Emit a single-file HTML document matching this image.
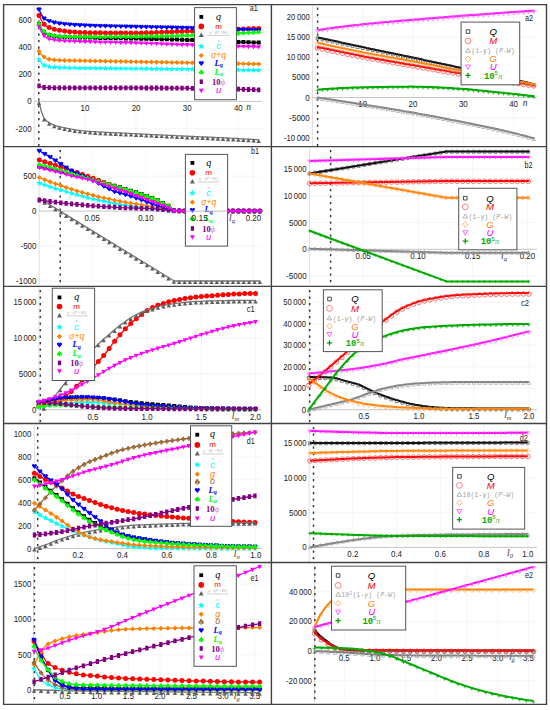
<!DOCTYPE html>
<html><head><meta charset="utf-8"><title>figure</title>
<style>
html,body{margin:0;padding:0;background:#fff;}
body{width:550px;height:710px;overflow:hidden;}
svg{display:block;}
.t{font-family:"Liberation Sans", sans-serif;font-size:8.6px;fill:#222;}
.li{font-family:"Liberation Serif", serif;font-style:italic;text-anchor:middle;}
.ls{font-family:"Liberation Sans", sans-serif;font-style:italic;text-anchor:middle;font-size:9.6px;}
</style></head><body>
<svg width="550" height="710" viewBox="0 0 550 710">
<rect width="550" height="710" fill="#fff"/>
<path d="M34.3 19.8H262M34.3 47H262M34.3 74.2H262M34.3 128.6H262M85 5.5V146M136.1 5.5V146M187.2 5.5V146M238.3 5.5V146" stroke="#f2f2f2" stroke-width="0.8" fill="none"/>
<path d="M34.3 5.5V146" stroke="#d8d8d8" stroke-width="0.8" fill="none"/>
<path d="M34.3 101.4H262" stroke="#c0c0c0" stroke-width="0.9" fill="none"/>
<path d="M38.8 7.5V146" stroke="#3a3a3a" stroke-width="1.5" stroke-dasharray="2.3 4.2" fill="none"/>
<text x="31.6" y="22.8" text-anchor="end" class="t" textLength="13.2" lengthAdjust="spacingAndGlyphs">600</text>
<text x="31.6" y="50" text-anchor="end" class="t" textLength="13.2" lengthAdjust="spacingAndGlyphs">400</text>
<text x="31.6" y="77.2" text-anchor="end" class="t" textLength="13.2" lengthAdjust="spacingAndGlyphs">200</text>
<text x="31.6" y="104.4" text-anchor="end" class="t" textLength="4.4" lengthAdjust="spacingAndGlyphs">0</text>
<text x="31.6" y="131.6" text-anchor="end" class="t" textLength="16.0" lengthAdjust="spacingAndGlyphs">-200</text>
<text x="85" y="111" text-anchor="middle" class="t" textLength="8.8" lengthAdjust="spacingAndGlyphs">10</text>
<text x="136.1" y="111" text-anchor="middle" class="t" textLength="8.8" lengthAdjust="spacingAndGlyphs">20</text>
<text x="187.2" y="111" text-anchor="middle" class="t" textLength="8.8" lengthAdjust="spacingAndGlyphs">30</text>
<text x="238.3" y="111" text-anchor="middle" class="t" textLength="8.8" lengthAdjust="spacingAndGlyphs">40</text>
<text x="248.7" y="110.4" text-anchor="middle" fill="#333" font-size="9.5" font-family='"Liberation Serif", serif' font-style="italic">n</text>
<path d="M38.9 23.9L41.4 28.7L43.9 32L46.3 33.9L48.8 35L51.3 35.7L53.8 36.2L56.2 36.6L58.7 36.8L61.2 36.9L63.7 37L66.2 37.1L68.6 37.2L71.1 37.2L73.6 37.3L76.1 37.3L78.5 37.4L81 37.4L83.5 37.5L86 37.5L88.4 37.6L90.9 37.6L93.4 37.7L95.9 37.8L98.4 37.8L100.8 37.9L103.3 37.9L105.8 38L108.3 38L110.7 38.1L113.2 38.1L115.7 38.2L118.2 38.2L120.6 38.3L123.1 38.3L125.6 38.4L128.1 38.4L130.6 38.5L133 38.5L135.5 38.6L138 38.7L140.5 38.7L142.9 38.8L145.4 38.8L147.9 38.9L150.4 38.9L152.8 39L155.3 39L157.8 39.1L160.3 39.2L162.8 39.2L165.2 39.3L167.7 39.3L170.2 39.4L172.7 39.5L175.1 39.5L177.6 39.6L180.1 39.7L182.6 39.7L185 39.8L187.5 39.9L190 40L192.5 40.1L195 40.2L197.4 40.3L199.9 40.4L202.4 40.5L204.9 40.6L207.3 40.7L209.8 40.8L212.3 40.9L214.8 41L217.2 41.1L219.7 41.2L222.2 41.4L224.7 41.5L227.2 41.6L229.6 41.7L232.1 41.8L234.6 41.8L237.1 41.9L239.5 42L242 42.1L244.5 42.2L247 42.3L249.4 42.3L251.9 42.4L254.4 42.5L256.9 42.6L259.3 42.6" stroke="#000000" stroke-width="1.3" fill="none" stroke-linejoin="round"/>
<path d="M37 22.1h4v4h-4zM42.1 30.2h4v4h-4zM47.2 33.1h4v4h-4zM52.3 34.3h4v4h-4zM57.5 34.8h4v4h-4zM62.6 35h4v4h-4zM67.7 35.2h4v4h-4zM72.8 35.3h4v4h-4zM77.9 35.4h4v4h-4zM83 35.5h4v4h-4zM88.1 35.6h4v4h-4zM93.2 35.7h4v4h-4zM98.3 35.9h4v4h-4zM103.4 36h4v4h-4zM108.6 36.1h4v4h-4zM113.7 36.2h4v4h-4zM118.8 36.3h4v4h-4zM123.9 36.4h4v4h-4zM129 36.5h4v4h-4zM134.1 36.6h4v4h-4zM139.2 36.7h4v4h-4zM144.3 36.8h4v4h-4zM149.4 37h4v4h-4zM154.5 37.1h4v4h-4zM159.7 37.2h4v4h-4zM164.8 37.3h4v4h-4zM169.9 37.4h4v4h-4zM175 37.6h4v4h-4zM180.1 37.7h4v4h-4zM185.2 37.9h4v4h-4zM190.3 38.1h4v4h-4zM195.4 38.3h4v4h-4zM200.5 38.5h4v4h-4zM205.6 38.7h4v4h-4zM210.8 38.9h4v4h-4zM215.9 39.2h4v4h-4zM221 39.4h4v4h-4zM226.1 39.6h4v4h-4zM231.2 39.8h4v4h-4zM236.3 40h4v4h-4zM241.4 40.1h4v4h-4zM246.5 40.3h4v4h-4zM251.6 40.5h4v4h-4zM256.7 40.6h4v4h-4z" fill="#000000" opacity="1.0"/>
<path d="M38.9 15.3L41.4 20.5L43.9 24.1L46.3 26.1L48.8 27.4L51.3 28.3L53.8 29.1L56.2 29.8L58.7 30.2L61.2 30.6L63.7 30.9L66.2 31.3L68.6 31.6L71.1 31.8L73.6 32L76.1 32.2L78.5 32.4L81 32.5L83.5 32.6L86 32.6L88.4 32.7L90.9 32.7L93.4 32.7L95.9 32.8L98.4 32.8L100.8 32.8L103.3 32.8L105.8 32.9L108.3 32.9L110.7 32.9L113.2 32.9L115.7 32.9L118.2 33L120.6 33L123.1 33L125.6 33L128.1 33L130.6 33L133 33L135.5 33L138 33L140.5 32.9L142.9 32.9L145.4 32.9L147.9 32.8L150.4 32.7L152.8 32.6L155.3 32.5L157.8 32.5L160.3 32.4L162.8 32.3L165.2 32.1L167.7 32L170.2 31.9L172.7 31.8L175.1 31.7L177.6 31.6L180.1 31.5L182.6 31.4L185 31.3L187.5 31.2L190 31.1L192.5 31L195 30.9L197.4 30.8L199.9 30.7L202.4 30.6L204.9 30.5L207.3 30.4L209.8 30.3L212.3 30.2L214.8 30.1L217.2 30L219.7 29.9L222.2 29.8L224.7 29.7L227.2 29.6L229.6 29.5L232.1 29.4L234.6 29.3L237.1 29.2L239.5 29.1L242 29L244.5 28.9L247 28.8L249.4 28.7L251.9 28.6L254.4 28.6L256.9 28.5L259.3 28.4" stroke="#ff0000" stroke-width="1.3" fill="none" stroke-linejoin="round"/>
<path d="M36.5 15.5a2.5 2.5 0 1 0 5 0a2.5 2.5 0 1 0 -5 0zM41.6 24.3a2.5 2.5 0 1 0 5 0a2.5 2.5 0 1 0 -5 0zM46.7 27.5a2.5 2.5 0 1 0 5 0a2.5 2.5 0 1 0 -5 0zM51.8 29.3a2.5 2.5 0 1 0 5 0a2.5 2.5 0 1 0 -5 0zM57 30.3a2.5 2.5 0 1 0 5 0a2.5 2.5 0 1 0 -5 0zM62.1 31.1a2.5 2.5 0 1 0 5 0a2.5 2.5 0 1 0 -5 0zM67.2 31.7a2.5 2.5 0 1 0 5 0a2.5 2.5 0 1 0 -5 0zM72.3 32.1a2.5 2.5 0 1 0 5 0a2.5 2.5 0 1 0 -5 0zM77.4 32.5a2.5 2.5 0 1 0 5 0a2.5 2.5 0 1 0 -5 0zM82.5 32.6a2.5 2.5 0 1 0 5 0a2.5 2.5 0 1 0 -5 0zM87.6 32.7a2.5 2.5 0 1 0 5 0a2.5 2.5 0 1 0 -5 0zM92.7 32.7a2.5 2.5 0 1 0 5 0a2.5 2.5 0 1 0 -5 0zM97.8 32.8a2.5 2.5 0 1 0 5 0a2.5 2.5 0 1 0 -5 0zM102.9 32.9a2.5 2.5 0 1 0 5 0a2.5 2.5 0 1 0 -5 0zM108.1 32.9a2.5 2.5 0 1 0 5 0a2.5 2.5 0 1 0 -5 0zM113.2 32.9a2.5 2.5 0 1 0 5 0a2.5 2.5 0 1 0 -5 0zM118.3 33a2.5 2.5 0 1 0 5 0a2.5 2.5 0 1 0 -5 0zM123.4 33a2.5 2.5 0 1 0 5 0a2.5 2.5 0 1 0 -5 0zM128.5 33a2.5 2.5 0 1 0 5 0a2.5 2.5 0 1 0 -5 0zM133.6 33a2.5 2.5 0 1 0 5 0a2.5 2.5 0 1 0 -5 0zM138.7 32.9a2.5 2.5 0 1 0 5 0a2.5 2.5 0 1 0 -5 0zM143.8 32.8a2.5 2.5 0 1 0 5 0a2.5 2.5 0 1 0 -5 0zM148.9 32.7a2.5 2.5 0 1 0 5 0a2.5 2.5 0 1 0 -5 0zM154 32.5a2.5 2.5 0 1 0 5 0a2.5 2.5 0 1 0 -5 0zM159.2 32.3a2.5 2.5 0 1 0 5 0a2.5 2.5 0 1 0 -5 0zM164.3 32.1a2.5 2.5 0 1 0 5 0a2.5 2.5 0 1 0 -5 0zM169.4 31.9a2.5 2.5 0 1 0 5 0a2.5 2.5 0 1 0 -5 0zM174.5 31.6a2.5 2.5 0 1 0 5 0a2.5 2.5 0 1 0 -5 0zM179.6 31.4a2.5 2.5 0 1 0 5 0a2.5 2.5 0 1 0 -5 0zM184.7 31.2a2.5 2.5 0 1 0 5 0a2.5 2.5 0 1 0 -5 0zM189.8 31.1a2.5 2.5 0 1 0 5 0a2.5 2.5 0 1 0 -5 0zM194.9 30.9a2.5 2.5 0 1 0 5 0a2.5 2.5 0 1 0 -5 0zM200 30.6a2.5 2.5 0 1 0 5 0a2.5 2.5 0 1 0 -5 0zM205.1 30.4a2.5 2.5 0 1 0 5 0a2.5 2.5 0 1 0 -5 0zM210.3 30.2a2.5 2.5 0 1 0 5 0a2.5 2.5 0 1 0 -5 0zM215.4 30a2.5 2.5 0 1 0 5 0a2.5 2.5 0 1 0 -5 0zM220.5 29.8a2.5 2.5 0 1 0 5 0a2.5 2.5 0 1 0 -5 0zM225.6 29.6a2.5 2.5 0 1 0 5 0a2.5 2.5 0 1 0 -5 0zM230.7 29.4a2.5 2.5 0 1 0 5 0a2.5 2.5 0 1 0 -5 0zM235.8 29.2a2.5 2.5 0 1 0 5 0a2.5 2.5 0 1 0 -5 0zM240.9 29a2.5 2.5 0 1 0 5 0a2.5 2.5 0 1 0 -5 0zM246 28.8a2.5 2.5 0 1 0 5 0a2.5 2.5 0 1 0 -5 0zM251.1 28.6a2.5 2.5 0 1 0 5 0a2.5 2.5 0 1 0 -5 0zM256.2 28.4a2.5 2.5 0 1 0 5 0a2.5 2.5 0 1 0 -5 0z" fill="#ff0000" opacity="1.0"/>
<path d="M38.9 101.4L41.4 111.5L43.9 117.9L46.3 120.7L48.8 122.4L51.3 123.8L53.8 124.9L56.2 125.8L58.7 126.5L61.2 127.1L63.7 127.7L66.2 128.2L68.6 128.7L71.1 129.2L73.6 129.6L76.1 130L78.5 130.3L81 130.6L83.5 130.9L86 131.1L88.4 131.3L90.9 131.5L93.4 131.6L95.9 131.8L98.4 131.9L100.8 132.1L103.3 132.2L105.8 132.3L108.3 132.5L110.7 132.6L113.2 132.7L115.7 132.8L118.2 132.9L120.6 133L123.1 133.1L125.6 133.2L128.1 133.3L130.6 133.5L133 133.6L135.5 133.7L138 133.8L140.5 134L142.9 134.1L145.4 134.2L147.9 134.3L150.4 134.5L152.8 134.6L155.3 134.7L157.8 134.8L160.3 134.9L162.8 135.1L165.2 135.2L167.7 135.3L170.2 135.4L172.7 135.5L175.1 135.6L177.6 135.8L180.1 135.9L182.6 136L185 136.1L187.5 136.2L190 136.4L192.5 136.5L195 136.6L197.4 136.7L199.9 136.8L202.4 136.9L204.9 137L207.3 137.1L209.8 137.2L212.3 137.4L214.8 137.5L217.2 137.6L219.7 137.7L222.2 137.8L224.7 137.9L227.2 138L229.6 138.2L232.1 138.3L234.6 138.4L237.1 138.5L239.5 138.7L242 138.8L244.5 138.9L247 139.1L249.4 139.2L251.9 139.3L254.4 139.5L256.9 139.6L259.3 139.8" stroke="#747474" stroke-width="1.3" fill="none" stroke-linejoin="round"/>
<path d="M39 101L41.2 105L36.8 105zM44.1 117.4L46.3 121.4L41.9 121.4zM49.2 121.8L51.4 125.8L47 125.8zM54.3 124.3L56.5 128.2L52.1 128.2zM59.5 125.9L61.7 129.8L57.2 129.8zM64.6 127.1L66.8 131L62.4 131zM69.7 128.1L71.9 132.1L67.5 132.1zM74.8 129L77 132.9L72.6 132.9zM79.9 129.7L82.1 133.6L77.7 133.6zM85 130.2L87.2 134.1L82.8 134.1zM90.1 130.6L92.3 134.5L87.9 134.5zM95.2 130.9L97.4 134.9L93 134.9zM100.3 131.2L102.5 135.2L98.1 135.2zM105.4 131.5L107.6 135.5L103.2 135.5zM110.6 131.7L112.8 135.7L108.4 135.7zM115.7 132L117.9 135.9L113.5 135.9zM120.8 132.2L123 136.2L118.6 136.2zM125.9 132.4L128.1 136.4L123.7 136.4zM131 132.7L133.2 136.6L128.8 136.6zM136.1 132.9L138.3 136.9L133.9 136.9zM141.2 133.2L143.4 137.1L139 137.1zM146.3 133.4L148.5 137.4L144.1 137.4zM151.4 133.7L153.6 137.6L149.2 137.6zM156.5 133.9L158.7 137.9L154.3 137.9zM161.7 134.2L163.8 138.1L159.5 138.1zM166.8 134.4L169 138.4L164.6 138.4zM171.9 134.7L174.1 138.6L169.7 138.6zM177 134.9L179.2 138.9L174.8 138.9zM182.1 135.2L184.3 139.1L179.9 139.1zM187.2 135.4L189.4 139.4L185 139.4zM192.3 135.6L194.5 139.6L190.1 139.6zM197.4 135.9L199.6 139.8L195.2 139.8zM202.5 136.1L204.7 140.1L200.3 140.1zM207.6 136.3L209.8 140.3L205.4 140.3zM212.8 136.6L215 140.5L210.6 140.5zM217.9 136.8L220.1 140.7L215.7 140.7zM223 137L225.2 141L220.8 141zM228.1 137.3L230.3 141.2L225.9 141.2zM233.2 137.5L235.4 141.5L231 141.5zM238.3 137.8L240.5 141.7L236.1 141.7zM243.4 138L245.6 142L241.2 142zM248.5 138.3L250.7 142.3L246.3 142.3zM253.6 138.6L255.8 142.6L251.4 142.6zM258.7 138.9L260.9 142.9L256.5 142.9z" fill="#5e5e5e" opacity="1.0"/>
<path d="M38.9 59.2L41.4 63L43.9 65.3L46.3 66.2L48.8 66.7L51.3 67L53.8 67.2L56.2 67.4L58.7 67.5L61.2 67.6L63.7 67.7L66.2 67.8L68.6 67.8L71.1 67.9L73.6 67.9L76.1 68L78.5 68L81 68L83.5 68.1L86 68.1L88.4 68.1L90.9 68.2L93.4 68.2L95.9 68.2L98.4 68.3L100.8 68.3L103.3 68.3L105.8 68.4L108.3 68.4L110.7 68.4L113.2 68.5L115.7 68.5L118.2 68.5L120.6 68.5L123.1 68.6L125.6 68.6L128.1 68.6L130.6 68.6L133 68.7L135.5 68.7L138 68.7L140.5 68.7L142.9 68.7L145.4 68.8L147.9 68.8L150.4 68.8L152.8 68.8L155.3 68.9L157.8 68.9L160.3 68.9L162.8 68.9L165.2 69L167.7 69L170.2 69L172.7 69L175.1 69.1L177.6 69.1L180.1 69.1L182.6 69.1L185 69.2L187.5 69.2L190 69.2L192.5 69.3L195 69.3L197.4 69.3L199.9 69.4L202.4 69.4L204.9 69.4L207.3 69.5L209.8 69.5L212.3 69.5L214.8 69.6L217.2 69.6L219.7 69.6L222.2 69.7L224.7 69.7L227.2 69.8L229.6 69.8L232.1 69.8L234.6 69.9L237.1 69.9L239.5 69.9L242 70L244.5 70L247 70.1L249.4 70.1L251.9 70.1L254.4 70.2L256.9 70.2L259.3 70.3" stroke="#00ffff" stroke-width="1.3" fill="none" stroke-linejoin="round"/>
<path d="M39 56.3L39.8 58.3L42 58.4L40.3 59.8L40.8 61.9L39 60.8L37.2 61.9L37.7 59.8L36 58.4L38.2 58.3zM44.1 62.3L44.9 64.3L47.1 64.5L45.5 65.9L46 68L44.1 66.9L42.3 68L42.8 65.9L41.1 64.5L43.3 64.3zM49.2 63.6L50.1 65.6L52.2 65.8L50.6 67.2L51.1 69.3L49.2 68.2L47.4 69.3L47.9 67.2L46.3 65.8L48.4 65.6zM54.3 64.2L55.2 66.1L57.3 66.3L55.7 67.7L56.2 69.8L54.3 68.7L52.5 69.8L53 67.7L51.4 66.3L53.5 66.1zM59.5 64.4L60.3 66.4L62.4 66.6L60.8 68L61.3 70.1L59.5 69L57.6 70.1L58.1 68L56.5 66.6L58.6 66.4zM64.6 64.6L65.4 66.6L67.5 66.8L65.9 68.2L66.4 70.2L64.6 69.1L62.7 70.2L63.2 68.2L61.6 66.8L63.7 66.6zM69.7 64.7L70.5 66.7L72.6 66.9L71 68.3L71.5 70.4L69.7 69.2L67.8 70.4L68.3 68.3L66.7 66.9L68.8 66.7zM74.8 64.8L75.6 66.8L77.8 67L76.1 68.4L76.6 70.5L74.8 69.3L72.9 70.5L73.4 68.4L71.8 67L74 66.8zM79.9 64.9L80.7 66.9L82.9 67.1L81.2 68.5L81.7 70.5L79.9 69.4L78.1 70.5L78.6 68.5L76.9 67.1L79.1 66.9zM85 65L85.8 67L88 67.1L86.3 68.5L86.8 70.6L85 69.5L83.2 70.6L83.7 68.5L82 67.1L84.2 67zM90.1 65L90.9 67L93.1 67.2L91.4 68.6L91.9 70.7L90.1 69.6L88.3 70.7L88.8 68.6L87.1 67.2L89.3 67zM95.2 65.1L96 67.1L98.2 67.3L96.6 68.7L97.1 70.8L95.2 69.6L93.4 70.8L93.9 68.7L92.2 67.3L94.4 67.1zM100.3 65.2L101.2 67.2L103.3 67.3L101.7 68.7L102.2 70.8L100.3 69.7L98.5 70.8L99 68.7L97.4 67.3L99.5 67.2zM105.4 65.2L106.3 67.2L108.4 67.4L106.8 68.8L107.3 70.9L105.4 69.8L103.6 70.9L104.1 68.8L102.5 67.4L104.6 67.2zM110.6 65.3L111.4 67.3L113.5 67.5L111.9 68.9L112.4 71L110.6 69.8L108.7 71L109.2 68.9L107.6 67.5L109.7 67.3zM115.7 65.4L116.5 67.3L118.6 67.5L117 68.9L117.5 71L115.7 69.9L113.8 71L114.3 68.9L112.7 67.5L114.8 67.3zM120.8 65.4L121.6 67.4L123.7 67.6L122.1 69L122.6 71.1L120.8 69.9L118.9 71.1L119.4 69L117.8 67.6L119.9 67.4zM125.9 65.5L126.7 67.4L128.9 67.6L127.2 69L127.7 71.1L125.9 70L124 71.1L124.5 69L122.9 67.6L125.1 67.4zM131 65.5L131.8 67.5L134 67.7L132.3 69.1L132.8 71.2L131 70L129.2 71.2L129.7 69.1L128 67.7L130.2 67.5zM136.1 65.6L136.9 67.5L139.1 67.7L137.4 69.1L137.9 71.2L136.1 70.1L134.3 71.2L134.8 69.1L133.1 67.7L135.3 67.5zM141.2 65.6L142 67.6L144.2 67.8L142.5 69.2L143 71.3L141.2 70.1L139.4 71.3L139.9 69.2L138.2 67.8L140.4 67.6zM146.3 65.6L147.1 67.6L149.3 67.8L147.7 69.2L148.2 71.3L146.3 70.2L144.5 71.3L145 69.2L143.3 67.8L145.5 67.6zM151.4 65.7L152.3 67.7L154.4 67.9L152.8 69.3L153.3 71.3L151.4 70.2L149.6 71.3L150.1 69.3L148.5 67.9L150.6 67.7zM156.5 65.7L157.4 67.7L159.5 67.9L157.9 69.3L158.4 71.4L156.5 70.3L154.7 71.4L155.2 69.3L153.6 67.9L155.7 67.7zM161.7 65.8L162.5 67.8L164.6 68L163 69.4L163.5 71.4L161.7 70.3L159.8 71.4L160.3 69.4L158.7 68L160.8 67.8zM166.8 65.8L167.6 67.8L169.7 68L168.1 69.4L168.6 71.5L166.8 70.4L164.9 71.5L165.4 69.4L163.8 68L165.9 67.8zM171.9 65.9L172.7 67.9L174.8 68.1L173.2 69.5L173.7 71.6L171.9 70.4L170 71.6L170.5 69.5L168.9 68.1L171 67.9zM177 66L177.8 67.9L180 68.1L178.3 69.5L178.8 71.6L177 70.5L175.1 71.6L175.6 69.5L174 68.1L176.2 67.9zM182.1 66L182.9 68L185.1 68.2L183.4 69.6L183.9 71.7L182.1 70.5L180.3 71.7L180.8 69.6L179.1 68.2L181.3 68zM187.2 66.1L188 68.1L190.2 68.2L188.5 69.6L189 71.7L187.2 70.6L185.4 71.7L185.9 69.6L184.2 68.2L186.4 68.1zM192.3 66.1L193.1 68.1L195.3 68.3L193.6 69.7L194.1 71.8L192.3 70.7L190.5 71.8L191 69.7L189.3 68.3L191.5 68.1zM197.4 66.2L198.2 68.2L200.4 68.4L198.8 69.8L199.3 71.9L197.4 70.7L195.6 71.9L196.1 69.8L194.4 68.4L196.6 68.2zM202.5 66.3L203.4 68.3L205.5 68.4L203.9 69.8L204.4 71.9L202.5 70.8L200.7 71.9L201.2 69.8L199.6 68.4L201.7 68.3zM207.6 66.4L208.5 68.3L210.6 68.5L209 69.9L209.5 72L207.6 70.9L205.8 72L206.3 69.9L204.7 68.5L206.8 68.3zM212.8 66.4L213.6 68.4L215.7 68.6L214.1 70L214.6 72.1L212.8 71L210.9 72.1L211.4 70L209.8 68.6L211.9 68.4zM217.9 66.5L218.7 68.5L220.8 68.7L219.2 70.1L219.7 72.2L217.9 71L216 72.2L216.5 70.1L214.9 68.7L217 68.5zM223 66.6L223.8 68.6L225.9 68.7L224.3 70.1L224.8 72.2L223 71.1L221.1 72.2L221.6 70.1L220 68.7L222.1 68.6zM228.1 66.6L228.9 68.6L231.1 68.8L229.4 70.2L229.9 72.3L228.1 71.2L226.2 72.3L226.7 70.2L225.1 68.8L227.3 68.6zM233.2 66.7L234 68.7L236.2 68.9L234.5 70.3L235 72.4L233.2 71.3L231.4 72.4L231.9 70.3L230.2 68.9L232.4 68.7zM238.3 66.8L239.1 68.8L241.3 69L239.6 70.4L240.1 72.5L238.3 71.3L236.5 72.5L237 70.4L235.3 69L237.5 68.8zM243.4 66.9L244.2 68.9L246.4 69L244.7 70.4L245.2 72.5L243.4 71.4L241.6 72.5L242.1 70.4L240.4 69L242.6 68.9zM248.5 67L249.3 68.9L251.5 69.1L249.9 70.5L250.4 72.6L248.5 71.5L246.7 72.6L247.2 70.5L245.5 69.1L247.7 68.9zM253.6 67L254.5 69L256.6 69.2L255 70.6L255.5 72.7L253.6 71.6L251.8 72.7L252.3 70.6L250.7 69.2L252.8 69zM258.7 67.1L259.6 69.1L261.7 69.3L260.1 70.7L260.6 72.8L258.7 71.7L256.9 72.8L257.4 70.7L255.8 69.3L257.9 69.1z" fill="#00ffff" opacity="1.0"/>
<path d="M38.9 51.1L41.4 54.5L43.9 56.9L46.3 58.3L48.8 59.1L51.3 59.5L53.8 59.8L56.2 60L58.7 60.2L61.2 60.3L63.7 60.4L66.2 60.4L68.6 60.5L71.1 60.5L73.6 60.6L76.1 60.6L78.5 60.6L81 60.7L83.5 60.7L86 60.8L88.4 60.8L90.9 60.9L93.4 60.9L95.9 61L98.4 61L100.8 61.1L103.3 61.1L105.8 61.2L108.3 61.2L110.7 61.3L113.2 61.3L115.7 61.4L118.2 61.4L120.6 61.5L123.1 61.5L125.6 61.6L128.1 61.6L130.6 61.6L133 61.7L135.5 61.7L138 61.8L140.5 61.8L142.9 61.9L145.4 61.9L147.9 62L150.4 62L152.8 62.1L155.3 62.1L157.8 62.2L160.3 62.2L162.8 62.2L165.2 62.3L167.7 62.3L170.2 62.4L172.7 62.4L175.1 62.5L177.6 62.5L180.1 62.6L182.6 62.6L185 62.7L187.5 62.7L190 62.7L192.5 62.8L195 62.8L197.4 62.9L199.9 62.9L202.4 63L204.9 63L207.3 63.1L209.8 63.1L212.3 63.2L214.8 63.2L217.2 63.2L219.7 63.3L222.2 63.3L224.7 63.4L227.2 63.4L229.6 63.5L232.1 63.5L234.6 63.6L237.1 63.6L239.5 63.6L242 63.7L244.5 63.7L247 63.8L249.4 63.8L251.9 63.9L254.4 63.9L256.9 64L259.3 64" stroke="#ff8000" stroke-width="1.3" fill="none" stroke-linejoin="round"/>
<path d="M39 48.7L41.5 51.2L39 53.8L36.5 51.2zM44.1 54.5L46.6 57.1L44.1 59.6L41.6 57.1zM49.2 56.6L51.8 59.2L49.2 61.7L46.7 59.2zM54.3 57.3L56.9 59.9L54.3 62.4L51.8 59.9zM59.5 57.7L62 60.2L59.5 62.7L56.9 60.2zM64.6 57.8L67.1 60.4L64.6 62.9L62 60.4zM69.7 58L72.2 60.5L69.7 63L67.1 60.5zM74.8 58L77.3 60.6L74.8 63.1L72.2 60.6zM79.9 58.1L82.4 60.7L79.9 63.2L77.4 60.7zM85 58.2L87.5 60.8L85 63.3L82.5 60.8zM90.1 58.3L92.6 60.9L90.1 63.4L87.6 60.9zM95.2 58.4L97.8 61L95.2 63.5L92.7 61zM100.3 58.5L102.9 61.1L100.3 63.6L97.8 61.1zM105.4 58.6L108 61.2L105.4 63.7L102.9 61.2zM110.6 58.7L113.1 61.3L110.6 63.8L108 61.3zM115.7 58.8L118.2 61.4L115.7 63.9L113.1 61.4zM120.8 58.9L123.3 61.5L120.8 64L118.2 61.5zM125.9 59L128.4 61.6L125.9 64.1L123.3 61.6zM131 59.1L133.5 61.7L131 64.2L128.5 61.7zM136.1 59.2L138.6 61.8L136.1 64.3L133.6 61.8zM141.2 59.3L143.7 61.8L141.2 64.4L138.7 61.8zM146.3 59.4L148.8 61.9L146.3 64.5L143.8 61.9zM151.4 59.5L154 62L151.4 64.6L148.9 62zM156.5 59.6L159.1 62.1L156.5 64.7L154 62.1zM161.7 59.7L164.2 62.2L161.7 64.8L159.1 62.2zM166.8 59.8L169.3 62.3L166.8 64.8L164.2 62.3zM171.9 59.9L174.4 62.4L171.9 64.9L169.3 62.4zM177 60L179.5 62.5L177 65L174.5 62.5zM182.1 60.1L184.6 62.6L182.1 65.1L179.6 62.6zM187.2 60.2L189.7 62.7L187.2 65.2L184.7 62.7zM192.3 60.3L194.8 62.8L192.3 65.3L189.8 62.8zM197.4 60.4L200 62.9L197.4 65.4L194.9 62.9zM202.5 60.4L205.1 63L202.5 65.5L200 63zM207.6 60.5L210.2 63.1L207.6 65.6L205.1 63.1zM212.8 60.6L215.3 63.2L212.8 65.7L210.2 63.2zM217.9 60.7L220.4 63.3L217.9 65.8L215.3 63.3zM223 60.8L225.5 63.3L223 65.9L220.4 63.3zM228.1 60.9L230.6 63.4L228.1 66L225.6 63.4zM233.2 61L235.7 63.5L233.2 66.1L230.7 63.5zM238.3 61.1L240.8 63.6L238.3 66.2L235.8 63.6zM243.4 61.2L245.9 63.7L243.4 66.2L240.9 63.7zM248.5 61.3L251.1 63.8L248.5 66.3L246 63.8zM253.6 61.4L256.2 63.9L253.6 66.4L251.1 63.9zM258.7 61.5L261.3 64L258.7 66.5L256.2 64z" fill="#ff8000" opacity="1.0"/>
<path d="M38.9 9.2L41.4 14.6L43.9 18.1L46.3 19.8L48.8 20.8L51.3 21.6L53.8 22.3L56.2 22.8L58.7 23.2L61.2 23.5L63.7 23.8L66.2 24L68.6 24.3L71.1 24.5L73.6 24.6L76.1 24.8L78.5 25L81 25.1L83.5 25.2L86 25.3L88.4 25.4L90.9 25.5L93.4 25.6L95.9 25.7L98.4 25.8L100.8 25.8L103.3 25.9L105.8 26L108.3 26L110.7 26.1L113.2 26.1L115.7 26.2L118.2 26.2L120.6 26.3L123.1 26.4L125.6 26.4L128.1 26.5L130.6 26.5L133 26.6L135.5 26.6L138 26.7L140.5 26.7L142.9 26.8L145.4 26.9L147.9 26.9L150.4 27L152.8 27L155.3 27.1L157.8 27.1L160.3 27.2L162.8 27.2L165.2 27.3L167.7 27.3L170.2 27.4L172.7 27.4L175.1 27.5L177.6 27.5L180.1 27.6L182.6 27.6L185 27.7L187.5 27.8L190 27.8L192.5 27.9L195 28L197.4 28.1L199.9 28.2L202.4 28.2L204.9 28.3L207.3 28.4L209.8 28.5L212.3 28.6L214.8 28.7L217.2 28.8L219.7 28.8L222.2 28.9L224.7 29L227.2 29.1L229.6 29.2L232.1 29.3L234.6 29.3L237.1 29.4L239.5 29.5L242 29.5L244.5 29.6L247 29.7L249.4 29.7L251.9 29.8L254.4 29.9L256.9 29.9L259.3 30" stroke="#0000ff" stroke-width="1.3" fill="none" stroke-linejoin="round"/>
<path d="M39 12.1L36.6 9.2A1.2 1.2 0 0 1 39 8.2A1.2 1.2 0 0 1 41.4 9.2zM44.1 21L41.7 18.1A1.2 1.2 0 0 1 44.1 17.1A1.2 1.2 0 0 1 46.5 18.1zM49.2 23.6L46.8 20.7A1.2 1.2 0 0 1 49.2 19.8A1.2 1.2 0 0 1 51.6 20.7zM54.3 25L51.9 22.2A1.2 1.2 0 0 1 54.3 21.2A1.2 1.2 0 0 1 56.7 22.2zM59.5 25.9L57.1 23A1.2 1.2 0 0 1 59.5 22.1A1.2 1.2 0 0 1 61.9 23zM64.6 26.5L62.2 23.6A1.2 1.2 0 0 1 64.6 22.7A1.2 1.2 0 0 1 67 23.6zM69.7 27L67.3 24.1A1.2 1.2 0 0 1 69.7 23.1A1.2 1.2 0 0 1 72.1 24.1zM74.8 27.4L72.4 24.5A1.2 1.2 0 0 1 74.8 23.5A1.2 1.2 0 0 1 77.2 24.5zM79.9 27.7L77.5 24.8A1.2 1.2 0 0 1 79.9 23.8A1.2 1.2 0 0 1 82.3 24.8zM85 27.9L82.6 25A1.2 1.2 0 0 1 85 24.1A1.2 1.2 0 0 1 87.4 25zM90.1 28.1L87.7 25.2A1.2 1.2 0 0 1 90.1 24.3A1.2 1.2 0 0 1 92.5 25.2zM95.2 28.3L92.8 25.4A1.2 1.2 0 0 1 95.2 24.5A1.2 1.2 0 0 1 97.6 25.4zM100.3 28.5L97.9 25.6A1.2 1.2 0 0 1 100.3 24.6A1.2 1.2 0 0 1 102.7 25.6zM105.4 28.6L103 25.7A1.2 1.2 0 0 1 105.4 24.7A1.2 1.2 0 0 1 107.8 25.7zM110.6 28.7L108.2 25.8A1.2 1.2 0 0 1 110.6 24.9A1.2 1.2 0 0 1 113 25.8zM115.7 28.8L113.3 26A1.2 1.2 0 0 1 115.7 25A1.2 1.2 0 0 1 118.1 26zM120.8 28.9L118.4 26.1A1.2 1.2 0 0 1 120.8 25.1A1.2 1.2 0 0 1 123.2 26.1zM125.9 29.1L123.5 26.2A1.2 1.2 0 0 1 125.9 25.2A1.2 1.2 0 0 1 128.3 26.2zM131 29.2L128.6 26.3A1.2 1.2 0 0 1 131 25.3A1.2 1.2 0 0 1 133.4 26.3zM136.1 29.3L133.7 26.4A1.2 1.2 0 0 1 136.1 25.4A1.2 1.2 0 0 1 138.5 26.4zM141.2 29.4L138.8 26.5A1.2 1.2 0 0 1 141.2 25.6A1.2 1.2 0 0 1 143.6 26.5zM146.3 29.5L143.9 26.6A1.2 1.2 0 0 1 146.3 25.7A1.2 1.2 0 0 1 148.7 26.6zM151.4 29.6L149 26.7A1.2 1.2 0 0 1 151.4 25.8A1.2 1.2 0 0 1 153.8 26.7zM156.5 29.7L154.1 26.8A1.2 1.2 0 0 1 156.5 25.9A1.2 1.2 0 0 1 158.9 26.8zM161.7 29.8L159.2 26.9A1.2 1.2 0 0 1 161.7 26A1.2 1.2 0 0 1 164.1 26.9zM166.8 29.9L164.4 27A1.2 1.2 0 0 1 166.8 26.1A1.2 1.2 0 0 1 169.2 27zM171.9 30L169.5 27.2A1.2 1.2 0 0 1 171.9 26.2A1.2 1.2 0 0 1 174.3 27.2zM177 30.2L174.6 27.3A1.2 1.2 0 0 1 177 26.3A1.2 1.2 0 0 1 179.4 27.3zM182.1 30.3L179.7 27.4A1.2 1.2 0 0 1 182.1 26.4A1.2 1.2 0 0 1 184.5 27.4zM187.2 30.4L184.8 27.5A1.2 1.2 0 0 1 187.2 26.6A1.2 1.2 0 0 1 189.6 27.5zM192.3 30.6L189.9 27.7A1.2 1.2 0 0 1 192.3 26.7A1.2 1.2 0 0 1 194.7 27.7zM197.4 30.7L195 27.8A1.2 1.2 0 0 1 197.4 26.9A1.2 1.2 0 0 1 199.8 27.8zM202.5 30.9L200.1 28A1.2 1.2 0 0 1 202.5 27.1A1.2 1.2 0 0 1 204.9 28zM207.6 31.1L205.2 28.2A1.2 1.2 0 0 1 207.6 27.2A1.2 1.2 0 0 1 210 28.2zM212.8 31.2L210.4 28.4A1.2 1.2 0 0 1 212.8 27.4A1.2 1.2 0 0 1 215.2 28.4zM217.9 31.4L215.5 28.5A1.2 1.2 0 0 1 217.9 27.6A1.2 1.2 0 0 1 220.3 28.5zM223 31.6L220.6 28.7A1.2 1.2 0 0 1 223 27.8A1.2 1.2 0 0 1 225.4 28.7zM228.1 31.8L225.7 28.9A1.2 1.2 0 0 1 228.1 27.9A1.2 1.2 0 0 1 230.5 28.9zM233.2 31.9L230.8 29A1.2 1.2 0 0 1 233.2 28.1A1.2 1.2 0 0 1 235.6 29zM238.3 32.1L235.9 29.2A1.2 1.2 0 0 1 238.3 28.2A1.2 1.2 0 0 1 240.7 29.2zM243.4 32.2L241 29.3A1.2 1.2 0 0 1 243.4 28.4A1.2 1.2 0 0 1 245.8 29.3zM248.5 32.4L246.1 29.5A1.2 1.2 0 0 1 248.5 28.5A1.2 1.2 0 0 1 250.9 29.5zM253.6 32.5L251.2 29.6A1.2 1.2 0 0 1 253.6 28.7A1.2 1.2 0 0 1 256 29.6zM258.7 32.6L256.3 29.7A1.2 1.2 0 0 1 258.7 28.8A1.2 1.2 0 0 1 261.1 29.7z" fill="#0000ff" opacity="1.0"/>
<path d="M38.9 23.5L41.4 28.1L43.9 31.3L46.3 33.2L48.8 34.5L51.3 35.1L53.8 35.7L56.2 36L58.7 36.2L61.2 36.3L63.7 36.4L66.2 36.5L68.6 36.5L71.1 36.6L73.6 36.6L76.1 36.6L78.5 36.6L81 36.7L83.5 36.7L86 36.7L88.4 36.7L90.9 36.7L93.4 36.7L95.9 36.6L98.4 36.6L100.8 36.6L103.3 36.6L105.8 36.6L108.3 36.6L110.7 36.6L113.2 36.6L115.7 36.5L118.2 36.5L120.6 36.5L123.1 36.5L125.6 36.5L128.1 36.4L130.6 36.4L133 36.4L135.5 36.4L138 36.4L140.5 36.3L142.9 36.3L145.4 36.3L147.9 36.2L150.4 36.2L152.8 36.1L155.3 36.1L157.8 36.1L160.3 36L162.8 36L165.2 35.9L167.7 35.8L170.2 35.8L172.7 35.7L175.1 35.7L177.6 35.6L180.1 35.5L182.6 35.5L185 35.4L187.5 35.3L190 35.3L192.5 35.2L195 35.1L197.4 35L199.9 34.9L202.4 34.8L204.9 34.7L207.3 34.6L209.8 34.5L212.3 34.4L214.8 34.3L217.2 34.2L219.7 34.1L222.2 34L224.7 33.9L227.2 33.7L229.6 33.6L232.1 33.5L234.6 33.4L237.1 33.3L239.5 33.1L242 33L244.5 32.9L247 32.7L249.4 32.6L251.9 32.5L254.4 32.3L256.9 32.2L259.3 32" stroke="#00ff00" stroke-width="1.3" fill="none" stroke-linejoin="round"/>
<path d="M39 20.9L41.4 23.8A1.2 1.2 0 0 1 39.2 24.8L39.9 26.2L38.2 26.2L38.8 24.8A1.2 1.2 0 0 1 36.6 23.8zM44.1 28.8L46.5 31.7A1.2 1.2 0 0 1 44.4 32.6L45 34.1L43.3 34.1L43.9 32.6A1.2 1.2 0 0 1 41.7 31.7zM49.2 31.8L51.6 34.7A1.2 1.2 0 0 1 49.5 35.7L50.1 37.1L48.4 37.1L49 35.7A1.2 1.2 0 0 1 46.8 34.7zM54.3 33L56.7 35.9A1.2 1.2 0 0 1 54.6 36.8L55.2 38.3L53.5 38.3L54.1 36.8A1.2 1.2 0 0 1 51.9 35.9zM59.5 33.5L61.9 36.4A1.2 1.2 0 0 1 59.7 37.4L60.3 38.8L58.6 38.8L59.2 37.4A1.2 1.2 0 0 1 57.1 36.4zM64.6 33.7L67 36.5A1.2 1.2 0 0 1 64.8 37.5L65.4 38.9L63.7 38.9L64.3 37.5A1.2 1.2 0 0 1 62.2 36.5zM69.7 33.8L72.1 36.7A1.2 1.2 0 0 1 69.9 37.6L70.5 39.1L68.8 39.1L69.4 37.6A1.2 1.2 0 0 1 67.3 36.7zM74.8 33.9L77.2 36.7A1.2 1.2 0 0 1 75 37.7L75.6 39.1L73.9 39.1L74.5 37.7A1.2 1.2 0 0 1 72.4 36.7zM79.9 33.9L82.3 36.8A1.2 1.2 0 0 1 80.1 37.7L80.7 39.2L79 39.2L79.7 37.7A1.2 1.2 0 0 1 77.5 36.8zM85 33.9L87.4 36.8A1.2 1.2 0 0 1 85.2 37.7L85.8 39.2L84.2 39.2L84.8 37.7A1.2 1.2 0 0 1 82.6 36.8zM90.1 33.9L92.5 36.8A1.2 1.2 0 0 1 90.3 37.7L91 39.2L89.3 39.2L89.9 37.7A1.2 1.2 0 0 1 87.7 36.8zM95.2 33.9L97.6 36.8A1.2 1.2 0 0 1 95.5 37.7L96.1 39.2L94.4 39.2L95 37.7A1.2 1.2 0 0 1 92.8 36.8zM100.3 33.9L102.7 36.7A1.2 1.2 0 0 1 100.6 37.7L101.2 39.1L99.5 39.1L100.1 37.7A1.2 1.2 0 0 1 97.9 36.7zM105.4 33.8L107.8 36.7A1.2 1.2 0 0 1 105.7 37.7L106.3 39.1L104.6 39.1L105.2 37.7A1.2 1.2 0 0 1 103 36.7zM110.6 33.8L113 36.7A1.2 1.2 0 0 1 110.8 37.7L111.4 39.1L109.7 39.1L110.3 37.7A1.2 1.2 0 0 1 108.2 36.7zM115.7 33.8L118.1 36.7A1.2 1.2 0 0 1 115.9 37.6L116.5 39.1L114.8 39.1L115.4 37.6A1.2 1.2 0 0 1 113.3 36.7zM120.8 33.7L123.2 36.6A1.2 1.2 0 0 1 121 37.6L121.6 39L119.9 39L120.5 37.6A1.2 1.2 0 0 1 118.4 36.6zM125.9 33.7L128.3 36.6A1.2 1.2 0 0 1 126.1 37.5L126.7 39L125 39L125.6 37.5A1.2 1.2 0 0 1 123.5 36.6zM131 33.7L133.4 36.5A1.2 1.2 0 0 1 131.2 37.5L131.8 38.9L130.2 38.9L130.8 37.5A1.2 1.2 0 0 1 128.6 36.5zM136.1 33.6L138.5 36.5A1.2 1.2 0 0 1 136.3 37.5L136.9 38.9L135.3 38.9L135.9 37.5A1.2 1.2 0 0 1 133.7 36.5zM141.2 33.6L143.6 36.4A1.2 1.2 0 0 1 141.5 37.4L142.1 38.8L140.4 38.8L141 37.4A1.2 1.2 0 0 1 138.8 36.4zM146.3 33.5L148.7 36.4A1.2 1.2 0 0 1 146.6 37.3L147.2 38.8L145.5 38.8L146.1 37.3A1.2 1.2 0 0 1 143.9 36.4zM151.4 33.4L153.8 36.3A1.2 1.2 0 0 1 151.7 37.2L152.3 38.7L150.6 38.7L151.2 37.2A1.2 1.2 0 0 1 149 36.3zM156.5 33.3L158.9 36.2A1.2 1.2 0 0 1 156.8 37.2L157.4 38.6L155.7 38.6L156.3 37.2A1.2 1.2 0 0 1 154.1 36.2zM161.7 33.2L164.1 36.1A1.2 1.2 0 0 1 161.9 37.1L162.5 38.5L160.8 38.5L161.4 37.1A1.2 1.2 0 0 1 159.2 36.1zM166.8 33.1L169.2 36A1.2 1.2 0 0 1 167 36.9L167.6 38.4L165.9 38.4L166.5 36.9A1.2 1.2 0 0 1 164.4 36zM171.9 33L174.3 35.9A1.2 1.2 0 0 1 172.1 36.8L172.7 38.3L171 38.3L171.6 36.8A1.2 1.2 0 0 1 169.5 35.9zM177 32.9L179.4 35.7A1.2 1.2 0 0 1 177.2 36.7L177.8 38.1L176.1 38.1L176.7 36.7A1.2 1.2 0 0 1 174.6 35.7zM182.1 32.7L184.5 35.6A1.2 1.2 0 0 1 182.3 36.6L182.9 38L181.2 38L181.8 36.6A1.2 1.2 0 0 1 179.7 35.6zM187.2 32.6L189.6 35.5A1.2 1.2 0 0 1 187.4 36.4L188 37.9L186.4 37.9L187 36.4A1.2 1.2 0 0 1 184.8 35.5zM192.3 32.4L194.7 35.3A1.2 1.2 0 0 1 192.6 36.3L193.2 37.7L191.5 37.7L192.1 36.3A1.2 1.2 0 0 1 189.9 35.3zM197.4 32.3L199.8 35.1A1.2 1.2 0 0 1 197.7 36.1L198.3 37.5L196.6 37.5L197.2 36.1A1.2 1.2 0 0 1 195 35.1zM202.5 32.1L204.9 35A1.2 1.2 0 0 1 202.8 35.9L203.4 37.4L201.7 37.4L202.3 35.9A1.2 1.2 0 0 1 200.1 35zM207.6 31.9L210 34.7A1.2 1.2 0 0 1 207.9 35.7L208.5 37.1L206.8 37.1L207.4 35.7A1.2 1.2 0 0 1 205.2 34.7zM212.8 31.6L215.2 34.5A1.2 1.2 0 0 1 213 35.5L213.6 36.9L211.9 36.9L212.5 35.5A1.2 1.2 0 0 1 210.4 34.5zM217.9 31.4L220.3 34.3A1.2 1.2 0 0 1 218.1 35.3L218.7 36.7L217 36.7L217.6 35.3A1.2 1.2 0 0 1 215.5 34.3zM223 31.2L225.4 34.1A1.2 1.2 0 0 1 223.2 35L223.8 36.5L222.1 36.5L222.7 35A1.2 1.2 0 0 1 220.6 34.1zM228.1 30.9L230.5 33.8A1.2 1.2 0 0 1 228.3 34.8L228.9 36.2L227.2 36.2L227.8 34.8A1.2 1.2 0 0 1 225.7 33.8zM233.2 30.7L235.6 33.6A1.2 1.2 0 0 1 233.4 34.5L234 36L232.4 36L233 34.5A1.2 1.2 0 0 1 230.8 33.6zM238.3 30.4L240.7 33.3A1.2 1.2 0 0 1 238.5 34.3L239.1 35.7L237.5 35.7L238.1 34.3A1.2 1.2 0 0 1 235.9 33.3zM243.4 30.2L245.8 33.1A1.2 1.2 0 0 1 243.7 34L244.3 35.5L242.6 35.5L243.2 34A1.2 1.2 0 0 1 241 33.1zM248.5 29.9L250.9 32.8A1.2 1.2 0 0 1 248.8 33.7L249.4 35.2L247.7 35.2L248.3 33.7A1.2 1.2 0 0 1 246.1 32.8zM253.6 29.6L256 32.5A1.2 1.2 0 0 1 253.9 33.5L254.5 34.9L252.8 34.9L253.4 33.5A1.2 1.2 0 0 1 251.2 32.5zM258.7 29.3L261.1 32.2A1.2 1.2 0 0 1 259 33.2L259.6 34.6L257.9 34.6L258.5 33.2A1.2 1.2 0 0 1 256.3 32.2z" fill="#00ff00" opacity="1.0"/>
<path d="M38.9 85.8L41.4 86.9L43.9 87.5L46.3 87.6L48.8 87.7L51.3 87.7L53.8 87.8L56.2 87.8L58.7 87.8L61.2 87.8L63.7 87.8L66.2 87.8L68.6 87.8L71.1 87.8L73.6 87.8L76.1 87.8L78.5 87.8L81 87.8L83.5 87.8L86 87.8L88.4 87.8L90.9 87.8L93.4 87.8L95.9 87.8L98.4 87.8L100.8 87.8L103.3 87.8L105.8 87.8L108.3 87.8L110.7 87.8L113.2 87.8L115.7 87.8L118.2 87.9L120.6 87.9L123.1 87.9L125.6 87.9L128.1 87.9L130.6 87.9L133 87.9L135.5 87.9L138 87.9L140.5 87.9L142.9 88L145.4 88L147.9 88L150.4 88L152.8 88L155.3 88L157.8 88L160.3 88.1L162.8 88.1L165.2 88.1L167.7 88.1L170.2 88.1L172.7 88.1L175.1 88.1L177.6 88.2L180.1 88.2L182.6 88.2L185 88.2L187.5 88.2L190 88.3L192.5 88.3L195 88.3L197.4 88.3L199.9 88.4L202.4 88.4L204.9 88.5L207.3 88.5L209.8 88.6L212.3 88.6L214.8 88.7L217.2 88.7L219.7 88.8L222.2 88.8L224.7 88.9L227.2 88.9L229.6 89L232.1 89.1L234.6 89.1L237.1 89.2L239.5 89.3L242 89.3L244.5 89.4L247 89.5L249.4 89.6L251.9 89.6L254.4 89.7L256.9 89.8L259.3 89.8" stroke="#800080" stroke-width="1.3" fill="none" stroke-linejoin="round"/>
<path d="M37.4 83.4h3.3v4.8h-3.3zM42.5 85.1h3.3v4.8h-3.3zM47.6 85.3h3.3v4.8h-3.3zM52.7 85.4h3.3v4.8h-3.3zM57.8 85.4h3.3v4.8h-3.3zM62.9 85.4h3.3v4.8h-3.3zM68 85.4h3.3v4.8h-3.3zM73.1 85.4h3.3v4.8h-3.3zM78.2 85.4h3.3v4.8h-3.3zM83.3 85.4h3.3v4.8h-3.3zM88.5 85.4h3.3v4.8h-3.3zM93.6 85.4h3.3v4.8h-3.3zM98.7 85.4h3.3v4.8h-3.3zM103.8 85.4h3.3v4.8h-3.3zM108.9 85.4h3.3v4.8h-3.3zM114 85.4h3.3v4.8h-3.3zM119.1 85.4h3.3v4.8h-3.3zM124.2 85.5h3.3v4.8h-3.3zM129.3 85.5h3.3v4.8h-3.3zM134.4 85.5h3.3v4.8h-3.3zM139.6 85.5h3.3v4.8h-3.3zM144.7 85.6h3.3v4.8h-3.3zM149.8 85.6h3.3v4.8h-3.3zM154.9 85.6h3.3v4.8h-3.3zM160 85.6h3.3v4.8h-3.3zM165.1 85.7h3.3v4.8h-3.3zM170.2 85.7h3.3v4.8h-3.3zM175.3 85.7h3.3v4.8h-3.3zM180.4 85.8h3.3v4.8h-3.3zM185.6 85.8h3.3v4.8h-3.3zM190.7 85.9h3.3v4.8h-3.3zM195.8 85.9h3.3v4.8h-3.3zM200.9 86h3.3v4.8h-3.3zM206 86.1h3.3v4.8h-3.3zM211.1 86.2h3.3v4.8h-3.3zM216.2 86.3h3.3v4.8h-3.3zM221.3 86.4h3.3v4.8h-3.3zM226.4 86.5h3.3v4.8h-3.3zM231.5 86.7h3.3v4.8h-3.3zM236.7 86.8h3.3v4.8h-3.3zM241.8 87h3.3v4.8h-3.3zM246.9 87.1h3.3v4.8h-3.3zM252 87.3h3.3v4.8h-3.3zM257.1 87.4h3.3v4.8h-3.3z" fill="#800080" opacity="1.0"/>
<path d="M38.9 26.5L41.4 31.9L43.9 35.5L46.3 37.6L48.8 38.8L51.3 39.4L53.8 39.9L56.2 40.2L58.7 40.5L61.2 40.6L63.7 40.8L66.2 40.9L68.6 41L71.1 41.1L73.6 41.2L76.1 41.3L78.5 41.4L81 41.5L83.5 41.5L86 41.6L88.4 41.7L90.9 41.8L93.4 41.9L95.9 41.9L98.4 42L100.8 42.1L103.3 42.1L105.8 42.2L108.3 42.2L110.7 42.3L113.2 42.4L115.7 42.4L118.2 42.5L120.6 42.5L123.1 42.6L125.6 42.7L128.1 42.7L130.6 42.8L133 42.9L135.5 43L138 43L140.5 43.1L142.9 43.2L145.4 43.3L147.9 43.4L150.4 43.5L152.8 43.6L155.3 43.7L157.8 43.7L160.3 43.8L162.8 43.9L165.2 44L167.7 44.1L170.2 44.2L172.7 44.3L175.1 44.4L177.6 44.5L180.1 44.6L182.6 44.6L185 44.7L187.5 44.8L190 44.9L192.5 45L195 45L197.4 45.1L199.9 45.2L202.4 45.3L204.9 45.3L207.3 45.4L209.8 45.5L212.3 45.6L214.8 45.6L217.2 45.7L219.7 45.8L222.2 45.8L224.7 45.9L227.2 46L229.6 46.1L232.1 46.1L234.6 46.2L237.1 46.3L239.5 46.3L242 46.4L244.5 46.5L247 46.5L249.4 46.6L251.9 46.7L254.4 46.7L256.9 46.8L259.3 46.9" stroke="#ff00ff" stroke-width="1.3" fill="none" stroke-linejoin="round"/>
<path d="M39 29.3L41.4 25L36.6 25zM44.1 38.4L46.5 34.1L41.7 34.1zM49.2 41.6L51.6 37.2L46.8 37.2zM54.3 42.6L56.7 38.3L51.9 38.3zM59.5 43.1L61.9 38.8L57.1 38.8zM64.6 43.5L67 39.2L62.2 39.2zM69.7 43.7L72.1 39.4L67.3 39.4zM74.8 43.9L77.2 39.6L72.4 39.6zM79.9 44.1L82.3 39.7L77.5 39.7zM85 44.2L87.4 39.9L82.6 39.9zM90.1 44.4L92.5 40.1L87.7 40.1zM95.2 44.5L97.6 40.2L92.8 40.2zM100.3 44.7L102.7 40.4L97.9 40.4zM105.4 44.8L107.8 40.5L103 40.5zM110.6 44.9L113 40.6L108.2 40.6zM115.7 45.1L118.1 40.7L113.3 40.7zM120.8 45.2L123.2 40.9L118.4 40.9zM125.9 45.3L128.3 41L123.5 41zM131 45.5L133.4 41.1L128.6 41.1zM136.1 45.6L138.5 41.3L133.7 41.3zM141.2 45.8L143.6 41.5L138.8 41.5zM146.3 46L148.7 41.6L143.9 41.6zM151.4 46.1L153.8 41.8L149 41.8zM156.5 46.3L158.9 42L154.1 42zM161.7 46.5L164.1 42.2L159.2 42.2zM166.8 46.7L169.2 42.4L164.4 42.4zM171.9 46.9L174.3 42.6L169.5 42.6zM177 47.1L179.4 42.8L174.6 42.8zM182.1 47.3L184.5 42.9L179.7 42.9zM187.2 47.4L189.6 43.1L184.8 43.1zM192.3 47.6L194.7 43.3L189.9 43.3zM197.4 47.7L199.8 43.4L195 43.4zM202.5 47.9L204.9 43.6L200.1 43.6zM207.6 48.1L210 43.7L205.2 43.7zM212.8 48.2L215.2 43.9L210.4 43.9zM217.9 48.4L220.3 44L215.5 44zM223 48.5L225.4 44.2L220.6 44.2zM228.1 48.6L230.5 44.3L225.7 44.3zM233.2 48.8L235.6 44.5L230.8 44.5zM238.3 48.9L240.7 44.6L235.9 44.6zM243.4 49.1L245.8 44.8L241 44.8zM248.5 49.2L250.9 44.9L246.1 44.9zM253.6 49.4L256 45L251.2 45zM258.7 49.5L261.1 45.2L256.3 45.2z" fill="#ff00ff" opacity="1.0"/>
<rect x="194.6" y="7.6" width="41.8" height="92.1" fill="#fff" stroke="#555" stroke-width="1"/>
<path d="M199.4 15h3.8v3.8h-3.8z" fill="#000000"/>
<text x="218.6" y="19.5" class="li" fill="#000" font-size="10">q</text>
<path d="M198.5 26.4a2.8 2.8 0 1 0 5.6 0a2.8 2.8 0 1 0 -5.6 0z" fill="#ff0000"/>
<text x="218.6" y="28.9" text-anchor="middle" fill="#ff0000" font-size="8" font-family='"Liberation Sans", sans-serif'>m</text>
<path d="M201.3 32.6L203.8 37.1L198.8 37.1z" fill="#606060"/>
<text x="218.6" y="33.8" text-anchor="middle" fill="#aaa" font-size="4.8" font-family='"Liberation Serif", serif' font-style="italic">γ · (P−W)</text>
<path d="M207.6 35.6H229.6" stroke="#b0b0b0" stroke-width="0.6"/>
<path d="M201.3 42.8L202.2 45L204.6 45.2L202.8 46.8L203.4 49.1L201.3 47.9L199.2 49.1L199.8 46.8L198 45.2L200.4 45z" fill="#00ffff"/>
<text x="218.6" y="43.7" text-anchor="middle" fill="#c8a0a0" font-size="5" font-family='"Liberation Sans", sans-serif'>^</text>
<text x="218.6" y="49.3" text-anchor="middle" fill="#00ffff" font-size="9.5" font-family='"Liberation Sans", sans-serif' font-style="italic">c</text>
<path d="M201.3 52.9L203.9 55.5L201.3 58.1L198.7 55.5z" fill="#ff8000"/>
<text x="218.6" y="58.3" text-anchor="middle" fill="#ff8000" font-size="8.6" font-family='"Liberation Sans", sans-serif' font-style="italic">σ+q</text>
<path d="M201.3 66L198.8 63A1.3 1.3 0 0 1 201.3 62A1.3 1.3 0 0 1 203.8 63z" fill="#0000ff"/>
<text x="218.6" y="65.6" text-anchor="middle" fill="#0000ff" font-size="8.6" font-family='"Liberation Serif", serif' font-style="italic" font-weight="bold">L<tspan font-size="6.2" dy="1.8">q</tspan></text>
<path d="M201.3 69.3L203.8 72.3A1.2 1.2 0 0 1 201.6 73.3L202.2 74.8L200.4 74.8L201.1 73.3A1.2 1.2 0 0 1 198.8 72.3z" fill="#00ff00"/>
<text x="218.6" y="74.6" text-anchor="middle" fill="#00ff00" font-size="8.6" font-family='"Liberation Serif", serif' font-style="italic" font-weight="bold">L<tspan font-size="6.2" dy="1.8">a</tspan></text>
<path d="M199.7 79.4h3.2v4.6h-3.2z" fill="#800080"/>
<text x="218.6" y="84.7" text-anchor="middle" fill="#800080" font-size="8.6" font-family='"Liberation Serif", serif' font-weight="bold">10<tspan font-style="italic" font-weight="normal" fill="#d080d0">ϕ</tspan></text>
<path d="M201.3 93.2L203.8 88.8L198.8 88.8z" fill="#ff00ff"/>
<text x="218.6" y="93.1" text-anchor="middle" fill="#ff00ff" font-size="9.5" font-family='"Liberation Sans", sans-serif' font-style="italic">u</text>
<text x="253.8" y="11.4" text-anchor="middle" class="t" textLength="8" lengthAdjust="spacingAndGlyphs">a1</text>
<path d="M312.5 17.1H537M312.5 37.2H537M312.5 57.3H537M312.5 77.4H537M312.5 117.6H537M312.5 137.7H537M362.7 5.5V146M413 5.5V146M463.3 5.5V146M513.6 5.5V146" stroke="#f2f2f2" stroke-width="0.8" fill="none"/>
<path d="M312.5 5.5V146" stroke="#d8d8d8" stroke-width="0.8" fill="none"/>
<path d="M312.5 97.5H537" stroke="#c0c0c0" stroke-width="0.9" fill="none"/>
<path d="M317.6 7.5V146" stroke="#3a3a3a" stroke-width="1.5" stroke-dasharray="2.3 4.2" fill="none"/>
<text x="309.7" y="20.1" text-anchor="end" class="t" textLength="22.9" lengthAdjust="spacingAndGlyphs">20 000</text>
<text x="309.7" y="40.2" text-anchor="end" class="t" textLength="22.9" lengthAdjust="spacingAndGlyphs">15 000</text>
<text x="309.7" y="60.3" text-anchor="end" class="t" textLength="22.9" lengthAdjust="spacingAndGlyphs">10 000</text>
<text x="309.7" y="80.4" text-anchor="end" class="t" textLength="17.6" lengthAdjust="spacingAndGlyphs">5000</text>
<text x="309.7" y="100.5" text-anchor="end" class="t" textLength="4.4" lengthAdjust="spacingAndGlyphs">0</text>
<text x="309.7" y="120.6" text-anchor="end" class="t" textLength="20.4" lengthAdjust="spacingAndGlyphs">-5000</text>
<text x="309.7" y="140.7" text-anchor="end" class="t" textLength="25.8" lengthAdjust="spacingAndGlyphs">-10 000</text>
<text x="362.7" y="107" text-anchor="middle" class="t" textLength="8.8" lengthAdjust="spacingAndGlyphs">10</text>
<text x="413" y="107" text-anchor="middle" class="t" textLength="8.8" lengthAdjust="spacingAndGlyphs">20</text>
<text x="463.3" y="107" text-anchor="middle" class="t" textLength="8.8" lengthAdjust="spacingAndGlyphs">30</text>
<text x="513.6" y="107" text-anchor="middle" class="t" textLength="8.8" lengthAdjust="spacingAndGlyphs">40</text>
<text x="525" y="106.4" text-anchor="middle" fill="#333" font-size="9.5" font-family='"Liberation Serif", serif' font-style="italic">n</text>
<path d="M317.6 37.4L320.1 37.9L322.5 38.5L324.9 39L327.4 39.5L329.8 40L332.3 40.6L334.7 41.1L337.1 41.6L339.6 42.1L342 42.7L344.4 43.2L346.9 43.7L349.3 44.2L351.8 44.7L354.2 45.3L356.6 45.8L359.1 46.3L361.5 46.8L363.9 47.3L366.4 47.9L368.8 48.4L371.3 48.9L373.7 49.4L376.1 49.9L378.6 50.4L381 50.9L383.4 51.4L385.9 52L388.3 52.5L390.7 53L393.2 53.5L395.6 54L398.1 54.5L400.5 55L402.9 55.5L405.4 56.1L407.8 56.6L410.2 57.1L412.7 57.6L415.1 58.1L417.6 58.6L420 59.1L422.4 59.6L424.9 60.2L427.3 60.7L429.7 61.2L432.2 61.7L434.6 62.2L437.1 62.7L439.5 63.2L441.9 63.8L444.4 64.3L446.8 64.8L449.2 65.3L451.7 65.8L454.1 66.4L456.6 66.9L459 67.4L461.4 67.9L463.9 68.5L466.3 69L468.7 69.5L471.2 70L473.6 70.6L476.1 71.1L478.5 71.6L480.9 72.2L483.4 72.7L485.8 73.2L488.2 73.8L490.7 74.3L493.1 74.9L495.6 75.4L498 75.9L500.4 76.5L502.9 77L505.3 77.6L507.7 78.1L510.2 78.7L512.6 79.2L515.1 79.8L517.5 80.3L519.9 80.9L522.4 81.4L524.8 82L527.2 82.5L529.7 83.1L532.1 83.7L534.5 84.2" stroke="#000" stroke-width="2.0" fill="none" stroke-linejoin="round"/>
<path d="M316 37h2.9v2.9h-2.9zM321 38h2.9v2.9h-2.9zM326 39.1h2.9v2.9h-2.9zM331.1 40.2h2.9v2.9h-2.9zM336.1 41.3h2.9v2.9h-2.9zM341.1 42.3h2.9v2.9h-2.9zM346.2 43.4h2.9v2.9h-2.9zM351.2 44.5h2.9v2.9h-2.9zM356.2 45.6h2.9v2.9h-2.9zM361.2 46.6h2.9v2.9h-2.9zM366.3 47.7h2.9v2.9h-2.9zM371.3 48.8h2.9v2.9h-2.9zM376.3 49.8h2.9v2.9h-2.9zM381.4 50.9h2.9v2.9h-2.9zM386.4 51.9h2.9v2.9h-2.9zM391.4 53h2.9v2.9h-2.9zM396.5 54h2.9v2.9h-2.9zM401.5 55.1h2.9v2.9h-2.9zM406.5 56.1h2.9v2.9h-2.9zM411.6 57.2h2.9v2.9h-2.9zM416.6 58.3h2.9v2.9h-2.9zM421.6 59.3h2.9v2.9h-2.9zM426.6 60.4h2.9v2.9h-2.9zM431.7 61.4h2.9v2.9h-2.9zM436.7 62.5h2.9v2.9h-2.9zM441.7 63.6h2.9v2.9h-2.9zM446.8 64.6h2.9v2.9h-2.9zM451.8 65.7h2.9v2.9h-2.9zM456.8 66.8h2.9v2.9h-2.9zM461.8 67.9h2.9v2.9h-2.9zM466.9 69h2.9v2.9h-2.9zM471.9 70.1h2.9v2.9h-2.9zM476.9 71.2h2.9v2.9h-2.9zM482 72.3h2.9v2.9h-2.9zM487 73.4h2.9v2.9h-2.9zM492 74.5h2.9v2.9h-2.9zM497.1 75.6h2.9v2.9h-2.9zM502.1 76.7h2.9v2.9h-2.9zM507.1 77.9h2.9v2.9h-2.9zM512.1 79h2.9v2.9h-2.9zM517.2 80.1h2.9v2.9h-2.9zM522.2 81.3h2.9v2.9h-2.9zM527.2 82.4h2.9v2.9h-2.9zM532.3 83.6h2.9v2.9h-2.9z" stroke="#444" stroke-width="0.8" fill="none" opacity="0.85"/>
<path d="M317.6 47L320.1 47.5L322.5 48.1L324.9 48.6L327.4 49.1L329.8 49.6L332.3 50.1L334.7 50.6L337.1 51.1L339.6 51.6L342 52.1L344.4 52.6L346.9 53.1L349.3 53.6L351.8 54.1L354.2 54.6L356.6 55.1L359.1 55.5L361.5 56L363.9 56.5L366.4 56.9L368.8 57.4L371.3 57.8L373.7 58.3L376.1 58.7L378.6 59.2L381 59.6L383.4 60L385.9 60.5L388.3 60.9L390.7 61.3L393.2 61.7L395.6 62.2L398.1 62.6L400.5 63L402.9 63.4L405.4 63.9L407.8 64.3L410.2 64.7L412.7 65.1L415.1 65.6L417.6 66L420 66.4L422.4 66.8L424.9 67.3L427.3 67.7L429.7 68.1L432.2 68.5L434.6 69L437.1 69.4L439.5 69.8L441.9 70.2L444.4 70.6L446.8 71L449.2 71.5L451.7 71.9L454.1 72.3L456.6 72.7L459 73.1L461.4 73.5L463.9 73.9L466.3 74.3L468.7 74.7L471.2 75.2L473.6 75.6L476.1 76L478.5 76.4L480.9 76.8L483.4 77.2L485.8 77.6L488.2 78L490.7 78.4L493.1 78.8L495.6 79.2L498 79.6L500.4 79.9L502.9 80.3L505.3 80.7L507.7 81.1L510.2 81.5L512.6 81.8L515.1 82.2L517.5 82.6L519.9 82.9L522.4 83.3L524.8 83.6L527.2 84L529.7 84.3L532.1 84.7L534.5 85" stroke="#ff0000" stroke-width="2.0" fill="none" stroke-linejoin="round"/>
<path d="M315.1 48a2.3 2.3 0 1 0 4.6 0a2.3 2.3 0 1 0 -4.6 0zM320.2 49.1a2.3 2.3 0 1 0 4.6 0a2.3 2.3 0 1 0 -4.6 0zM325.2 50.1a2.3 2.3 0 1 0 4.6 0a2.3 2.3 0 1 0 -4.6 0zM330.2 51.2a2.3 2.3 0 1 0 4.6 0a2.3 2.3 0 1 0 -4.6 0zM335.2 52.2a2.3 2.3 0 1 0 4.6 0a2.3 2.3 0 1 0 -4.6 0zM340.3 53.3a2.3 2.3 0 1 0 4.6 0a2.3 2.3 0 1 0 -4.6 0zM345.3 54.3a2.3 2.3 0 1 0 4.6 0a2.3 2.3 0 1 0 -4.6 0zM350.3 55.3a2.3 2.3 0 1 0 4.6 0a2.3 2.3 0 1 0 -4.6 0zM355.4 56.3a2.3 2.3 0 1 0 4.6 0a2.3 2.3 0 1 0 -4.6 0zM360.4 57.2a2.3 2.3 0 1 0 4.6 0a2.3 2.3 0 1 0 -4.6 0zM365.4 58.2a2.3 2.3 0 1 0 4.6 0a2.3 2.3 0 1 0 -4.6 0zM370.5 59.1a2.3 2.3 0 1 0 4.6 0a2.3 2.3 0 1 0 -4.6 0zM375.5 60a2.3 2.3 0 1 0 4.6 0a2.3 2.3 0 1 0 -4.6 0zM380.5 60.9a2.3 2.3 0 1 0 4.6 0a2.3 2.3 0 1 0 -4.6 0zM385.5 61.8a2.3 2.3 0 1 0 4.6 0a2.3 2.3 0 1 0 -4.6 0zM390.6 62.7a2.3 2.3 0 1 0 4.6 0a2.3 2.3 0 1 0 -4.6 0zM395.6 63.6a2.3 2.3 0 1 0 4.6 0a2.3 2.3 0 1 0 -4.6 0zM400.6 64.4a2.3 2.3 0 1 0 4.6 0a2.3 2.3 0 1 0 -4.6 0zM405.7 65.3a2.3 2.3 0 1 0 4.6 0a2.3 2.3 0 1 0 -4.6 0zM410.7 66.2a2.3 2.3 0 1 0 4.6 0a2.3 2.3 0 1 0 -4.6 0zM415.7 67.1a2.3 2.3 0 1 0 4.6 0a2.3 2.3 0 1 0 -4.6 0zM420.8 68a2.3 2.3 0 1 0 4.6 0a2.3 2.3 0 1 0 -4.6 0zM425.8 68.8a2.3 2.3 0 1 0 4.6 0a2.3 2.3 0 1 0 -4.6 0zM430.8 69.7a2.3 2.3 0 1 0 4.6 0a2.3 2.3 0 1 0 -4.6 0zM435.8 70.6a2.3 2.3 0 1 0 4.6 0a2.3 2.3 0 1 0 -4.6 0zM440.9 71.4a2.3 2.3 0 1 0 4.6 0a2.3 2.3 0 1 0 -4.6 0zM445.9 72.3a2.3 2.3 0 1 0 4.6 0a2.3 2.3 0 1 0 -4.6 0zM450.9 73.1a2.3 2.3 0 1 0 4.6 0a2.3 2.3 0 1 0 -4.6 0zM456 74a2.3 2.3 0 1 0 4.6 0a2.3 2.3 0 1 0 -4.6 0zM461 74.8a2.3 2.3 0 1 0 4.6 0a2.3 2.3 0 1 0 -4.6 0zM466 75.7a2.3 2.3 0 1 0 4.6 0a2.3 2.3 0 1 0 -4.6 0zM471.1 76.5a2.3 2.3 0 1 0 4.6 0a2.3 2.3 0 1 0 -4.6 0zM476.1 77.4a2.3 2.3 0 1 0 4.6 0a2.3 2.3 0 1 0 -4.6 0zM481.1 78.2a2.3 2.3 0 1 0 4.6 0a2.3 2.3 0 1 0 -4.6 0zM486.1 79a2.3 2.3 0 1 0 4.6 0a2.3 2.3 0 1 0 -4.6 0zM491.2 79.8a2.3 2.3 0 1 0 4.6 0a2.3 2.3 0 1 0 -4.6 0zM496.2 80.6a2.3 2.3 0 1 0 4.6 0a2.3 2.3 0 1 0 -4.6 0zM501.2 81.4a2.3 2.3 0 1 0 4.6 0a2.3 2.3 0 1 0 -4.6 0zM506.3 82.2a2.3 2.3 0 1 0 4.6 0a2.3 2.3 0 1 0 -4.6 0zM511.3 83a2.3 2.3 0 1 0 4.6 0a2.3 2.3 0 1 0 -4.6 0zM516.3 83.7a2.3 2.3 0 1 0 4.6 0a2.3 2.3 0 1 0 -4.6 0zM521.4 84.5a2.3 2.3 0 1 0 4.6 0a2.3 2.3 0 1 0 -4.6 0zM526.4 85.2a2.3 2.3 0 1 0 4.6 0a2.3 2.3 0 1 0 -4.6 0zM531.4 85.9a2.3 2.3 0 1 0 4.6 0a2.3 2.3 0 1 0 -4.6 0z" stroke="#f03838" stroke-width="0.8" fill="none" opacity="0.85"/>
<path d="M317.6 97.5L320.1 97.9L322.5 98.2L324.9 98.6L327.4 99L329.8 99.3L332.3 99.7L334.7 100.1L337.1 100.5L339.6 100.8L342 101.2L344.4 101.6L346.9 102L349.3 102.3L351.8 102.7L354.2 103.1L356.6 103.5L359.1 103.9L361.5 104.3L363.9 104.6L366.4 105L368.8 105.4L371.3 105.8L373.7 106.2L376.1 106.6L378.6 107L381 107.3L383.4 107.7L385.9 108.1L388.3 108.5L390.7 108.9L393.2 109.3L395.6 109.7L398.1 110.1L400.5 110.5L402.9 110.9L405.4 111.4L407.8 111.8L410.2 112.2L412.7 112.6L415.1 113L417.6 113.5L420 113.9L422.4 114.4L424.9 114.8L427.3 115.2L429.7 115.7L432.2 116.1L434.6 116.6L437.1 117.1L439.5 117.5L441.9 118L444.4 118.4L446.8 118.9L449.2 119.4L451.7 119.9L454.1 120.3L456.6 120.8L459 121.3L461.4 121.8L463.9 122.3L466.3 122.8L468.7 123.2L471.2 123.7L473.6 124.2L476.1 124.7L478.5 125.2L480.9 125.7L483.4 126.2L485.8 126.7L488.2 127.2L490.7 127.8L493.1 128.3L495.6 128.8L498 129.3L500.4 129.9L502.9 130.4L505.3 131L507.7 131.6L510.2 132.1L512.6 132.7L515.1 133.3L517.5 133.9L519.9 134.6L522.4 135.2L524.8 135.8L527.2 136.5L529.7 137.2L532.1 137.8L534.5 138.5" stroke="#808080" stroke-width="2.0" fill="none" stroke-linejoin="round"/>
<path d="M317.4 96.5L319.2 99.8L315.6 99.8zM322.5 97.2L324.3 100.5L320.7 100.5zM327.5 98L329.3 101.2L325.7 101.2zM332.5 98.8L334.3 102L330.7 102zM337.5 99.5L339.3 102.8L335.7 102.8zM342.6 100.3L344.4 103.6L340.8 103.6zM347.6 101.1L349.4 104.3L345.8 104.3zM352.6 101.9L354.4 105.1L350.8 105.1zM357.7 102.7L359.5 105.9L355.9 105.9zM362.7 103.5L364.5 106.7L360.9 106.7zM367.7 104.3L369.5 107.5L365.9 107.5zM372.8 105.1L374.6 108.3L371 108.3zM377.8 105.9L379.6 109.1L376 109.1zM382.8 106.7L384.6 109.9L381 109.9zM387.8 107.5L389.6 110.7L386 110.7zM392.9 108.3L394.7 111.5L391.1 111.5zM397.9 109.1L399.7 112.4L396.1 112.4zM402.9 110L404.7 113.2L401.1 113.2zM408 110.8L409.8 114.1L406.2 114.1zM413 111.7L414.8 114.9L411.2 114.9zM418 112.6L419.8 115.8L416.2 115.8zM423.1 113.5L424.9 116.7L421.3 116.7zM428.1 114.4L429.9 117.6L426.3 117.6zM433.1 115.3L434.9 118.6L431.3 118.6zM438.1 116.3L439.9 119.5L436.3 119.5zM443.2 117.2L445 120.5L441.4 120.5zM448.2 118.2L450 121.4L446.4 121.4zM453.2 119.2L455 122.4L451.4 122.4zM458.3 120.2L460.1 123.4L456.5 123.4zM463.3 121.2L465.1 124.4L461.5 124.4zM468.3 122.2L470.1 125.4L466.5 125.4zM473.4 123.2L475.2 126.4L471.6 126.4zM478.4 124.2L480.2 127.5L476.6 127.5zM483.4 125.3L485.2 128.5L481.6 128.5zM488.4 126.3L490.2 129.5L486.6 129.5zM493.5 127.4L495.3 130.6L491.7 130.6zM498.5 128.5L500.3 131.7L496.7 131.7zM503.5 129.6L505.3 132.9L501.7 132.9zM508.6 130.8L510.4 134L506.8 134zM513.6 132L515.4 135.2L511.8 135.2zM518.6 133.2L520.4 136.5L516.8 136.5zM523.7 134.6L525.5 137.8L521.9 137.8zM528.7 135.9L530.5 139.2L526.9 139.2zM533.7 137.3L535.5 140.5L531.9 140.5z" stroke="#a0a0a0" stroke-width="0.8" fill="none" opacity="0.85"/>
<path d="M317.6 42.7L320.1 43.3L322.5 43.8L324.9 44.3L327.4 44.9L329.8 45.4L332.3 45.9L334.7 46.5L337.1 47L339.6 47.5L342 48L344.4 48.5L346.9 49L349.3 49.5L351.8 50L354.2 50.5L356.6 51L359.1 51.5L361.5 52L363.9 52.5L366.4 52.9L368.8 53.4L371.3 53.8L373.7 54.3L376.1 54.7L378.6 55.2L381 55.6L383.4 56.1L385.9 56.5L388.3 57L390.7 57.4L393.2 57.8L395.6 58.3L398.1 58.7L400.5 59.1L402.9 59.6L405.4 60L407.8 60.5L410.2 60.9L412.7 61.4L415.1 61.8L417.6 62.3L420 62.8L422.4 63.2L424.9 63.7L427.3 64.2L429.7 64.6L432.2 65.1L434.6 65.6L437.1 66L439.5 66.5L441.9 67L444.4 67.5L446.8 67.9L449.2 68.4L451.7 68.9L454.1 69.3L456.6 69.8L459 70.3L461.4 70.7L463.9 71.2L466.3 71.6L468.7 72.1L471.2 72.6L473.6 73L476.1 73.5L478.5 73.9L480.9 74.4L483.4 74.8L485.8 75.3L488.2 75.8L490.7 76.2L493.1 76.7L495.6 77.1L498 77.6L500.4 78L502.9 78.5L505.3 79L507.7 79.4L510.2 79.9L512.6 80.3L515.1 80.8L517.5 81.2L519.9 81.7L522.4 82.1L524.8 82.6L527.2 83.1L529.7 83.5L532.1 84L534.5 84.4" stroke="#ff8000" stroke-width="2.0" fill="none" stroke-linejoin="round"/>
<path d="M317.4 41.6L319.5 43.7L317.4 45.8L315.4 43.7zM322.5 42.7L324.5 44.8L322.5 46.9L320.4 44.8zM327.5 43.8L329.6 45.9L327.5 48L325.4 45.9zM332.5 44.9L334.6 47L332.5 49.1L330.4 47zM337.5 46L339.6 48.1L337.5 50.1L335.5 48.1zM342.6 47.1L344.6 49.1L342.6 51.2L340.5 49.1zM347.6 48.1L349.7 50.2L347.6 52.2L345.5 50.2zM352.6 49.1L354.7 51.2L352.6 53.3L350.6 51.2zM357.7 50.1L359.7 52.2L357.7 54.3L355.6 52.2zM362.7 51.1L364.8 53.2L362.7 55.3L360.6 53.2zM367.7 52.1L369.8 54.2L367.7 56.3L365.7 54.2zM372.8 53.1L374.8 55.1L372.8 57.2L370.7 55.1zM377.8 54L379.9 56.1L377.8 58.1L375.7 56.1zM382.8 54.9L384.9 57L382.8 59L380.8 57zM387.8 55.8L389.9 57.9L387.8 59.9L385.8 57.9zM392.9 56.7L394.9 58.8L392.9 60.8L390.8 58.8zM397.9 57.6L400 59.7L397.9 61.7L395.8 59.7zM402.9 58.5L405 60.6L402.9 62.6L400.9 60.6zM408 59.4L410 61.5L408 63.6L405.9 61.5zM413 60.4L415.1 62.4L413 64.5L410.9 62.4zM418 61.3L420.1 63.4L418 65.5L416 63.4zM423.1 62.3L425.1 64.3L423.1 66.4L421 64.3zM428.1 63.2L430.2 65.3L428.1 67.4L426 65.3zM433.1 64.2L435.2 66.3L433.1 68.4L431.1 66.3zM438.1 65.2L440.2 67.3L438.1 69.3L436.1 67.3zM443.2 66.2L445.2 68.2L443.2 70.3L441.1 68.2zM448.2 67.1L450.3 69.2L448.2 71.3L446.1 69.2zM453.2 68.1L455.3 70.2L453.2 72.2L451.2 70.2zM458.3 69.1L460.3 71.1L458.3 73.2L456.2 71.1zM463.3 70L465.4 72.1L463.3 74.1L461.2 72.1zM468.3 71L470.4 73L468.3 75.1L466.3 73zM473.4 71.9L475.4 74L473.4 76L471.3 74zM478.4 72.8L480.5 74.9L478.4 77L476.3 74.9zM483.4 73.8L485.5 75.9L483.4 77.9L481.3 75.9zM488.4 74.7L490.5 76.8L488.4 78.9L486.4 76.8zM493.5 75.7L495.6 77.7L493.5 79.8L491.4 77.7zM498.5 76.6L500.6 78.7L498.5 80.7L496.4 78.7zM503.5 77.6L505.6 79.6L503.5 81.7L501.5 79.6zM508.6 78.5L510.6 80.6L508.6 82.6L506.5 80.6zM513.6 79.4L515.7 81.5L513.6 83.6L511.5 81.5zM518.6 80.4L520.7 82.4L518.6 84.5L516.6 82.4zM523.7 81.3L525.7 83.4L523.7 85.5L521.6 83.4zM528.7 82.3L530.8 84.3L528.7 86.4L526.6 84.3zM533.7 83.2L535.8 85.3L533.7 87.3L531.6 85.3z" stroke="#ffa040" stroke-width="0.8" fill="none" opacity="0.85"/>
<path d="M317.6 30L320.1 29.7L322.5 29.3L324.9 29L327.4 28.6L329.8 28.3L332.3 27.9L334.7 27.6L337.1 27.3L339.6 27L342 26.7L344.4 26.4L346.9 26.1L349.3 25.8L351.8 25.5L354.2 25.2L356.6 24.9L359.1 24.7L361.5 24.4L363.9 24.1L366.4 23.9L368.8 23.6L371.3 23.4L373.7 23.2L376.1 22.9L378.6 22.7L381 22.5L383.4 22.3L385.9 22.1L388.3 21.9L390.7 21.6L393.2 21.4L395.6 21.2L398.1 21L400.5 20.8L402.9 20.6L405.4 20.4L407.8 20.2L410.2 20L412.7 19.8L415.1 19.6L417.6 19.4L420 19.2L422.4 19L424.9 18.8L427.3 18.6L429.7 18.4L432.2 18.2L434.6 18L437.1 17.8L439.5 17.6L441.9 17.4L444.4 17.2L446.8 17L449.2 16.8L451.7 16.6L454.1 16.4L456.6 16.2L459 16L461.4 15.8L463.9 15.6L466.3 15.5L468.7 15.3L471.2 15.1L473.6 14.9L476.1 14.7L478.5 14.6L480.9 14.4L483.4 14.2L485.8 14L488.2 13.8L490.7 13.7L493.1 13.5L495.6 13.3L498 13.1L500.4 13L502.9 12.8L505.3 12.6L507.7 12.5L510.2 12.3L512.6 12.1L515.1 12L517.5 11.8L519.9 11.6L522.4 11.5L524.8 11.3L527.2 11.1L529.7 11L532.1 10.8L534.5 10.7" stroke="#ff00ff" stroke-width="2.0" fill="none" stroke-linejoin="round"/>
<path d="M317.4 33L319.2 29.7L315.6 29.7zM322.5 32.3L324.3 29L320.7 29zM327.5 31.6L329.3 28.3L325.7 28.3zM332.5 30.9L334.3 27.7L330.7 27.7zM337.5 30.2L339.3 27L335.7 27zM342.6 29.6L344.4 26.3L340.8 26.3zM347.6 29L349.4 25.7L345.8 25.7zM352.6 28.4L354.4 25.1L350.8 25.1zM357.7 27.8L359.5 24.5L355.9 24.5zM362.7 27.2L364.5 24L360.9 24zM367.7 26.7L369.5 23.5L365.9 23.5zM372.8 26.2L374.6 23L371 23zM377.8 25.8L379.6 22.5L376 22.5zM382.8 25.3L384.6 22.1L381 22.1zM387.8 24.9L389.6 21.6L386 21.6zM392.9 24.4L394.7 21.2L391.1 21.2zM397.9 24L399.7 20.8L396.1 20.8zM402.9 23.6L404.7 20.4L401.1 20.4zM408 23.2L409.8 19.9L406.2 19.9zM413 22.7L414.8 19.5L411.2 19.5zM418 22.3L419.8 19.1L416.2 19.1zM423.1 21.9L424.9 18.7L421.3 18.7zM428.1 21.5L429.9 18.2L426.3 18.2zM433.1 21.1L434.9 17.8L431.3 17.8zM438.1 20.6L439.9 17.4L436.3 17.4zM443.2 20.2L445 17L441.4 17zM448.2 19.8L450 16.6L446.4 16.6zM453.2 19.4L455 16.2L451.4 16.2zM458.3 19.1L460.1 15.8L456.5 15.8zM463.3 18.7L465.1 15.4L461.5 15.4zM468.3 18.3L470.1 15L466.5 15zM473.4 17.9L475.2 14.7L471.6 14.7zM478.4 17.5L480.2 14.3L476.6 14.3zM483.4 17.2L485.2 13.9L481.6 13.9zM488.4 16.8L490.2 13.6L486.6 13.6zM493.5 16.4L495.3 13.2L491.7 13.2zM498.5 16.1L500.3 12.8L496.7 12.8zM503.5 15.7L505.3 12.5L501.7 12.5zM508.6 15.4L510.4 12.1L506.8 12.1zM513.6 15L515.4 11.8L511.8 11.8zM518.6 14.7L520.4 11.5L516.8 11.5zM523.7 14.4L525.5 11.1L521.9 11.1zM528.7 14L530.5 10.8L526.9 10.8zM533.7 13.7L535.5 10.5L531.9 10.5z" stroke="#ff60ff" stroke-width="0.8" fill="none" opacity="0.85"/>
<path d="M317.6 89.6L320.1 89.4L322.5 89.2L324.9 89L327.4 88.9L329.8 88.7L332.3 88.5L334.7 88.4L337.1 88.3L339.6 88.1L342 88L344.4 87.9L346.9 87.8L349.3 87.7L351.8 87.6L354.2 87.5L356.6 87.4L359.1 87.4L361.5 87.3L363.9 87.2L366.4 87.2L368.8 87.2L371.3 87.1L373.7 87.1L376.1 87L378.6 87L381 86.9L383.4 86.9L385.9 86.9L388.3 86.8L390.7 86.8L393.2 86.8L395.6 86.7L398.1 86.7L400.5 86.7L402.9 86.7L405.4 86.7L407.8 86.7L410.2 86.6L412.7 86.6L415.1 86.7L417.6 86.7L420 86.7L422.4 86.8L424.9 86.9L427.3 86.9L429.7 87L432.2 87.1L434.6 87.2L437.1 87.3L439.5 87.5L441.9 87.6L444.4 87.7L446.8 87.8L449.2 88L451.7 88.1L454.1 88.3L456.6 88.4L459 88.6L461.4 88.7L463.9 88.9L466.3 89.1L468.7 89.3L471.2 89.5L473.6 89.8L476.1 90L478.5 90.3L480.9 90.5L483.4 90.8L485.8 91L488.2 91.3L490.7 91.5L493.1 91.8L495.6 92L498 92.2L500.4 92.5L502.9 92.7L505.3 93L507.7 93.2L510.2 93.5L512.6 93.8L515.1 94L517.5 94.3L519.9 94.6L522.4 94.9L524.8 95.1L527.2 95.4L529.7 95.7L532.1 96L534.5 96.3" stroke="#00aa00" stroke-width="2.0" fill="none" stroke-linejoin="round"/>
<path d="M315.7 90.6h3.4M317.4 88.9v3.4M320.8 90.2h3.4M322.5 88.5v3.4M325.8 89.9h3.4M327.5 88.2v3.4M330.8 89.5h3.4M332.5 87.8v3.4M335.8 89.2h3.4M337.5 87.5v3.4M340.9 89h3.4M342.6 87.3v3.4M345.9 88.8h3.4M347.6 87.1v3.4M350.9 88.6h3.4M352.6 86.9v3.4M356 88.4h3.4M357.7 86.7v3.4M361 88.3h3.4M362.7 86.6v3.4M366 88.2h3.4M367.7 86.5v3.4M371.1 88.1h3.4M372.8 86.4v3.4M376.1 88h3.4M377.8 86.3v3.4M381.1 87.9h3.4M382.8 86.2v3.4M386.1 87.8h3.4M387.8 86.1v3.4M391.2 87.8h3.4M392.9 86.1v3.4M396.2 87.7h3.4M397.9 86v3.4M401.2 87.7h3.4M402.9 86v3.4M406.3 87.7h3.4M408 86v3.4M411.3 87.6h3.4M413 85.9v3.4M416.3 87.7h3.4M418 86v3.4M421.4 87.8h3.4M423.1 86.1v3.4M426.4 88h3.4M428.1 86.3v3.4M431.4 88.2h3.4M433.1 86.5v3.4M436.4 88.4h3.4M438.1 86.7v3.4M441.5 88.6h3.4M443.2 86.9v3.4M446.5 88.9h3.4M448.2 87.2v3.4M451.5 89.2h3.4M453.2 87.5v3.4M456.6 89.5h3.4M458.3 87.8v3.4M461.6 89.8h3.4M463.3 88.1v3.4M466.6 90.3h3.4M468.3 88.6v3.4M471.7 90.7h3.4M473.4 89v3.4M476.7 91.3h3.4M478.4 89.6v3.4M481.7 91.8h3.4M483.4 90.1v3.4M486.8 92.3h3.4M488.4 90.6v3.4M491.8 92.8h3.4M493.5 91.1v3.4M496.8 93.3h3.4M498.5 91.6v3.4M501.8 93.8h3.4M503.5 92.1v3.4M506.9 94.3h3.4M508.6 92.6v3.4M511.9 94.9h3.4M513.6 93.2v3.4M516.9 95.4h3.4M518.6 93.7v3.4M522 96h3.4M523.7 94.3v3.4M527 96.6h3.4M528.7 94.9v3.4M532 97.2h3.4M533.7 95.5v3.4" stroke="#00aa00" stroke-width="0.8" fill="none" opacity="0.85"/>
<rect x="461.1" y="22.1" width="58.6" height="62.7" fill="#fff" stroke="#555" stroke-width="1"/>
<path d="M466.2 29.8h3.6v3.6h-3.6z" stroke="#222" stroke-width="0.8" fill="none"/>
<path d="M465.1 40.9a2.9 2.9 0 1 0 5.8 0a2.9 2.9 0 1 0 -5.8 0z" stroke="#ff6060" stroke-width="0.8" fill="none"/>
<path d="M468 48.2L470.3 52.3L465.7 52.3z" stroke="#a0a0a0" stroke-width="0.8" fill="none"/>
<path d="M468 56.1L470.8 58.9L468 61.7L465.2 58.9z" stroke="#ffa040" stroke-width="0.8" fill="none"/>
<path d="M468 69.5L470.5 65L465.5 65z" stroke="#ff40ff" stroke-width="0.8" fill="none"/>
<path d="M465.4 75.3h5.2M468 72.7v5.2" stroke="#00a000" stroke-width="1.3" fill="none"/>
<text x="493.2" y="35" class="ls" fill="#000">Q</text>
<text x="493.2" y="44.3" class="ls" fill="#ff0000">M</text>
<text x="471.2" y="53.1" fill="#a0a0a0" font-size="6.6" font-family='"Liberation Mono", monospace'>(1-<tspan font-style="italic">γ</tspan>) (<tspan font-style="italic">P</tspan>-<tspan font-style="italic">W</tspan>)</text>
<text x="493.2" y="62.3" class="ls" fill="#ff8000">G</text>
<text x="493.2" y="70.2" class="ls" fill="#ff00ff">U</text>
<text x="493.2" y="78.5" text-anchor="middle" fill="#00aa00" font-size="8.8" font-family='"Liberation Mono", monospace' font-weight="bold">10<tspan font-size="6" dy="-3.6" font-family='"Liberation Sans", sans-serif' font-weight="normal">5</tspan><tspan dy="3.6" font-family='"Liberation Serif", serif' font-style="italic" font-weight="normal" fill="#50b050">π</tspan></text>
<text x="529" y="21.3" text-anchor="middle" class="t" textLength="8" lengthAdjust="spacingAndGlyphs">a2</text>
<path d="M39.2 176.1H262M39.2 246.1H262M39.2 281H262M92.1 148V284M145.9 148V284M199.7 148V284M253.4 148V284" stroke="#f2f2f2" stroke-width="0.8" fill="none"/>
<path d="M39.2 148V284" stroke="#d8d8d8" stroke-width="0.8" fill="none"/>
<path d="M39.2 211.1H262" stroke="#c0c0c0" stroke-width="0.9" fill="none"/>
<path d="M60.2 150V284" stroke="#3a3a3a" stroke-width="1.5" stroke-dasharray="2.3 4.2" fill="none"/>
<text x="36.5" y="179.1" text-anchor="end" class="t" textLength="13.2" lengthAdjust="spacingAndGlyphs">500</text>
<text x="36.5" y="214.1" text-anchor="end" class="t" textLength="4.4" lengthAdjust="spacingAndGlyphs">0</text>
<text x="36.5" y="249.1" text-anchor="end" class="t" textLength="16.0" lengthAdjust="spacingAndGlyphs">-500</text>
<text x="36.5" y="284" text-anchor="end" class="t" textLength="20.4" lengthAdjust="spacingAndGlyphs">-1000</text>
<text x="92.1" y="221.1" text-anchor="middle" class="t" textLength="15.4" lengthAdjust="spacingAndGlyphs">0.05</text>
<text x="145.9" y="221.1" text-anchor="middle" class="t" textLength="15.4" lengthAdjust="spacingAndGlyphs">0.10</text>
<text x="199.7" y="221.1" text-anchor="middle" class="t" textLength="15.4" lengthAdjust="spacingAndGlyphs">0.15</text>
<text x="253.4" y="221.1" text-anchor="middle" class="t" textLength="15.4" lengthAdjust="spacingAndGlyphs">0.20</text>
<text x="232" y="221" text-anchor="middle" fill="#333" font-size="9.5" font-family='"Liberation Serif", serif' font-style="italic">l<tspan font-size="6.5" dy="2">q</tspan></text>
<path d="M39.2 166.4L70.7 174.1L92.5 179.3L120 187.3L143.6 194.6L158.2 200.5L169.8 206.3L174.5 211.1L260 211.1" stroke="#000000" stroke-width="1.3" fill="none" stroke-linejoin="round"/>
<path d="M37.3 164.4h4v4h-4zM42.7 165.7h4v4h-4zM48.1 167h4v4h-4zM53.4 168.3h4v4h-4zM58.8 169.6h4v4h-4zM64.2 171h4v4h-4zM69.6 172.3h4v4h-4zM75 173.6h4v4h-4zM80.3 174.9h4v4h-4zM85.7 176.1h4v4h-4zM91.1 177.5h4v4h-4zM96.5 179h4v4h-4zM101.9 180.6h4v4h-4zM107.2 182.2h4v4h-4zM112.6 183.8h4v4h-4zM118 185.3h4v4h-4zM123.4 187h4v4h-4zM128.8 188.7h4v4h-4zM134.1 190.3h4v4h-4zM139.5 192h4v4h-4zM144.9 193.9h4v4h-4zM150.3 196.1h4v4h-4zM155.7 198.3h4v4h-4zM161 200.9h4v4h-4zM166.4 203.7h4v4h-4zM171.8 208.4h4v4h-4zM177.2 209.1h4v4h-4zM182.6 209.1h4v4h-4zM187.9 209.1h4v4h-4zM193.3 209.1h4v4h-4zM198.7 209.1h4v4h-4zM204.1 209.1h4v4h-4zM209.5 209.1h4v4h-4zM214.8 209.1h4v4h-4zM220.2 209.1h4v4h-4zM225.6 209.1h4v4h-4zM231 209.1h4v4h-4zM236.4 209.1h4v4h-4zM241.7 209.1h4v4h-4zM247.1 209.1h4v4h-4zM252.5 209.1h4v4h-4zM257.9 209.1h4v4h-4z" fill="#000000" opacity="1.0"/>
<path d="M39.2 160L49 163.3L59.8 166.5L70.7 170.4L81.5 174.2L92.5 178L120 188.7L143.6 196.4L158.2 202L169.8 207.3L174.5 211.1L260 211.1" stroke="#ff0000" stroke-width="1.3" fill="none" stroke-linejoin="round"/>
<path d="M36.8 160a2.5 2.5 0 1 0 5 0a2.5 2.5 0 1 0 -5 0zM42.2 161.8a2.5 2.5 0 1 0 5 0a2.5 2.5 0 1 0 -5 0zM47.6 163.6a2.5 2.5 0 1 0 5 0a2.5 2.5 0 1 0 -5 0zM52.9 165.2a2.5 2.5 0 1 0 5 0a2.5 2.5 0 1 0 -5 0zM58.3 166.9a2.5 2.5 0 1 0 5 0a2.5 2.5 0 1 0 -5 0zM63.7 168.8a2.5 2.5 0 1 0 5 0a2.5 2.5 0 1 0 -5 0zM69.1 170.7a2.5 2.5 0 1 0 5 0a2.5 2.5 0 1 0 -5 0zM74.5 172.6a2.5 2.5 0 1 0 5 0a2.5 2.5 0 1 0 -5 0zM79.8 174.5a2.5 2.5 0 1 0 5 0a2.5 2.5 0 1 0 -5 0zM85.2 176.3a2.5 2.5 0 1 0 5 0a2.5 2.5 0 1 0 -5 0zM90.6 178.2a2.5 2.5 0 1 0 5 0a2.5 2.5 0 1 0 -5 0zM96 180.3a2.5 2.5 0 1 0 5 0a2.5 2.5 0 1 0 -5 0zM101.4 182.4a2.5 2.5 0 1 0 5 0a2.5 2.5 0 1 0 -5 0zM106.7 184.5a2.5 2.5 0 1 0 5 0a2.5 2.5 0 1 0 -5 0zM112.1 186.6a2.5 2.5 0 1 0 5 0a2.5 2.5 0 1 0 -5 0zM117.5 188.7a2.5 2.5 0 1 0 5 0a2.5 2.5 0 1 0 -5 0zM122.9 190.5a2.5 2.5 0 1 0 5 0a2.5 2.5 0 1 0 -5 0zM128.3 192.2a2.5 2.5 0 1 0 5 0a2.5 2.5 0 1 0 -5 0zM133.6 194a2.5 2.5 0 1 0 5 0a2.5 2.5 0 1 0 -5 0zM139 195.8a2.5 2.5 0 1 0 5 0a2.5 2.5 0 1 0 -5 0zM144.4 197.7a2.5 2.5 0 1 0 5 0a2.5 2.5 0 1 0 -5 0zM149.8 199.8a2.5 2.5 0 1 0 5 0a2.5 2.5 0 1 0 -5 0zM155.2 201.8a2.5 2.5 0 1 0 5 0a2.5 2.5 0 1 0 -5 0zM160.5 204.2a2.5 2.5 0 1 0 5 0a2.5 2.5 0 1 0 -5 0zM165.9 206.7a2.5 2.5 0 1 0 5 0a2.5 2.5 0 1 0 -5 0zM171.3 210.5a2.5 2.5 0 1 0 5 0a2.5 2.5 0 1 0 -5 0zM176.7 211.1a2.5 2.5 0 1 0 5 0a2.5 2.5 0 1 0 -5 0zM182.1 211.1a2.5 2.5 0 1 0 5 0a2.5 2.5 0 1 0 -5 0zM187.4 211.1a2.5 2.5 0 1 0 5 0a2.5 2.5 0 1 0 -5 0zM192.8 211.1a2.5 2.5 0 1 0 5 0a2.5 2.5 0 1 0 -5 0zM198.2 211.1a2.5 2.5 0 1 0 5 0a2.5 2.5 0 1 0 -5 0zM203.6 211.1a2.5 2.5 0 1 0 5 0a2.5 2.5 0 1 0 -5 0zM209 211.1a2.5 2.5 0 1 0 5 0a2.5 2.5 0 1 0 -5 0zM214.3 211.1a2.5 2.5 0 1 0 5 0a2.5 2.5 0 1 0 -5 0zM219.7 211.1a2.5 2.5 0 1 0 5 0a2.5 2.5 0 1 0 -5 0zM225.1 211.1a2.5 2.5 0 1 0 5 0a2.5 2.5 0 1 0 -5 0zM230.5 211.1a2.5 2.5 0 1 0 5 0a2.5 2.5 0 1 0 -5 0zM235.9 211.1a2.5 2.5 0 1 0 5 0a2.5 2.5 0 1 0 -5 0zM241.2 211.1a2.5 2.5 0 1 0 5 0a2.5 2.5 0 1 0 -5 0zM246.6 211.1a2.5 2.5 0 1 0 5 0a2.5 2.5 0 1 0 -5 0zM252 211.1a2.5 2.5 0 1 0 5 0a2.5 2.5 0 1 0 -5 0zM257.4 211.1a2.5 2.5 0 1 0 5 0a2.5 2.5 0 1 0 -5 0z" fill="#ff0000" opacity="1.0"/>
<path d="M39.2 198.2L60.2 211.1L174.3 281L260 281" stroke="#747474" stroke-width="1.3" fill="none" stroke-linejoin="round"/>
<path d="M39.3 197.4L41.5 201.4L37.1 201.4zM44.7 200.7L46.9 204.7L42.5 204.7zM50.1 204L52.3 208L47.9 208zM55.4 207.4L57.6 211.3L53.2 211.3zM60.8 210.7L63 214.6L58.6 214.6zM66.2 214L68.4 217.9L64 217.9zM71.6 217.3L73.8 221.2L69.4 221.2zM77 220.6L79.2 224.5L74.8 224.5zM82.3 223.9L84.5 227.8L80.1 227.8zM87.7 227.2L89.9 231.1L85.5 231.1zM93.1 230.4L95.3 234.4L90.9 234.4zM98.5 233.7L100.7 237.7L96.3 237.7zM103.9 237L106.1 241L101.7 241zM109.2 240.3L111.4 244.3L107 244.3zM114.6 243.6L116.8 247.6L112.4 247.6zM120 246.9L122.2 250.9L117.8 250.9zM125.4 250.2L127.6 254.2L123.2 254.2zM130.8 253.5L133 257.5L128.6 257.5zM136.1 256.8L138.3 260.8L133.9 260.8zM141.5 260.1L143.7 264.1L139.3 264.1zM146.9 263.4L149.1 267.3L144.7 267.3zM152.3 266.7L154.5 270.6L150.1 270.6zM157.7 270L159.9 273.9L155.5 273.9zM163 273.3L165.2 277.2L160.8 277.2zM168.4 276.6L170.6 280.5L166.2 280.5zM173.8 279.9L176 283.8L171.6 283.8zM179.2 280.2L181.4 284.1L177 284.1zM184.6 280.2L186.8 284.1L182.4 284.1zM189.9 280.2L192.1 284.1L187.7 284.1zM195.3 280.2L197.5 284.1L193.1 284.1zM200.7 280.2L202.9 284.1L198.5 284.1zM206.1 280.2L208.3 284.1L203.9 284.1zM211.5 280.2L213.7 284.1L209.3 284.1zM216.8 280.2L219 284.1L214.6 284.1zM222.2 280.2L224.4 284.1L220 284.1zM227.6 280.2L229.8 284.1L225.4 284.1zM233 280.2L235.2 284.1L230.8 284.1zM238.4 280.2L240.6 284.1L236.2 284.1zM243.7 280.2L245.9 284.1L241.5 284.1zM249.1 280.2L251.3 284.1L246.9 284.1zM254.5 280.2L256.7 284.1L252.3 284.1zM259.9 280.2L262.1 284.1L257.7 284.1z" fill="#5e5e5e" opacity="1.0"/>
<path d="M39.2 182.9L52.5 187.7L65.8 191.5L79.1 195.4L92.4 198.9L120 204.5L136.4 206.9L152.7 209L174.5 211.1L260 211.1" stroke="#00ffff" stroke-width="1.3" fill="none" stroke-linejoin="round"/>
<path d="M39.3 179.8L40.1 181.8L42.3 182L40.6 183.4L41.1 185.5L39.3 184.4L37.5 185.5L38 183.4L36.3 182L38.5 181.8zM44.7 181.8L45.5 183.8L47.7 183.9L46 185.3L46.5 187.4L44.7 186.3L42.8 187.4L43.3 185.3L41.7 183.9L43.9 183.8zM50.1 183.7L50.9 185.7L53 185.8L51.4 187.2L51.9 189.3L50.1 188.2L48.2 189.3L48.7 187.2L47.1 185.8L49.2 185.7zM55.4 185.4L56.3 187.4L58.4 187.6L56.8 189L57.3 191.1L55.4 189.9L53.6 191.1L54.1 189L52.5 187.6L54.6 187.4zM60.8 187L61.6 189L63.8 189.1L62.2 190.5L62.7 192.6L60.8 191.5L59 192.6L59.5 190.5L57.8 189.1L60 189zM66.2 188.5L67 190.5L69.2 190.7L67.5 192.1L68 194.2L66.2 193L64.4 194.2L64.9 192.1L63.2 190.7L65.4 190.5zM71.6 190.1L72.4 192.1L74.6 192.2L72.9 193.6L73.4 195.7L71.6 194.6L69.7 195.7L70.2 193.6L68.6 192.2L70.8 192.1zM77 191.6L77.8 193.6L79.9 193.8L78.3 195.2L78.8 197.3L77 196.2L75.1 197.3L75.6 195.2L74 193.8L76.1 193.6zM82.3 193.1L83.2 195.1L85.3 195.3L83.7 196.7L84.2 198.8L82.3 197.6L80.5 198.8L81 196.7L79.4 195.3L81.5 195.1zM87.7 194.5L88.5 196.5L90.7 196.7L89.1 198.1L89.6 200.2L87.7 199L85.9 200.2L86.4 198.1L84.7 196.7L86.9 196.5zM93.1 195.9L93.9 197.9L96.1 198L94.4 199.4L94.9 201.5L93.1 200.4L91.3 201.5L91.8 199.4L90.1 198L92.3 197.9zM98.5 197L99.3 199L101.5 199.2L99.8 200.6L100.3 202.6L98.5 201.5L96.6 202.6L97.1 200.6L95.5 199.2L97.7 199zM103.9 198.1L104.7 200.1L106.8 200.3L105.2 201.7L105.7 203.8L103.9 202.6L102 203.8L102.5 201.7L100.9 200.3L103 200.1zM109.2 199.2L110.1 201.2L112.2 201.4L110.6 202.8L111.1 204.9L109.2 203.7L107.4 204.9L107.9 202.8L106.3 201.4L108.4 201.2zM114.6 200.3L115.4 202.3L117.6 202.5L116 203.9L116.5 206L114.6 204.8L112.8 206L113.3 203.9L111.6 202.5L113.8 202.3zM120 201.4L120.8 203.4L123 203.6L121.3 205L121.8 207.1L120 205.9L118.2 207.1L118.7 205L117 203.6L119.2 203.4zM125.4 202.2L126.2 204.2L128.4 204.3L126.7 205.7L127.2 207.8L125.4 206.7L123.5 207.8L124 205.7L122.4 204.3L124.6 204.2zM130.8 203L131.6 204.9L133.7 205.1L132.1 206.5L132.6 208.6L130.8 207.5L128.9 208.6L129.4 206.5L127.8 205.1L129.9 204.9zM136.1 203.7L137 205.7L139.1 205.9L137.5 207.3L138 209.4L136.1 208.3L134.3 209.4L134.8 207.3L133.2 205.9L135.3 205.7zM141.5 204.4L142.3 206.4L144.5 206.6L142.9 208L143.4 210.1L141.5 209L139.7 210.1L140.2 208L138.5 206.6L140.7 206.4zM146.9 205.1L147.7 207.1L149.9 207.3L148.2 208.7L148.7 210.8L146.9 209.7L145.1 210.8L145.6 208.7L143.9 207.3L146.1 207.1zM152.3 205.8L153.1 207.8L155.3 208L153.6 209.4L154.1 211.5L152.3 210.4L150.4 211.5L150.9 209.4L149.3 208L151.5 207.8zM157.7 206.4L158.5 208.3L160.6 208.5L159 209.9L159.5 212L157.7 210.9L155.8 212L156.3 209.9L154.7 208.5L156.8 208.3zM163 206.9L163.9 208.9L166 209L164.4 210.4L164.9 212.5L163 211.4L161.2 212.5L161.7 210.4L160.1 209L162.2 208.9zM168.4 207.4L169.2 209.4L171.4 209.5L169.8 210.9L170.3 213L168.4 211.9L166.6 213L167.1 210.9L165.4 209.5L167.6 209.4zM173.8 207.9L174.6 209.9L176.8 210.1L175.1 211.5L175.6 213.6L173.8 212.4L172 213.6L172.5 211.5L170.8 210.1L173 209.9zM179.2 208L180 210L182.2 210.1L180.5 211.5L181 213.6L179.2 212.5L177.3 213.6L177.8 211.5L176.2 210.1L178.4 210zM184.6 208L185.4 210L187.5 210.1L185.9 211.5L186.4 213.6L184.6 212.5L182.7 213.6L183.2 211.5L181.6 210.1L183.7 210zM189.9 208L190.8 210L192.9 210.1L191.3 211.5L191.8 213.6L189.9 212.5L188.1 213.6L188.6 211.5L187 210.1L189.1 210zM195.3 208L196.1 210L198.3 210.1L196.7 211.5L197.2 213.6L195.3 212.5L193.5 213.6L194 211.5L192.3 210.1L194.5 210zM200.7 208L201.5 210L203.7 210.1L202 211.5L202.5 213.6L200.7 212.5L198.9 213.6L199.4 211.5L197.7 210.1L199.9 210zM206.1 208L206.9 210L209.1 210.1L207.4 211.5L207.9 213.6L206.1 212.5L204.2 213.6L204.7 211.5L203.1 210.1L205.3 210zM211.5 208L212.3 210L214.4 210.1L212.8 211.5L213.3 213.6L211.5 212.5L209.6 213.6L210.1 211.5L208.5 210.1L210.6 210zM216.8 208L217.7 210L219.8 210.1L218.2 211.5L218.7 213.6L216.8 212.5L215 213.6L215.5 211.5L213.9 210.1L216 210zM222.2 208L223 210L225.2 210.1L223.6 211.5L224.1 213.6L222.2 212.5L220.4 213.6L220.9 211.5L219.2 210.1L221.4 210zM227.6 208L228.4 210L230.6 210.1L228.9 211.5L229.4 213.6L227.6 212.5L225.8 213.6L226.3 211.5L224.6 210.1L226.8 210zM233 208L233.8 210L236 210.1L234.3 211.5L234.8 213.6L233 212.5L231.1 213.6L231.6 211.5L230 210.1L232.2 210zM238.4 208L239.2 210L241.3 210.1L239.7 211.5L240.2 213.6L238.4 212.5L236.5 213.6L237 211.5L235.4 210.1L237.5 210zM243.7 208L244.6 210L246.7 210.1L245.1 211.5L245.6 213.6L243.7 212.5L241.9 213.6L242.4 211.5L240.8 210.1L242.9 210zM249.1 208L249.9 210L252.1 210.1L250.5 211.5L251 213.6L249.1 212.5L247.3 213.6L247.8 211.5L246.1 210.1L248.3 210zM254.5 208L255.3 210L257.5 210.1L255.8 211.5L256.3 213.6L254.5 212.5L252.7 213.6L253.2 211.5L251.5 210.1L253.7 210zM259.9 208L260.7 210L262.9 210.1L261.2 211.5L261.7 213.6L259.9 212.5L258 213.6L258.5 211.5L256.9 210.1L259.1 210z" fill="#00ffff" opacity="1.0"/>
<path d="M39.2 177.5L52.5 182.8L65.8 187.3L79.1 191.7L100 197.1L120 201.3L129.1 202.9L143.6 205.1L155.3 207.3L174.5 211.1L260 211.1" stroke="#ff8000" stroke-width="1.3" fill="none" stroke-linejoin="round"/>
<path d="M39.3 175.1L41.8 177.6L39.3 180.1L36.8 177.6zM44.7 177.2L47.2 179.7L44.7 182.2L42.1 179.7zM50.1 179.3L52.6 181.8L50.1 184.4L47.5 181.8zM55.4 181.3L58 183.8L55.4 186.3L52.9 183.8zM60.8 183.1L63.3 185.6L60.8 188.2L58.3 185.6zM66.2 184.9L68.7 187.5L66.2 190L63.7 187.5zM71.6 186.7L74.1 189.2L71.6 191.7L69 189.2zM77 188.4L79.5 191L77 193.5L74.4 191zM82.3 190L84.9 192.5L82.3 195L79.8 192.5zM87.7 191.4L90.2 193.9L87.7 196.5L85.2 193.9zM93.1 192.8L95.6 195.3L93.1 197.9L90.6 195.3zM98.5 194.2L101 196.7L98.5 199.3L95.9 196.7zM103.9 195.4L106.4 197.9L103.9 200.5L101.3 197.9zM109.2 196.5L111.8 199.1L109.2 201.6L106.7 199.1zM114.6 197.7L117.1 200.2L114.6 202.7L112.1 200.2zM120 198.8L122.5 201.3L120 203.9L117.5 201.3zM125.4 199.7L127.9 202.3L125.4 204.8L122.8 202.3zM130.8 200.6L133.3 203.2L130.8 205.7L128.2 203.2zM136.1 201.4L138.7 204L136.1 206.5L133.6 204zM141.5 202.3L144 204.8L141.5 207.3L139 204.8zM146.9 203.2L149.4 205.7L146.9 208.3L144.4 205.7zM152.3 204.2L154.8 206.8L152.3 209.3L149.8 206.8zM157.7 205.3L160.2 207.8L157.7 210.3L155.1 207.8zM163 206.3L165.6 208.8L163 211.4L160.5 208.8zM168.4 207.4L171 209.9L168.4 212.4L165.9 209.9zM173.8 208.4L176.3 211L173.8 213.5L171.3 211zM179.2 208.6L181.7 211.1L179.2 213.6L176.7 211.1zM184.6 208.6L187.1 211.1L184.6 213.6L182 211.1zM189.9 208.6L192.5 211.1L189.9 213.6L187.4 211.1zM195.3 208.6L197.8 211.1L195.3 213.6L192.8 211.1zM200.7 208.6L203.2 211.1L200.7 213.6L198.2 211.1zM206.1 208.6L208.6 211.1L206.1 213.6L203.5 211.1zM211.5 208.6L214 211.1L211.5 213.6L208.9 211.1zM216.8 208.6L219.4 211.1L216.8 213.6L214.3 211.1zM222.2 208.6L224.7 211.1L222.2 213.6L219.7 211.1zM227.6 208.6L230.1 211.1L227.6 213.6L225.1 211.1zM233 208.6L235.5 211.1L233 213.6L230.5 211.1zM238.4 208.6L240.9 211.1L238.4 213.6L235.8 211.1zM243.7 208.6L246.3 211.1L243.7 213.6L241.2 211.1zM249.1 208.6L251.7 211.1L249.1 213.6L246.6 211.1zM254.5 208.6L257 211.1L254.5 213.6L252 211.1zM259.9 208.6L262.4 211.1L259.9 213.6L257.4 211.1z" fill="#ff8000" opacity="1.0"/>
<path d="M39.2 150.7L49 156.2L59.8 163.3L70.7 170.4L81.5 175.3L92.5 180.2L113.8 191.3L129.1 195.6L143.6 200.7L155.3 205.1L174.5 211.1L260 211.1" stroke="#0000ff" stroke-width="1.3" fill="none" stroke-linejoin="round"/>
<path d="M39.3 153.4L36.9 150.5A1.2 1.2 0 0 1 39.3 149.6A1.2 1.2 0 0 1 41.7 150.5zM44.7 156.4L42.3 153.6A1.2 1.2 0 0 1 44.7 152.6A1.2 1.2 0 0 1 47.1 153.6zM50.1 159.6L47.7 156.7A1.2 1.2 0 0 1 50.1 155.7A1.2 1.2 0 0 1 52.5 156.7zM55.4 163.1L53 160.2A1.2 1.2 0 0 1 55.4 159.2A1.2 1.2 0 0 1 57.8 160.2zM60.8 166.6L58.4 163.7A1.2 1.2 0 0 1 60.8 162.7A1.2 1.2 0 0 1 63.2 163.7zM66.2 170.1L63.8 167.2A1.2 1.2 0 0 1 66.2 166.3A1.2 1.2 0 0 1 68.6 167.2zM71.6 173.5L69.2 170.6A1.2 1.2 0 0 1 71.6 169.6A1.2 1.2 0 0 1 74 170.6zM77 175.9L74.6 173A1.2 1.2 0 0 1 77 172A1.2 1.2 0 0 1 79.4 173zM82.3 178.3L79.9 175.4A1.2 1.2 0 0 1 82.3 174.5A1.2 1.2 0 0 1 84.7 175.4zM87.7 180.7L85.3 177.8A1.2 1.2 0 0 1 87.7 176.9A1.2 1.2 0 0 1 90.1 177.8zM93.1 183.2L90.7 180.3A1.2 1.2 0 0 1 93.1 179.3A1.2 1.2 0 0 1 95.5 180.3zM98.5 186L96.1 183.1A1.2 1.2 0 0 1 98.5 182.1A1.2 1.2 0 0 1 100.9 183.1zM103.9 188.8L101.5 185.9A1.2 1.2 0 0 1 103.9 184.9A1.2 1.2 0 0 1 106.3 185.9zM109.2 191.6L106.8 188.7A1.2 1.2 0 0 1 109.2 187.7A1.2 1.2 0 0 1 111.6 188.7zM114.6 194.2L112.2 191.3A1.2 1.2 0 0 1 114.6 190.4A1.2 1.2 0 0 1 117 191.3zM120 195.7L117.6 192.8A1.2 1.2 0 0 1 120 191.8A1.2 1.2 0 0 1 122.4 192.8zM125.4 197.2L123 194.3A1.2 1.2 0 0 1 125.4 193.3A1.2 1.2 0 0 1 127.8 194.3zM130.8 198.8L128.4 195.9A1.2 1.2 0 0 1 130.8 195A1.2 1.2 0 0 1 133.2 195.9zM136.1 200.7L133.7 197.8A1.2 1.2 0 0 1 136.1 196.9A1.2 1.2 0 0 1 138.5 197.8zM141.5 202.6L139.1 199.7A1.2 1.2 0 0 1 141.5 198.8A1.2 1.2 0 0 1 143.9 199.7zM146.9 204.6L144.5 201.7A1.2 1.2 0 0 1 146.9 200.7A1.2 1.2 0 0 1 149.3 201.7zM152.3 206.6L149.9 203.7A1.2 1.2 0 0 1 152.3 202.8A1.2 1.2 0 0 1 154.7 203.7zM157.7 208.5L155.3 205.6A1.2 1.2 0 0 1 157.7 204.6A1.2 1.2 0 0 1 160.1 205.6zM163 210.2L160.6 207.3A1.2 1.2 0 0 1 163 206.3A1.2 1.2 0 0 1 165.4 207.3zM168.4 211.8L166 208.9A1.2 1.2 0 0 1 168.4 208A1.2 1.2 0 0 1 170.8 208.9zM173.8 213.5L171.4 210.6A1.2 1.2 0 0 1 173.8 209.7A1.2 1.2 0 0 1 176.2 210.6zM179.2 213.7L176.8 210.9A1.2 1.2 0 0 1 179.2 209.9A1.2 1.2 0 0 1 181.6 210.9zM184.6 213.7L182.2 210.9A1.2 1.2 0 0 1 184.6 209.9A1.2 1.2 0 0 1 187 210.9zM189.9 213.7L187.5 210.9A1.2 1.2 0 0 1 189.9 209.9A1.2 1.2 0 0 1 192.3 210.9zM195.3 213.7L192.9 210.9A1.2 1.2 0 0 1 195.3 209.9A1.2 1.2 0 0 1 197.7 210.9zM200.7 213.7L198.3 210.9A1.2 1.2 0 0 1 200.7 209.9A1.2 1.2 0 0 1 203.1 210.9zM206.1 213.7L203.7 210.9A1.2 1.2 0 0 1 206.1 209.9A1.2 1.2 0 0 1 208.5 210.9zM211.5 213.7L209.1 210.9A1.2 1.2 0 0 1 211.5 209.9A1.2 1.2 0 0 1 213.9 210.9zM216.8 213.7L214.4 210.9A1.2 1.2 0 0 1 216.8 209.9A1.2 1.2 0 0 1 219.2 210.9zM222.2 213.7L219.8 210.9A1.2 1.2 0 0 1 222.2 209.9A1.2 1.2 0 0 1 224.6 210.9zM227.6 213.7L225.2 210.9A1.2 1.2 0 0 1 227.6 209.9A1.2 1.2 0 0 1 230 210.9zM233 213.7L230.6 210.9A1.2 1.2 0 0 1 233 209.9A1.2 1.2 0 0 1 235.4 210.9zM238.4 213.7L236 210.9A1.2 1.2 0 0 1 238.4 209.9A1.2 1.2 0 0 1 240.8 210.9zM243.7 213.7L241.3 210.9A1.2 1.2 0 0 1 243.7 209.9A1.2 1.2 0 0 1 246.1 210.9zM249.1 213.7L246.7 210.9A1.2 1.2 0 0 1 249.1 209.9A1.2 1.2 0 0 1 251.5 210.9zM254.5 213.7L252.1 210.9A1.2 1.2 0 0 1 254.5 209.9A1.2 1.2 0 0 1 256.9 210.9zM259.9 213.7L257.5 210.9A1.2 1.2 0 0 1 259.9 209.9A1.2 1.2 0 0 1 262.3 210.9z" fill="#0000ff" opacity="1.0"/>
<path d="M39.2 164.4L49 167.1L59.8 169.8L70.7 173.6L81.5 176.4L92.5 179.6L120 187.7L143.6 194.9L158.2 200.7L169.8 206.5L174.5 211.1L260 211.1" stroke="#00ff00" stroke-width="1.3" fill="none" stroke-linejoin="round"/>
<path d="M39.3 161.7L41.7 164.6A1.2 1.2 0 0 1 39.5 165.5L40.1 167L38.5 167L39.1 165.5A1.2 1.2 0 0 1 36.9 164.6zM44.7 163.2L47.1 166.1A1.2 1.2 0 0 1 44.9 167L45.5 168.5L43.8 168.5L44.4 167A1.2 1.2 0 0 1 42.3 166.1zM50.1 164.6L52.5 167.5A1.2 1.2 0 0 1 50.3 168.5L50.9 169.9L49.2 169.9L49.8 168.5A1.2 1.2 0 0 1 47.7 167.5zM55.4 166L57.8 168.8A1.2 1.2 0 0 1 55.7 169.8L56.3 171.2L54.6 171.2L55.2 169.8A1.2 1.2 0 0 1 53 168.8zM60.8 167.4L63.2 170.3A1.2 1.2 0 0 1 61.1 171.2L61.7 172.7L60 172.7L60.6 171.2A1.2 1.2 0 0 1 58.4 170.3zM66.2 169.3L68.6 172.2A1.2 1.2 0 0 1 66.4 173.1L67 174.6L65.4 174.6L66 173.1A1.2 1.2 0 0 1 63.8 172.2zM71.6 171.1L74 174A1.2 1.2 0 0 1 71.8 174.9L72.4 176.4L70.7 176.4L71.3 174.9A1.2 1.2 0 0 1 69.2 174zM77 172.5L79.4 175.4A1.2 1.2 0 0 1 77.2 176.3L77.8 177.8L76.1 177.8L76.7 176.3A1.2 1.2 0 0 1 74.6 175.4zM82.3 173.9L84.7 176.8A1.2 1.2 0 0 1 82.6 177.7L83.2 179.2L81.5 179.2L82.1 177.7A1.2 1.2 0 0 1 79.9 176.8zM87.7 175.4L90.1 178.3A1.2 1.2 0 0 1 88 179.3L88.6 180.7L86.9 180.7L87.5 179.3A1.2 1.2 0 0 1 85.3 178.3zM93.1 177L95.5 179.9A1.2 1.2 0 0 1 93.3 180.8L93.9 182.3L92.3 182.3L92.9 180.8A1.2 1.2 0 0 1 90.7 179.9zM98.5 178.6L100.9 181.5A1.2 1.2 0 0 1 98.7 182.4L99.3 183.9L97.6 183.9L98.2 182.4A1.2 1.2 0 0 1 96.1 181.5zM103.9 180.2L106.3 183A1.2 1.2 0 0 1 104.1 184L104.7 185.4L103 185.4L103.6 184A1.2 1.2 0 0 1 101.5 183zM109.2 181.8L111.6 184.6A1.2 1.2 0 0 1 109.5 185.6L110.1 187L108.4 187L109 185.6A1.2 1.2 0 0 1 106.8 184.6zM114.6 183.3L117 186.2A1.2 1.2 0 0 1 114.9 187.2L115.5 188.6L113.8 188.6L114.4 187.2A1.2 1.2 0 0 1 112.2 186.2zM120 184.9L122.4 187.8A1.2 1.2 0 0 1 120.2 188.8L120.8 190.2L119.2 190.2L119.8 188.8A1.2 1.2 0 0 1 117.6 187.8zM125.4 186.6L127.8 189.5A1.2 1.2 0 0 1 125.6 190.4L126.2 191.9L124.5 191.9L125.1 190.4A1.2 1.2 0 0 1 123 189.5zM130.8 188.2L133.2 191.1A1.2 1.2 0 0 1 131 192.1L131.6 193.5L129.9 193.5L130.5 192.1A1.2 1.2 0 0 1 128.4 191.1zM136.1 189.9L138.5 192.7A1.2 1.2 0 0 1 136.4 193.7L137 195.1L135.3 195.1L135.9 193.7A1.2 1.2 0 0 1 133.7 192.7zM141.5 191.5L143.9 194.4A1.2 1.2 0 0 1 141.8 195.3L142.4 196.8L140.7 196.8L141.3 195.3A1.2 1.2 0 0 1 139.1 194.4zM146.9 193.4L149.3 196.3A1.2 1.2 0 0 1 147.1 197.3L147.7 198.7L146.1 198.7L146.7 197.3A1.2 1.2 0 0 1 144.5 196.3zM152.3 195.6L154.7 198.5A1.2 1.2 0 0 1 152.5 199.4L153.1 200.9L151.4 200.9L152 199.4A1.2 1.2 0 0 1 149.9 198.5zM157.7 197.7L160.1 200.6A1.2 1.2 0 0 1 157.9 201.6L158.5 203L156.8 203L157.4 201.6A1.2 1.2 0 0 1 155.3 200.6zM163 200.4L165.4 203.2A1.2 1.2 0 0 1 163.3 204.2L163.9 205.6L162.2 205.6L162.8 204.2A1.2 1.2 0 0 1 160.6 203.2zM168.4 203.1L170.8 205.9A1.2 1.2 0 0 1 168.7 206.9L169.3 208.3L167.6 208.3L168.2 206.9A1.2 1.2 0 0 1 166 205.9zM173.8 207.6L176.2 210.5A1.2 1.2 0 0 1 174 211.5L174.6 212.9L173 212.9L173.6 211.5A1.2 1.2 0 0 1 171.4 210.5zM179.2 208.3L181.6 211.2A1.2 1.2 0 0 1 179.4 212.2L180 213.6L178.3 213.6L178.9 212.2A1.2 1.2 0 0 1 176.8 211.2zM184.6 208.3L187 211.2A1.2 1.2 0 0 1 184.8 212.2L185.4 213.6L183.7 213.6L184.3 212.2A1.2 1.2 0 0 1 182.2 211.2zM189.9 208.3L192.3 211.2A1.2 1.2 0 0 1 190.2 212.2L190.8 213.6L189.1 213.6L189.7 212.2A1.2 1.2 0 0 1 187.5 211.2zM195.3 208.3L197.7 211.2A1.2 1.2 0 0 1 195.6 212.2L196.2 213.6L194.5 213.6L195.1 212.2A1.2 1.2 0 0 1 192.9 211.2zM200.7 208.3L203.1 211.2A1.2 1.2 0 0 1 200.9 212.2L201.5 213.6L199.9 213.6L200.5 212.2A1.2 1.2 0 0 1 198.3 211.2zM206.1 208.3L208.5 211.2A1.2 1.2 0 0 1 206.3 212.2L206.9 213.6L205.2 213.6L205.8 212.2A1.2 1.2 0 0 1 203.7 211.2zM211.5 208.3L213.9 211.2A1.2 1.2 0 0 1 211.7 212.2L212.3 213.6L210.6 213.6L211.2 212.2A1.2 1.2 0 0 1 209.1 211.2zM216.8 208.3L219.2 211.2A1.2 1.2 0 0 1 217.1 212.2L217.7 213.6L216 213.6L216.6 212.2A1.2 1.2 0 0 1 214.4 211.2zM222.2 208.3L224.6 211.2A1.2 1.2 0 0 1 222.5 212.2L223.1 213.6L221.4 213.6L222 212.2A1.2 1.2 0 0 1 219.8 211.2zM227.6 208.3L230 211.2A1.2 1.2 0 0 1 227.8 212.2L228.4 213.6L226.8 213.6L227.4 212.2A1.2 1.2 0 0 1 225.2 211.2zM233 208.3L235.4 211.2A1.2 1.2 0 0 1 233.2 212.2L233.8 213.6L232.1 213.6L232.7 212.2A1.2 1.2 0 0 1 230.6 211.2zM238.4 208.3L240.8 211.2A1.2 1.2 0 0 1 238.6 212.2L239.2 213.6L237.5 213.6L238.1 212.2A1.2 1.2 0 0 1 236 211.2zM243.7 208.3L246.1 211.2A1.2 1.2 0 0 1 244 212.2L244.6 213.6L242.9 213.6L243.5 212.2A1.2 1.2 0 0 1 241.3 211.2zM249.1 208.3L251.5 211.2A1.2 1.2 0 0 1 249.4 212.2L250 213.6L248.3 213.6L248.9 212.2A1.2 1.2 0 0 1 246.7 211.2zM254.5 208.3L256.9 211.2A1.2 1.2 0 0 1 254.7 212.2L255.3 213.6L253.7 213.6L254.3 212.2A1.2 1.2 0 0 1 252.1 211.2zM259.9 208.3L262.3 211.2A1.2 1.2 0 0 1 260.1 212.2L260.7 213.6L259 213.6L259.6 212.2A1.2 1.2 0 0 1 257.5 211.2z" fill="#00ff00" opacity="1.0"/>
<path d="M39.2 200L52.5 201.9L65.8 203.4L79.1 204.7L92.4 205.9L120 207.6L152.7 208.7L174.5 210.8L260 211.1" stroke="#800080" stroke-width="1.3" fill="none" stroke-linejoin="round"/>
<path d="M37.6 197.6h3.3v4.8h-3.3zM43 198.3h3.3v4.8h-3.3zM48.4 199.1h3.3v4.8h-3.3zM53.8 199.8h3.3v4.8h-3.3zM59.2 200.4h3.3v4.8h-3.3zM64.5 201h3.3v4.8h-3.3zM69.9 201.5h3.3v4.8h-3.3zM75.3 202h3.3v4.8h-3.3zM80.7 202.5h3.3v4.8h-3.3zM86.1 203h3.3v4.8h-3.3zM91.4 203.5h3.3v4.8h-3.3zM96.8 203.8h3.3v4.8h-3.3zM102.2 204.2h3.3v4.8h-3.3zM107.6 204.5h3.3v4.8h-3.3zM113 204.8h3.3v4.8h-3.3zM118.3 205.2h3.3v4.8h-3.3zM123.7 205.4h3.3v4.8h-3.3zM129.1 205.5h3.3v4.8h-3.3zM134.5 205.7h3.3v4.8h-3.3zM139.9 205.9h3.3v4.8h-3.3zM145.2 206h3.3v4.8h-3.3zM150.6 206.2h3.3v4.8h-3.3zM156 206.7h3.3v4.8h-3.3zM161.4 207.2h3.3v4.8h-3.3zM166.8 207.7h3.3v4.8h-3.3zM172.2 208.3h3.3v4.8h-3.3zM177.5 208.3h3.3v4.8h-3.3zM182.9 208.4h3.3v4.8h-3.3zM188.3 208.4h3.3v4.8h-3.3zM193.7 208.4h3.3v4.8h-3.3zM199 208.4h3.3v4.8h-3.3zM204.4 208.5h3.3v4.8h-3.3zM209.8 208.5h3.3v4.8h-3.3zM215.2 208.5h3.3v4.8h-3.3zM220.6 208.5h3.3v4.8h-3.3zM225.9 208.5h3.3v4.8h-3.3zM231.3 208.6h3.3v4.8h-3.3zM236.7 208.6h3.3v4.8h-3.3zM242.1 208.6h3.3v4.8h-3.3zM247.5 208.6h3.3v4.8h-3.3zM252.8 208.7h3.3v4.8h-3.3zM258.2 208.7h3.3v4.8h-3.3z" fill="#800080" opacity="1.0"/>
<path d="M39.2 167.6L49 169.8L59.8 172.5L70.7 175.8L81.5 178L92.5 180.7L120 190.1L129.1 192.7L143.6 198.5L158.2 203.6L169.8 208L174.5 211.1L260 211.1" stroke="#ff00ff" stroke-width="1.3" fill="none" stroke-linejoin="round"/>
<path d="M39.3 170.3L41.7 166L36.9 166zM44.7 171.5L47.1 167.2L42.3 167.2zM50.1 172.7L52.5 168.4L47.7 168.4zM55.4 174L57.8 169.7L53 169.7zM60.8 175.5L63.2 171.1L58.4 171.1zM66.2 177.1L68.6 172.8L63.8 172.8zM71.6 178.6L74 174.3L69.2 174.3zM77 179.7L79.4 175.4L74.6 175.4zM82.3 180.8L84.7 176.5L79.9 176.5zM87.7 182.1L90.1 177.8L85.3 177.8zM93.1 183.5L95.5 179.2L90.7 179.2zM98.5 185.4L100.9 181.1L96.1 181.1zM103.9 187.2L106.3 182.9L101.5 182.9zM109.2 189.1L111.6 184.8L106.8 184.8zM114.6 190.9L117 186.6L112.2 186.6zM120 192.8L122.4 188.5L117.6 188.5zM125.4 194.3L127.8 190L123 190zM130.8 196L133.2 191.7L128.4 191.7zM136.1 198.2L138.5 193.9L133.7 193.9zM141.5 200.3L143.9 196L139.1 196zM146.9 202.3L149.3 198L144.5 198zM152.3 204.2L154.7 199.9L149.9 199.9zM157.7 206.1L160.1 201.8L155.3 201.8zM163 208.1L165.4 203.8L160.6 203.8zM168.4 210.2L170.8 205.8L166 205.8zM173.8 213.3L176.2 208.9L171.4 208.9zM179.2 213.7L181.6 209.4L176.8 209.4zM184.6 213.7L187 209.4L182.2 209.4zM189.9 213.7L192.3 209.4L187.5 209.4zM195.3 213.7L197.7 209.4L192.9 209.4zM200.7 213.7L203.1 209.4L198.3 209.4zM206.1 213.7L208.5 209.4L203.7 209.4zM211.5 213.7L213.9 209.4L209.1 209.4zM216.8 213.7L219.2 209.4L214.4 209.4zM222.2 213.7L224.6 209.4L219.8 209.4zM227.6 213.7L230 209.4L225.2 209.4zM233 213.7L235.4 209.4L230.6 209.4zM238.4 213.7L240.8 209.4L236 209.4zM243.7 213.7L246.1 209.4L241.3 209.4zM249.1 213.7L251.5 209.4L246.7 209.4zM254.5 213.7L256.9 209.4L252.1 209.4zM259.9 213.7L262.3 209.4L257.5 209.4z" fill="#ff00ff" opacity="1.0"/>
<rect x="185.4" y="154.4" width="42.2" height="91.7" fill="#fff" stroke="#555" stroke-width="1"/>
<path d="M190.5 161h3.8v3.8h-3.8z" fill="#000000"/>
<text x="208.7" y="165.5" class="li" fill="#000" font-size="10">q</text>
<path d="M189.6 172.7a2.8 2.8 0 1 0 5.6 0a2.8 2.8 0 1 0 -5.6 0z" fill="#ff0000"/>
<text x="208.7" y="175.2" text-anchor="middle" fill="#ff0000" font-size="8" font-family='"Liberation Sans", sans-serif'>m</text>
<path d="M192.4 179.1L194.9 183.6L189.9 183.6z" fill="#606060"/>
<text x="208.7" y="180.2" text-anchor="middle" fill="#aaa" font-size="4.8" font-family='"Liberation Serif", serif' font-style="italic">γ · (P−W)</text>
<path d="M197.7 182H219.7" stroke="#b0b0b0" stroke-width="0.6"/>
<path d="M192.4 189.6L193.3 191.8L195.7 192L193.9 193.6L194.5 195.9L192.4 194.7L190.3 195.9L190.9 193.6L189.1 192L191.5 191.8z" fill="#00ffff"/>
<text x="208.7" y="190.5" text-anchor="middle" fill="#c8a0a0" font-size="5" font-family='"Liberation Sans", sans-serif'>^</text>
<text x="208.7" y="196.1" text-anchor="middle" fill="#00ffff" font-size="9.5" font-family='"Liberation Sans", sans-serif' font-style="italic">c</text>
<path d="M192.4 199.6L195 202.2L192.4 204.8L189.8 202.2z" fill="#ff8000"/>
<text x="208.7" y="205" text-anchor="middle" fill="#ff8000" font-size="8.6" font-family='"Liberation Sans", sans-serif' font-style="italic">σ+q</text>
<path d="M192.4 212.8L189.9 209.8A1.3 1.3 0 0 1 192.4 208.8A1.3 1.3 0 0 1 194.9 209.8z" fill="#0000ff"/>
<text x="208.7" y="212.4" text-anchor="middle" fill="#0000ff" font-size="8.6" font-family='"Liberation Serif", serif' font-style="italic" font-weight="bold">L<tspan font-size="6.2" dy="1.8">q</tspan></text>
<path d="M192.4 215.7L194.9 218.7A1.2 1.2 0 0 1 192.7 219.7L193.3 221.2L191.5 221.2L192.2 219.7A1.2 1.2 0 0 1 189.9 218.7z" fill="#00ff00"/>
<text x="208.7" y="221" text-anchor="middle" fill="#00ff00" font-size="8.6" font-family='"Liberation Serif", serif' font-style="italic" font-weight="bold">L<tspan font-size="6.2" dy="1.8">a</tspan></text>
<path d="M190.8 226.2h3.2v4.6h-3.2z" fill="#800080"/>
<text x="208.7" y="231.5" text-anchor="middle" fill="#800080" font-size="8.6" font-family='"Liberation Serif", serif' font-weight="bold">10<tspan font-style="italic" font-weight="normal" fill="#d080d0">ϕ</tspan></text>
<path d="M192.4 239.8L194.9 235.2L189.9 235.2z" fill="#ff00ff"/>
<text x="208.7" y="239.6" text-anchor="middle" fill="#ff00ff" font-size="9.5" font-family='"Liberation Sans", sans-serif' font-style="italic">u</text>
<path d="M185.4 211.1H227.6" stroke="#b3b3b3" stroke-width="0.9"/>
<text x="199.7" y="221.1" text-anchor="middle" class="t">0.15</text>
<text x="254.9" y="153.9" text-anchor="middle" class="t" textLength="8" lengthAdjust="spacingAndGlyphs">b1</text>
<path d="M309.5 169.2H537M309.5 195.9H537M309.5 222.6H537M309.5 276H537M363.3 148V284M418 148V284M472.7 148V284M527.4 148V284" stroke="#f2f2f2" stroke-width="0.8" fill="none"/>
<path d="M309.5 148V284" stroke="#d8d8d8" stroke-width="0.8" fill="none"/>
<path d="M309.5 249.3H537" stroke="#c0c0c0" stroke-width="0.9" fill="none"/>
<path d="M330.6 150V284" stroke="#3a3a3a" stroke-width="1.5" stroke-dasharray="2.3 4.2" fill="none"/>
<text x="306.6" y="172.2" text-anchor="end" class="t" textLength="22.9" lengthAdjust="spacingAndGlyphs">15 000</text>
<text x="306.6" y="198.9" text-anchor="end" class="t" textLength="22.9" lengthAdjust="spacingAndGlyphs">10 000</text>
<text x="306.6" y="225.6" text-anchor="end" class="t" textLength="17.6" lengthAdjust="spacingAndGlyphs">5000</text>
<text x="306.6" y="252.3" text-anchor="end" class="t" textLength="4.4" lengthAdjust="spacingAndGlyphs">0</text>
<text x="306.6" y="279" text-anchor="end" class="t" textLength="20.4" lengthAdjust="spacingAndGlyphs">-5000</text>
<text x="363.3" y="259.3" text-anchor="middle" class="t" textLength="15.4" lengthAdjust="spacingAndGlyphs">0.05</text>
<text x="418" y="259.3" text-anchor="middle" class="t" textLength="15.4" lengthAdjust="spacingAndGlyphs">0.10</text>
<text x="472.7" y="259.3" text-anchor="middle" class="t" textLength="15.4" lengthAdjust="spacingAndGlyphs">0.15</text>
<text x="527.4" y="259.3" text-anchor="middle" class="t" textLength="15.4" lengthAdjust="spacingAndGlyphs">0.20</text>
<text x="504" y="259" text-anchor="middle" fill="#333" font-size="9.5" font-family='"Liberation Serif", serif' font-style="italic">l<tspan font-size="6.5" dy="2">q</tspan></text>
<path d="M309.5 173.5L446.5 151.6L529.4 151.6" stroke="#000" stroke-width="2.0" fill="none" stroke-linejoin="round"/>
<path d="M308.1 172.2h2.9v2.9h-2.9zM313.5 171.3h2.9v2.9h-2.9zM319 170.5h2.9v2.9h-2.9zM324.5 169.6h2.9v2.9h-2.9zM329.9 168.7h2.9v2.9h-2.9zM335.4 167.8h2.9v2.9h-2.9zM340.9 167h2.9v2.9h-2.9zM346.3 166.1h2.9v2.9h-2.9zM351.8 165.2h2.9v2.9h-2.9zM357.3 164.4h2.9v2.9h-2.9zM362.8 163.5h2.9v2.9h-2.9zM368.2 162.6h2.9v2.9h-2.9zM373.7 161.7h2.9v2.9h-2.9zM379.2 160.9h2.9v2.9h-2.9zM384.6 160h2.9v2.9h-2.9zM390.1 159.1h2.9v2.9h-2.9zM395.6 158.2h2.9v2.9h-2.9zM401 157.4h2.9v2.9h-2.9zM406.5 156.5h2.9v2.9h-2.9zM412 155.6h2.9v2.9h-2.9zM417.4 154.7h2.9v2.9h-2.9zM422.9 153.9h2.9v2.9h-2.9zM428.4 153h2.9v2.9h-2.9zM433.9 152.1h2.9v2.9h-2.9zM439.3 151.2h2.9v2.9h-2.9zM444.8 150.4h2.9v2.9h-2.9zM450.3 150.3h2.9v2.9h-2.9zM455.7 150.3h2.9v2.9h-2.9zM461.2 150.3h2.9v2.9h-2.9zM466.7 150.3h2.9v2.9h-2.9zM472.2 150.3h2.9v2.9h-2.9zM477.6 150.3h2.9v2.9h-2.9zM483.1 150.3h2.9v2.9h-2.9zM488.6 150.3h2.9v2.9h-2.9zM494 150.3h2.9v2.9h-2.9zM499.5 150.3h2.9v2.9h-2.9zM505 150.3h2.9v2.9h-2.9zM510.4 150.3h2.9v2.9h-2.9zM515.9 150.3h2.9v2.9h-2.9zM521.4 150.3h2.9v2.9h-2.9zM526.8 150.3h2.9v2.9h-2.9z" stroke="#444" stroke-width="0.8" fill="none" opacity="0.85"/>
<path d="M309.5 183.2L446.5 181.1L529.4 181.1" stroke="#ff0000" stroke-width="2.0" fill="none" stroke-linejoin="round"/>
<path d="M307.2 183.4a2.3 2.3 0 1 0 4.6 0a2.3 2.3 0 1 0 -4.6 0zM312.7 183.3a2.3 2.3 0 1 0 4.6 0a2.3 2.3 0 1 0 -4.6 0zM318.1 183.2a2.3 2.3 0 1 0 4.6 0a2.3 2.3 0 1 0 -4.6 0zM323.6 183.1a2.3 2.3 0 1 0 4.6 0a2.3 2.3 0 1 0 -4.6 0zM329.1 183.1a2.3 2.3 0 1 0 4.6 0a2.3 2.3 0 1 0 -4.6 0zM334.6 183a2.3 2.3 0 1 0 4.6 0a2.3 2.3 0 1 0 -4.6 0zM340 182.9a2.3 2.3 0 1 0 4.6 0a2.3 2.3 0 1 0 -4.6 0zM345.5 182.8a2.3 2.3 0 1 0 4.6 0a2.3 2.3 0 1 0 -4.6 0zM351 182.7a2.3 2.3 0 1 0 4.6 0a2.3 2.3 0 1 0 -4.6 0zM356.4 182.6a2.3 2.3 0 1 0 4.6 0a2.3 2.3 0 1 0 -4.6 0zM361.9 182.6a2.3 2.3 0 1 0 4.6 0a2.3 2.3 0 1 0 -4.6 0zM367.4 182.5a2.3 2.3 0 1 0 4.6 0a2.3 2.3 0 1 0 -4.6 0zM372.8 182.4a2.3 2.3 0 1 0 4.6 0a2.3 2.3 0 1 0 -4.6 0zM378.3 182.3a2.3 2.3 0 1 0 4.6 0a2.3 2.3 0 1 0 -4.6 0zM383.8 182.2a2.3 2.3 0 1 0 4.6 0a2.3 2.3 0 1 0 -4.6 0zM389.2 182.1a2.3 2.3 0 1 0 4.6 0a2.3 2.3 0 1 0 -4.6 0zM394.7 182.1a2.3 2.3 0 1 0 4.6 0a2.3 2.3 0 1 0 -4.6 0zM400.2 182a2.3 2.3 0 1 0 4.6 0a2.3 2.3 0 1 0 -4.6 0zM405.7 181.9a2.3 2.3 0 1 0 4.6 0a2.3 2.3 0 1 0 -4.6 0zM411.1 181.8a2.3 2.3 0 1 0 4.6 0a2.3 2.3 0 1 0 -4.6 0zM416.6 181.7a2.3 2.3 0 1 0 4.6 0a2.3 2.3 0 1 0 -4.6 0zM422.1 181.6a2.3 2.3 0 1 0 4.6 0a2.3 2.3 0 1 0 -4.6 0zM427.5 181.6a2.3 2.3 0 1 0 4.6 0a2.3 2.3 0 1 0 -4.6 0zM433 181.5a2.3 2.3 0 1 0 4.6 0a2.3 2.3 0 1 0 -4.6 0zM438.5 181.4a2.3 2.3 0 1 0 4.6 0a2.3 2.3 0 1 0 -4.6 0zM443.9 181.3a2.3 2.3 0 1 0 4.6 0a2.3 2.3 0 1 0 -4.6 0zM449.4 181.3a2.3 2.3 0 1 0 4.6 0a2.3 2.3 0 1 0 -4.6 0zM454.9 181.3a2.3 2.3 0 1 0 4.6 0a2.3 2.3 0 1 0 -4.6 0zM460.4 181.3a2.3 2.3 0 1 0 4.6 0a2.3 2.3 0 1 0 -4.6 0zM465.8 181.3a2.3 2.3 0 1 0 4.6 0a2.3 2.3 0 1 0 -4.6 0zM471.3 181.3a2.3 2.3 0 1 0 4.6 0a2.3 2.3 0 1 0 -4.6 0zM476.8 181.3a2.3 2.3 0 1 0 4.6 0a2.3 2.3 0 1 0 -4.6 0zM482.2 181.3a2.3 2.3 0 1 0 4.6 0a2.3 2.3 0 1 0 -4.6 0zM487.7 181.3a2.3 2.3 0 1 0 4.6 0a2.3 2.3 0 1 0 -4.6 0zM493.2 181.3a2.3 2.3 0 1 0 4.6 0a2.3 2.3 0 1 0 -4.6 0zM498.6 181.3a2.3 2.3 0 1 0 4.6 0a2.3 2.3 0 1 0 -4.6 0zM504.1 181.3a2.3 2.3 0 1 0 4.6 0a2.3 2.3 0 1 0 -4.6 0zM509.6 181.3a2.3 2.3 0 1 0 4.6 0a2.3 2.3 0 1 0 -4.6 0zM515.1 181.3a2.3 2.3 0 1 0 4.6 0a2.3 2.3 0 1 0 -4.6 0zM520.5 181.3a2.3 2.3 0 1 0 4.6 0a2.3 2.3 0 1 0 -4.6 0zM526 181.3a2.3 2.3 0 1 0 4.6 0a2.3 2.3 0 1 0 -4.6 0z" stroke="#f03838" stroke-width="0.8" fill="none" opacity="0.85"/>
<path d="M309.5 248.8L446.5 252.8L529.4 252.8" stroke="#808080" stroke-width="2.0" fill="none" stroke-linejoin="round"/>
<path d="M309.5 247L311.3 250.2L307.7 250.2zM315 247.1L316.8 250.4L313.2 250.4zM320.4 247.3L322.2 250.5L318.6 250.5zM325.9 247.5L327.7 250.7L324.1 250.7zM331.4 247.6L333.2 250.9L329.6 250.9zM336.9 247.8L338.7 251L335.1 251zM342.3 247.9L344.1 251.2L340.5 251.2zM347.8 248.1L349.6 251.3L346 251.3zM353.3 248.3L355.1 251.5L351.5 251.5zM358.7 248.4L360.5 251.7L356.9 251.7zM364.2 248.6L366 251.8L362.4 251.8zM369.7 248.7L371.5 252L367.9 252zM375.1 248.9L376.9 252.1L373.3 252.1zM380.6 249.1L382.4 252.3L378.8 252.3zM386.1 249.2L387.9 252.5L384.3 252.5zM391.6 249.4L393.4 252.6L389.8 252.6zM397 249.5L398.8 252.8L395.2 252.8zM402.5 249.7L404.3 252.9L400.7 252.9zM408 249.9L409.8 253.1L406.2 253.1zM413.4 250L415.2 253.3L411.6 253.3zM418.9 250.2L420.7 253.4L417.1 253.4zM424.4 250.3L426.2 253.6L422.6 253.6zM429.8 250.5L431.6 253.7L428 253.7zM435.3 250.7L437.1 253.9L433.5 253.9zM440.8 250.8L442.6 254.1L439 254.1zM446.2 251L448.1 254.2L444.4 254.2zM451.7 251L453.5 254.2L449.9 254.2zM457.2 251L459 254.2L455.4 254.2zM462.7 251L464.5 254.2L460.9 254.2zM468.1 251L469.9 254.2L466.3 254.2zM473.6 251L475.4 254.2L471.8 254.2zM479.1 251L480.9 254.2L477.3 254.2zM484.5 251L486.3 254.2L482.7 254.2zM490 251L491.8 254.2L488.2 254.2zM495.5 251L497.3 254.2L493.7 254.2zM500.9 251L502.8 254.2L499.1 254.2zM506.4 251L508.2 254.2L504.6 254.2zM511.9 251L513.7 254.2L510.1 254.2zM517.4 251L519.2 254.2L515.6 254.2zM522.8 251L524.6 254.2L521 254.2zM528.3 251L530.1 254.2L526.5 254.2z" stroke="#a0a0a0" stroke-width="0.8" fill="none" opacity="0.85"/>
<path d="M309.5 173.5L446.5 197.8L529.4 197.8" stroke="#ff8000" stroke-width="2.0" fill="none" stroke-linejoin="round"/>
<path d="M309.5 171.6L311.6 173.7L309.5 175.7L307.4 173.7zM315 172.6L317 174.6L315 176.7L312.9 174.6zM320.4 173.5L322.5 175.6L320.4 177.7L318.4 175.6zM325.9 174.5L328 176.6L325.9 178.7L323.8 176.6zM331.4 175.5L333.4 177.6L331.4 179.6L329.3 177.6zM336.9 176.5L338.9 178.5L336.9 180.6L334.8 178.5zM342.3 177.4L344.4 179.5L342.3 181.6L340.2 179.5zM347.8 178.4L349.9 180.5L347.8 182.5L345.7 180.5zM353.3 179.4L355.3 181.5L353.3 183.5L351.2 181.5zM358.7 180.4L360.8 182.4L358.7 184.5L356.7 182.4zM364.2 181.3L366.3 183.4L364.2 185.5L362.1 183.4zM369.7 182.3L371.7 184.4L369.7 186.4L367.6 184.4zM375.1 183.3L377.2 185.3L375.1 187.4L373.1 185.3zM380.6 184.2L382.7 186.3L380.6 188.4L378.5 186.3zM386.1 185.2L388.1 187.3L386.1 189.4L384 187.3zM391.6 186.2L393.6 188.3L391.6 190.3L389.5 188.3zM397 187.2L399.1 189.2L397 191.3L394.9 189.2zM402.5 188.1L404.6 190.2L402.5 192.3L400.4 190.2zM408 189.1L410 191.2L408 193.2L405.9 191.2zM413.4 190.1L415.5 192.1L413.4 194.2L411.4 192.1zM418.9 191.1L421 193.1L418.9 195.2L416.8 193.1zM424.4 192L426.4 194.1L424.4 196.2L422.3 194.1zM429.8 193L431.9 195.1L429.8 197.1L427.8 195.1zM435.3 194L437.4 196L435.3 198.1L433.2 196zM440.8 194.9L442.8 197L440.8 199.1L438.7 197zM446.2 195.9L448.3 198L446.2 200.1L444.2 198zM451.7 196L453.8 198L451.7 200.1L449.7 198zM457.2 196L459.3 198L457.2 200.1L455.1 198zM462.7 196L464.7 198L462.7 200.1L460.6 198zM468.1 196L470.2 198L468.1 200.1L466.1 198zM473.6 196L475.7 198L473.6 200.1L471.5 198zM479.1 196L481.1 198L479.1 200.1L477 198zM484.5 196L486.6 198L484.5 200.1L482.5 198zM490 196L492.1 198L490 200.1L487.9 198zM495.5 196L497.6 198L495.5 200.1L493.4 198zM500.9 196L503 198L500.9 200.1L498.9 198zM506.4 196L508.5 198L506.4 200.1L504.3 198zM511.9 196L514 198L511.9 200.1L509.8 198zM517.4 196L519.4 198L517.4 200.1L515.3 198zM522.8 196L524.9 198L522.8 200.1L520.8 198zM528.3 196L530.4 198L528.3 200.1L526.2 198z" stroke="#ffa040" stroke-width="0.8" fill="none" opacity="0.85"/>
<path d="M309.5 161L446.5 156.9L529.4 156.9" stroke="#ff00ff" stroke-width="2.0" fill="none" stroke-linejoin="round"/>
<path d="M309.5 163.2L311.3 159.9L307.7 159.9zM315 163L316.8 159.8L313.2 159.8zM320.4 162.8L322.2 159.6L318.6 159.6zM325.9 162.7L327.7 159.4L324.1 159.4zM331.4 162.5L333.2 159.3L329.6 159.3zM336.9 162.3L338.7 159.1L335.1 159.1zM342.3 162.2L344.1 158.9L340.5 158.9zM347.8 162L349.6 158.8L346 158.8zM353.3 161.9L355.1 158.6L351.5 158.6zM358.7 161.7L360.5 158.5L356.9 158.5zM364.2 161.5L366 158.3L362.4 158.3zM369.7 161.4L371.5 158.1L367.9 158.1zM375.1 161.2L376.9 158L373.3 158zM380.6 161L382.4 157.8L378.8 157.8zM386.1 160.9L387.9 157.6L384.3 157.6zM391.6 160.7L393.4 157.5L389.8 157.5zM397 160.6L398.8 157.3L395.2 157.3zM402.5 160.4L404.3 157.2L400.7 157.2zM408 160.2L409.8 157L406.2 157zM413.4 160.1L415.2 156.8L411.6 156.8zM418.9 159.9L420.7 156.7L417.1 156.7zM424.4 159.8L426.2 156.5L422.6 156.5zM429.8 159.6L431.6 156.4L428 156.4zM435.3 159.4L437.1 156.2L433.5 156.2zM440.8 159.3L442.6 156L439 156zM446.2 159.1L448.1 155.9L444.4 155.9zM451.7 159.1L453.5 155.9L449.9 155.9zM457.2 159.1L459 155.9L455.4 155.9zM462.7 159.1L464.5 155.9L460.9 155.9zM468.1 159.1L469.9 155.9L466.3 155.9zM473.6 159.1L475.4 155.9L471.8 155.9zM479.1 159.1L480.9 155.9L477.3 155.9zM484.5 159.1L486.3 155.9L482.7 155.9zM490 159.1L491.8 155.9L488.2 155.9zM495.5 159.1L497.3 155.9L493.7 155.9zM500.9 159.1L502.8 155.9L499.1 155.9zM506.4 159.1L508.2 155.9L504.6 155.9zM511.9 159.1L513.7 155.9L510.1 155.9zM517.4 159.1L519.2 155.9L515.6 155.9zM522.8 159.1L524.6 155.9L521 155.9zM528.3 159.1L530.1 155.9L526.5 155.9z" stroke="#ff60ff" stroke-width="0.8" fill="none" opacity="0.85"/>
<path d="M309.5 230.7L446.5 281.4L529.4 281.4" stroke="#00aa00" stroke-width="2.0" fill="none" stroke-linejoin="round"/>
<path d="M307.8 230.9h3.4M309.5 229.2v3.4M313.3 232.9h3.4M315 231.2v3.4M318.7 235h3.4M320.4 233.3v3.4M324.2 237h3.4M325.9 235.3v3.4M329.7 239h3.4M331.4 237.3v3.4M335.2 241h3.4M336.9 239.3v3.4M340.6 243.1h3.4M342.3 241.4v3.4M346.1 245.1h3.4M347.8 243.4v3.4M351.6 247.1h3.4M353.3 245.4v3.4M357 249.1h3.4M358.7 247.4v3.4M362.5 251.2h3.4M364.2 249.5v3.4M368 253.2h3.4M369.7 251.5v3.4M373.4 255.2h3.4M375.1 253.5v3.4M378.9 257.2h3.4M380.6 255.5v3.4M384.4 259.3h3.4M386.1 257.6v3.4M389.9 261.3h3.4M391.6 259.6v3.4M395.3 263.3h3.4M397 261.6v3.4M400.8 265.3h3.4M402.5 263.6v3.4M406.3 267.3h3.4M408 265.6v3.4M411.7 269.4h3.4M413.4 267.7v3.4M417.2 271.4h3.4M418.9 269.7v3.4M422.7 273.4h3.4M424.4 271.7v3.4M428.1 275.4h3.4M429.8 273.7v3.4M433.6 277.5h3.4M435.3 275.8v3.4M439.1 279.5h3.4M440.8 277.8v3.4M444.6 281.5h3.4M446.2 279.8v3.4M450 281.6h3.4M451.7 279.9v3.4M455.5 281.6h3.4M457.2 279.9v3.4M461 281.6h3.4M462.7 279.9v3.4M466.4 281.6h3.4M468.1 279.9v3.4M471.9 281.6h3.4M473.6 279.9v3.4M477.4 281.6h3.4M479.1 279.9v3.4M482.8 281.6h3.4M484.5 279.9v3.4M488.3 281.6h3.4M490 279.9v3.4M493.8 281.6h3.4M495.5 279.9v3.4M499.2 281.6h3.4M500.9 279.9v3.4M504.7 281.6h3.4M506.4 279.9v3.4M510.2 281.6h3.4M511.9 279.9v3.4M515.7 281.6h3.4M517.4 279.9v3.4M521.1 281.6h3.4M522.8 279.9v3.4M526.6 281.6h3.4M528.3 279.9v3.4" stroke="#00aa00" stroke-width="0.8" fill="none" opacity="0.85"/>
<rect x="458.7" y="188.3" width="58.2" height="61.5" fill="#fff" stroke="#555" stroke-width="1"/>
<path d="M463.5 196.4h3.6v3.6h-3.6z" stroke="#222" stroke-width="0.8" fill="none"/>
<path d="M462.4 206.9a2.9 2.9 0 1 0 5.8 0a2.9 2.9 0 1 0 -5.8 0z" stroke="#ff6060" stroke-width="0.8" fill="none"/>
<path d="M465.3 213.9L467.6 218L463 218z" stroke="#a0a0a0" stroke-width="0.8" fill="none"/>
<path d="M465.3 221.6L468.1 224.4L465.3 227.2L462.5 224.4z" stroke="#ffa040" stroke-width="0.8" fill="none"/>
<path d="M465.3 235.2L467.8 230.7L462.8 230.7z" stroke="#ff40ff" stroke-width="0.8" fill="none"/>
<path d="M462.7 241.1h5.2M465.3 238.5v5.2" stroke="#00a000" stroke-width="1.3" fill="none"/>
<text x="490" y="201.6" class="ls" fill="#000">Q</text>
<text x="490" y="210.3" class="ls" fill="#ff0000">M</text>
<text x="468.5" y="218.8" fill="#a0a0a0" font-size="6.6" font-family='"Liberation Mono", monospace'>(1-<tspan font-style="italic">γ</tspan>) (<tspan font-style="italic">P</tspan>-<tspan font-style="italic">W</tspan>)</text>
<text x="490" y="227.8" class="ls" fill="#ff8000">G</text>
<text x="490" y="235.8" class="ls" fill="#ff00ff">U</text>
<text x="490" y="244.3" text-anchor="middle" fill="#00aa00" font-size="8.8" font-family='"Liberation Mono", monospace' font-weight="bold">10<tspan font-size="6" dy="-3.6" font-family='"Liberation Sans", sans-serif' font-weight="normal">5</tspan><tspan dy="3.6" font-family='"Liberation Serif", serif' font-style="italic" font-weight="normal" fill="#50b050">π</tspan></text>
<text x="528.5" y="167.6" text-anchor="middle" class="t" textLength="8" lengthAdjust="spacingAndGlyphs">b2</text>
<path d="M39 302.3H262M39 338.1H262M39 373.9H262M92.9 288V424M147.1 288V424M201.3 288V424M255.5 288V424" stroke="#f2f2f2" stroke-width="0.8" fill="none"/>
<path d="M39 288V424" stroke="#d8d8d8" stroke-width="0.8" fill="none"/>
<path d="M39 409.7H262" stroke="#c0c0c0" stroke-width="0.9" fill="none"/>
<path d="M40.3 290V424" stroke="#3a3a3a" stroke-width="1.5" stroke-dasharray="2.3 4.2" fill="none"/>
<text x="36.4" y="305.3" text-anchor="end" class="t" textLength="22.9" lengthAdjust="spacingAndGlyphs">15 000</text>
<text x="36.4" y="341.1" text-anchor="end" class="t" textLength="22.9" lengthAdjust="spacingAndGlyphs">10 000</text>
<text x="36.4" y="376.9" text-anchor="end" class="t" textLength="17.6" lengthAdjust="spacingAndGlyphs">5000</text>
<text x="36.4" y="412.7" text-anchor="end" class="t" textLength="4.4" lengthAdjust="spacingAndGlyphs">0</text>
<text x="92.9" y="419.6" text-anchor="middle" class="t" textLength="11.0" lengthAdjust="spacingAndGlyphs">0.5</text>
<text x="147.1" y="419.6" text-anchor="middle" class="t" textLength="11.0" lengthAdjust="spacingAndGlyphs">1.0</text>
<text x="201.3" y="419.6" text-anchor="middle" class="t" textLength="11.0" lengthAdjust="spacingAndGlyphs">1.5</text>
<text x="255.5" y="419.6" text-anchor="middle" class="t" textLength="11.0" lengthAdjust="spacingAndGlyphs">2.0</text>
<text x="235.5" y="419" text-anchor="middle" fill="#333" font-size="9.5" font-family='"Liberation Serif", serif' font-style="italic">l<tspan font-size="6.5" dy="2">m</tspan></text>
<path d="M38.7 403.3L41.1 402.7L43.6 402.1L46 401.6L48.4 401.1L50.9 400.7L53.3 400.2L55.8 399.9L58.2 399.5L60.6 399.2L63.1 399L65.5 398.8L67.9 398.6L70.4 398.4L72.8 398.2L75.2 398.1L77.7 398L80.1 397.9L82.5 397.9L85 397.9L87.4 397.9L89.9 397.9L92.3 398L94.7 398L97.2 398.1L99.6 398.1L102 398.2L104.5 398.4L106.9 398.6L109.3 398.9L111.8 399.2L114.2 399.6L116.7 399.9L119.1 400.2L121.5 400.6L124 400.9L126.4 401.3L128.8 401.7L131.3 402L133.7 402.3L136.1 402.6L138.6 402.9L141 403.1L143.4 403.4L145.9 403.6L148.3 403.8L150.8 404L153.2 404.2L155.6 404.5L158.1 404.7L160.5 404.9L162.9 405.1L165.4 405.3L167.8 405.6L170.2 405.8L172.7 406L175.1 406.2L177.5 406.4L180 406.6L182.4 406.8L184.9 407L187.3 407.2L189.7 407.3L192.2 407.5L194.6 407.6L197 407.7L199.5 407.8L201.9 407.9L204.3 408L206.8 408.1L209.2 408.2L211.7 408.2L214.1 408.3L216.5 408.4L219 408.4L221.4 408.5L223.8 408.6L226.3 408.6L228.7 408.7L231.1 408.7L233.6 408.8L236 408.8L238.4 408.8L240.9 408.9L243.3 408.9L245.8 408.9L248.2 409L250.6 409L253.1 409L255.5 409" stroke="#000000" stroke-width="1.3" fill="none" stroke-linejoin="round"/>
<path d="M36.7 401.3h4v4h-4zM42.1 400h4v4h-4zM47.5 398.9h4v4h-4zM53 398h4v4h-4zM58.4 397.2h4v4h-4zM63.8 396.7h4v4h-4zM69.2 396.3h4v4h-4zM74.6 396h4v4h-4zM80.1 395.9h4v4h-4zM85.5 395.9h4v4h-4zM90.9 396h4v4h-4zM96.3 396.1h4v4h-4zM101.7 396.3h4v4h-4zM107.2 396.9h4v4h-4zM112.6 397.6h4v4h-4zM118 398.3h4v4h-4zM123.4 399.2h4v4h-4zM128.8 400h4v4h-4zM134.3 400.6h4v4h-4zM139.7 401.2h4v4h-4zM145.1 401.7h4v4h-4zM150.5 402.2h4v4h-4zM155.9 402.7h4v4h-4zM161.4 403.1h4v4h-4zM166.8 403.6h4v4h-4zM172.2 404.1h4v4h-4zM177.6 404.6h4v4h-4zM183 405h4v4h-4zM188.5 405.4h4v4h-4zM193.9 405.7h4v4h-4zM199.3 405.9h4v4h-4zM204.7 406.1h4v4h-4zM210.1 406.2h4v4h-4zM215.6 406.4h4v4h-4zM221 406.5h4v4h-4zM226.4 406.7h4v4h-4zM231.8 406.8h4v4h-4zM237.2 406.9h4v4h-4zM242.7 406.9h4v4h-4zM248.1 407h4v4h-4zM253.5 407h4v4h-4z" fill="#000000" opacity="1.0"/>
<path d="M38.7 406.1L41.1 405.9L43.6 405.6L46 405.1L48.4 404.6L50.9 404L53.3 403.2L55.8 402.2L58.2 401.1L60.6 399.8L63.1 398.2L65.5 396.4L67.9 394.5L70.4 392.4L72.8 390.1L75.2 387.7L77.7 385.2L80.1 382.4L82.5 379.5L85 376.7L87.4 373.9L89.9 371.1L92.3 368.3L94.7 365.6L97.2 362.9L99.6 360.2L102 357.5L104.5 354.6L106.9 351.5L109.3 348.2L111.8 344.9L114.2 341.7L116.7 338.7L119.1 335.8L121.5 333L124 330.3L126.4 327.7L128.8 325.4L131.3 323.1L133.7 321L136.1 318.9L138.6 316.9L141 314.9L143.4 313L145.9 311.3L148.3 309.8L150.8 308.4L153.2 307.2L155.6 306.1L158.1 305.1L160.5 304.3L162.9 303.5L165.4 302.8L167.8 302.1L170.2 301.4L172.7 300.8L175.1 300.3L177.5 299.8L180 299.4L182.4 299L184.9 298.6L187.3 298.2L189.7 297.9L192.2 297.5L194.6 297.2L197 297L199.5 296.7L201.9 296.5L204.3 296.3L206.8 296.1L209.2 295.9L211.7 295.7L214.1 295.5L216.5 295.3L219 295.1L221.4 294.9L223.8 294.8L226.3 294.6L228.7 294.4L231.1 294.3L233.6 294.1L236 294L238.4 293.9L240.9 293.8L243.3 293.7L245.8 293.6L248.2 293.5L250.6 293.5L253.1 293.4L255.5 293.4" stroke="#ff0000" stroke-width="1.3" fill="none" stroke-linejoin="round"/>
<path d="M36.2 406.1a2.5 2.5 0 1 0 5 0a2.5 2.5 0 1 0 -5 0zM41.6 405.5a2.5 2.5 0 1 0 5 0a2.5 2.5 0 1 0 -5 0zM47 404.3a2.5 2.5 0 1 0 5 0a2.5 2.5 0 1 0 -5 0zM52.5 402.6a2.5 2.5 0 1 0 5 0a2.5 2.5 0 1 0 -5 0zM57.9 399.9a2.5 2.5 0 1 0 5 0a2.5 2.5 0 1 0 -5 0zM63.3 396.2a2.5 2.5 0 1 0 5 0a2.5 2.5 0 1 0 -5 0zM68.7 391.6a2.5 2.5 0 1 0 5 0a2.5 2.5 0 1 0 -5 0zM74.1 386.3a2.5 2.5 0 1 0 5 0a2.5 2.5 0 1 0 -5 0zM79.6 380.1a2.5 2.5 0 1 0 5 0a2.5 2.5 0 1 0 -5 0zM85 373.8a2.5 2.5 0 1 0 5 0a2.5 2.5 0 1 0 -5 0zM90.4 367.6a2.5 2.5 0 1 0 5 0a2.5 2.5 0 1 0 -5 0zM95.8 361.6a2.5 2.5 0 1 0 5 0a2.5 2.5 0 1 0 -5 0zM101.2 355.5a2.5 2.5 0 1 0 5 0a2.5 2.5 0 1 0 -5 0zM106.7 348.4a2.5 2.5 0 1 0 5 0a2.5 2.5 0 1 0 -5 0zM112.1 341.3a2.5 2.5 0 1 0 5 0a2.5 2.5 0 1 0 -5 0zM117.5 334.7a2.5 2.5 0 1 0 5 0a2.5 2.5 0 1 0 -5 0zM122.9 328.7a2.5 2.5 0 1 0 5 0a2.5 2.5 0 1 0 -5 0zM128.3 323.5a2.5 2.5 0 1 0 5 0a2.5 2.5 0 1 0 -5 0zM133.8 318.8a2.5 2.5 0 1 0 5 0a2.5 2.5 0 1 0 -5 0zM139.2 314.4a2.5 2.5 0 1 0 5 0a2.5 2.5 0 1 0 -5 0zM144.6 310.5a2.5 2.5 0 1 0 5 0a2.5 2.5 0 1 0 -5 0zM150 307.5a2.5 2.5 0 1 0 5 0a2.5 2.5 0 1 0 -5 0zM155.4 305.2a2.5 2.5 0 1 0 5 0a2.5 2.5 0 1 0 -5 0zM160.9 303.4a2.5 2.5 0 1 0 5 0a2.5 2.5 0 1 0 -5 0zM166.3 301.8a2.5 2.5 0 1 0 5 0a2.5 2.5 0 1 0 -5 0zM171.7 300.5a2.5 2.5 0 1 0 5 0a2.5 2.5 0 1 0 -5 0zM177.1 299.4a2.5 2.5 0 1 0 5 0a2.5 2.5 0 1 0 -5 0zM182.5 298.5a2.5 2.5 0 1 0 5 0a2.5 2.5 0 1 0 -5 0zM188 297.8a2.5 2.5 0 1 0 5 0a2.5 2.5 0 1 0 -5 0zM193.4 297.1a2.5 2.5 0 1 0 5 0a2.5 2.5 0 1 0 -5 0zM198.8 296.6a2.5 2.5 0 1 0 5 0a2.5 2.5 0 1 0 -5 0zM204.2 296.1a2.5 2.5 0 1 0 5 0a2.5 2.5 0 1 0 -5 0zM209.6 295.7a2.5 2.5 0 1 0 5 0a2.5 2.5 0 1 0 -5 0zM215.1 295.2a2.5 2.5 0 1 0 5 0a2.5 2.5 0 1 0 -5 0zM220.5 294.8a2.5 2.5 0 1 0 5 0a2.5 2.5 0 1 0 -5 0zM225.9 294.5a2.5 2.5 0 1 0 5 0a2.5 2.5 0 1 0 -5 0zM231.3 294.1a2.5 2.5 0 1 0 5 0a2.5 2.5 0 1 0 -5 0zM236.7 293.9a2.5 2.5 0 1 0 5 0a2.5 2.5 0 1 0 -5 0zM242.2 293.6a2.5 2.5 0 1 0 5 0a2.5 2.5 0 1 0 -5 0zM247.6 293.5a2.5 2.5 0 1 0 5 0a2.5 2.5 0 1 0 -5 0zM253 293.4a2.5 2.5 0 1 0 5 0a2.5 2.5 0 1 0 -5 0z" fill="#ff0000" opacity="1.0"/>
<path d="M42 409.7L44.4 407.3L46.8 404.9L49.2 402.4L51.5 399.7L53.9 396.9L56.3 394.1L58.7 391.1L61.1 388.1L63.5 385L65.9 382L68.3 378.9L70.7 375.9L73.1 372.9L75.5 369.9L77.9 366.8L80.3 363.8L82.7 360.8L85.1 357.9L87.5 355.1L89.9 352.5L92.3 350L94.7 347.5L97.1 345.2L99.5 342.9L101.9 340.7L104.3 338.6L106.7 336.5L109.1 334.4L111.5 332.3L113.9 330.3L116.3 328.3L118.7 326.3L121.1 324.4L123.5 322.7L125.9 321L128.3 319.4L130.7 317.8L133.1 316.4L135.5 315L137.9 313.8L140.3 312.7L142.7 311.6L145.1 310.7L147.5 309.8L149.9 309L152.3 308.3L154.7 307.6L157.1 306.9L159.5 306.3L161.9 305.7L164.3 305.2L166.7 304.8L169.1 304.4L171.5 304.1L173.9 303.7L176.3 303.4L178.7 303.1L181.1 302.8L183.5 302.5L185.9 302.3L188.3 302L190.7 301.8L193.1 301.7L195.5 301.5L197.9 301.4L200.3 301.3L202.7 301.2L205.1 301.1L207.5 301L209.9 301L212.3 300.9L214.7 300.8L217.1 300.8L219.5 300.7L221.9 300.7L224.3 300.6L226.7 300.6L229.1 300.5L231.5 300.5L233.9 300.5L236.3 300.4L238.7 300.4L241.1 300.4L243.5 300.3L245.9 300.3L248.3 300.3L250.7 300.3L253.1 300.3L255.5 300.3" stroke="#747474" stroke-width="1.3" fill="none" stroke-linejoin="round"/>
<path d="M44.1 406.7L46.3 410.7L41.9 410.7zM49.5 401.1L51.7 405.1L47.3 405.1zM55 394.9L57.2 398.9L52.8 398.9zM60.4 388.2L62.6 392.2L58.2 392.2zM65.8 381.3L68 385.3L63.6 385.3zM71.2 374.5L73.4 378.5L69 378.5zM76.6 367.7L78.8 371.6L74.4 371.6zM82.1 360.8L84.3 364.8L79.9 364.8zM87.5 354.3L89.7 358.3L85.3 358.3zM92.9 348.6L95.1 352.5L90.7 352.5zM98.3 343.3L100.5 347.2L96.1 347.2zM103.7 338.3L105.9 342.3L101.5 342.3zM109.2 333.5L111.4 337.5L107 337.5zM114.6 328.9L116.8 332.9L112.4 332.9zM120 324.5L122.2 328.5L117.8 328.5zM125.4 320.5L127.6 324.5L123.2 324.5zM130.8 317L133 320.9L128.6 320.9zM136.3 313.8L138.5 317.8L134.1 317.8zM141.7 311.3L143.9 315.2L139.5 315.2zM147.1 309.1L149.3 313.1L144.9 313.1zM152.5 307.4L154.7 311.4L150.3 311.4zM157.9 305.9L160.1 309.8L155.7 309.8zM163.4 304.6L165.6 308.6L161.2 308.6zM168.8 303.6L171 307.6L166.6 307.6zM174.2 302.9L176.4 306.8L172 306.8zM179.6 302.2L181.8 306.1L177.4 306.1zM185 301.6L187.2 305.5L182.8 305.5zM190.5 301L192.7 305L188.3 305zM195.9 300.7L198.1 304.6L193.7 304.6zM201.3 300.4L203.5 304.4L199.1 304.4zM206.7 300.2L208.9 304.2L204.5 304.2zM212.1 300.1L214.3 304.1L209.9 304.1zM217.6 300L219.8 303.9L215.4 303.9zM223 299.8L225.2 303.8L220.8 303.8zM228.4 299.7L230.6 303.7L226.2 303.7zM233.8 299.6L236 303.6L231.6 303.6zM239.2 299.6L241.4 303.5L237 303.5zM244.7 299.5L246.9 303.5L242.5 303.5zM250.1 299.5L252.3 303.4L247.9 303.4zM255.5 299.5L257.7 303.4L253.3 303.4z" fill="#5e5e5e" opacity="1.0"/>
<path d="M38.7 406.8L41.1 406.4L43.6 405.9L46 405.4L48.4 405L50.9 404.6L53.3 404.3L55.8 403.9L58.2 403.7L60.6 403.4L63.1 403.3L65.5 403.1L67.9 403L70.4 402.9L72.8 402.8L75.2 402.7L77.7 402.6L80.1 402.5L82.5 402.4L85 402.4L87.4 402.3L89.9 402.3L92.3 402.3L94.7 402.4L97.2 402.5L99.6 402.6L102 402.8L104.5 402.9L106.9 403.1L109.3 403.3L111.8 403.5L114.2 403.7L116.7 403.9L119.1 404.1L121.5 404.2L124 404.4L126.4 404.6L128.8 404.8L131.3 405L133.7 405.2L136.1 405.4L138.6 405.6L141 405.8L143.4 406L145.9 406.2L148.3 406.3L150.8 406.5L153.2 406.7L155.6 406.8L158.1 407L160.5 407.1L162.9 407.3L165.4 407.4L167.8 407.6L170.2 407.7L172.7 407.8L175.1 408L177.5 408.1L180 408.3L182.4 408.4L184.9 408.5L187.3 408.6L189.7 408.7L192.2 408.8L194.6 408.8L197 408.9L199.5 409L201.9 409L204.3 409L206.8 409L209.2 409.1L211.7 409.1L214.1 409.1L216.5 409.1L219 409.2L221.4 409.2L223.8 409.2L226.3 409.2L228.7 409.2L231.1 409.3L233.6 409.3L236 409.3L238.4 409.3L240.9 409.3L243.3 409.3L245.8 409.3L248.2 409.3L250.6 409.3L253.1 409.3L255.5 409.3" stroke="#00ffff" stroke-width="1.3" fill="none" stroke-linejoin="round"/>
<path d="M38.7 403.7L39.5 405.7L41.7 405.9L40 407.3L40.5 409.4L38.7 408.2L36.9 409.4L37.4 407.3L35.7 405.9L37.9 405.7zM44.1 402.7L44.9 404.7L47.1 404.8L45.5 406.2L46 408.3L44.1 407.2L42.3 408.3L42.8 406.2L41.1 404.8L43.3 404.7zM49.5 401.7L50.4 403.7L52.5 403.9L50.9 405.3L51.4 407.4L49.5 406.2L47.7 407.4L48.2 405.3L46.6 403.9L48.7 403.7zM55 400.9L55.8 402.9L57.9 403.1L56.3 404.5L56.8 406.6L55 405.5L53.1 406.6L53.6 404.5L52 403.1L54.1 402.9zM60.4 400.3L61.2 402.3L63.4 402.5L61.7 403.9L62.2 406L60.4 404.9L58.5 406L59 403.9L57.4 402.5L59.6 402.3zM65.8 400L66.6 402L68.8 402.2L67.1 403.6L67.6 405.6L65.8 404.5L64 405.6L64.5 403.6L62.8 402.2L65 402zM71.2 399.7L72 401.7L74.2 401.9L72.6 403.3L73.1 405.4L71.2 404.2L69.4 405.4L69.9 403.3L68.2 401.9L70.4 401.7zM76.6 399.5L77.5 401.5L79.6 401.6L78 403L78.5 405.1L76.6 404L74.8 405.1L75.3 403L73.7 401.6L75.8 401.5zM82.1 399.3L82.9 401.3L85 401.5L83.4 402.9L83.9 405L82.1 403.8L80.2 405L80.7 402.9L79.1 401.5L81.2 401.3zM87.5 399.2L88.3 401.2L90.5 401.4L88.8 402.8L89.3 404.9L87.5 403.7L85.6 404.9L86.1 402.8L84.5 401.4L86.7 401.2zM92.9 399.2L93.7 401.2L95.9 401.4L94.2 402.8L94.7 404.9L92.9 403.8L91.1 404.9L91.6 402.8L89.9 401.4L92.1 401.2zM98.3 399.4L99.1 401.4L101.3 401.6L99.7 403L100.2 405.1L98.3 404L96.5 405.1L97 403L95.3 401.6L97.5 401.4zM103.7 399.8L104.6 401.8L106.7 401.9L105.1 403.3L105.6 405.4L103.7 404.3L101.9 405.4L102.4 403.3L100.8 401.9L102.9 401.8zM109.2 400.2L110 402.2L112.1 402.3L110.5 403.7L111 405.8L109.2 404.7L107.3 405.8L107.8 403.7L106.2 402.3L108.3 402.2zM114.6 400.6L115.4 402.6L117.6 402.8L115.9 404.2L116.4 406.3L114.6 405.1L112.7 406.3L113.2 404.2L111.6 402.8L113.8 402.6zM120 401L120.8 403L123 403.2L121.3 404.6L121.8 406.6L120 405.5L118.2 406.6L118.7 404.6L117 403.2L119.2 403zM125.4 401.4L126.2 403.4L128.4 403.6L126.8 405L127.3 407.1L125.4 405.9L123.6 407.1L124.1 405L122.4 403.6L124.6 403.4zM130.8 401.8L131.7 403.8L133.8 404L132.2 405.4L132.7 407.5L130.8 406.4L129 407.5L129.5 405.4L127.9 404L130 403.8zM136.3 402.3L137.1 404.3L139.2 404.4L137.6 405.8L138.1 407.9L136.3 406.8L134.4 407.9L134.9 405.8L133.3 404.4L135.4 404.3zM141.7 402.7L142.5 404.7L144.7 404.9L143 406.3L143.5 408.4L141.7 407.2L139.8 408.4L140.3 406.3L138.7 404.9L140.9 404.7zM147.1 403.1L147.9 405.1L150.1 405.3L148.4 406.7L148.9 408.8L147.1 407.7L145.3 408.8L145.8 406.7L144.1 405.3L146.3 405.1zM152.5 403.5L153.3 405.5L155.5 405.7L153.9 407.1L154.4 409.2L152.5 408L150.7 409.2L151.2 407.1L149.5 405.7L151.7 405.5zM157.9 403.8L158.8 405.8L160.9 406L159.3 407.4L159.8 409.5L157.9 408.4L156.1 409.5L156.6 407.4L155 406L157.1 405.8zM163.4 404.2L164.2 406.2L166.3 406.3L164.7 407.7L165.2 409.8L163.4 408.7L161.5 409.8L162 407.7L160.4 406.3L162.5 406.2zM168.8 404.5L169.6 406.5L171.8 406.7L170.1 408.1L170.6 410.1L168.8 409L166.9 410.1L167.4 408.1L165.8 406.7L168 406.5zM174.2 404.8L175 406.8L177.2 407L175.5 408.4L176 410.5L174.2 409.3L172.4 410.5L172.9 408.4L171.2 407L173.4 406.8zM179.6 405.1L180.4 407.1L182.6 407.3L181 408.7L181.5 410.8L179.6 409.6L177.8 410.8L178.3 408.7L176.6 407.3L178.8 407.1zM185 405.4L185.9 407.4L188 407.5L186.4 408.9L186.9 411L185 409.9L183.2 411L183.7 408.9L182.1 407.5L184.2 407.4zM190.5 405.6L191.3 407.6L193.4 407.8L191.8 409.2L192.3 411.2L190.5 410.1L188.6 411.2L189.1 409.2L187.5 407.8L189.6 407.6zM195.9 405.8L196.7 407.7L198.9 407.9L197.2 409.3L197.7 411.4L195.9 410.3L194 411.4L194.5 409.3L192.9 407.9L195.1 407.7zM201.3 405.9L202.1 407.8L204.3 408L202.6 409.4L203.1 411.5L201.3 410.4L199.5 411.5L200 409.4L198.3 408L200.5 407.8zM206.7 405.9L207.5 407.9L209.7 408.1L208.1 409.5L208.6 411.6L206.7 410.5L204.9 411.6L205.4 409.5L203.7 408.1L205.9 407.9zM212.1 406L213 408L215.1 408.1L213.5 409.5L214 411.6L212.1 410.5L210.3 411.6L210.8 409.5L209.2 408.1L211.3 408zM217.6 406L218.4 408L220.5 408.2L218.9 409.6L219.4 411.7L217.6 410.6L215.7 411.7L216.2 409.6L214.6 408.2L216.7 408zM223 406.1L223.8 408.1L226 408.2L224.3 409.6L224.8 411.7L223 410.6L221.1 411.7L221.6 409.6L220 408.2L222.2 408.1zM228.4 406.1L229.2 408.1L231.4 408.3L229.7 409.7L230.2 411.8L228.4 410.6L226.6 411.8L227.1 409.7L225.4 408.3L227.6 408.1zM233.8 406.2L234.6 408.1L236.8 408.3L235.2 409.7L235.7 411.8L233.8 410.7L232 411.8L232.5 409.7L230.8 408.3L233 408.1zM239.2 406.2L240.1 408.2L242.2 408.3L240.6 409.7L241.1 411.8L239.2 410.7L237.4 411.8L237.9 409.7L236.3 408.3L238.4 408.2zM244.7 406.2L245.5 408.2L247.6 408.4L246 409.8L246.5 411.9L244.7 410.7L242.8 411.9L243.3 409.8L241.7 408.4L243.8 408.2zM250.1 406.2L250.9 408.2L253.1 408.4L251.4 409.8L251.9 411.9L250.1 410.7L248.2 411.9L248.7 409.8L247.1 408.4L249.3 408.2zM255.5 406.2L256.3 408.2L258.5 408.4L256.8 409.8L257.3 411.9L255.5 410.7L253.7 411.9L254.2 409.8L252.5 408.4L254.7 408.2z" fill="#00ffff" opacity="1.0"/>
<path d="M38.7 406.1L41.1 405.3L43.6 404.6L46 403.8L48.4 403.2L50.9 402.5L53.3 401.9L55.8 401.4L58.2 401L60.6 400.7L63.1 400.5L65.5 400.3L67.9 400.2L70.4 400.1L72.8 400L75.2 399.9L77.7 399.8L80.1 399.7L82.5 399.6L85 399.6L87.4 399.5L89.9 399.5L92.3 399.6L94.7 399.7L97.2 399.9L99.6 400.2L102 400.6L104.5 401L106.9 401.4L109.3 401.9L111.8 402.3L114.2 402.7L116.7 403L119.1 403.3L121.5 403.6L124 403.9L126.4 404.3L128.8 404.6L131.3 404.9L133.7 405.2L136.1 405.5L138.6 405.8L141 406L143.4 406.3L145.9 406.5L148.3 406.8L150.8 407L153.2 407.1L155.6 407.3L158.1 407.4L160.5 407.6L162.9 407.7L165.4 407.8L167.8 407.9L170.2 408L172.7 408.2L175.1 408.3L177.5 408.4L180 408.5L182.4 408.5L184.9 408.6L187.3 408.7L189.7 408.8L192.2 408.8L194.6 408.9L197 408.9L199.5 409L201.9 409L204.3 409L206.8 409L209.2 409.1L211.7 409.1L214.1 409.1L216.5 409.1L219 409.2L221.4 409.2L223.8 409.2L226.3 409.2L228.7 409.2L231.1 409.3L233.6 409.3L236 409.3L238.4 409.3L240.9 409.3L243.3 409.3L245.8 409.3L248.2 409.3L250.6 409.3L253.1 409.3L255.5 409.3" stroke="#ff8000" stroke-width="1.3" fill="none" stroke-linejoin="round"/>
<path d="M38.7 403.6L41.2 406.1L38.7 408.6L36.2 406.1zM44.1 401.9L46.7 404.4L44.1 406.9L41.6 404.4zM49.5 400.3L52.1 402.9L49.5 405.4L47 402.9zM55 399.1L57.5 401.6L55 404.1L52.4 401.6zM60.4 398.2L62.9 400.7L60.4 403.3L57.9 400.7zM65.8 397.8L68.3 400.3L65.8 402.8L63.3 400.3zM71.2 397.5L73.8 400L71.2 402.6L68.7 400zM76.6 397.3L79.2 399.8L76.6 402.3L74.1 399.8zM82.1 397.1L84.6 399.6L82.1 402.2L79.5 399.6zM87.5 397L90 399.5L87.5 402.1L85 399.5zM92.9 397.1L95.4 399.6L92.9 402.1L90.4 399.6zM98.3 397.5L100.9 400.1L98.3 402.6L95.8 400.1zM103.7 398.3L106.3 400.9L103.7 403.4L101.2 400.9zM109.2 399.3L111.7 401.8L109.2 404.4L106.6 401.8zM114.6 400.2L117.1 402.7L114.6 405.3L112.1 402.7zM120 400.9L122.5 403.4L120 406L117.5 403.4zM125.4 401.6L128 404.1L125.4 406.7L122.9 404.1zM130.8 402.3L133.4 404.8L130.8 407.3L128.3 404.8zM136.3 403L138.8 405.5L136.3 408L133.7 405.5zM141.7 403.6L144.2 406.1L141.7 408.6L139.2 406.1zM147.1 404.1L149.6 406.6L147.1 409.2L144.6 406.6zM152.5 404.6L155.1 407.1L152.5 409.6L150 407.1zM157.9 404.9L160.5 407.4L157.9 410L155.4 407.4zM163.4 405.2L165.9 407.7L163.4 410.2L160.8 407.7zM168.8 405.4L171.3 408L168.8 410.5L166.3 408zM174.2 405.7L176.7 408.2L174.2 410.7L171.7 408.2zM179.6 405.9L182.2 408.4L179.6 411L177.1 408.4zM185 406.1L187.6 408.6L185 411.2L182.5 408.6zM190.5 406.3L193 408.8L190.5 411.3L187.9 408.8zM195.9 406.4L198.4 408.9L195.9 411.4L193.4 408.9zM201.3 406.5L203.8 409L201.3 411.5L198.8 409zM206.7 406.5L209.3 409L206.7 411.6L204.2 409zM212.1 406.6L214.7 409.1L212.1 411.6L209.6 409.1zM217.6 406.6L220.1 409.2L217.6 411.7L215 409.2zM223 406.7L225.5 409.2L223 411.7L220.5 409.2zM228.4 406.7L230.9 409.2L228.4 411.8L225.9 409.2zM233.8 406.7L236.4 409.3L233.8 411.8L231.3 409.3zM239.2 406.8L241.8 409.3L239.2 411.8L236.7 409.3zM244.7 406.8L247.2 409.3L244.7 411.9L242.1 409.3zM250.1 406.8L252.6 409.3L250.1 411.9L247.6 409.3zM255.5 406.8L258 409.3L255.5 411.9L253 409.3z" fill="#ff8000" opacity="1.0"/>
<path d="M38.7 402.2L41.1 401.7L43.6 401.2L46 400.7L48.4 400.2L50.9 399.8L53.3 399.3L55.8 398.8L58.2 398.3L60.6 398L63.1 397.7L65.5 397.5L67.9 397.3L70.4 397.2L72.8 397L75.2 396.9L77.7 396.9L80.1 396.8L82.5 396.8L85 396.9L87.4 396.9L89.9 397L92.3 397.2L94.7 397.3L97.2 397.5L99.6 397.7L102 397.9L104.5 398.2L106.9 398.5L109.3 399L111.8 399.4L114.2 399.8L116.7 400.3L119.1 400.7L121.5 401.1L124 401.6L126.4 402.1L128.8 402.6L131.3 403L133.7 403.4L136.1 403.7L138.6 404L141 404.3L143.4 404.6L145.9 404.9L148.3 405.2L150.8 405.4L153.2 405.6L155.6 405.8L158.1 406L160.5 406.2L162.9 406.4L165.4 406.5L167.8 406.7L170.2 406.9L172.7 407L175.1 407.2L177.5 407.3L180 407.4L182.4 407.6L184.9 407.7L187.3 407.8L189.7 407.9L192.2 408L194.6 408.1L197 408.2L199.5 408.2L201.9 408.3L204.3 408.3L206.8 408.4L209.2 408.4L211.7 408.5L214.1 408.5L216.5 408.6L219 408.6L221.4 408.7L223.8 408.7L226.3 408.7L228.7 408.8L231.1 408.8L233.6 408.8L236 408.9L238.4 408.9L240.9 408.9L243.3 408.9L245.8 409L248.2 409L250.6 409L253.1 409L255.5 409" stroke="#0000ff" stroke-width="1.3" fill="none" stroke-linejoin="round"/>
<path d="M38.7 404.8L36.3 401.9A1.2 1.2 0 0 1 38.7 401A1.2 1.2 0 0 1 41.1 401.9zM44.1 403.7L41.7 400.8A1.2 1.2 0 0 1 44.1 399.9A1.2 1.2 0 0 1 46.5 400.8zM49.5 402.7L47.1 399.8A1.2 1.2 0 0 1 49.5 398.8A1.2 1.2 0 0 1 51.9 399.8zM55 401.6L52.6 398.7A1.2 1.2 0 0 1 55 397.8A1.2 1.2 0 0 1 57.4 398.7zM60.4 400.6L58 397.8A1.2 1.2 0 0 1 60.4 396.8A1.2 1.2 0 0 1 62.8 397.8zM65.8 400.1L63.4 397.2A1.2 1.2 0 0 1 65.8 396.3A1.2 1.2 0 0 1 68.2 397.2zM71.2 399.8L68.8 396.9A1.2 1.2 0 0 1 71.2 395.9A1.2 1.2 0 0 1 73.6 396.9zM76.6 399.5L74.2 396.7A1.2 1.2 0 0 1 76.6 395.7A1.2 1.2 0 0 1 79 396.7zM82.1 399.5L79.7 396.6A1.2 1.2 0 0 1 82.1 395.6A1.2 1.2 0 0 1 84.5 396.6zM87.5 399.6L85.1 396.7A1.2 1.2 0 0 1 87.5 395.7A1.2 1.2 0 0 1 89.9 396.7zM92.9 399.9L90.5 397A1.2 1.2 0 0 1 92.9 396A1.2 1.2 0 0 1 95.3 397zM98.3 400.2L95.9 397.3A1.2 1.2 0 0 1 98.3 396.4A1.2 1.2 0 0 1 100.7 397.3zM103.7 400.7L101.3 397.9A1.2 1.2 0 0 1 103.7 396.9A1.2 1.2 0 0 1 106.1 397.9zM109.2 401.6L106.8 398.7A1.2 1.2 0 0 1 109.2 397.7A1.2 1.2 0 0 1 111.6 398.7zM114.6 402.5L112.2 399.7A1.2 1.2 0 0 1 114.6 398.7A1.2 1.2 0 0 1 117 399.7zM120 403.5L117.6 400.6A1.2 1.2 0 0 1 120 399.7A1.2 1.2 0 0 1 122.4 400.6zM125.4 404.6L123 401.7A1.2 1.2 0 0 1 125.4 400.7A1.2 1.2 0 0 1 127.8 401.7zM130.8 405.6L128.4 402.7A1.2 1.2 0 0 1 130.8 401.8A1.2 1.2 0 0 1 133.2 402.7zM136.3 406.4L133.9 403.5A1.2 1.2 0 0 1 136.3 402.5A1.2 1.2 0 0 1 138.7 403.5zM141.7 407.1L139.3 404.2A1.2 1.2 0 0 1 141.7 403.2A1.2 1.2 0 0 1 144.1 404.2zM147.1 407.7L144.7 404.8A1.2 1.2 0 0 1 147.1 403.8A1.2 1.2 0 0 1 149.5 404.8zM152.5 408.2L150.1 405.3A1.2 1.2 0 0 1 152.5 404.4A1.2 1.2 0 0 1 154.9 405.3zM157.9 408.6L155.5 405.8A1.2 1.2 0 0 1 157.9 404.8A1.2 1.2 0 0 1 160.3 405.8zM163.4 409L161 406.1A1.2 1.2 0 0 1 163.4 405.2A1.2 1.2 0 0 1 165.8 406.1zM168.8 409.4L166.4 406.5A1.2 1.2 0 0 1 168.8 405.6A1.2 1.2 0 0 1 171.2 406.5zM174.2 409.7L171.8 406.9A1.2 1.2 0 0 1 174.2 405.9A1.2 1.2 0 0 1 176.6 406.9zM179.6 410.1L177.2 407.2A1.2 1.2 0 0 1 179.6 406.2A1.2 1.2 0 0 1 182 407.2zM185 410.3L182.6 407.5A1.2 1.2 0 0 1 185 406.5A1.2 1.2 0 0 1 187.4 407.5zM190.5 410.6L188.1 407.7A1.2 1.2 0 0 1 190.5 406.7A1.2 1.2 0 0 1 192.9 407.7zM195.9 410.8L193.5 407.9A1.2 1.2 0 0 1 195.9 406.9A1.2 1.2 0 0 1 198.3 407.9zM201.3 410.9L198.9 408A1.2 1.2 0 0 1 201.3 407.1A1.2 1.2 0 0 1 203.7 408zM206.7 411L204.3 408.1A1.2 1.2 0 0 1 206.7 407.2A1.2 1.2 0 0 1 209.1 408.1zM212.1 411.1L209.7 408.3A1.2 1.2 0 0 1 212.1 407.3A1.2 1.2 0 0 1 214.5 408.3zM217.6 411.2L215.2 408.4A1.2 1.2 0 0 1 217.6 407.4A1.2 1.2 0 0 1 220 408.4zM223 411.3L220.6 408.4A1.2 1.2 0 0 1 223 407.5A1.2 1.2 0 0 1 225.4 408.4zM228.4 411.4L226 408.5A1.2 1.2 0 0 1 228.4 407.6A1.2 1.2 0 0 1 230.8 408.5zM233.8 411.5L231.4 408.6A1.2 1.2 0 0 1 233.8 407.6A1.2 1.2 0 0 1 236.2 408.6zM239.2 411.5L236.8 408.7A1.2 1.2 0 0 1 239.2 407.7A1.2 1.2 0 0 1 241.6 408.7zM244.7 411.6L242.3 408.7A1.2 1.2 0 0 1 244.7 407.7A1.2 1.2 0 0 1 247.1 408.7zM250.1 411.6L247.7 408.7A1.2 1.2 0 0 1 250.1 407.8A1.2 1.2 0 0 1 252.5 408.7zM255.5 411.6L253.1 408.7A1.2 1.2 0 0 1 255.5 407.8A1.2 1.2 0 0 1 257.9 408.7z" fill="#0000ff" opacity="1.0"/>
<path d="M38.7 406.5L41.1 406.1L43.6 405.8L46 405.5L48.4 405.2L50.9 405.1L53.3 405L55.8 405L58.2 405L60.6 405L63.1 405.1L65.5 405.2L67.9 405.3L70.4 405.3L72.8 405.4L75.2 405.5L77.7 405.7L80.1 405.8L82.5 406L85 406.2L87.4 406.3L89.9 406.4L92.3 406.5L94.7 406.6L97.2 406.7L99.6 406.8L102 406.9L104.5 407L106.9 407.1L109.3 407.2L111.8 407.2L114.2 407.3L116.7 407.4L119.1 407.4L121.5 407.5L124 407.5L126.4 407.6L128.8 407.6L131.3 407.7L133.7 407.7L136.1 407.8L138.6 407.8L141 407.8L143.4 407.8L145.9 407.9L148.3 407.9L150.8 407.9L153.2 407.9L155.6 408L158.1 408L160.5 408L162.9 408.1L165.4 408.1L167.8 408.2L170.2 408.2L172.7 408.2L175.1 408.3L177.5 408.3L180 408.3L182.4 408.4L184.9 408.4L187.3 408.4L189.7 408.5L192.2 408.5L194.6 408.5L197 408.6L199.5 408.6L201.9 408.6L204.3 408.7L206.8 408.7L209.2 408.7L211.7 408.7L214.1 408.8L216.5 408.8L219 408.8L221.4 408.8L223.8 408.9L226.3 408.9L228.7 408.9L231.1 408.9L233.6 409L236 409L238.4 409L240.9 409L243.3 409L245.8 409.1L248.2 409.1L250.6 409.1L253.1 409.1L255.5 409.1" stroke="#00ff00" stroke-width="1.3" fill="none" stroke-linejoin="round"/>
<path d="M38.7 403.7L41.1 406.6A1.2 1.2 0 0 1 38.9 407.6L39.5 409L37.9 409L38.5 407.6A1.2 1.2 0 0 1 36.3 406.6zM44.1 402.9L46.5 405.8A1.2 1.2 0 0 1 44.4 406.8L45 408.2L43.3 408.2L43.9 406.8A1.2 1.2 0 0 1 41.7 405.8zM49.5 402.4L51.9 405.3A1.2 1.2 0 0 1 49.8 406.2L50.4 407.7L48.7 407.7L49.3 406.2A1.2 1.2 0 0 1 47.1 405.3zM55 402.2L57.4 405.1A1.2 1.2 0 0 1 55.2 406.1L55.8 407.5L54.1 407.5L54.7 406.1A1.2 1.2 0 0 1 52.6 405.1zM60.4 402.3L62.8 405.2A1.2 1.2 0 0 1 60.6 406.1L61.2 407.6L59.5 407.6L60.1 406.1A1.2 1.2 0 0 1 58 405.2zM65.8 402.4L68.2 405.3A1.2 1.2 0 0 1 66 406.3L66.6 407.7L65 407.7L65.6 406.3A1.2 1.2 0 0 1 63.4 405.3zM71.2 402.6L73.6 405.5A1.2 1.2 0 0 1 71.5 406.4L72.1 407.9L70.4 407.9L71 406.4A1.2 1.2 0 0 1 68.8 405.5zM76.6 402.8L79 405.7A1.2 1.2 0 0 1 76.9 406.7L77.5 408.1L75.8 408.1L76.4 406.7A1.2 1.2 0 0 1 74.2 405.7zM82.1 403.2L84.5 406.1A1.2 1.2 0 0 1 82.3 407L82.9 408.5L81.2 408.5L81.8 407A1.2 1.2 0 0 1 79.7 406.1zM87.5 403.6L89.9 406.4A1.2 1.2 0 0 1 87.7 407.4L88.3 408.8L86.6 408.8L87.2 407.4A1.2 1.2 0 0 1 85.1 406.4zM92.9 403.8L95.3 406.7A1.2 1.2 0 0 1 93.1 407.7L93.7 409.1L92.1 409.1L92.7 407.7A1.2 1.2 0 0 1 90.5 406.7zM98.3 404L100.7 406.9A1.2 1.2 0 0 1 98.6 407.9L99.2 409.3L97.5 409.3L98.1 407.9A1.2 1.2 0 0 1 95.9 406.9zM103.7 404.2L106.1 407.1A1.2 1.2 0 0 1 104 408.1L104.6 409.5L102.9 409.5L103.5 408.1A1.2 1.2 0 0 1 101.3 407.1zM109.2 404.4L111.6 407.3A1.2 1.2 0 0 1 109.4 408.2L110 409.7L108.3 409.7L108.9 408.2A1.2 1.2 0 0 1 106.8 407.3zM114.6 404.5L117 407.4A1.2 1.2 0 0 1 114.8 408.4L115.4 409.8L113.7 409.8L114.3 408.4A1.2 1.2 0 0 1 112.2 407.4zM120 404.7L122.4 407.6A1.2 1.2 0 0 1 120.2 408.5L120.8 410L119.2 410L119.8 408.5A1.2 1.2 0 0 1 117.6 407.6zM125.4 404.8L127.8 407.7A1.2 1.2 0 0 1 125.7 408.6L126.3 410.1L124.6 410.1L125.2 408.6A1.2 1.2 0 0 1 123 407.7zM130.8 404.9L133.2 407.8A1.2 1.2 0 0 1 131.1 408.7L131.7 410.2L130 410.2L130.6 408.7A1.2 1.2 0 0 1 128.4 407.8zM136.3 405L138.7 407.9A1.2 1.2 0 0 1 136.5 408.8L137.1 410.3L135.4 410.3L136 408.8A1.2 1.2 0 0 1 133.9 407.9zM141.7 405.1L144.1 407.9A1.2 1.2 0 0 1 141.9 408.9L142.5 410.3L140.8 410.3L141.4 408.9A1.2 1.2 0 0 1 139.3 407.9zM147.1 405.1L149.5 408A1.2 1.2 0 0 1 147.3 409L147.9 410.4L146.3 410.4L146.9 409A1.2 1.2 0 0 1 144.7 408zM152.5 405.2L154.9 408.1A1.2 1.2 0 0 1 152.8 409L153.4 410.5L151.7 410.5L152.3 409A1.2 1.2 0 0 1 150.1 408.1zM157.9 405.3L160.3 408.1A1.2 1.2 0 0 1 158.2 409.1L158.8 410.5L157.1 410.5L157.7 409.1A1.2 1.2 0 0 1 155.5 408.1zM163.4 405.3L165.8 408.2A1.2 1.2 0 0 1 163.6 409.2L164.2 410.6L162.5 410.6L163.1 409.2A1.2 1.2 0 0 1 161 408.2zM168.8 405.4L171.2 408.3A1.2 1.2 0 0 1 169 409.2L169.6 410.7L167.9 410.7L168.5 409.2A1.2 1.2 0 0 1 166.4 408.3zM174.2 405.5L176.6 408.4A1.2 1.2 0 0 1 174.4 409.3L175 410.8L173.4 410.8L174 409.3A1.2 1.2 0 0 1 171.8 408.4zM179.6 405.6L182 408.5A1.2 1.2 0 0 1 179.9 409.4L180.5 410.9L178.8 410.9L179.4 409.4A1.2 1.2 0 0 1 177.2 408.5zM185 405.7L187.4 408.5A1.2 1.2 0 0 1 185.3 409.5L185.9 410.9L184.2 410.9L184.8 409.5A1.2 1.2 0 0 1 182.6 408.5zM190.5 405.7L192.9 408.6A1.2 1.2 0 0 1 190.7 409.6L191.3 411L189.6 411L190.2 409.6A1.2 1.2 0 0 1 188.1 408.6zM195.9 405.8L198.3 408.7A1.2 1.2 0 0 1 196.1 409.6L196.7 411.1L195 411.1L195.6 409.6A1.2 1.2 0 0 1 193.5 408.7zM201.3 405.9L203.7 408.7A1.2 1.2 0 0 1 201.5 409.7L202.1 411.1L200.5 411.1L201.1 409.7A1.2 1.2 0 0 1 198.9 408.7zM206.7 405.9L209.1 408.8A1.2 1.2 0 0 1 207 409.8L207.6 411.2L205.9 411.2L206.5 409.8A1.2 1.2 0 0 1 204.3 408.8zM212.1 406L214.5 408.9A1.2 1.2 0 0 1 212.4 409.8L213 411.3L211.3 411.3L211.9 409.8A1.2 1.2 0 0 1 209.7 408.9zM217.6 406L220 408.9A1.2 1.2 0 0 1 217.8 409.9L218.4 411.3L216.7 411.3L217.3 409.9A1.2 1.2 0 0 1 215.2 408.9zM223 406.1L225.4 409A1.2 1.2 0 0 1 223.2 409.9L223.8 411.4L222.1 411.4L222.7 409.9A1.2 1.2 0 0 1 220.6 409zM228.4 406.1L230.8 409A1.2 1.2 0 0 1 228.6 410L229.2 411.4L227.6 411.4L228.2 410A1.2 1.2 0 0 1 226 409zM233.8 406.2L236.2 409.1A1.2 1.2 0 0 1 234.1 410L234.7 411.5L233 411.5L233.6 410A1.2 1.2 0 0 1 231.4 409.1zM239.2 406.2L241.6 409.1A1.2 1.2 0 0 1 239.5 410.1L240.1 411.5L238.4 411.5L239 410.1A1.2 1.2 0 0 1 236.8 409.1zM244.7 406.3L247.1 409.2A1.2 1.2 0 0 1 244.9 410.1L245.5 411.6L243.8 411.6L244.4 410.1A1.2 1.2 0 0 1 242.3 409.2zM250.1 406.3L252.5 409.2A1.2 1.2 0 0 1 250.3 410.2L250.9 411.6L249.2 411.6L249.8 410.2A1.2 1.2 0 0 1 247.7 409.2zM255.5 406.4L257.9 409.2A1.2 1.2 0 0 1 255.7 410.2L256.3 411.6L254.7 411.6L255.3 410.2A1.2 1.2 0 0 1 253.1 409.2z" fill="#00ff00" opacity="1.0"/>
<path d="M38.7 402.2L41.1 402.3L43.6 402.4L46 402.6L48.4 402.8L50.9 402.9L53.3 403.1L55.8 403.3L58.2 403.5L60.6 403.8L63.1 404L65.5 404.3L67.9 404.5L70.4 404.8L72.8 405L75.2 405.3L77.7 405.5L80.1 405.8L82.5 406.1L85 406.3L87.4 406.6L89.9 406.8L92.3 407L94.7 407.2L97.2 407.4L99.6 407.6L102 407.8L104.5 407.9L106.9 408.1L109.3 408.1L111.8 408.2L114.2 408.3L116.7 408.4L119.1 408.4L121.5 408.5L124 408.5L126.4 408.6L128.8 408.6L131.3 408.6L133.7 408.6L136.1 408.6L138.6 408.7L141 408.7L143.4 408.7L145.9 408.7L148.3 408.7L150.8 408.7L153.2 408.7L155.6 408.7L158.1 408.7L160.5 408.8L162.9 408.8L165.4 408.8L167.8 408.8L170.2 408.8L172.7 408.8L175.1 408.8L177.5 408.8L180 408.8L182.4 408.8L184.9 408.8L187.3 408.8L189.7 408.8L192.2 408.8L194.6 408.8L197 408.8L199.5 408.8L201.9 408.8L204.3 408.8L206.8 408.9L209.2 408.9L211.7 408.9L214.1 408.9L216.5 408.9L219 408.9L221.4 408.9L223.8 408.9L226.3 408.9L228.7 408.9L231.1 408.9L233.6 408.9L236 408.9L238.4 408.9L240.9 408.9L243.3 408.9L245.8 408.9L248.2 408.9L250.6 408.9L253.1 408.9L255.5 408.9" stroke="#800080" stroke-width="1.3" fill="none" stroke-linejoin="round"/>
<path d="M37.1 399.8h3.3v4.8h-3.3zM42.5 400.1h3.3v4.8h-3.3zM47.9 400.4h3.3v4.8h-3.3zM53.3 400.8h3.3v4.8h-3.3zM58.7 401.3h3.3v4.8h-3.3zM64.2 401.9h3.3v4.8h-3.3zM69.6 402.4h3.3v4.8h-3.3zM75 403h3.3v4.8h-3.3zM80.4 403.6h3.3v4.8h-3.3zM85.8 404.1h3.3v4.8h-3.3zM91.2 404.6h3.3v4.8h-3.3zM96.7 405.1h3.3v4.8h-3.3zM102.1 405.5h3.3v4.8h-3.3zM107.5 405.7h3.3v4.8h-3.3zM112.9 405.9h3.3v4.8h-3.3zM118.4 406h3.3v4.8h-3.3zM123.8 406.1h3.3v4.8h-3.3zM129.2 406.2h3.3v4.8h-3.3zM134.6 406.2h3.3v4.8h-3.3zM140 406.3h3.3v4.8h-3.3zM145.5 406.3h3.3v4.8h-3.3zM150.9 406.3h3.3v4.8h-3.3zM156.3 406.3h3.3v4.8h-3.3zM161.7 406.3h3.3v4.8h-3.3zM167.1 406.4h3.3v4.8h-3.3zM172.6 406.4h3.3v4.8h-3.3zM178 406.4h3.3v4.8h-3.3zM183.4 406.4h3.3v4.8h-3.3zM188.8 406.4h3.3v4.8h-3.3zM194.2 406.4h3.3v4.8h-3.3zM199.7 406.4h3.3v4.8h-3.3zM205.1 406.4h3.3v4.8h-3.3zM210.5 406.4h3.3v4.8h-3.3zM215.9 406.4h3.3v4.8h-3.3zM221.3 406.5h3.3v4.8h-3.3zM226.8 406.5h3.3v4.8h-3.3zM232.2 406.5h3.3v4.8h-3.3zM237.6 406.5h3.3v4.8h-3.3zM243 406.5h3.3v4.8h-3.3zM248.4 406.5h3.3v4.8h-3.3zM253.9 406.5h3.3v4.8h-3.3z" fill="#800080" opacity="1.0"/>
<path d="M38.7 401.8L41.1 401.2L43.6 400.6L46 399.9L48.4 399.2L50.9 398.5L53.3 397.7L55.8 396.8L58.2 395.9L60.6 395L63.1 394.1L65.5 393L67.9 391.9L70.4 390.7L72.8 389.5L75.2 388.2L77.7 386.9L80.1 385.5L82.5 384.1L85 382.7L87.4 381.3L89.9 379.9L92.3 378.5L94.7 377.1L97.2 375.7L99.6 374.2L102 372.7L104.5 371.2L106.9 369.7L109.3 368.2L111.8 366.9L114.2 365.6L116.7 364.3L119.1 363L121.5 361.8L124 360.6L126.4 359.5L128.8 358.4L131.3 357.4L133.7 356.4L136.1 355.4L138.6 354.5L141 353.7L143.4 352.8L145.9 352L148.3 351.2L150.8 350.4L153.2 349.6L155.6 348.9L158.1 348.2L160.5 347.5L162.9 346.8L165.4 346.1L167.8 345.4L170.2 344.7L172.7 344L175.1 343.2L177.5 342.4L180 341.6L182.4 340.8L184.9 340L187.3 339.2L189.7 338.4L192.2 337.6L194.6 336.8L197 336L199.5 335.2L201.9 334.5L204.3 333.8L206.8 333L209.2 332.3L211.7 331.5L214.1 330.8L216.5 330.1L219 329.4L221.4 328.8L223.8 328.1L226.3 327.5L228.7 326.9L231.1 326.4L233.6 325.8L236 325.3L238.4 324.8L240.9 324.3L243.3 323.8L245.8 323.4L248.2 323L250.6 322.5L253.1 322.1L255.5 321.8" stroke="#ff00ff" stroke-width="1.3" fill="none" stroke-linejoin="round"/>
<path d="M38.7 404.5L41.1 400.1L36.3 400.1zM44.1 403.1L46.5 398.8L41.7 398.8zM49.5 401.5L51.9 397.2L47.1 397.2zM55 399.7L57.4 395.4L52.6 395.4zM60.4 397.7L62.8 393.4L58 393.4zM65.8 395.5L68.2 391.2L63.4 391.2zM71.2 392.9L73.6 388.6L68.8 388.6zM76.6 390.1L79 385.8L74.2 385.8zM82.1 387L84.5 382.7L79.7 382.7zM87.5 383.9L89.9 379.6L85.1 379.6zM92.9 380.8L95.3 376.4L90.5 376.4zM98.3 377.6L100.7 373.3L95.9 373.3zM103.7 374.3L106.1 370L101.3 370zM109.2 371L111.6 366.7L106.8 366.7zM114.6 368L117 363.7L112.2 363.7zM120 365.2L122.4 360.9L117.6 360.9zM125.4 362.5L127.8 358.2L123 358.2zM130.8 360.2L133.2 355.9L128.4 355.9zM136.3 358L138.7 353.7L133.9 353.7zM141.7 356.1L144.1 351.8L139.3 351.8zM147.1 354.2L149.5 349.9L144.7 349.9zM152.5 352.5L154.9 348.2L150.1 348.2zM157.9 350.9L160.3 346.6L155.5 346.6zM163.4 349.3L165.8 345L161 345zM168.8 347.8L171.2 343.5L166.4 343.5zM174.2 346.1L176.6 341.8L171.8 341.8zM179.6 344.4L182 340.1L177.2 340.1zM185 342.6L187.4 338.3L182.6 338.3zM190.5 340.8L192.9 336.5L188.1 336.5zM195.9 339L198.3 334.7L193.5 334.7zM201.3 337.3L203.7 333L198.9 333zM206.7 335.7L209.1 331.4L204.3 331.4zM212.1 334L214.5 329.7L209.7 329.7zM217.6 332.5L220 328.1L215.2 328.1zM223 331L225.4 326.7L220.6 326.7zM228.4 329.6L230.8 325.3L226 325.3zM233.8 328.4L236.2 324.1L231.4 324.1zM239.2 327.3L241.6 323L236.8 323zM244.7 326.2L247.1 321.9L242.3 321.9zM250.1 325.3L252.5 321L247.7 321zM255.5 324.4L257.9 320.1L253.1 320.1z" fill="#ff00ff" opacity="1.0"/>
<rect x="52.3" y="288.2" width="42.3" height="92.3" fill="#fff" stroke="#555" stroke-width="1"/>
<path d="M57.6 295.5h3.8v3.8h-3.8z" fill="#000000"/>
<text x="76.7" y="300" class="li" fill="#000" font-size="10">q</text>
<path d="M56.7 306.5a2.8 2.8 0 1 0 5.6 0a2.8 2.8 0 1 0 -5.6 0z" fill="#ff0000"/>
<text x="76.7" y="309" text-anchor="middle" fill="#ff0000" font-size="8" font-family='"Liberation Sans", sans-serif'>m</text>
<path d="M59.5 312.9L62 317.4L57 317.4z" fill="#606060"/>
<text x="76.7" y="314.1" text-anchor="middle" fill="#aaa" font-size="4.8" font-family='"Liberation Serif", serif' font-style="italic">γ · (P−W)</text>
<path d="M65.7 315.9H87.7" stroke="#b0b0b0" stroke-width="0.6"/>
<path d="M59.5 323.5L60.4 325.7L62.8 325.9L61 327.5L61.6 329.8L59.5 328.6L57.4 329.8L58 327.5L56.2 325.9L58.6 325.7z" fill="#00ffff"/>
<text x="76.7" y="324.4" text-anchor="middle" fill="#c8a0a0" font-size="5" font-family='"Liberation Sans", sans-serif'>^</text>
<text x="76.7" y="330" text-anchor="middle" fill="#00ffff" font-size="9.5" font-family='"Liberation Sans", sans-serif' font-style="italic">c</text>
<path d="M59.5 333.8L62.1 336.4L59.5 339L56.9 336.4z" fill="#ff8000"/>
<text x="76.7" y="339.2" text-anchor="middle" fill="#ff8000" font-size="8.6" font-family='"Liberation Sans", sans-serif' font-style="italic">σ+q</text>
<path d="M59.5 347.4L57 344.4A1.3 1.3 0 0 1 59.5 343.4A1.3 1.3 0 0 1 62 344.4z" fill="#0000ff"/>
<text x="76.7" y="347" text-anchor="middle" fill="#0000ff" font-size="8.6" font-family='"Liberation Serif", serif' font-style="italic" font-weight="bold">L<tspan font-size="6.2" dy="1.8">q</tspan></text>
<path d="M59.5 350.8L62 353.8A1.2 1.2 0 0 1 59.8 354.8L60.4 356.3L58.6 356.3L59.2 354.8A1.2 1.2 0 0 1 57 353.8z" fill="#00ff00"/>
<text x="76.7" y="356.1" text-anchor="middle" fill="#00ff00" font-size="8.6" font-family='"Liberation Serif", serif' font-style="italic" font-weight="bold">L<tspan font-size="6.2" dy="1.8">a</tspan></text>
<path d="M57.9 360.6h3.2v4.6h-3.2z" fill="#800080"/>
<text x="76.7" y="365.9" text-anchor="middle" fill="#800080" font-size="8.6" font-family='"Liberation Serif", serif' font-weight="bold">10<tspan font-style="italic" font-weight="normal" fill="#d080d0">ϕ</tspan></text>
<path d="M59.5 373.8L62 369.2L57 369.2z" fill="#ff00ff"/>
<text x="76.7" y="373.6" text-anchor="middle" fill="#ff00ff" font-size="9.5" font-family='"Liberation Sans", sans-serif' font-style="italic">u</text>
<text x="250.8" y="312" text-anchor="middle" class="t" textLength="8" lengthAdjust="spacingAndGlyphs">c1</text>
<path d="M309 302.2H537M309 323.7H537M309 345.2H537M309 366.7H537M309 388.2H537M363.9 288V424M418.9 288V424M473.9 288V424M529 288V424" stroke="#f2f2f2" stroke-width="0.8" fill="none"/>
<path d="M309 288V424" stroke="#d8d8d8" stroke-width="0.8" fill="none"/>
<path d="M309 409.7H537" stroke="#c0c0c0" stroke-width="0.9" fill="none"/>
<path d="M309.7 290V424" stroke="#3a3a3a" stroke-width="1.5" stroke-dasharray="2.3 4.2" fill="none"/>
<text x="306.1" y="305.2" text-anchor="end" class="t" textLength="22.9" lengthAdjust="spacingAndGlyphs">50 000</text>
<text x="306.1" y="326.7" text-anchor="end" class="t" textLength="22.9" lengthAdjust="spacingAndGlyphs">40 000</text>
<text x="306.1" y="348.2" text-anchor="end" class="t" textLength="22.9" lengthAdjust="spacingAndGlyphs">30 000</text>
<text x="306.1" y="369.7" text-anchor="end" class="t" textLength="22.9" lengthAdjust="spacingAndGlyphs">20 000</text>
<text x="306.1" y="391.2" text-anchor="end" class="t" textLength="22.9" lengthAdjust="spacingAndGlyphs">10 000</text>
<text x="306.1" y="412.7" text-anchor="end" class="t" textLength="4.4" lengthAdjust="spacingAndGlyphs">0</text>
<text x="363.9" y="418.6" text-anchor="middle" class="t" textLength="11.0" lengthAdjust="spacingAndGlyphs">0.5</text>
<text x="418.9" y="418.6" text-anchor="middle" class="t" textLength="11.0" lengthAdjust="spacingAndGlyphs">1.0</text>
<text x="473.9" y="418.6" text-anchor="middle" class="t" textLength="11.0" lengthAdjust="spacingAndGlyphs">1.5</text>
<text x="529" y="418.6" text-anchor="middle" class="t" textLength="11.0" lengthAdjust="spacingAndGlyphs">2.0</text>
<text x="507.9" y="418" text-anchor="middle" fill="#333" font-size="9.5" font-family='"Liberation Serif", serif' font-style="italic">l<tspan font-size="6.5" dy="2">m</tspan></text>
<path d="M308.8 376.9L311.3 376.9L313.7 377L316.2 377L318.7 377L321.2 377.1L323.6 377.2L326.1 377.3L328.6 377.4L331.1 377.6L333.5 377.8L336 378.3L338.5 378.9L341 379.6L343.4 380.4L345.9 381.1L348.4 381.8L350.9 382.4L353.3 383L355.8 383.6L358.3 384.4L360.8 385.5L363.2 386.7L365.7 387.9L368.2 389.1L370.7 390.3L373.1 391.5L375.6 392.6L378.1 393.6L380.6 394.6L383 395.5L385.5 396.5L388 397.3L390.4 398.2L392.9 399L395.4 399.7L397.9 400.4L400.3 401.2L402.8 401.8L405.3 402.5L407.8 403.1L410.2 403.7L412.7 404.2L415.2 404.7L417.7 405.1L420.1 405.5L422.6 405.9L425.1 406.2L427.6 406.6L430 406.9L432.5 407.1L435 407.4L437.5 407.5L439.9 407.7L442.4 407.8L444.9 407.9L447.4 408L449.8 408.1L452.3 408.2L454.8 408.2L457.2 408.3L459.7 408.3L462.2 408.3L464.7 408.3L467.1 408.3L469.6 408.3L472.1 408.3L474.6 408.3L477 408.4L479.5 408.4L482 408.4L484.5 408.4L486.9 408.4L489.4 408.4L491.9 408.4L494.4 408.4L496.8 408.4L499.3 408.4L501.8 408.4L504.3 408.4L506.7 408.4L509.2 408.4L511.7 408.4L514.2 408.4L516.6 408.4L519.1 408.4L521.6 408.4L524.1 408.4L526.5 408.4L529 408.4" stroke="#000" stroke-width="2.0" fill="none" stroke-linejoin="round"/>
<path d="M307.4 376.5h2.9v2.9h-2.9zM312.9 376.5h2.9v2.9h-2.9zM318.4 376.6h2.9v2.9h-2.9zM323.9 376.8h2.9v2.9h-2.9zM329.4 377.1h2.9v2.9h-2.9zM334.9 377.9h2.9v2.9h-2.9zM340.4 379.4h2.9v2.9h-2.9zM345.9 381h2.9v2.9h-2.9zM351.4 382.4h2.9v2.9h-2.9zM356.9 384h2.9v2.9h-2.9zM362.4 386.5h2.9v2.9h-2.9zM367.9 389.2h2.9v2.9h-2.9zM373.4 391.8h2.9v2.9h-2.9zM378.9 394.1h2.9v2.9h-2.9zM384.4 396.2h2.9v2.9h-2.9zM389.9 398h2.9v2.9h-2.9zM395.4 399.7h2.9v2.9h-2.9zM400.9 401.3h2.9v2.9h-2.9zM406.4 402.7h2.9v2.9h-2.9zM411.9 403.9h2.9v2.9h-2.9zM417.4 404.8h2.9v2.9h-2.9zM423 405.7h2.9v2.9h-2.9zM428.5 406.4h2.9v2.9h-2.9zM434 406.9h2.9v2.9h-2.9zM439.5 407.3h2.9v2.9h-2.9zM445 407.5h2.9v2.9h-2.9zM450.5 407.7h2.9v2.9h-2.9zM456 407.8h2.9v2.9h-2.9zM461.5 407.9h2.9v2.9h-2.9zM467 407.9h2.9v2.9h-2.9zM472.5 407.9h2.9v2.9h-2.9zM478 407.9h2.9v2.9h-2.9zM483.5 407.9h2.9v2.9h-2.9zM489 407.9h2.9v2.9h-2.9zM494.5 407.9h2.9v2.9h-2.9zM500 407.9h2.9v2.9h-2.9zM505.5 408h2.9v2.9h-2.9zM511 408h2.9v2.9h-2.9zM516.5 408h2.9v2.9h-2.9zM522 408h2.9v2.9h-2.9zM527.5 408h2.9v2.9h-2.9z" stroke="#444" stroke-width="0.8" fill="none" opacity="0.85"/>
<path d="M308.8 384.3L311.3 382.4L313.7 380.4L316.2 378.3L318.7 376.3L321.2 374.2L323.6 372.1L326.1 370L328.6 367.8L331.1 365.7L333.5 363.5L336 361.4L338.5 359.3L341 357.1L343.4 355L345.9 352.8L348.4 350.7L350.9 348.5L353.3 346.3L355.8 344.1L358.3 341.9L360.8 339.7L363.2 337.6L365.7 335.4L368.2 333.3L370.7 331.2L373.1 329.1L375.6 327L378.1 325L380.6 323.1L383 321.2L385.5 319.4L388 317.5L390.4 315.7L392.9 313.9L395.4 312.2L397.9 310.6L400.3 309.1L402.8 307.8L405.3 306.7L407.8 305.6L410.2 304.6L412.7 303.6L415.2 302.7L417.7 301.8L420.1 301.1L422.6 300.4L425.1 299.9L427.6 299.3L430 298.8L432.5 298.4L435 297.9L437.5 297.5L439.9 297.1L442.4 296.7L444.9 296.3L447.4 296L449.8 295.7L452.3 295.4L454.8 295.2L457.2 295L459.7 294.9L462.2 294.8L464.7 294.6L467.1 294.5L469.6 294.4L472.1 294.3L474.6 294.2L477 294.1L479.5 294L482 293.9L484.5 293.8L486.9 293.7L489.4 293.6L491.9 293.6L494.4 293.5L496.8 293.4L499.3 293.3L501.8 293.3L504.3 293.2L506.7 293.2L509.2 293.1L511.7 293.1L514.2 293.1L516.6 293L519.1 293L521.6 293L524.1 293L526.5 293L529 293" stroke="#ff0000" stroke-width="2.0" fill="none" stroke-linejoin="round"/>
<path d="M306.5 385.3a2.3 2.3 0 1 0 4.6 0a2.3 2.3 0 1 0 -4.6 0zM312 380.9a2.3 2.3 0 1 0 4.6 0a2.3 2.3 0 1 0 -4.6 0zM317.5 376.4a2.3 2.3 0 1 0 4.6 0a2.3 2.3 0 1 0 -4.6 0zM323 371.7a2.3 2.3 0 1 0 4.6 0a2.3 2.3 0 1 0 -4.6 0zM328.5 366.9a2.3 2.3 0 1 0 4.6 0a2.3 2.3 0 1 0 -4.6 0zM334 362.1a2.3 2.3 0 1 0 4.6 0a2.3 2.3 0 1 0 -4.6 0zM339.5 357.4a2.3 2.3 0 1 0 4.6 0a2.3 2.3 0 1 0 -4.6 0zM345 352.6a2.3 2.3 0 1 0 4.6 0a2.3 2.3 0 1 0 -4.6 0zM350.5 347.7a2.3 2.3 0 1 0 4.6 0a2.3 2.3 0 1 0 -4.6 0zM356 342.8a2.3 2.3 0 1 0 4.6 0a2.3 2.3 0 1 0 -4.6 0zM361.6 338a2.3 2.3 0 1 0 4.6 0a2.3 2.3 0 1 0 -4.6 0zM367.1 333.3a2.3 2.3 0 1 0 4.6 0a2.3 2.3 0 1 0 -4.6 0zM372.6 328.6a2.3 2.3 0 1 0 4.6 0a2.3 2.3 0 1 0 -4.6 0zM378.1 324.2a2.3 2.3 0 1 0 4.6 0a2.3 2.3 0 1 0 -4.6 0zM383.6 320.1a2.3 2.3 0 1 0 4.6 0a2.3 2.3 0 1 0 -4.6 0zM389.1 316a2.3 2.3 0 1 0 4.6 0a2.3 2.3 0 1 0 -4.6 0zM394.6 312.2a2.3 2.3 0 1 0 4.6 0a2.3 2.3 0 1 0 -4.6 0zM400.1 309a2.3 2.3 0 1 0 4.6 0a2.3 2.3 0 1 0 -4.6 0zM405.6 306.5a2.3 2.3 0 1 0 4.6 0a2.3 2.3 0 1 0 -4.6 0zM411.1 304.3a2.3 2.3 0 1 0 4.6 0a2.3 2.3 0 1 0 -4.6 0zM416.6 302.5a2.3 2.3 0 1 0 4.6 0a2.3 2.3 0 1 0 -4.6 0zM422.1 301a2.3 2.3 0 1 0 4.6 0a2.3 2.3 0 1 0 -4.6 0zM427.6 299.9a2.3 2.3 0 1 0 4.6 0a2.3 2.3 0 1 0 -4.6 0zM433.1 298.8a2.3 2.3 0 1 0 4.6 0a2.3 2.3 0 1 0 -4.6 0zM438.6 297.9a2.3 2.3 0 1 0 4.6 0a2.3 2.3 0 1 0 -4.6 0zM444.1 297.1a2.3 2.3 0 1 0 4.6 0a2.3 2.3 0 1 0 -4.6 0zM449.6 296.5a2.3 2.3 0 1 0 4.6 0a2.3 2.3 0 1 0 -4.6 0zM455.1 296a2.3 2.3 0 1 0 4.6 0a2.3 2.3 0 1 0 -4.6 0zM460.6 295.7a2.3 2.3 0 1 0 4.6 0a2.3 2.3 0 1 0 -4.6 0zM466.1 295.5a2.3 2.3 0 1 0 4.6 0a2.3 2.3 0 1 0 -4.6 0zM471.7 295.2a2.3 2.3 0 1 0 4.6 0a2.3 2.3 0 1 0 -4.6 0zM477.2 295a2.3 2.3 0 1 0 4.6 0a2.3 2.3 0 1 0 -4.6 0zM482.7 294.8a2.3 2.3 0 1 0 4.6 0a2.3 2.3 0 1 0 -4.6 0zM488.2 294.6a2.3 2.3 0 1 0 4.6 0a2.3 2.3 0 1 0 -4.6 0zM493.7 294.4a2.3 2.3 0 1 0 4.6 0a2.3 2.3 0 1 0 -4.6 0zM499.2 294.3a2.3 2.3 0 1 0 4.6 0a2.3 2.3 0 1 0 -4.6 0zM504.7 294.2a2.3 2.3 0 1 0 4.6 0a2.3 2.3 0 1 0 -4.6 0zM510.2 294.1a2.3 2.3 0 1 0 4.6 0a2.3 2.3 0 1 0 -4.6 0zM515.7 294a2.3 2.3 0 1 0 4.6 0a2.3 2.3 0 1 0 -4.6 0zM521.2 294a2.3 2.3 0 1 0 4.6 0a2.3 2.3 0 1 0 -4.6 0zM526.7 294a2.3 2.3 0 1 0 4.6 0a2.3 2.3 0 1 0 -4.6 0z" stroke="#f03838" stroke-width="0.8" fill="none" opacity="0.85"/>
<path d="M308.8 409.7L311.3 409.1L313.7 408.5L316.2 407.9L318.7 407.3L321.2 406.7L323.6 406.1L326.1 405.5L328.6 404.9L331.1 404.4L333.5 403.8L336 403.2L338.5 402.6L341 402L343.4 401.5L345.9 400.9L348.4 400.3L350.9 399.6L353.3 398.7L355.8 397.9L358.3 397L360.8 396.1L363.2 395.2L365.7 394.3L368.2 393.4L370.7 392.5L373.1 391.7L375.6 390.9L378.1 390L380.6 389.2L383 388.6L385.5 388L388 387.5L390.4 386.9L392.9 386.5L395.4 386L397.9 385.6L400.3 385.2L402.8 384.9L405.3 384.6L407.8 384.3L410.2 384.1L412.7 383.8L415.2 383.6L417.7 383.4L420.1 383.2L422.6 383.1L425.1 382.9L427.6 382.8L430 382.7L432.5 382.6L435 382.6L437.5 382.5L439.9 382.4L442.4 382.3L444.9 382.3L447.4 382.2L449.8 382.2L452.3 382.1L454.8 382.1L457.2 382.1L459.7 382.1L462.2 382.1L464.7 382.1L467.1 382.1L469.6 382.1L472.1 382.1L474.6 382.1L477 382.1L479.5 382.1L482 382.1L484.5 382.1L486.9 382.1L489.4 382.1L491.9 382.1L494.4 382.1L496.8 382.1L499.3 382.1L501.8 382.1L504.3 382.1L506.7 382.1L509.2 382.1L511.7 382.1L514.2 382.1L516.6 382.1L519.1 382.1L521.6 382.1L524.1 382.1L526.5 382.1L529 382.1" stroke="#808080" stroke-width="2.0" fill="none" stroke-linejoin="round"/>
<path d="M308.8 408.7L310.6 412L307 412zM314.3 407.4L316.1 410.6L312.5 410.6zM319.8 406.1L321.6 409.3L318 409.3zM325.3 404.7L327.1 408L323.5 408zM330.8 403.4L332.6 406.7L329 406.7zM336.3 402.2L338.1 405.4L334.5 405.4zM341.8 400.9L343.6 404.1L340 404.1zM347.3 399.6L349.1 402.8L345.5 402.8zM352.8 397.9L354.6 401.2L351 401.2zM358.3 396L360.1 399.2L356.5 399.2zM363.9 394L365.7 397.2L362.1 397.2zM369.4 392L371.2 395.3L367.6 395.3zM374.9 390.1L376.7 393.4L373.1 393.4zM380.4 388.3L382.2 391.6L378.6 391.6zM385.9 386.9L387.7 390.2L384.1 390.2zM391.4 385.8L393.2 389L389.6 389zM396.9 384.8L398.7 388L395.1 388zM402.4 383.9L404.2 387.2L400.6 387.2zM407.9 383.3L409.7 386.6L406.1 386.6zM413.4 382.8L415.2 386L411.6 386zM418.9 382.3L420.7 385.6L417.1 385.6zM424.4 382L426.2 385.2L422.6 385.2zM429.9 381.8L431.7 385L428.1 385zM435.4 381.6L437.2 384.8L433.6 384.8zM440.9 381.4L442.7 384.6L439.1 384.6zM446.4 381.3L448.2 384.5L444.6 384.5zM451.9 381.2L453.7 384.4L450.1 384.4zM457.4 381.1L459.2 384.3L455.6 384.3zM462.9 381.1L464.7 384.3L461.1 384.3zM468.4 381.1L470.2 384.3L466.6 384.3zM474 381.1L475.8 384.3L472.2 384.3zM479.5 381.1L481.3 384.3L477.7 384.3zM485 381.1L486.8 384.3L483.2 384.3zM490.5 381.1L492.3 384.3L488.7 384.3zM496 381.1L497.8 384.3L494.2 384.3zM501.5 381.1L503.3 384.3L499.7 384.3zM507 381.1L508.8 384.3L505.2 384.3zM512.5 381.1L514.3 384.3L510.7 384.3zM518 381.1L519.8 384.3L516.2 384.3zM523.5 381.1L525.3 384.3L521.7 384.3zM529 381.1L530.8 384.3L527.2 384.3z" stroke="#a0a0a0" stroke-width="0.8" fill="none" opacity="0.85"/>
<path d="M308.8 378.1L311.3 379.9L313.7 381.7L316.2 383.5L318.7 385.3L321.2 387.1L323.6 388.8L326.1 390.4L328.6 391.8L331.1 393.2L333.5 394.4L336 395.6L338.5 396.6L341 397.5L343.4 398.4L345.9 399.2L348.4 400L350.9 400.6L353.3 401.3L355.8 401.9L358.3 402.4L360.8 403L363.2 403.5L365.7 403.9L368.2 404.3L370.7 404.6L373.1 404.9L375.6 405.2L378.1 405.5L380.6 405.8L383 406L385.5 406.2L388 406.4L390.4 406.6L392.9 406.8L395.4 407L397.9 407.2L400.3 407.3L402.8 407.5L405.3 407.6L407.8 407.7L410.2 407.8L412.7 407.8L415.2 407.9L417.7 408L420.1 408.1L422.6 408.1L425.1 408.2L427.6 408.3L430 408.3L432.5 408.4L435 408.4L437.5 408.5L439.9 408.5L442.4 408.6L444.9 408.6L447.4 408.7L449.8 408.7L452.3 408.7L454.8 408.7L457.2 408.7L459.7 408.7L462.2 408.7L464.7 408.7L467.1 408.7L469.6 408.7L472.1 408.7L474.6 408.7L477 408.7L479.5 408.7L482 408.7L484.5 408.7L486.9 408.7L489.4 408.7L491.9 408.7L494.4 408.7L496.8 408.7L499.3 408.7L501.8 408.7L504.3 408.7L506.7 408.7L509.2 408.7L511.7 408.7L514.2 408.7L516.6 408.7L519.1 408.7L521.6 408.7L524.1 408.6L526.5 408.6L529 408.6" stroke="#ff8000" stroke-width="2.0" fill="none" stroke-linejoin="round"/>
<path d="M308.8 377L310.9 379.1L308.8 381.2L306.7 379.1zM314.3 381L316.4 383.1L314.3 385.2L312.2 383.1zM319.8 385L321.9 387.1L319.8 389.1L317.7 387.1zM325.3 388.8L327.4 390.9L325.3 393L323.2 390.9zM330.8 392L332.9 394L330.8 396.1L328.8 394zM336.3 394.6L338.4 396.7L336.3 398.8L334.3 396.7zM341.8 396.8L343.9 398.8L341.8 400.9L339.8 398.8zM347.3 398.6L349.4 400.6L347.3 402.7L345.3 400.6zM352.8 400.1L354.9 402.2L352.8 404.2L350.8 402.2zM358.3 401.4L360.4 403.4L358.3 405.5L356.3 403.4zM363.9 402.6L365.9 404.6L363.9 406.7L361.8 404.6zM369.4 403.4L371.4 405.5L369.4 407.5L367.3 405.5zM374.9 404.1L376.9 406.2L374.9 408.2L372.8 406.2zM380.4 404.7L382.4 406.7L380.4 408.8L378.3 406.7zM385.9 405.2L387.9 407.2L385.9 409.3L383.8 407.2zM391.4 405.6L393.4 407.7L391.4 409.8L389.3 407.7zM396.9 406.1L398.9 408.1L396.9 410.2L394.8 408.1zM402.4 406.4L404.5 408.5L402.4 410.5L400.3 408.5zM407.9 406.6L410 408.7L407.9 410.7L405.8 408.7zM413.4 406.8L415.5 408.9L413.4 410.9L411.3 408.9zM418.9 407L421 409L418.9 411.1L416.8 409zM424.4 407.1L426.5 409.2L424.4 411.3L422.3 409.2zM429.9 407.3L432 409.3L429.9 411.4L427.8 409.3zM435.4 407.4L437.5 409.5L435.4 411.5L433.3 409.5zM440.9 407.5L443 409.6L440.9 411.6L438.9 409.6zM446.4 407.6L448.5 409.6L446.4 411.7L444.4 409.6zM451.9 407.6L454 409.7L451.9 411.8L449.9 409.7zM457.4 407.7L459.5 409.7L457.4 411.8L455.4 409.7zM462.9 407.7L465 409.7L462.9 411.8L460.9 409.7zM468.4 407.7L470.5 409.7L468.4 411.8L466.4 409.7zM474 407.7L476 409.7L474 411.8L471.9 409.7zM479.5 407.7L481.5 409.7L479.5 411.8L477.4 409.7zM485 407.7L487 409.7L485 411.8L482.9 409.7zM490.5 407.7L492.5 409.7L490.5 411.8L488.4 409.7zM496 407.6L498 409.7L496 411.8L493.9 409.7zM501.5 407.6L503.5 409.7L501.5 411.8L499.4 409.7zM507 407.6L509.1 409.7L507 411.8L504.9 409.7zM512.5 407.6L514.6 409.7L512.5 411.8L510.4 409.7zM518 407.6L520.1 409.7L518 411.7L515.9 409.7zM523.5 407.6L525.6 409.6L523.5 411.7L521.4 409.6zM529 407.6L531.1 409.6L529 411.7L526.9 409.6z" stroke="#ffa040" stroke-width="0.8" fill="none" opacity="0.85"/>
<path d="M308.8 373.4L311.3 373.2L313.7 373L316.2 372.7L318.7 372.5L321.2 372.3L323.6 372.1L326.1 371.8L328.6 371.6L331.1 371.3L333.5 371.1L336 370.8L338.5 370.6L341 370.3L343.4 370L345.9 369.8L348.4 369.5L350.9 369.2L353.3 368.9L355.8 368.6L358.3 368.2L360.8 367.9L363.2 367.5L365.7 367.1L368.2 366.7L370.7 366.3L373.1 365.8L375.6 365.3L378.1 364.9L380.6 364.4L383 363.9L385.5 363.4L388 362.8L390.4 362.2L392.9 361.6L395.4 361L397.9 360.4L400.3 359.8L402.8 359.2L405.3 358.7L407.8 358.2L410.2 357.7L412.7 357.2L415.2 356.7L417.7 356.2L420.1 355.7L422.6 355.2L425.1 354.7L427.6 354.2L430 353.7L432.5 353.2L435 352.7L437.5 352.2L439.9 351.7L442.4 351.2L444.9 350.7L447.4 350.2L449.8 349.7L452.3 349.2L454.8 348.7L457.2 348.1L459.7 347.6L462.2 347.1L464.7 346.6L467.1 346L469.6 345.5L472.1 345L474.6 344.4L477 343.9L479.5 343.3L482 342.7L484.5 342.2L486.9 341.6L489.4 341L491.9 340.4L494.4 339.9L496.8 339.3L499.3 338.7L501.8 338.1L504.3 337.5L506.7 336.9L509.2 336.3L511.7 335.6L514.2 335L516.6 334.4L519.1 333.8L521.6 333.1L524.1 332.5L526.5 331.9L529 331.2" stroke="#ff00ff" stroke-width="2.0" fill="none" stroke-linejoin="round"/>
<path d="M308.8 376.3L310.6 373.1L307 373.1zM314.3 375.9L316.1 372.6L312.5 372.6zM319.8 375.4L321.6 372.2L318 372.2zM325.3 374.9L327.1 371.6L323.5 371.6zM330.8 374.3L332.6 371.1L329 371.1zM336.3 373.8L338.1 370.5L334.5 370.5zM341.8 373.2L343.6 369.9L340 369.9zM347.3 372.6L349.1 369.3L345.5 369.3zM352.8 371.9L354.6 368.7L351 368.7zM358.3 371.2L360.1 368L356.5 368zM363.9 370.4L365.7 367.1L362.1 367.1zM369.4 369.5L371.2 366.2L367.6 366.2zM374.9 368.5L376.7 365.2L373.1 365.2zM380.4 367.4L382.2 364.2L378.6 364.2zM385.9 366.3L387.7 363L384.1 363zM391.4 365L393.2 361.7L389.6 361.7zM396.9 363.6L398.7 360.4L395.1 360.4zM402.4 362.3L404.2 359.1L400.6 359.1zM407.9 361.1L409.7 357.9L406.1 357.9zM413.4 360L415.2 356.8L411.6 356.8zM418.9 358.9L420.7 355.7L417.1 355.7zM424.4 357.8L426.2 354.6L422.6 354.6zM429.9 356.7L431.7 353.4L428.1 353.4zM435.4 355.6L437.2 352.3L433.6 352.3zM440.9 354.5L442.7 351.2L439.1 351.2zM446.4 353.3L448.2 350.1L444.6 350.1zM451.9 352.2L453.7 349L450.1 349zM457.4 351.1L459.2 347.8L455.6 347.8zM462.9 349.9L464.7 346.7L461.1 346.7zM468.4 348.7L470.2 345.5L466.6 345.5zM474 347.5L475.8 344.3L472.2 344.3zM479.5 346.3L481.3 343.1L477.7 343.1zM485 345L486.8 341.8L483.2 341.8zM490.5 343.8L492.3 340.5L488.7 340.5zM496 342.5L497.8 339.2L494.2 339.2zM501.5 341.1L503.3 337.9L499.7 337.9zM507 339.8L508.8 336.5L505.2 336.5zM512.5 338.4L514.3 335.2L510.7 335.2zM518 337L519.8 333.8L516.2 333.8zM523.5 335.6L525.3 332.4L521.7 332.4zM529 334.2L530.8 331L527.2 331z" stroke="#ff60ff" stroke-width="0.8" fill="none" opacity="0.85"/>
<path d="M308.8 409.7L311.3 406.3L313.7 403L316.2 399.7L318.7 396.4L321.2 393.1L323.6 389.8L326.1 386.5L328.6 383.3L331.1 380L333.5 376.7L336 373.4L338.5 370.3L341 367.5L343.4 364.6L345.9 361.8L348.4 359.2L350.9 356.6L353.3 354.3L355.8 352.2L358.3 350.3L360.8 348.5L363.2 346.9L365.7 345.4L368.2 343.9L370.7 342.5L373.1 341.2L375.6 340L378.1 338.8L380.6 337.7L383 336.7L385.5 335.8L388 334.9L390.4 334L392.9 333.2L395.4 332.5L397.9 331.8L400.3 331.1L402.8 330.5L405.3 330L407.8 329.6L410.2 329.1L412.7 328.7L415.2 328.3L417.7 327.9L420.1 327.6L422.6 327.3L425.1 327.1L427.6 326.9L430 326.7L432.5 326.6L435 326.4L437.5 326.2L439.9 326.1L442.4 326L444.9 325.8L447.4 325.7L449.8 325.6L452.3 325.5L454.8 325.4L457.2 325.3L459.7 325.2L462.2 325.1L464.7 325L467.1 325L469.6 324.9L472.1 324.8L474.6 324.8L477 324.7L479.5 324.6L482 324.6L484.5 324.5L486.9 324.5L489.4 324.4L491.9 324.4L494.4 324.3L496.8 324.3L499.3 324.2L501.8 324.2L504.3 324.1L506.7 324.1L509.2 324.1L511.7 324L514.2 324L516.6 324L519.1 324L521.6 323.9L524.1 323.9L526.5 323.9L529 323.9" stroke="#00aa00" stroke-width="2.0" fill="none" stroke-linejoin="round"/>
<path d="M307.1 410.7h3.4M308.8 409v3.4M312.6 403.3h3.4M314.3 401.6v3.4M318.1 395.9h3.4M319.8 394.2v3.4M323.6 388.6h3.4M325.3 386.9v3.4M329.1 381.3h3.4M330.8 379.6v3.4M334.6 374h3.4M336.3 372.3v3.4M340.1 367.5h3.4M341.8 365.8v3.4M345.6 361.3h3.4M347.3 359.6v3.4M351.1 355.8h3.4M352.8 354.1v3.4M356.6 351.3h3.4M358.3 349.6v3.4M362.2 347.5h3.4M363.9 345.8v3.4M367.7 344.3h3.4M369.4 342.6v3.4M373.2 341.3h3.4M374.9 339.6v3.4M378.7 338.8h3.4M380.4 337.1v3.4M384.2 336.7h3.4M385.9 335v3.4M389.7 334.7h3.4M391.4 333v3.4M395.2 333h3.4M396.9 331.3v3.4M400.7 331.6h3.4M402.4 329.9v3.4M406.2 330.5h3.4M407.9 328.8v3.4M411.7 329.6h3.4M413.4 327.9v3.4M417.2 328.8h3.4M418.9 327.1v3.4M422.7 328.2h3.4M424.4 326.5v3.4M428.2 327.7h3.4M429.9 326v3.4M433.7 327.4h3.4M435.4 325.7v3.4M439.2 327h3.4M440.9 325.3v3.4M444.7 326.8h3.4M446.4 325.1v3.4M450.2 326.5h3.4M451.9 324.8v3.4M455.7 326.3h3.4M457.4 324.6v3.4M461.2 326.1h3.4M462.9 324.4v3.4M466.7 325.9h3.4M468.4 324.2v3.4M472.3 325.8h3.4M474 324.1v3.4M477.8 325.6h3.4M479.5 323.9v3.4M483.3 325.5h3.4M485 323.8v3.4M488.8 325.4h3.4M490.5 323.7v3.4M494.3 325.3h3.4M496 323.6v3.4M499.8 325.2h3.4M501.5 323.5v3.4M505.3 325.1h3.4M507 323.4v3.4M510.8 325h3.4M512.5 323.3v3.4M516.3 325h3.4M518 323.3v3.4M521.8 324.9h3.4M523.5 323.2v3.4M527.3 324.9h3.4M529 323.2v3.4" stroke="#00aa00" stroke-width="0.8" fill="none" opacity="0.85"/>
<rect x="323.4" y="289.8" width="58.8" height="61.8" fill="#fff" stroke="#555" stroke-width="1"/>
<path d="M327.7 297.2h3.6v3.6h-3.6z" stroke="#222" stroke-width="0.8" fill="none"/>
<path d="M326.6 308.4a2.9 2.9 0 1 0 5.8 0a2.9 2.9 0 1 0 -5.8 0z" stroke="#ff6060" stroke-width="0.8" fill="none"/>
<path d="M329.5 315.7L331.8 319.8L327.2 319.8z" stroke="#a0a0a0" stroke-width="0.8" fill="none"/>
<path d="M329.5 323.4L332.3 326.2L329.5 329L326.7 326.2z" stroke="#ffa040" stroke-width="0.8" fill="none"/>
<path d="M329.5 336.9L332 332.4L327 332.4z" stroke="#ff40ff" stroke-width="0.8" fill="none"/>
<path d="M326.9 342.9h5.2M329.5 340.3v5.2" stroke="#00a000" stroke-width="1.3" fill="none"/>
<text x="355" y="302.4" class="ls" fill="#000">Q</text>
<text x="355" y="311.8" class="ls" fill="#ff0000">M</text>
<text x="332.7" y="320.6" fill="#a0a0a0" font-size="6.6" font-family='"Liberation Mono", monospace'>(1-<tspan font-style="italic">γ</tspan>) (<tspan font-style="italic">P</tspan>-<tspan font-style="italic">W</tspan>)</text>
<text x="355" y="329.6" class="ls" fill="#ff8000">G</text>
<text x="355" y="337.6" class="ls" fill="#ff00ff">U</text>
<text x="355" y="346.1" text-anchor="middle" fill="#00aa00" font-size="8.8" font-family='"Liberation Mono", monospace' font-weight="bold">10<tspan font-size="6" dy="-3.6" font-family='"Liberation Sans", sans-serif' font-weight="normal">5</tspan><tspan dy="3.6" font-family='"Liberation Serif", serif' font-style="italic" font-weight="normal" fill="#50b050">π</tspan></text>
<text x="525" y="305.7" text-anchor="middle" class="t" textLength="8" lengthAdjust="spacingAndGlyphs">c2</text>
<path d="M34.4 434H262M34.4 456.9H262M34.4 479.8H262M34.4 502.7H262M34.4 525.6H262M78 425V562M122.5 425V562M166.9 425V562M211.4 425V562M255.8 425V562" stroke="#f2f2f2" stroke-width="0.8" fill="none"/>
<path d="M34.4 425V562" stroke="#d8d8d8" stroke-width="0.8" fill="none"/>
<path d="M34.4 548.5H262" stroke="#c0c0c0" stroke-width="0.9" fill="none"/>
<path d="M37.7 427V562" stroke="#3a3a3a" stroke-width="1.5" stroke-dasharray="2.3 4.2" fill="none"/>
<text x="31.3" y="437" text-anchor="end" class="t" textLength="17.6" lengthAdjust="spacingAndGlyphs">1000</text>
<text x="31.3" y="459.9" text-anchor="end" class="t" textLength="13.2" lengthAdjust="spacingAndGlyphs">800</text>
<text x="31.3" y="482.8" text-anchor="end" class="t" textLength="13.2" lengthAdjust="spacingAndGlyphs">600</text>
<text x="31.3" y="505.7" text-anchor="end" class="t" textLength="13.2" lengthAdjust="spacingAndGlyphs">400</text>
<text x="31.3" y="528.6" text-anchor="end" class="t" textLength="13.2" lengthAdjust="spacingAndGlyphs">200</text>
<text x="31.3" y="551.5" text-anchor="end" class="t" textLength="4.4" lengthAdjust="spacingAndGlyphs">0</text>
<text x="78" y="557.8" text-anchor="middle" class="t" textLength="11.0" lengthAdjust="spacingAndGlyphs">0.2</text>
<text x="122.5" y="557.8" text-anchor="middle" class="t" textLength="11.0" lengthAdjust="spacingAndGlyphs">0.4</text>
<text x="166.9" y="557.8" text-anchor="middle" class="t" textLength="11.0" lengthAdjust="spacingAndGlyphs">0.6</text>
<text x="211.4" y="557.8" text-anchor="middle" class="t" textLength="11.0" lengthAdjust="spacingAndGlyphs">0.8</text>
<text x="255.8" y="557.8" text-anchor="middle" class="t" textLength="11.0" lengthAdjust="spacingAndGlyphs">1.0</text>
<text x="236.8" y="557" text-anchor="middle" fill="#333" font-size="9.5" font-family='"Liberation Serif", serif' font-style="italic">l<tspan font-size="6.5" dy="2">o</tspan></text>
<path d="M34.2 478.1L36.7 480L39.2 481.9L41.6 483.9L44.1 485.8L46.6 487.6L49.1 489.5L51.6 491.3L54.1 493.1L56.5 495L59 496.9L61.5 498.8L64 500.9L66.5 503L69 505L71.4 507L73.9 509L76.4 510.8L78.9 512.7L81.4 514.4L83.9 516.2L86.3 517.8L88.8 519.4L91.3 520.9L93.8 522.4L96.3 523.8L98.8 525.1L101.2 526.4L103.7 527.6L106.2 528.6L108.7 529.7L111.2 530.7L113.7 531.7L116.1 532.7L118.6 533.7L121.1 534.5L123.6 535.3L126.1 536L128.6 536.6L131 537.2L133.5 537.7L136 538.2L138.5 538.6L141 539L143.5 539.4L145.9 539.7L148.4 540.1L150.9 540.4L153.4 540.8L155.9 541.1L158.4 541.4L160.8 541.7L163.3 542L165.8 542.2L168.3 542.5L170.8 542.7L173.3 543L175.7 543.2L178.2 543.4L180.7 543.6L183.2 543.8L185.7 544L188.2 544.1L190.6 544.2L193.1 544.4L195.6 544.5L198.1 544.7L200.6 544.8L203.1 545L205.5 545.1L208 545.2L210.5 545.3L213 545.5L215.5 545.6L218 545.7L220.4 545.8L222.9 545.9L225.4 546L227.9 546.1L230.4 546.2L232.9 546.3L235.3 546.4L237.8 546.4L240.3 546.5L242.8 546.5L245.3 546.6L247.8 546.6L250.2 546.6L252.7 546.7L255.2 546.7" stroke="#000000" stroke-width="1.3" fill="none" stroke-linejoin="round"/>
<path d="M32.4 476.2h4v4h-4zM37.9 480.5h4v4h-4zM43.4 484.7h4v4h-4zM48.9 488.8h4v4h-4zM54.5 492.9h4v4h-4zM60 497.2h4v4h-4zM65.5 501.8h4v4h-4zM71 506.2h4v4h-4zM76.5 510.4h4v4h-4zM82 514.3h4v4h-4zM87.5 517.8h4v4h-4zM93.1 521.1h4v4h-4zM98.6 524h4v4h-4zM104.1 526.6h4v4h-4zM109.6 528.8h4v4h-4zM115.1 531.1h4v4h-4zM120.6 533h4v4h-4zM126.2 534.5h4v4h-4zM131.7 535.7h4v4h-4zM137.2 536.7h4v4h-4zM142.7 537.5h4v4h-4zM148.2 538.3h4v4h-4zM153.7 539.1h4v4h-4zM159.2 539.7h4v4h-4zM164.8 540.3h4v4h-4zM170.3 540.9h4v4h-4zM175.8 541.4h4v4h-4zM181.3 541.8h4v4h-4zM186.8 542.1h4v4h-4zM192.3 542.5h4v4h-4zM197.8 542.8h4v4h-4zM203.4 543.1h4v4h-4zM208.9 543.4h4v4h-4zM214.4 543.6h4v4h-4zM219.9 543.9h4v4h-4zM225.4 544.1h4v4h-4zM230.9 544.3h4v4h-4zM236.5 544.4h4v4h-4zM242 544.6h4v4h-4zM247.5 544.6h4v4h-4zM253 544.7h4v4h-4z" fill="#000000" opacity="1.0"/>
<path d="M34.2 473.2L36.7 474.6L39.2 476L41.6 477.4L44.1 478.8L46.6 480.1L49.1 481.3L51.6 482.5L54.1 483.7L56.5 485L59 486.3L61.5 487.6L64 489.1L66.5 490.5L69 492L71.4 493.3L73.9 494.5L76.4 495.6L78.9 496.6L81.4 497.6L83.9 498.5L86.3 499.4L88.8 500.3L91.3 501.2L93.8 502.2L96.3 503L98.8 503.9L101.2 504.7L103.7 505.5L106.2 506.3L108.7 507L111.2 507.7L113.7 508.3L116.1 508.9L118.6 509.5L121.1 510.1L123.6 510.6L126.1 511.1L128.6 511.6L131 512.1L133.5 512.5L136 512.9L138.5 513.3L141 513.6L143.5 513.9L145.9 514.3L148.4 514.6L150.9 514.8L153.4 515.1L155.9 515.4L158.4 515.6L160.8 515.9L163.3 516.1L165.8 516.4L168.3 516.6L170.8 516.8L173.3 517L175.7 517.2L178.2 517.4L180.7 517.6L183.2 517.8L185.7 518L188.2 518.2L190.6 518.4L193.1 518.6L195.6 518.8L198.1 519L200.6 519.2L203.1 519.4L205.5 519.6L208 519.8L210.5 519.9L213 520.1L215.5 520.3L218 520.5L220.4 520.6L222.9 520.8L225.4 520.9L227.9 521.1L230.4 521.3L232.9 521.4L235.3 521.5L237.8 521.7L240.3 521.8L242.8 521.9L245.3 522.1L247.8 522.2L250.2 522.3L252.7 522.4L255.2 522.5" stroke="#ff0000" stroke-width="1.3" fill="none" stroke-linejoin="round"/>
<path d="M31.9 473.3a2.5 2.5 0 1 0 5 0a2.5 2.5 0 1 0 -5 0zM37.4 476.4a2.5 2.5 0 1 0 5 0a2.5 2.5 0 1 0 -5 0zM42.9 479.4a2.5 2.5 0 1 0 5 0a2.5 2.5 0 1 0 -5 0zM48.4 482.2a2.5 2.5 0 1 0 5 0a2.5 2.5 0 1 0 -5 0zM54 484.9a2.5 2.5 0 1 0 5 0a2.5 2.5 0 1 0 -5 0zM59.5 487.9a2.5 2.5 0 1 0 5 0a2.5 2.5 0 1 0 -5 0zM65 491.1a2.5 2.5 0 1 0 5 0a2.5 2.5 0 1 0 -5 0zM70.5 494.1a2.5 2.5 0 1 0 5 0a2.5 2.5 0 1 0 -5 0zM76 496.5a2.5 2.5 0 1 0 5 0a2.5 2.5 0 1 0 -5 0zM81.5 498.6a2.5 2.5 0 1 0 5 0a2.5 2.5 0 1 0 -5 0zM87 500.6a2.5 2.5 0 1 0 5 0a2.5 2.5 0 1 0 -5 0zM92.6 502.6a2.5 2.5 0 1 0 5 0a2.5 2.5 0 1 0 -5 0zM98.1 504.5a2.5 2.5 0 1 0 5 0a2.5 2.5 0 1 0 -5 0zM103.6 506.3a2.5 2.5 0 1 0 5 0a2.5 2.5 0 1 0 -5 0zM109.1 507.8a2.5 2.5 0 1 0 5 0a2.5 2.5 0 1 0 -5 0zM114.6 509.2a2.5 2.5 0 1 0 5 0a2.5 2.5 0 1 0 -5 0zM120.1 510.4a2.5 2.5 0 1 0 5 0a2.5 2.5 0 1 0 -5 0zM125.7 511.5a2.5 2.5 0 1 0 5 0a2.5 2.5 0 1 0 -5 0zM131.2 512.5a2.5 2.5 0 1 0 5 0a2.5 2.5 0 1 0 -5 0zM136.7 513.4a2.5 2.5 0 1 0 5 0a2.5 2.5 0 1 0 -5 0zM142.2 514.1a2.5 2.5 0 1 0 5 0a2.5 2.5 0 1 0 -5 0zM147.7 514.8a2.5 2.5 0 1 0 5 0a2.5 2.5 0 1 0 -5 0zM153.2 515.4a2.5 2.5 0 1 0 5 0a2.5 2.5 0 1 0 -5 0zM158.7 515.9a2.5 2.5 0 1 0 5 0a2.5 2.5 0 1 0 -5 0zM164.3 516.4a2.5 2.5 0 1 0 5 0a2.5 2.5 0 1 0 -5 0zM169.8 516.9a2.5 2.5 0 1 0 5 0a2.5 2.5 0 1 0 -5 0zM175.3 517.4a2.5 2.5 0 1 0 5 0a2.5 2.5 0 1 0 -5 0zM180.8 517.9a2.5 2.5 0 1 0 5 0a2.5 2.5 0 1 0 -5 0zM186.3 518.3a2.5 2.5 0 1 0 5 0a2.5 2.5 0 1 0 -5 0zM191.8 518.7a2.5 2.5 0 1 0 5 0a2.5 2.5 0 1 0 -5 0zM197.3 519.2a2.5 2.5 0 1 0 5 0a2.5 2.5 0 1 0 -5 0zM202.9 519.6a2.5 2.5 0 1 0 5 0a2.5 2.5 0 1 0 -5 0zM208.4 520a2.5 2.5 0 1 0 5 0a2.5 2.5 0 1 0 -5 0zM213.9 520.4a2.5 2.5 0 1 0 5 0a2.5 2.5 0 1 0 -5 0zM219.4 520.7a2.5 2.5 0 1 0 5 0a2.5 2.5 0 1 0 -5 0zM224.9 521.1a2.5 2.5 0 1 0 5 0a2.5 2.5 0 1 0 -5 0zM230.4 521.4a2.5 2.5 0 1 0 5 0a2.5 2.5 0 1 0 -5 0zM236 521.7a2.5 2.5 0 1 0 5 0a2.5 2.5 0 1 0 -5 0zM241.5 522a2.5 2.5 0 1 0 5 0a2.5 2.5 0 1 0 -5 0zM247 522.3a2.5 2.5 0 1 0 5 0a2.5 2.5 0 1 0 -5 0zM252.5 522.5a2.5 2.5 0 1 0 5 0a2.5 2.5 0 1 0 -5 0z" fill="#ff0000" opacity="1.0"/>
<path d="M34.2 548.5L36.7 547.8L39.2 547L41.6 546.2L44.1 545.3L46.6 544.4L49.1 543.5L51.6 542.4L54.1 541.4L56.5 540.4L59 539.5L61.5 538.7L64 537.8L66.5 537.1L69 536.3L71.4 535.6L73.9 534.9L76.4 534.2L78.9 533.6L81.4 532.9L83.9 532.3L86.3 531.8L88.8 531.3L91.3 530.9L93.8 530.5L96.3 530.1L98.8 529.7L101.2 529.4L103.7 529L106.2 528.7L108.7 528.3L111.2 527.9L113.7 527.6L116.1 527.2L118.6 526.9L121.1 526.5L123.6 526.2L126.1 525.9L128.6 525.7L131 525.4L133.5 525.2L136 525.1L138.5 525L141 524.9L143.5 524.8L145.9 524.7L148.4 524.6L150.9 524.5L153.4 524.4L155.9 524.3L158.4 524.2L160.8 524.1L163.3 524.1L165.8 524L168.3 523.9L170.8 523.8L173.3 523.7L175.7 523.7L178.2 523.6L180.7 523.5L183.2 523.5L185.7 523.4L188.2 523.3L190.6 523.3L193.1 523.2L195.6 523.2L198.1 523.1L200.6 523.1L203.1 523L205.5 523L208 522.9L210.5 522.9L213 522.8L215.5 522.8L218 522.8L220.4 522.7L222.9 522.7L225.4 522.7L227.9 522.7L230.4 522.6L232.9 522.6L235.3 522.6L237.8 522.6L240.3 522.6L242.8 522.5L245.3 522.5L247.8 522.5L250.2 522.5L252.7 522.5L255.2 522.5" stroke="#747474" stroke-width="1.3" fill="none" stroke-linejoin="round"/>
<path d="M34.4 547.6L36.6 551.6L32.2 551.6zM39.9 545.9L42.1 549.9L37.7 549.9zM45.4 544.1L47.6 548L43.2 548zM50.9 541.9L53.1 545.8L48.7 545.8zM56.5 539.6L58.7 543.6L54.3 543.6zM62 537.7L64.2 541.6L59.8 541.6zM67.5 535.9L69.7 539.9L65.3 539.9zM73 534.3L75.2 538.3L70.8 538.3zM78.5 532.8L80.7 536.8L76.3 536.8zM84 531.5L86.2 535.4L81.8 535.4zM89.5 530.4L91.8 534.3L87.3 534.3zM95.1 529.4L97.3 533.4L92.9 533.4zM100.6 528.6L102.8 532.6L98.4 532.6zM106.1 527.9L108.3 531.8L103.9 531.8zM111.6 527L113.8 531L109.4 531zM117.1 526.3L119.3 530.2L114.9 530.2zM122.6 525.5L124.8 529.5L120.4 529.5zM128.2 524.9L130.4 528.8L126 528.8zM133.7 524.4L135.9 528.4L131.5 528.4zM139.2 524.1L141.4 528.1L137 528.1zM144.7 523.9L146.9 527.9L142.5 527.9zM150.2 523.7L152.4 527.7L148 527.7zM155.7 523.5L157.9 527.5L153.5 527.5zM161.2 523.3L163.4 527.3L159 527.3zM166.8 523.1L169 527.1L164.6 527.1zM172.3 523L174.5 526.9L170.1 526.9zM177.8 522.8L180 526.8L175.6 526.8zM183.3 522.6L185.5 526.6L181.1 526.6zM188.8 522.5L191 526.5L186.6 526.5zM194.3 522.4L196.5 526.3L192.1 526.3zM199.8 522.3L202 526.2L197.7 526.2zM205.4 522.2L207.6 526.1L203.2 526.1zM210.9 522.1L213.1 526L208.7 526zM216.4 522L218.6 525.9L214.2 525.9zM221.9 521.9L224.1 525.9L219.7 525.9zM227.4 521.8L229.6 525.8L225.2 525.8zM232.9 521.8L235.1 525.7L230.7 525.7zM238.5 521.7L240.7 525.7L236.3 525.7zM244 521.7L246.2 525.7L241.8 525.7zM249.5 521.7L251.7 525.7L247.3 525.7zM255 521.7L257.2 525.6L252.8 525.6z" fill="#5e5e5e" opacity="1.0"/>
<path d="M34.2 511.7L36.7 513.2L39.2 514.5L41.6 515.9L44.1 517.2L46.6 518.5L49.1 519.8L51.6 521.1L54.1 522.3L56.5 523.5L59 524.7L61.5 525.9L64 527.1L66.5 528.3L69 529.4L71.4 530.5L73.9 531.5L76.4 532.4L78.9 533.4L81.4 534.2L83.9 535.1L86.3 535.9L88.8 536.7L91.3 537.5L93.8 538.3L96.3 539.1L98.8 539.8L101.2 540.5L103.7 541L106.2 541.5L108.7 542L111.2 542.4L113.7 543L116.1 543.5L118.6 544L121.1 544.5L123.6 545L126.1 545.5L128.6 546L131 546.5L133.5 546.8L136 547L138.5 547.2L141 547.4L143.5 547.6L145.9 547.8L148.4 547.9L150.9 548L153.4 548.1L155.9 548.2L158.4 548.2L160.8 548.2L163.3 548.2L165.8 548.2L168.3 548.2L170.8 548.3L173.3 548.3L175.7 548.3L178.2 548.3L180.7 548.3L183.2 548.3L185.7 548.3L188.2 548.4L190.6 548.4L193.1 548.4L195.6 548.4L198.1 548.4L200.6 548.4L203.1 548.4L205.5 548.4L208 548.4L210.5 548.4L213 548.5L215.5 548.5L218 548.5L220.4 548.5L222.9 548.5L225.4 548.5L227.9 548.5L230.4 548.5L232.9 548.5L235.3 548.5L237.8 548.5L240.3 548.5L242.8 548.5L245.3 548.5L247.8 548.5L250.2 548.5L252.7 548.5L255.2 548.5" stroke="#00ffff" stroke-width="1.3" fill="none" stroke-linejoin="round"/>
<path d="M34.4 508.7L35.2 510.7L37.4 510.9L35.7 512.3L36.2 514.4L34.4 513.3L32.6 514.4L33.1 512.3L31.4 510.9L33.6 510.7zM39.9 511.8L40.7 513.8L42.9 514L41.3 515.4L41.8 517.5L39.9 516.4L38.1 517.5L38.6 515.4L36.9 514L39.1 513.8zM45.4 514.8L46.3 516.8L48.4 516.9L46.8 518.3L47.3 520.4L45.4 519.3L43.6 520.4L44.1 518.3L42.5 516.9L44.6 516.8zM50.9 517.6L51.8 519.6L53.9 519.8L52.3 521.2L52.8 523.3L50.9 522.2L49.1 523.3L49.6 521.2L48 519.8L50.1 519.6zM56.5 520.4L57.3 522.4L59.4 522.5L57.8 523.9L58.3 526L56.5 524.9L54.6 526L55.1 523.9L53.5 522.5L55.6 522.4zM62 523L62.8 525L64.9 525.2L63.3 526.6L63.8 528.7L62 527.5L60.1 528.7L60.6 526.6L59 525.2L61.1 525zM67.5 525.6L68.3 527.6L70.5 527.8L68.8 529.2L69.3 531.3L67.5 530.1L65.7 531.3L66.2 529.2L64.5 527.8L66.7 527.6zM73 528L73.8 530L76 530.1L74.3 531.5L74.8 533.6L73 532.5L71.2 533.6L71.7 531.5L70 530.1L72.2 530zM78.5 530.1L79.3 532.1L81.5 532.2L79.9 533.6L80.4 535.7L78.5 534.6L76.7 535.7L77.2 533.6L75.5 532.2L77.7 532.1zM84 532L84.9 534L87 534.2L85.4 535.6L85.9 537.7L84 536.5L82.2 537.7L82.7 535.6L81.1 534.2L83.2 534zM89.5 533.8L90.4 535.8L92.5 536L90.9 537.4L91.4 539.5L89.5 538.3L87.7 539.5L88.2 537.4L86.6 536L88.7 535.8zM95.1 535.6L95.9 537.6L98 537.8L96.4 539.2L96.9 541.3L95.1 540.1L93.2 541.3L93.7 539.2L92.1 537.8L94.2 537.6zM100.6 537.2L101.4 539.2L103.6 539.3L101.9 540.7L102.4 542.8L100.6 541.7L98.7 542.8L99.2 540.7L97.6 539.3L99.8 539.2zM106.1 538.4L106.9 540.4L109.1 540.5L107.4 541.9L107.9 544L106.1 542.9L104.3 544L104.8 541.9L103.1 540.5L105.3 540.4zM111.6 539.4L112.4 541.4L114.6 541.6L112.9 543L113.4 545.1L111.6 543.9L109.8 545.1L110.3 543L108.6 541.6L110.8 541.4zM117.1 540.6L118 542.6L120.1 542.7L118.5 544.1L119 546.2L117.1 545.1L115.3 546.2L115.8 544.1L114.2 542.7L116.3 542.6zM122.6 541.7L123.5 543.7L125.6 543.9L124 545.3L124.5 547.4L122.6 546.2L120.8 547.4L121.3 545.3L119.7 543.9L121.8 543.7zM128.2 542.8L129 544.8L131.1 545L129.5 546.4L130 548.5L128.2 547.4L126.3 548.5L126.8 546.4L125.2 545L127.3 544.8zM133.7 543.7L134.5 545.6L136.6 545.8L135 547.2L135.5 549.3L133.7 548.2L131.8 549.3L132.3 547.2L130.7 545.8L132.8 545.6zM139.2 544.2L140 546.2L142.2 546.3L140.5 547.7L141 549.8L139.2 548.7L137.3 549.8L137.8 547.7L136.2 546.3L138.4 546.2zM144.7 544.6L145.5 546.6L147.7 546.7L146 548.1L146.5 550.2L144.7 549.1L142.9 550.2L143.4 548.1L141.7 546.7L143.9 546.6zM150.2 544.9L151 546.9L153.2 547.1L151.6 548.5L152.1 550.5L150.2 549.4L148.4 550.5L148.9 548.5L147.2 547.1L149.4 546.9zM155.7 545L156.6 547L158.7 547.2L157.1 548.6L157.6 550.7L155.7 549.6L153.9 550.7L154.4 548.6L152.8 547.2L154.9 547zM161.2 545.1L162.1 547.1L164.2 547.2L162.6 548.6L163.1 550.7L161.2 549.6L159.4 550.7L159.9 548.6L158.3 547.2L160.4 547.1zM166.8 545.1L167.6 547.1L169.7 547.3L168.1 548.7L168.6 550.8L166.8 549.6L164.9 550.8L165.4 548.7L163.8 547.3L165.9 547.1zM172.3 545.1L173.1 547.1L175.2 547.3L173.6 548.7L174.1 550.8L172.3 549.7L170.4 550.8L170.9 548.7L169.3 547.3L171.4 547.1zM177.8 545.2L178.6 547.2L180.8 547.3L179.1 548.7L179.6 550.8L177.8 549.7L176 550.8L176.5 548.7L174.8 547.3L177 547.2zM183.3 545.2L184.1 547.2L186.3 547.4L184.6 548.8L185.1 550.9L183.3 549.7L181.5 550.9L182 548.8L180.3 547.4L182.5 547.2zM188.8 545.2L189.6 547.2L191.8 547.4L190.2 548.8L190.7 550.9L188.8 549.8L187 550.9L187.5 548.8L185.8 547.4L188 547.2zM194.3 545.3L195.2 547.3L197.3 547.4L195.7 548.8L196.2 550.9L194.3 549.8L192.5 550.9L193 548.8L191.4 547.4L193.5 547.3zM199.8 545.3L200.7 547.3L202.8 547.4L201.2 548.8L201.7 550.9L199.8 549.8L198 550.9L198.5 548.8L196.9 547.4L199 547.3zM205.4 545.3L206.2 547.3L208.3 547.5L206.7 548.9L207.2 551L205.4 549.8L203.5 551L204 548.9L202.4 547.5L204.5 547.3zM210.9 545.3L211.7 547.3L213.9 547.5L212.2 548.9L212.7 551L210.9 549.9L209 551L209.5 548.9L207.9 547.5L210.1 547.3zM216.4 545.3L217.2 547.3L219.4 547.5L217.7 548.9L218.2 551L216.4 549.9L214.6 551L215.1 548.9L213.4 547.5L215.6 547.3zM221.9 545.3L222.7 547.3L224.9 547.5L223.2 548.9L223.7 551L221.9 549.9L220.1 551L220.6 548.9L218.9 547.5L221.1 547.3zM227.4 545.4L228.3 547.3L230.4 547.5L228.8 548.9L229.3 551L227.4 549.9L225.6 551L226.1 548.9L224.5 547.5L226.6 547.3zM232.9 545.4L233.8 547.3L235.9 547.5L234.3 548.9L234.8 551L232.9 549.9L231.1 551L231.6 548.9L230 547.5L232.1 547.3zM238.5 545.4L239.3 547.4L241.4 547.5L239.8 548.9L240.3 551L238.5 549.9L236.6 551L237.1 548.9L235.5 547.5L237.6 547.4zM244 545.4L244.8 547.4L246.9 547.5L245.3 548.9L245.8 551L244 549.9L242.1 551L242.6 548.9L241 547.5L243.1 547.4zM249.5 545.4L250.3 547.4L252.5 547.5L250.8 548.9L251.3 551L249.5 549.9L247.6 551L248.1 548.9L246.5 547.5L248.7 547.4zM255 545.4L255.8 547.4L258 547.5L256.3 548.9L256.8 551L255 549.9L253.2 551L253.7 548.9L252 547.5L254.2 547.4z" fill="#00ffff" opacity="1.0"/>
<path d="M34.2 503L36.7 504.5L39.2 506.1L41.6 507.6L44.1 509.2L46.6 510.7L49.1 512.3L51.6 513.9L54.1 515.5L56.5 517.2L59 518.9L61.5 520.6L64 522.4L66.5 524.3L69 526.1L71.4 527.8L73.9 529.4L76.4 530.8L78.9 532.2L81.4 533.6L83.9 534.8L86.3 535.8L88.8 536.7L91.3 537.5L93.8 538.2L96.3 538.8L98.8 539.3L101.2 539.9L103.7 540.3L106.2 540.7L108.7 541.1L111.2 541.5L113.7 541.9L116.1 542.3L118.6 542.7L121.1 543.1L123.6 543.4L126.1 543.8L128.6 544.2L131 544.5L133.5 544.7L136 545L138.5 545.1L141 545.3L143.5 545.4L145.9 545.6L148.4 545.7L150.9 545.8L153.4 546L155.9 546.1L158.4 546.2L160.8 546.3L163.3 546.4L165.8 546.5L168.3 546.6L170.8 546.7L173.3 546.7L175.7 546.8L178.2 546.9L180.7 546.9L183.2 547L185.7 547.1L188.2 547.1L190.6 547.2L193.1 547.2L195.6 547.3L198.1 547.3L200.6 547.3L203.1 547.4L205.5 547.4L208 547.5L210.5 547.5L213 547.6L215.5 547.6L218 547.6L220.4 547.7L222.9 547.7L225.4 547.7L227.9 547.8L230.4 547.8L232.9 547.8L235.3 547.8L237.8 547.9L240.3 547.9L242.8 547.9L245.3 547.9L247.8 547.9L250.2 547.9L252.7 547.9L255.2 547.9" stroke="#ff8000" stroke-width="1.3" fill="none" stroke-linejoin="round"/>
<path d="M34.4 500.6L36.9 503.2L34.4 505.7L31.9 503.2zM39.9 504L42.4 506.5L39.9 509.1L37.4 506.5zM45.4 507.5L48 510L45.4 512.5L42.9 510zM50.9 511L53.5 513.5L50.9 516L48.4 513.5zM56.5 514.6L59 517.1L56.5 519.7L53.9 517.1zM62 518.4L64.5 520.9L62 523.5L59.4 520.9zM67.5 522.5L70 525.1L67.5 527.6L65 525.1zM73 526.3L75.5 528.8L73 531.4L70.5 528.8zM78.5 529.5L81 532L78.5 534.6L76 532zM84 532.3L86.6 534.8L84 537.4L81.5 534.8zM89.5 534.4L92.1 536.9L89.5 539.5L87 536.9zM95.1 536L97.6 538.5L95.1 541L92.5 538.5zM100.6 537.2L103.1 539.7L100.6 542.3L98 539.7zM106.1 538.2L108.6 540.7L106.1 543.2L103.6 540.7zM111.6 539L114.1 541.5L111.6 544.1L109.1 541.5zM117.1 539.9L119.7 542.4L117.1 544.9L114.6 542.4zM122.6 540.8L125.2 543.3L122.6 545.8L120.1 543.3zM128.2 541.6L130.7 544.1L128.2 546.6L125.6 544.1zM133.7 542.2L136.2 544.8L133.7 547.3L131.1 544.8zM139.2 542.6L141.7 545.2L139.2 547.7L136.7 545.2zM144.7 543L147.2 545.5L144.7 548L142.2 545.5zM150.2 543.3L152.7 545.8L150.2 548.3L147.7 545.8zM155.7 543.6L158.3 546.1L155.7 548.6L153.2 546.1zM161.2 543.8L163.8 546.3L161.2 548.9L158.7 546.3zM166.8 544L169.3 546.5L166.8 549.1L164.2 546.5zM172.3 544.2L174.8 546.7L172.3 549.2L169.7 546.7zM177.8 544.3L180.3 546.9L177.8 549.4L175.3 546.9zM183.3 544.5L185.8 547L183.3 549.5L180.8 547zM188.8 544.6L191.3 547.1L188.8 549.7L186.3 547.1zM194.3 544.7L196.9 547.2L194.3 549.8L191.8 547.2zM199.8 544.8L202.4 547.3L199.8 549.9L197.3 547.3zM205.4 544.9L207.9 547.4L205.4 550L202.8 547.4zM210.9 545L213.4 547.5L210.9 550L208.3 547.5zM216.4 545.1L218.9 547.6L216.4 550.1L213.9 547.6zM221.9 545.2L224.4 547.7L221.9 550.2L219.4 547.7zM227.4 545.2L230 547.8L227.4 550.3L224.9 547.8zM232.9 545.3L235.5 547.8L232.9 550.3L230.4 547.8zM238.5 545.3L241 547.9L238.5 550.4L235.9 547.9zM244 545.4L246.5 547.9L244 550.4L241.4 547.9zM249.5 545.4L252 547.9L249.5 550.4L247 547.9zM255 545.4L257.5 547.9L255 550.5L252.5 547.9z" fill="#ff8000" opacity="1.0"/>
<path d="M34.2 510.3L36.7 507.4L39.2 504.6L41.6 501.8L44.1 499.1L46.6 496.4L49.1 493.7L51.6 491L54.1 488.4L56.5 485.9L59 483.5L61.5 481.1L64 478.9L66.5 476.6L69 474.5L71.4 472.5L73.9 470.7L76.4 469L78.9 467.4L81.4 465.9L83.9 464.5L86.3 463.2L88.8 462L91.3 460.9L93.8 459.9L96.3 458.9L98.8 458L101.2 457.1L103.7 456.2L106.2 455.2L108.7 454.2L111.2 453.2L113.7 452.3L116.1 451.5L118.6 450.7L121.1 450L123.6 449.4L126.1 448.7L128.6 448.1L131 447.6L133.5 447L136 446.5L138.5 446L141 445.6L143.5 445.1L145.9 444.6L148.4 444.2L150.9 443.8L153.4 443.3L155.9 442.9L158.4 442.5L160.8 442.1L163.3 441.7L165.8 441.4L168.3 441L170.8 440.6L173.3 440.3L175.7 440L178.2 439.6L180.7 439.3L183.2 439L185.7 438.7L188.2 438.4L190.6 438.1L193.1 437.8L195.6 437.5L198.1 437.3L200.6 437L203.1 436.7L205.5 436.4L208 436.2L210.5 435.9L213 435.6L215.5 435.4L218 435.1L220.4 434.9L222.9 434.7L225.4 434.4L227.9 434.2L230.4 434L232.9 433.8L235.3 433.6L237.8 433.4L240.3 433.2L242.8 433L245.3 432.8L247.8 432.6L250.2 432.5L252.7 432.3L255.2 432.2" stroke="#996633" stroke-width="1.3" fill="none" stroke-linejoin="round"/>
<path d="M33.3 508.8a1.1 1.1 0 1 0 2.2 0a1.1 1.1 0 1 0 -2.2 0zM32.1 510.4a1.1 1.1 0 1 0 2.2 0a1.1 1.1 0 1 0 -2.2 0zM34.6 510.4a1.1 1.1 0 1 0 2.2 0a1.1 1.1 0 1 0 -2.2 0zM33.9 510L34.9 510L35.2 512.5L33.6 512.5zM38.8 502.5a1.1 1.1 0 1 0 2.2 0a1.1 1.1 0 1 0 -2.2 0zM37.6 504.1a1.1 1.1 0 1 0 2.2 0a1.1 1.1 0 1 0 -2.2 0zM40.1 504.1a1.1 1.1 0 1 0 2.2 0a1.1 1.1 0 1 0 -2.2 0zM39.4 503.7L40.4 503.7L40.8 506.3L39.1 506.3zM44.4 496.5a1.1 1.1 0 1 0 2.2 0a1.1 1.1 0 1 0 -2.2 0zM43.1 498a1.1 1.1 0 1 0 2.2 0a1.1 1.1 0 1 0 -2.2 0zM45.6 498a1.1 1.1 0 1 0 2.2 0a1.1 1.1 0 1 0 -2.2 0zM45 497.7L45.9 497.7L46.3 500.2L44.6 500.2zM49.9 490.5a1.1 1.1 0 1 0 2.2 0a1.1 1.1 0 1 0 -2.2 0zM48.6 492.1a1.1 1.1 0 1 0 2.2 0a1.1 1.1 0 1 0 -2.2 0zM51.1 492.1a1.1 1.1 0 1 0 2.2 0a1.1 1.1 0 1 0 -2.2 0zM50.5 491.7L51.4 491.7L51.8 494.2L50.1 494.2zM55.4 484.8a1.1 1.1 0 1 0 2.2 0a1.1 1.1 0 1 0 -2.2 0zM54.1 486.3a1.1 1.1 0 1 0 2.2 0a1.1 1.1 0 1 0 -2.2 0zM56.6 486.3a1.1 1.1 0 1 0 2.2 0a1.1 1.1 0 1 0 -2.2 0zM56 486L56.9 486L57.3 488.5L55.6 488.5zM60.9 479.5a1.1 1.1 0 1 0 2.2 0a1.1 1.1 0 1 0 -2.2 0zM59.6 481.1a1.1 1.1 0 1 0 2.2 0a1.1 1.1 0 1 0 -2.2 0zM62.1 481.1a1.1 1.1 0 1 0 2.2 0a1.1 1.1 0 1 0 -2.2 0zM61.5 480.7L62.5 480.7L62.8 483.2L61.1 483.2zM66.4 474.6a1.1 1.1 0 1 0 2.2 0a1.1 1.1 0 1 0 -2.2 0zM65.2 476.1a1.1 1.1 0 1 0 2.2 0a1.1 1.1 0 1 0 -2.2 0zM67.7 476.1a1.1 1.1 0 1 0 2.2 0a1.1 1.1 0 1 0 -2.2 0zM67 475.8L68 475.8L68.3 478.3L66.6 478.3zM71.9 470.2a1.1 1.1 0 1 0 2.2 0a1.1 1.1 0 1 0 -2.2 0zM70.7 471.7a1.1 1.1 0 1 0 2.2 0a1.1 1.1 0 1 0 -2.2 0zM73.2 471.7a1.1 1.1 0 1 0 2.2 0a1.1 1.1 0 1 0 -2.2 0zM72.5 471.4L73.5 471.4L73.8 473.9L72.2 473.9zM77.4 466.4a1.1 1.1 0 1 0 2.2 0a1.1 1.1 0 1 0 -2.2 0zM76.2 468a1.1 1.1 0 1 0 2.2 0a1.1 1.1 0 1 0 -2.2 0zM78.7 468a1.1 1.1 0 1 0 2.2 0a1.1 1.1 0 1 0 -2.2 0zM78 467.6L79 467.6L79.4 470.2L77.7 470.2zM83 463.2a1.1 1.1 0 1 0 2.2 0a1.1 1.1 0 1 0 -2.2 0zM81.7 464.7a1.1 1.1 0 1 0 2.2 0a1.1 1.1 0 1 0 -2.2 0zM84.2 464.7a1.1 1.1 0 1 0 2.2 0a1.1 1.1 0 1 0 -2.2 0zM83.6 464.4L84.5 464.4L84.9 466.9L83.2 466.9zM88.5 460.4a1.1 1.1 0 1 0 2.2 0a1.1 1.1 0 1 0 -2.2 0zM87.2 462a1.1 1.1 0 1 0 2.2 0a1.1 1.1 0 1 0 -2.2 0zM89.7 462a1.1 1.1 0 1 0 2.2 0a1.1 1.1 0 1 0 -2.2 0zM89.1 461.6L90 461.6L90.4 464.1L88.7 464.1zM94 458.2a1.1 1.1 0 1 0 2.2 0a1.1 1.1 0 1 0 -2.2 0zM92.7 459.7a1.1 1.1 0 1 0 2.2 0a1.1 1.1 0 1 0 -2.2 0zM95.2 459.7a1.1 1.1 0 1 0 2.2 0a1.1 1.1 0 1 0 -2.2 0zM94.6 459.4L95.5 459.4L95.9 461.9L94.2 461.9zM99.5 456.2a1.1 1.1 0 1 0 2.2 0a1.1 1.1 0 1 0 -2.2 0zM98.3 457.7a1.1 1.1 0 1 0 2.2 0a1.1 1.1 0 1 0 -2.2 0zM100.7 457.7a1.1 1.1 0 1 0 2.2 0a1.1 1.1 0 1 0 -2.2 0zM100.1 457.4L101.1 457.4L101.4 459.9L99.7 459.9zM105 454a1.1 1.1 0 1 0 2.2 0a1.1 1.1 0 1 0 -2.2 0zM103.8 455.6a1.1 1.1 0 1 0 2.2 0a1.1 1.1 0 1 0 -2.2 0zM106.3 455.6a1.1 1.1 0 1 0 2.2 0a1.1 1.1 0 1 0 -2.2 0zM105.6 455.2L106.6 455.2L106.9 457.7L105.3 457.7zM110.5 451.9a1.1 1.1 0 1 0 2.2 0a1.1 1.1 0 1 0 -2.2 0zM109.3 453.4a1.1 1.1 0 1 0 2.2 0a1.1 1.1 0 1 0 -2.2 0zM111.8 453.4a1.1 1.1 0 1 0 2.2 0a1.1 1.1 0 1 0 -2.2 0zM111.1 453.1L112.1 453.1L112.4 455.6L110.8 455.6zM116 450a1.1 1.1 0 1 0 2.2 0a1.1 1.1 0 1 0 -2.2 0zM114.8 451.5a1.1 1.1 0 1 0 2.2 0a1.1 1.1 0 1 0 -2.2 0zM117.3 451.5a1.1 1.1 0 1 0 2.2 0a1.1 1.1 0 1 0 -2.2 0zM116.6 451.2L117.6 451.2L118 453.7L116.3 453.7zM121.6 448.4a1.1 1.1 0 1 0 2.2 0a1.1 1.1 0 1 0 -2.2 0zM120.3 450a1.1 1.1 0 1 0 2.2 0a1.1 1.1 0 1 0 -2.2 0zM122.8 450a1.1 1.1 0 1 0 2.2 0a1.1 1.1 0 1 0 -2.2 0zM122.2 449.6L123.1 449.6L123.5 452.1L121.8 452.1zM127.1 447a1.1 1.1 0 1 0 2.2 0a1.1 1.1 0 1 0 -2.2 0zM125.8 448.6a1.1 1.1 0 1 0 2.2 0a1.1 1.1 0 1 0 -2.2 0zM128.3 448.6a1.1 1.1 0 1 0 2.2 0a1.1 1.1 0 1 0 -2.2 0zM127.7 448.2L128.6 448.2L129 450.8L127.3 450.8zM132.6 445.8a1.1 1.1 0 1 0 2.2 0a1.1 1.1 0 1 0 -2.2 0zM131.3 447.4a1.1 1.1 0 1 0 2.2 0a1.1 1.1 0 1 0 -2.2 0zM133.8 447.4a1.1 1.1 0 1 0 2.2 0a1.1 1.1 0 1 0 -2.2 0zM133.2 447L134.1 447L134.5 449.5L132.8 449.5zM138.1 444.7a1.1 1.1 0 1 0 2.2 0a1.1 1.1 0 1 0 -2.2 0zM136.9 446.3a1.1 1.1 0 1 0 2.2 0a1.1 1.1 0 1 0 -2.2 0zM139.4 446.3a1.1 1.1 0 1 0 2.2 0a1.1 1.1 0 1 0 -2.2 0zM138.7 445.9L139.7 445.9L140 448.4L138.3 448.4zM143.6 443.7a1.1 1.1 0 1 0 2.2 0a1.1 1.1 0 1 0 -2.2 0zM142.4 445.2a1.1 1.1 0 1 0 2.2 0a1.1 1.1 0 1 0 -2.2 0zM144.9 445.2a1.1 1.1 0 1 0 2.2 0a1.1 1.1 0 1 0 -2.2 0zM144.2 444.9L145.2 444.9L145.5 447.4L143.9 447.4zM149.1 442.7a1.1 1.1 0 1 0 2.2 0a1.1 1.1 0 1 0 -2.2 0zM147.9 444.2a1.1 1.1 0 1 0 2.2 0a1.1 1.1 0 1 0 -2.2 0zM150.4 444.2a1.1 1.1 0 1 0 2.2 0a1.1 1.1 0 1 0 -2.2 0zM149.7 443.9L150.7 443.9L151.1 446.4L149.4 446.4zM154.6 441.8a1.1 1.1 0 1 0 2.2 0a1.1 1.1 0 1 0 -2.2 0zM153.4 443.3a1.1 1.1 0 1 0 2.2 0a1.1 1.1 0 1 0 -2.2 0zM155.9 443.3a1.1 1.1 0 1 0 2.2 0a1.1 1.1 0 1 0 -2.2 0zM155.2 443L156.2 443L156.6 445.5L154.9 445.5zM160.2 440.9a1.1 1.1 0 1 0 2.2 0a1.1 1.1 0 1 0 -2.2 0zM158.9 442.4a1.1 1.1 0 1 0 2.2 0a1.1 1.1 0 1 0 -2.2 0zM161.4 442.4a1.1 1.1 0 1 0 2.2 0a1.1 1.1 0 1 0 -2.2 0zM160.8 442.1L161.7 442.1L162.1 444.6L160.4 444.6zM165.7 440a1.1 1.1 0 1 0 2.2 0a1.1 1.1 0 1 0 -2.2 0zM164.4 441.6a1.1 1.1 0 1 0 2.2 0a1.1 1.1 0 1 0 -2.2 0zM166.9 441.6a1.1 1.1 0 1 0 2.2 0a1.1 1.1 0 1 0 -2.2 0zM166.3 441.2L167.2 441.2L167.6 443.7L165.9 443.7zM171.2 439.2a1.1 1.1 0 1 0 2.2 0a1.1 1.1 0 1 0 -2.2 0zM169.9 440.8a1.1 1.1 0 1 0 2.2 0a1.1 1.1 0 1 0 -2.2 0zM172.4 440.8a1.1 1.1 0 1 0 2.2 0a1.1 1.1 0 1 0 -2.2 0zM171.8 440.4L172.8 440.4L173.1 443L171.4 443zM176.7 438.5a1.1 1.1 0 1 0 2.2 0a1.1 1.1 0 1 0 -2.2 0zM175.5 440.1a1.1 1.1 0 1 0 2.2 0a1.1 1.1 0 1 0 -2.2 0zM178 440.1a1.1 1.1 0 1 0 2.2 0a1.1 1.1 0 1 0 -2.2 0zM177.3 439.7L178.3 439.7L178.6 442.2L176.9 442.2zM182.2 437.8a1.1 1.1 0 1 0 2.2 0a1.1 1.1 0 1 0 -2.2 0zM181 439.3a1.1 1.1 0 1 0 2.2 0a1.1 1.1 0 1 0 -2.2 0zM183.5 439.3a1.1 1.1 0 1 0 2.2 0a1.1 1.1 0 1 0 -2.2 0zM182.8 439L183.8 439L184.1 441.5L182.5 441.5zM187.7 437.1a1.1 1.1 0 1 0 2.2 0a1.1 1.1 0 1 0 -2.2 0zM186.5 438.7a1.1 1.1 0 1 0 2.2 0a1.1 1.1 0 1 0 -2.2 0zM189 438.7a1.1 1.1 0 1 0 2.2 0a1.1 1.1 0 1 0 -2.2 0zM188.3 438.3L189.3 438.3L189.7 440.8L188 440.8zM193.3 436.5a1.1 1.1 0 1 0 2.2 0a1.1 1.1 0 1 0 -2.2 0zM192 438a1.1 1.1 0 1 0 2.2 0a1.1 1.1 0 1 0 -2.2 0zM194.5 438a1.1 1.1 0 1 0 2.2 0a1.1 1.1 0 1 0 -2.2 0zM193.9 437.7L194.8 437.7L195.2 440.2L193.5 440.2zM198.8 435.9a1.1 1.1 0 1 0 2.2 0a1.1 1.1 0 1 0 -2.2 0zM197.5 437.4a1.1 1.1 0 1 0 2.2 0a1.1 1.1 0 1 0 -2.2 0zM200 437.4a1.1 1.1 0 1 0 2.2 0a1.1 1.1 0 1 0 -2.2 0zM199.4 437.1L200.3 437.1L200.7 439.6L199 439.6zM204.3 435.3a1.1 1.1 0 1 0 2.2 0a1.1 1.1 0 1 0 -2.2 0zM203 436.8a1.1 1.1 0 1 0 2.2 0a1.1 1.1 0 1 0 -2.2 0zM205.5 436.8a1.1 1.1 0 1 0 2.2 0a1.1 1.1 0 1 0 -2.2 0zM204.9 436.5L205.8 436.5L206.2 439L204.5 439zM209.8 434.7a1.1 1.1 0 1 0 2.2 0a1.1 1.1 0 1 0 -2.2 0zM208.6 436.2a1.1 1.1 0 1 0 2.2 0a1.1 1.1 0 1 0 -2.2 0zM211 436.2a1.1 1.1 0 1 0 2.2 0a1.1 1.1 0 1 0 -2.2 0zM210.4 435.9L211.4 435.9L211.7 438.4L210 438.4zM215.3 434.1a1.1 1.1 0 1 0 2.2 0a1.1 1.1 0 1 0 -2.2 0zM214.1 435.7a1.1 1.1 0 1 0 2.2 0a1.1 1.1 0 1 0 -2.2 0zM216.6 435.7a1.1 1.1 0 1 0 2.2 0a1.1 1.1 0 1 0 -2.2 0zM215.9 435.3L216.9 435.3L217.2 437.8L215.6 437.8zM220.8 433.6a1.1 1.1 0 1 0 2.2 0a1.1 1.1 0 1 0 -2.2 0zM219.6 435.1a1.1 1.1 0 1 0 2.2 0a1.1 1.1 0 1 0 -2.2 0zM222.1 435.1a1.1 1.1 0 1 0 2.2 0a1.1 1.1 0 1 0 -2.2 0zM221.4 434.8L222.4 434.8L222.8 437.3L221.1 437.3zM226.3 433a1.1 1.1 0 1 0 2.2 0a1.1 1.1 0 1 0 -2.2 0zM225.1 434.6a1.1 1.1 0 1 0 2.2 0a1.1 1.1 0 1 0 -2.2 0zM227.6 434.6a1.1 1.1 0 1 0 2.2 0a1.1 1.1 0 1 0 -2.2 0zM226.9 434.2L227.9 434.2L228.3 436.8L226.6 436.8zM231.9 432.6a1.1 1.1 0 1 0 2.2 0a1.1 1.1 0 1 0 -2.2 0zM230.6 434.1a1.1 1.1 0 1 0 2.2 0a1.1 1.1 0 1 0 -2.2 0zM233.1 434.1a1.1 1.1 0 1 0 2.2 0a1.1 1.1 0 1 0 -2.2 0zM232.5 433.8L233.4 433.8L233.8 436.3L232.1 436.3zM237.4 432.1a1.1 1.1 0 1 0 2.2 0a1.1 1.1 0 1 0 -2.2 0zM236.1 433.7a1.1 1.1 0 1 0 2.2 0a1.1 1.1 0 1 0 -2.2 0zM238.6 433.7a1.1 1.1 0 1 0 2.2 0a1.1 1.1 0 1 0 -2.2 0zM238 433.3L238.9 433.3L239.3 435.8L237.6 435.8zM242.9 431.7a1.1 1.1 0 1 0 2.2 0a1.1 1.1 0 1 0 -2.2 0zM241.6 433.3a1.1 1.1 0 1 0 2.2 0a1.1 1.1 0 1 0 -2.2 0zM244.1 433.3a1.1 1.1 0 1 0 2.2 0a1.1 1.1 0 1 0 -2.2 0zM243.5 432.9L244.4 432.9L244.8 435.4L243.1 435.4zM248.4 431.3a1.1 1.1 0 1 0 2.2 0a1.1 1.1 0 1 0 -2.2 0zM247.2 432.9a1.1 1.1 0 1 0 2.2 0a1.1 1.1 0 1 0 -2.2 0zM249.7 432.9a1.1 1.1 0 1 0 2.2 0a1.1 1.1 0 1 0 -2.2 0zM249 432.5L250 432.5L250.3 435L248.6 435zM253.9 431a1.1 1.1 0 1 0 2.2 0a1.1 1.1 0 1 0 -2.2 0zM252.7 432.5a1.1 1.1 0 1 0 2.2 0a1.1 1.1 0 1 0 -2.2 0zM255.2 432.5a1.1 1.1 0 1 0 2.2 0a1.1 1.1 0 1 0 -2.2 0zM254.5 432.2L255.5 432.2L255.8 434.7L254.2 434.7z" fill="#996633" opacity="1.0"/>
<path d="M34.2 465.9L36.7 468.4L39.2 470.7L41.6 472.9L44.1 475.1L46.6 477.1L49.1 478.9L51.6 480.6L54.1 482.4L56.5 484.2L59 486.2L61.5 488.4L64 490.9L66.5 493.5L69 496L71.4 498.5L73.9 500.8L76.4 502.8L78.9 504.8L81.4 506.8L83.9 508.6L86.3 510.5L88.8 512.4L91.3 514.3L93.8 516.1L96.3 517.9L98.8 519.8L101.2 521.6L103.7 523.5L106.2 525.6L108.7 527.6L111.2 529.2L113.7 530.5L116.1 531.8L118.6 532.9L121.1 533.8L123.6 534.6L126.1 535.4L128.6 536L131 536.6L133.5 537.1L136 537.6L138.5 538L141 538.4L143.5 538.8L145.9 539.2L148.4 539.6L150.9 540L153.4 540.3L155.9 540.6L158.4 541L160.8 541.3L163.3 541.6L165.8 541.9L168.3 542.2L170.8 542.4L173.3 542.7L175.7 542.9L178.2 543.1L180.7 543.3L183.2 543.5L185.7 543.7L188.2 543.9L190.6 544L193.1 544.2L195.6 544.3L198.1 544.5L200.6 544.6L203.1 544.8L205.5 544.9L208 545.1L210.5 545.2L213 545.4L215.5 545.5L218 545.6L220.4 545.7L222.9 545.9L225.4 546L227.9 546.1L230.4 546.2L232.9 546.3L235.3 546.3L237.8 546.4L240.3 546.5L242.8 546.5L245.3 546.6L247.8 546.6L250.2 546.6L252.7 546.7L255.2 546.7" stroke="#0000ff" stroke-width="1.3" fill="none" stroke-linejoin="round"/>
<path d="M34.4 468.8L32 465.9A1.2 1.2 0 0 1 34.4 464.9A1.2 1.2 0 0 1 36.8 465.9zM39.9 474L37.5 471.1A1.2 1.2 0 0 1 39.9 470.2A1.2 1.2 0 0 1 42.3 471.1zM45.4 478.8L43 475.9A1.2 1.2 0 0 1 45.4 474.9A1.2 1.2 0 0 1 47.8 475.9zM50.9 482.8L48.5 480A1.2 1.2 0 0 1 50.9 479A1.2 1.2 0 0 1 53.3 480zM56.5 486.8L54.1 483.9A1.2 1.2 0 0 1 56.5 483A1.2 1.2 0 0 1 58.9 483.9zM62 491.5L59.6 488.6A1.2 1.2 0 0 1 62 487.7A1.2 1.2 0 0 1 64.4 488.6zM67.5 497.1L65.1 494.3A1.2 1.2 0 0 1 67.5 493.3A1.2 1.2 0 0 1 69.9 494.3zM73 502.6L70.6 499.7A1.2 1.2 0 0 1 73 498.7A1.2 1.2 0 0 1 75.4 499.7zM78.5 507.2L76.1 504.3A1.2 1.2 0 0 1 78.5 503.3A1.2 1.2 0 0 1 80.9 504.3zM84 511.4L81.6 508.5A1.2 1.2 0 0 1 84 507.6A1.2 1.2 0 0 1 86.4 508.5zM89.5 515.6L87.1 512.7A1.2 1.2 0 0 1 89.5 511.7A1.2 1.2 0 0 1 92 512.7zM95.1 519.7L92.7 516.8A1.2 1.2 0 0 1 95.1 515.8A1.2 1.2 0 0 1 97.5 516.8zM100.6 523.8L98.2 520.9A1.2 1.2 0 0 1 100.6 519.9A1.2 1.2 0 0 1 103 520.9zM106.1 528.2L103.7 525.3A1.2 1.2 0 0 1 106.1 524.3A1.2 1.2 0 0 1 108.5 525.3zM111.6 532L109.2 529.2A1.2 1.2 0 0 1 111.6 528.2A1.2 1.2 0 0 1 114 529.2zM117.1 534.9L114.7 532A1.2 1.2 0 0 1 117.1 531A1.2 1.2 0 0 1 119.5 532zM122.6 537L120.2 534.1A1.2 1.2 0 0 1 122.6 533.1A1.2 1.2 0 0 1 125 534.1zM128.2 538.6L125.8 535.7A1.2 1.2 0 0 1 128.2 534.7A1.2 1.2 0 0 1 130.6 535.7zM133.7 539.8L131.3 536.9A1.2 1.2 0 0 1 133.7 536A1.2 1.2 0 0 1 136.1 536.9zM139.2 540.8L136.8 537.9A1.2 1.2 0 0 1 139.2 536.9A1.2 1.2 0 0 1 141.6 537.9zM144.7 541.7L142.3 538.8A1.2 1.2 0 0 1 144.7 537.8A1.2 1.2 0 0 1 147.1 538.8zM150.2 542.5L147.8 539.6A1.2 1.2 0 0 1 150.2 538.7A1.2 1.2 0 0 1 152.6 539.6zM155.7 543.3L153.3 540.4A1.2 1.2 0 0 1 155.7 539.4A1.2 1.2 0 0 1 158.1 540.4zM161.2 544L158.8 541.1A1.2 1.2 0 0 1 161.2 540.1A1.2 1.2 0 0 1 163.6 541.1zM166.8 544.6L164.4 541.7A1.2 1.2 0 0 1 166.8 540.8A1.2 1.2 0 0 1 169.2 541.7zM172.3 545.2L169.9 542.3A1.2 1.2 0 0 1 172.3 541.4A1.2 1.2 0 0 1 174.7 542.3zM177.8 545.7L175.4 542.8A1.2 1.2 0 0 1 177.8 541.9A1.2 1.2 0 0 1 180.2 542.8zM183.3 546.2L180.9 543.3A1.2 1.2 0 0 1 183.3 542.3A1.2 1.2 0 0 1 185.7 543.3zM188.8 546.6L186.4 543.7A1.2 1.2 0 0 1 188.8 542.7A1.2 1.2 0 0 1 191.2 543.7zM194.3 546.9L191.9 544A1.2 1.2 0 0 1 194.3 543.1A1.2 1.2 0 0 1 196.7 544zM199.8 547.2L197.4 544.4A1.2 1.2 0 0 1 199.8 543.4A1.2 1.2 0 0 1 202.2 544.4zM205.4 547.6L203 544.7A1.2 1.2 0 0 1 205.4 543.7A1.2 1.2 0 0 1 207.8 544.7zM210.9 547.9L208.5 545A1.2 1.2 0 0 1 210.9 544A1.2 1.2 0 0 1 213.3 545zM216.4 548.2L214 545.3A1.2 1.2 0 0 1 216.4 544.3A1.2 1.2 0 0 1 218.8 545.3zM221.9 548.4L219.5 545.6A1.2 1.2 0 0 1 221.9 544.6A1.2 1.2 0 0 1 224.3 545.6zM227.4 548.7L225 545.8A1.2 1.2 0 0 1 227.4 544.8A1.2 1.2 0 0 1 229.8 545.8zM232.9 548.9L230.5 546A1.2 1.2 0 0 1 232.9 545.1A1.2 1.2 0 0 1 235.3 546zM238.5 549.1L236.1 546.2A1.2 1.2 0 0 1 238.5 545.2A1.2 1.2 0 0 1 240.9 546.2zM244 549.2L241.6 546.3A1.2 1.2 0 0 1 244 545.4A1.2 1.2 0 0 1 246.4 546.3zM249.5 549.3L247.1 546.4A1.2 1.2 0 0 1 249.5 545.4A1.2 1.2 0 0 1 251.9 546.4zM255 549.3L252.6 546.4A1.2 1.2 0 0 1 255 545.5A1.2 1.2 0 0 1 257.4 546.4z" fill="#0000ff" opacity="1.0"/>
<path d="M34.2 479.7L36.7 481.6L39.2 483.5L41.6 485.5L44.1 487.4L46.6 489.2L49.1 491.1L51.6 492.9L54.1 494.7L56.5 496.6L59 498.5L61.5 500.4L64 502.5L66.5 504.6L69 506.6L71.4 508.6L73.9 510.6L76.4 512.4L78.9 514.2L81.4 516L83.9 517.7L86.3 519.3L88.8 520.9L91.3 522.4L93.8 523.8L96.3 525.2L98.8 526.5L101.2 527.8L103.7 528.9L106.2 529.9L108.7 530.9L111.2 531.9L113.7 533L116.1 534L118.6 535.1L121.1 536L123.6 536.8L126.1 537.6L128.6 538.3L131 539L133.5 539.6L136 540L138.5 540.4L141 540.7L143.5 541L145.9 541.3L148.4 541.6L150.9 541.9L153.4 542.1L155.9 542.3L158.4 542.6L160.8 542.8L163.3 543L165.8 543.1L168.3 543.3L170.8 543.5L173.3 543.6L175.7 543.8L178.2 543.9L180.7 544.1L183.2 544.2L185.7 544.3L188.2 544.5L190.6 544.6L193.1 544.7L195.6 544.8L198.1 544.9L200.6 545L203.1 545.2L205.5 545.3L208 545.4L210.5 545.5L213 545.6L215.5 545.7L218 545.8L220.4 545.9L222.9 546L225.4 546.1L227.9 546.1L230.4 546.2L232.9 546.3L235.3 546.3L237.8 546.4L240.3 546.5L242.8 546.5L245.3 546.6L247.8 546.6L250.2 546.6L252.7 546.7L255.2 546.7" stroke="#00ff00" stroke-width="1.3" fill="none" stroke-linejoin="round"/>
<path d="M34.4 477.1L36.8 480A1.2 1.2 0 0 1 34.6 480.9L35.2 482.4L33.6 482.4L34.2 480.9A1.2 1.2 0 0 1 32 480zM39.9 481.4L42.3 484.2A1.2 1.2 0 0 1 40.2 485.2L40.8 486.6L39.1 486.6L39.7 485.2A1.2 1.2 0 0 1 37.5 484.2zM45.4 485.6L47.8 488.5A1.2 1.2 0 0 1 45.7 489.4L46.3 490.9L44.6 490.9L45.2 489.4A1.2 1.2 0 0 1 43 488.5zM50.9 489.7L53.3 492.5A1.2 1.2 0 0 1 51.2 493.5L51.8 494.9L50.1 494.9L50.7 493.5A1.2 1.2 0 0 1 48.5 492.5zM56.5 493.7L58.9 496.6A1.2 1.2 0 0 1 56.7 497.6L57.3 499L55.6 499L56.2 497.6A1.2 1.2 0 0 1 54.1 496.6zM62 498.1L64.4 500.9A1.2 1.2 0 0 1 62.2 501.9L62.8 503.3L61.1 503.3L61.7 501.9A1.2 1.2 0 0 1 59.6 500.9zM67.5 502.7L69.9 505.5A1.2 1.2 0 0 1 67.7 506.5L68.3 507.9L66.6 507.9L67.2 506.5A1.2 1.2 0 0 1 65.1 505.5zM73 507.1L75.4 510A1.2 1.2 0 0 1 73.2 510.9L73.8 512.4L72.2 512.4L72.8 510.9A1.2 1.2 0 0 1 70.6 510zM78.5 511.2L80.9 514.1A1.2 1.2 0 0 1 78.8 515L79.4 516.5L77.7 516.5L78.3 515A1.2 1.2 0 0 1 76.1 514.1zM84 515.1L86.4 517.9A1.2 1.2 0 0 1 84.3 518.9L84.9 520.3L83.2 520.3L83.8 518.9A1.2 1.2 0 0 1 81.6 517.9zM89.5 518.6L92 521.4A1.2 1.2 0 0 1 89.8 522.4L90.4 523.8L88.7 523.8L89.3 522.4A1.2 1.2 0 0 1 87.1 521.4zM95.1 521.8L97.5 524.7A1.2 1.2 0 0 1 95.3 525.6L95.9 527.1L94.2 527.1L94.8 525.6A1.2 1.2 0 0 1 92.7 524.7zM100.6 524.7L103 527.6A1.2 1.2 0 0 1 100.8 528.5L101.4 530L99.7 530L100.3 528.5A1.2 1.2 0 0 1 98.2 527.6zM106.1 527.1L108.5 530A1.2 1.2 0 0 1 106.3 531L106.9 532.4L105.3 532.4L105.9 531A1.2 1.2 0 0 1 103.7 530zM111.6 529.3L114 532.2A1.2 1.2 0 0 1 111.8 533.2L112.4 534.6L110.8 534.6L111.4 533.2A1.2 1.2 0 0 1 109.2 532.2zM117.1 531.7L119.5 534.6A1.2 1.2 0 0 1 117.4 535.5L118 537L116.3 537L116.9 535.5A1.2 1.2 0 0 1 114.7 534.6zM122.6 533.7L125 536.6A1.2 1.2 0 0 1 122.9 537.6L123.5 539L121.8 539L122.4 537.6A1.2 1.2 0 0 1 120.2 536.6zM128.2 535.4L130.6 538.3A1.2 1.2 0 0 1 128.4 539.3L129 540.7L127.3 540.7L127.9 539.3A1.2 1.2 0 0 1 125.8 538.3zM133.7 536.8L136.1 539.7A1.2 1.2 0 0 1 133.9 540.7L134.5 542.1L132.8 542.1L133.4 540.7A1.2 1.2 0 0 1 131.3 539.7zM139.2 537.7L141.6 540.6A1.2 1.2 0 0 1 139.4 541.6L140 543L138.3 543L138.9 541.6A1.2 1.2 0 0 1 136.8 540.6zM144.7 538.4L147.1 541.3A1.2 1.2 0 0 1 144.9 542.3L145.5 543.7L143.9 543.7L144.5 542.3A1.2 1.2 0 0 1 142.3 541.3zM150.2 539L152.6 541.9A1.2 1.2 0 0 1 150.5 542.9L151.1 544.3L149.4 544.3L150 542.9A1.2 1.2 0 0 1 147.8 541.9zM155.7 539.6L158.1 542.4A1.2 1.2 0 0 1 156 543.4L156.6 544.8L154.9 544.8L155.5 543.4A1.2 1.2 0 0 1 153.3 542.4zM161.2 540L163.6 542.9A1.2 1.2 0 0 1 161.5 543.9L162.1 545.3L160.4 545.3L161 543.9A1.2 1.2 0 0 1 158.8 542.9zM166.8 540.5L169.2 543.3A1.2 1.2 0 0 1 167 544.3L167.6 545.7L165.9 545.7L166.5 544.3A1.2 1.2 0 0 1 164.4 543.3zM172.3 540.8L174.7 543.7A1.2 1.2 0 0 1 172.5 544.7L173.1 546.1L171.4 546.1L172 544.7A1.2 1.2 0 0 1 169.9 543.7zM177.8 541.2L180.2 544A1.2 1.2 0 0 1 178 545L178.6 546.4L176.9 546.4L177.5 545A1.2 1.2 0 0 1 175.4 544zM183.3 541.5L185.7 544.3A1.2 1.2 0 0 1 183.5 545.3L184.1 546.7L182.5 546.7L183.1 545.3A1.2 1.2 0 0 1 180.9 544.3zM188.8 541.7L191.2 544.6A1.2 1.2 0 0 1 189.1 545.6L189.7 547L188 547L188.6 545.6A1.2 1.2 0 0 1 186.4 544.6zM194.3 542L196.7 544.9A1.2 1.2 0 0 1 194.6 545.8L195.2 547.3L193.5 547.3L194.1 545.8A1.2 1.2 0 0 1 191.9 544.9zM199.8 542.2L202.2 545.1A1.2 1.2 0 0 1 200.1 546.1L200.7 547.5L199 547.5L199.6 546.1A1.2 1.2 0 0 1 197.4 545.1zM205.4 542.5L207.8 545.4A1.2 1.2 0 0 1 205.6 546.3L206.2 547.8L204.5 547.8L205.1 546.3A1.2 1.2 0 0 1 203 545.4zM210.9 542.7L213.3 545.6A1.2 1.2 0 0 1 211.1 546.6L211.7 548L210 548L210.6 546.6A1.2 1.2 0 0 1 208.5 545.6zM216.4 543L218.8 545.8A1.2 1.2 0 0 1 216.6 546.8L217.2 548.2L215.6 548.2L216.2 546.8A1.2 1.2 0 0 1 214 545.8zM221.9 543.2L224.3 546A1.2 1.2 0 0 1 222.2 547L222.8 548.4L221.1 548.4L221.7 547A1.2 1.2 0 0 1 219.5 546zM227.4 543.4L229.8 546.2A1.2 1.2 0 0 1 227.7 547.2L228.3 548.6L226.6 548.6L227.2 547.2A1.2 1.2 0 0 1 225 546.2zM232.9 543.5L235.3 546.4A1.2 1.2 0 0 1 233.2 547.4L233.8 548.8L232.1 548.8L232.7 547.4A1.2 1.2 0 0 1 230.5 546.4zM238.5 543.7L240.9 546.5A1.2 1.2 0 0 1 238.7 547.5L239.3 548.9L237.6 548.9L238.2 547.5A1.2 1.2 0 0 1 236.1 546.5zM244 543.8L246.4 546.7A1.2 1.2 0 0 1 244.2 547.6L244.8 549.1L243.1 549.1L243.7 547.6A1.2 1.2 0 0 1 241.6 546.7zM249.5 543.9L251.9 546.7A1.2 1.2 0 0 1 249.7 547.7L250.3 549.1L248.6 549.1L249.2 547.7A1.2 1.2 0 0 1 247.1 546.7zM255 543.9L257.4 546.8A1.2 1.2 0 0 1 255.2 547.7L255.8 549.2L254.2 549.2L254.8 547.7A1.2 1.2 0 0 1 252.6 546.8z" fill="#00ff00" opacity="1.0"/>
<path d="M34.2 535L36.7 534.8L39.2 534.6L41.6 534.3L44.1 534.1L46.6 533.8L49.1 533.5L51.6 533.2L54.1 532.8L56.5 532.5L59 532.1L61.5 531.8L64 531.3L66.5 530.9L69 530.4L71.4 529.8L73.9 529.3L76.4 528.7L78.9 528.2L81.4 527.6L83.9 527.1L86.3 526.6L88.8 526.2L91.3 525.7L93.8 525.3L96.3 524.9L98.8 524.5L101.2 524.1L103.7 523.6L106.2 523.2L108.7 522.8L111.2 522.4L113.7 522L116.1 521.6L118.6 521.2L121.1 520.9L123.6 520.5L126.1 520.1L128.6 519.7L131 519.3L133.5 518.8L136 518.4L138.5 518L141 517.5L143.5 517L145.9 516.5L148.4 516L150.9 515.5L153.4 514.9L155.9 514.4L158.4 513.8L160.8 513.3L163.3 512.7L165.8 512.2L168.3 511.6L170.8 511.1L173.3 510.5L175.7 510L178.2 509.5L180.7 508.9L183.2 508.4L185.7 507.9L188.2 507.4L190.6 506.9L193.1 506.5L195.6 506L198.1 505.5L200.6 505.1L203.1 504.6L205.5 504.2L208 503.7L210.5 503.3L213 502.8L215.5 502.4L218 501.9L220.4 501.5L222.9 501.1L225.4 500.6L227.9 500.2L230.4 499.8L232.9 499.4L235.3 499L237.8 498.6L240.3 498.2L242.8 497.8L245.3 497.4L247.8 497L250.2 496.6L252.7 496.2L255.2 495.8" stroke="#800080" stroke-width="1.3" fill="none" stroke-linejoin="round"/>
<path d="M32.8 532.6h3.3v4.8h-3.3zM38.3 532.1h3.3v4.8h-3.3zM43.8 531.5h3.3v4.8h-3.3zM49.3 530.8h3.3v4.8h-3.3zM54.8 530.1h3.3v4.8h-3.3zM60.3 529.3h3.3v4.8h-3.3zM65.8 528.2h3.3v4.8h-3.3zM71.4 527.1h3.3v4.8h-3.3zM76.9 525.8h3.3v4.8h-3.3zM82.4 524.7h3.3v4.8h-3.3zM87.9 523.6h3.3v4.8h-3.3zM93.4 522.7h3.3v4.8h-3.3zM98.9 521.7h3.3v4.8h-3.3zM104.4 520.8h3.3v4.8h-3.3zM110 519.9h3.3v4.8h-3.3zM115.5 519.1h3.3v4.8h-3.3zM121 518.2h3.3v4.8h-3.3zM126.5 517.3h3.3v4.8h-3.3zM132 516.4h3.3v4.8h-3.3zM137.5 515.4h3.3v4.8h-3.3zM143 514.3h3.3v4.8h-3.3zM148.6 513.2h3.3v4.8h-3.3zM154.1 512h3.3v4.8h-3.3zM159.6 510.8h3.3v4.8h-3.3zM165.1 509.6h3.3v4.8h-3.3zM170.6 508.3h3.3v4.8h-3.3zM176.1 507.1h3.3v4.8h-3.3zM181.7 506h3.3v4.8h-3.3zM187.2 504.9h3.3v4.8h-3.3zM192.7 503.8h3.3v4.8h-3.3zM198.2 502.8h3.3v4.8h-3.3zM203.7 501.8h3.3v4.8h-3.3zM209.2 500.8h3.3v4.8h-3.3zM214.7 499.8h3.3v4.8h-3.3zM220.3 498.8h3.3v4.8h-3.3zM225.8 497.9h3.3v4.8h-3.3zM231.3 497h3.3v4.8h-3.3zM236.8 496h3.3v4.8h-3.3zM242.3 495.2h3.3v4.8h-3.3zM247.8 494.3h3.3v4.8h-3.3zM253.3 493.4h3.3v4.8h-3.3z" fill="#800080" opacity="1.0"/>
<path d="M34.2 486.3L36.7 485.8L39.2 485.3L41.6 484.8L44.1 484.3L46.6 483.7L49.1 483.1L51.6 482.5L54.1 481.8L56.5 481.2L59 480.5L61.5 479.8L64 479.1L66.5 478.3L69 477.4L71.4 476.6L73.9 475.7L76.4 474.8L78.9 474L81.4 473.1L83.9 472.3L86.3 471.5L88.8 470.8L91.3 470.1L93.8 469.4L96.3 468.8L98.8 468.2L101.2 467.6L103.7 466.9L106.2 466.3L108.7 465.6L111.2 464.9L113.7 464.2L116.1 463.4L118.6 462.6L121.1 461.8L123.6 461L126.1 460.1L128.6 459.3L131 458.6L133.5 457.8L136 457.2L138.5 456.5L141 455.9L143.5 455.3L145.9 454.7L148.4 454.1L150.9 453.6L153.4 453L155.9 452.5L158.4 452L160.8 451.5L163.3 451L165.8 450.5L168.3 450L170.8 449.5L173.3 449L175.7 448.5L178.2 448L180.7 447.5L183.2 447L185.7 446.5L188.2 445.9L190.6 445.4L193.1 444.9L195.6 444.4L198.1 443.9L200.6 443.3L203.1 442.8L205.5 442.3L208 441.8L210.5 441.3L213 440.8L215.5 440.3L218 439.7L220.4 439.2L222.9 438.7L225.4 438.2L227.9 437.7L230.4 437.2L232.9 436.7L235.3 436.2L237.8 435.7L240.3 435.2L242.8 434.7L245.3 434.2L247.8 433.7L250.2 433.2L252.7 432.7L255.2 432.2" stroke="#ff00ff" stroke-width="1.3" fill="none" stroke-linejoin="round"/>
<path d="M34.4 488.9L36.8 484.6L32 484.6zM39.9 487.8L42.3 483.5L37.5 483.5zM45.4 486.6L47.8 482.3L43 482.3zM50.9 485.3L53.3 481L48.5 481zM56.5 483.9L58.9 479.5L54.1 479.5zM62 482.3L64.4 478L59.6 478zM67.5 480.6L69.9 476.2L65.1 476.2zM73 478.7L75.4 474.3L70.6 474.3zM78.5 476.7L80.9 472.4L76.1 472.4zM84 474.9L86.4 470.6L81.6 470.6zM89.5 473.2L92 468.9L87.1 468.9zM95.1 471.7L97.5 467.4L92.7 467.4zM100.6 470.4L103 466L98.2 466zM106.1 469L108.5 464.6L103.7 464.6zM111.6 467.4L114 463.1L109.2 463.1zM117.1 465.7L119.5 461.4L114.7 461.4zM122.6 463.9L125 459.6L120.2 459.6zM128.2 462.1L130.6 457.8L125.8 457.8zM133.7 460.4L136.1 456.1L131.3 456.1zM139.2 459L141.6 454.7L136.8 454.7zM144.7 457.6L147.1 453.3L142.3 453.3zM150.2 456.4L152.6 452.1L147.8 452.1zM155.7 455.2L158.1 450.9L153.3 450.9zM161.2 454L163.6 449.7L158.8 449.7zM166.8 452.9L169.2 448.6L164.4 448.6zM172.3 451.8L174.7 447.5L169.9 447.5zM177.8 450.7L180.2 446.4L175.4 446.4zM183.3 449.6L185.7 445.3L180.9 445.3zM188.8 448.4L191.2 444.1L186.4 444.1zM194.3 447.3L196.7 443L191.9 443zM199.8 446.1L202.2 441.8L197.4 441.8zM205.4 445L207.8 440.7L203 440.7zM210.9 443.8L213.3 439.5L208.5 439.5zM216.4 442.7L218.8 438.4L214 438.4zM221.9 441.6L224.3 437.3L219.5 437.3zM227.4 440.4L229.8 436.1L225 436.1zM232.9 439.3L235.3 435L230.5 435zM238.5 438.2L240.9 433.9L236.1 433.9zM244 437.1L246.4 432.8L241.6 432.8zM249.5 436L251.9 431.6L247.1 431.6zM255 434.8L257.4 430.5L252.6 430.5z" fill="#ff00ff" opacity="1.0"/>
<rect x="190.5" y="425.8" width="41.2" height="100.5" fill="#fff" stroke="#555" stroke-width="1"/>
<path d="M195.4 432.8h3.8v3.8h-3.8z" fill="#000000"/>
<text x="212.6" y="437.3" class="li" fill="#000" font-size="10">q</text>
<path d="M194.5 444.9a2.8 2.8 0 1 0 5.6 0a2.8 2.8 0 1 0 -5.6 0z" fill="#ff0000"/>
<text x="212.6" y="447.4" text-anchor="middle" fill="#ff0000" font-size="8" font-family='"Liberation Sans", sans-serif'>m</text>
<path d="M197.3 451.1L199.8 455.6L194.8 455.6z" fill="#606060"/>
<text x="212.6" y="452.2" text-anchor="middle" fill="#aaa" font-size="4.8" font-family='"Liberation Serif", serif' font-style="italic">γ · (P−W)</text>
<path d="M201.6 454H223.6" stroke="#b0b0b0" stroke-width="0.6"/>
<path d="M197.3 461.2L198.2 463.4L200.6 463.6L198.8 465.2L199.4 467.5L197.3 466.3L195.2 467.5L195.8 465.2L194 463.6L196.4 463.4z" fill="#00ffff"/>
<text x="212.6" y="462.1" text-anchor="middle" fill="#c8a0a0" font-size="5" font-family='"Liberation Sans", sans-serif'>^</text>
<text x="212.6" y="467.7" text-anchor="middle" fill="#00ffff" font-size="9.5" font-family='"Liberation Sans", sans-serif' font-style="italic">c</text>
<path d="M197.3 471.6L199.9 474.2L197.3 476.8L194.7 474.2z" fill="#ff8000"/>
<text x="212.6" y="476.6" text-anchor="middle" fill="#ff8000" font-size="9" font-family='"Liberation Sans", sans-serif' font-style="italic">g</text>
<path d="M196.1 480.5a1.2 1.2 0 1 0 2.3 0a1.2 1.2 0 1 0 -2.3 0zM194.8 482.2a1.2 1.2 0 1 0 2.3 0a1.2 1.2 0 1 0 -2.3 0zM197.5 482.2a1.2 1.2 0 1 0 2.3 0a1.2 1.2 0 1 0 -2.3 0zM196.8 481.8L197.8 481.8L198.2 484.5L196.4 484.5z" fill="#996633"/>
<text x="212.6" y="484.4" text-anchor="middle" fill="#996633" font-size="9" font-family='"Liberation Sans", sans-serif' font-style="italic">o</text>
<path d="M197.3 492.9L194.8 489.9A1.3 1.3 0 0 1 197.3 488.9A1.3 1.3 0 0 1 199.8 489.9z" fill="#0000ff"/>
<text x="212.6" y="492.6" text-anchor="middle" fill="#0000ff" font-size="8.6" font-family='"Liberation Serif", serif' font-style="italic" font-weight="bold">L<tspan font-size="6.2" dy="1.8">q</tspan></text>
<path d="M197.3 496.2L199.8 499.2A1.2 1.2 0 0 1 197.6 500.2L198.2 501.7L196.4 501.7L197.1 500.2A1.2 1.2 0 0 1 194.8 499.2z" fill="#00ff00"/>
<text x="212.6" y="501.5" text-anchor="middle" fill="#00ff00" font-size="8.6" font-family='"Liberation Serif", serif' font-style="italic" font-weight="bold">L<tspan font-size="6.2" dy="1.8">a</tspan></text>
<path d="M195.7 506.2h3.2v4.6h-3.2z" fill="#800080"/>
<text x="212.6" y="511.5" text-anchor="middle" fill="#800080" font-size="8.6" font-family='"Liberation Serif", serif' font-weight="bold">10<tspan font-style="italic" font-weight="normal" fill="#d080d0">ϕ</tspan></text>
<path d="M197.3 521L199.8 516.5L194.8 516.5z" fill="#ff00ff"/>
<text x="212.6" y="520.8" text-anchor="middle" fill="#ff00ff" font-size="9.5" font-family='"Liberation Sans", sans-serif' font-style="italic">u</text>
<text x="250.8" y="443.9" text-anchor="middle" class="t" textLength="8" lengthAdjust="spacingAndGlyphs">d1</text>
<path d="M309.2 443H537M309.2 477.8H537M309.2 512.6H537M352.8 425V562M396.5 425V562M440.3 425V562M484 425V562M527.8 425V562" stroke="#f2f2f2" stroke-width="0.8" fill="none"/>
<path d="M309.2 425V562" stroke="#d8d8d8" stroke-width="0.8" fill="none"/>
<path d="M309.2 547.4H537" stroke="#c0c0c0" stroke-width="0.9" fill="none"/>
<path d="M313.5 427V562" stroke="#3a3a3a" stroke-width="1.5" stroke-dasharray="2.3 4.2" fill="none"/>
<text x="306.6" y="446" text-anchor="end" class="t" textLength="22.9" lengthAdjust="spacingAndGlyphs">15 000</text>
<text x="306.6" y="480.8" text-anchor="end" class="t" textLength="22.9" lengthAdjust="spacingAndGlyphs">10 000</text>
<text x="306.6" y="515.6" text-anchor="end" class="t" textLength="17.6" lengthAdjust="spacingAndGlyphs">5000</text>
<text x="306.6" y="550.4" text-anchor="end" class="t" textLength="4.4" lengthAdjust="spacingAndGlyphs">0</text>
<text x="352.8" y="556.9" text-anchor="middle" class="t" textLength="11.0" lengthAdjust="spacingAndGlyphs">0.2</text>
<text x="396.5" y="556.9" text-anchor="middle" class="t" textLength="11.0" lengthAdjust="spacingAndGlyphs">0.4</text>
<text x="440.3" y="556.9" text-anchor="middle" class="t" textLength="11.0" lengthAdjust="spacingAndGlyphs">0.6</text>
<text x="484" y="556.9" text-anchor="middle" class="t" textLength="11.0" lengthAdjust="spacingAndGlyphs">0.8</text>
<text x="527.8" y="556.9" text-anchor="middle" class="t" textLength="11.0" lengthAdjust="spacingAndGlyphs">1.0</text>
<text x="510" y="556" text-anchor="middle" fill="#333" font-size="9.5" font-family='"Liberation Serif", serif' font-style="italic">l<tspan font-size="6.5" dy="2">0</tspan></text>
<path d="M309.8 443.1L312.2 443.1L314.7 443.1L317.1 443.1L319.6 443.1L322 443.1L324.5 443.1L326.9 443.1L329.4 443.1L331.8 443.1L334.3 443.1L336.7 443.1L339.2 443.1L341.6 443.1L344.1 443.1L346.5 443L349 443L351.4 443L353.9 443L356.3 443L358.8 443L361.2 443L363.7 443L366.1 443L368.6 443L371 443L373.5 443L375.9 443L378.4 443L380.8 443L383.2 443L385.7 442.9L388.1 442.9L390.6 442.9L393 442.9L395.5 442.9L397.9 442.9L400.4 442.9L402.8 442.9L405.3 442.9L407.7 442.9L410.2 442.9L412.6 442.9L415.1 442.9L417.5 442.9L420 442.9L422.4 442.9L424.9 442.8L427.3 442.8L429.8 442.8L432.2 442.8L434.7 442.8L437.1 442.8L439.6 442.8L442 442.8L444.5 442.8L446.9 442.8L449.4 442.8L451.8 442.8L454.3 442.8L456.7 442.8L459.1 442.8L461.6 442.8L464 442.7L466.5 442.7L468.9 442.7L471.4 442.7L473.8 442.7L476.3 442.7L478.7 442.7L481.2 442.7L483.6 442.7L486.1 442.7L488.5 442.7L491 442.7L493.4 442.7L495.9 442.7L498.3 442.7L500.8 442.7L503.2 442.6L505.7 442.6L508.1 442.6L510.6 442.6L513 442.6L515.5 442.6L517.9 442.6L520.4 442.6L522.8 442.6L525.3 442.6L527.7 442.6" stroke="#000" stroke-width="2.0" fill="none" stroke-linejoin="round"/>
<path d="M308.4 441.9h2.9v2.9h-2.9zM313.8 441.9h2.9v2.9h-2.9zM319.2 441.9h2.9v2.9h-2.9zM324.7 441.8h2.9v2.9h-2.9zM330.1 441.8h2.9v2.9h-2.9zM335.6 441.8h2.9v2.9h-2.9zM341 441.8h2.9v2.9h-2.9zM346.5 441.8h2.9v2.9h-2.9zM351.9 441.8h2.9v2.9h-2.9zM357.4 441.8h2.9v2.9h-2.9zM362.8 441.8h2.9v2.9h-2.9zM368.3 441.7h2.9v2.9h-2.9zM373.7 441.7h2.9v2.9h-2.9zM379.2 441.7h2.9v2.9h-2.9zM384.6 441.7h2.9v2.9h-2.9zM390.1 441.7h2.9v2.9h-2.9zM395.5 441.7h2.9v2.9h-2.9zM401 441.7h2.9v2.9h-2.9zM406.4 441.6h2.9v2.9h-2.9zM411.9 441.6h2.9v2.9h-2.9zM417.3 441.6h2.9v2.9h-2.9zM422.7 441.6h2.9v2.9h-2.9zM428.2 441.6h2.9v2.9h-2.9zM433.6 441.6h2.9v2.9h-2.9zM439.1 441.6h2.9v2.9h-2.9zM444.5 441.5h2.9v2.9h-2.9zM450 441.5h2.9v2.9h-2.9zM455.4 441.5h2.9v2.9h-2.9zM460.9 441.5h2.9v2.9h-2.9zM466.3 441.5h2.9v2.9h-2.9zM471.8 441.5h2.9v2.9h-2.9zM477.2 441.5h2.9v2.9h-2.9zM482.7 441.4h2.9v2.9h-2.9zM488.1 441.4h2.9v2.9h-2.9zM493.6 441.4h2.9v2.9h-2.9zM499 441.4h2.9v2.9h-2.9zM504.5 441.4h2.9v2.9h-2.9zM509.9 441.4h2.9v2.9h-2.9zM515.4 441.4h2.9v2.9h-2.9zM520.8 441.3h2.9v2.9h-2.9zM526.2 441.3h2.9v2.9h-2.9z" stroke="#444" stroke-width="0.8" fill="none" opacity="0.85"/>
<path d="M309.8 460.7L312.2 460.6L314.7 460.4L317.1 460.3L319.6 460.2L322 460L324.5 459.9L326.9 459.8L329.4 459.7L331.8 459.5L334.3 459.4L336.7 459.3L339.2 459.2L341.6 459.1L344.1 459L346.5 458.8L349 458.7L351.4 458.6L353.9 458.5L356.3 458.4L358.8 458.3L361.2 458.2L363.7 458.1L366.1 458L368.6 457.9L371 457.8L373.5 457.8L375.9 457.7L378.4 457.6L380.8 457.5L383.2 457.4L385.7 457.4L388.1 457.3L390.6 457.3L393 457.2L395.5 457.1L397.9 457.1L400.4 457L402.8 457L405.3 457L407.7 456.9L410.2 456.9L412.6 456.9L415.1 456.9L417.5 456.9L420 456.8L422.4 456.8L424.9 456.8L427.3 456.8L429.8 456.7L432.2 456.7L434.7 456.7L437.1 456.7L439.6 456.7L442 456.6L444.5 456.6L446.9 456.6L449.4 456.6L451.8 456.6L454.3 456.6L456.7 456.5L459.1 456.5L461.6 456.5L464 456.5L466.5 456.5L468.9 456.5L471.4 456.5L473.8 456.4L476.3 456.4L478.7 456.4L481.2 456.4L483.6 456.4L486.1 456.4L488.5 456.4L491 456.4L493.4 456.4L495.9 456.3L498.3 456.3L500.8 456.3L503.2 456.3L505.7 456.3L508.1 456.3L510.6 456.3L513 456.3L515.5 456.3L517.9 456.3L520.4 456.3L522.8 456.3L525.3 456.3L527.7 456.3" stroke="#ff0000" stroke-width="2.0" fill="none" stroke-linejoin="round"/>
<path d="M307.5 460.9a2.3 2.3 0 1 0 4.6 0a2.3 2.3 0 1 0 -4.6 0zM312.9 460.6a2.3 2.3 0 1 0 4.6 0a2.3 2.3 0 1 0 -4.6 0zM318.4 460.3a2.3 2.3 0 1 0 4.6 0a2.3 2.3 0 1 0 -4.6 0zM323.8 460a2.3 2.3 0 1 0 4.6 0a2.3 2.3 0 1 0 -4.6 0zM329.3 459.8a2.3 2.3 0 1 0 4.6 0a2.3 2.3 0 1 0 -4.6 0zM334.7 459.5a2.3 2.3 0 1 0 4.6 0a2.3 2.3 0 1 0 -4.6 0zM340.2 459.2a2.3 2.3 0 1 0 4.6 0a2.3 2.3 0 1 0 -4.6 0zM345.6 459a2.3 2.3 0 1 0 4.6 0a2.3 2.3 0 1 0 -4.6 0zM351.1 458.7a2.3 2.3 0 1 0 4.6 0a2.3 2.3 0 1 0 -4.6 0zM356.5 458.5a2.3 2.3 0 1 0 4.6 0a2.3 2.3 0 1 0 -4.6 0zM362 458.3a2.3 2.3 0 1 0 4.6 0a2.3 2.3 0 1 0 -4.6 0zM367.4 458.1a2.3 2.3 0 1 0 4.6 0a2.3 2.3 0 1 0 -4.6 0zM372.9 457.9a2.3 2.3 0 1 0 4.6 0a2.3 2.3 0 1 0 -4.6 0zM378.3 457.7a2.3 2.3 0 1 0 4.6 0a2.3 2.3 0 1 0 -4.6 0zM383.8 457.6a2.3 2.3 0 1 0 4.6 0a2.3 2.3 0 1 0 -4.6 0zM389.2 457.4a2.3 2.3 0 1 0 4.6 0a2.3 2.3 0 1 0 -4.6 0zM394.7 457.3a2.3 2.3 0 1 0 4.6 0a2.3 2.3 0 1 0 -4.6 0zM400.1 457.2a2.3 2.3 0 1 0 4.6 0a2.3 2.3 0 1 0 -4.6 0zM405.6 457.1a2.3 2.3 0 1 0 4.6 0a2.3 2.3 0 1 0 -4.6 0zM411 457.1a2.3 2.3 0 1 0 4.6 0a2.3 2.3 0 1 0 -4.6 0zM416.4 457a2.3 2.3 0 1 0 4.6 0a2.3 2.3 0 1 0 -4.6 0zM421.9 457a2.3 2.3 0 1 0 4.6 0a2.3 2.3 0 1 0 -4.6 0zM427.3 456.9a2.3 2.3 0 1 0 4.6 0a2.3 2.3 0 1 0 -4.6 0zM432.8 456.9a2.3 2.3 0 1 0 4.6 0a2.3 2.3 0 1 0 -4.6 0zM438.2 456.9a2.3 2.3 0 1 0 4.6 0a2.3 2.3 0 1 0 -4.6 0zM443.7 456.8a2.3 2.3 0 1 0 4.6 0a2.3 2.3 0 1 0 -4.6 0zM449.1 456.8a2.3 2.3 0 1 0 4.6 0a2.3 2.3 0 1 0 -4.6 0zM454.6 456.7a2.3 2.3 0 1 0 4.6 0a2.3 2.3 0 1 0 -4.6 0zM460 456.7a2.3 2.3 0 1 0 4.6 0a2.3 2.3 0 1 0 -4.6 0zM465.5 456.7a2.3 2.3 0 1 0 4.6 0a2.3 2.3 0 1 0 -4.6 0zM470.9 456.6a2.3 2.3 0 1 0 4.6 0a2.3 2.3 0 1 0 -4.6 0zM476.4 456.6a2.3 2.3 0 1 0 4.6 0a2.3 2.3 0 1 0 -4.6 0zM481.8 456.6a2.3 2.3 0 1 0 4.6 0a2.3 2.3 0 1 0 -4.6 0zM487.3 456.6a2.3 2.3 0 1 0 4.6 0a2.3 2.3 0 1 0 -4.6 0zM492.7 456.5a2.3 2.3 0 1 0 4.6 0a2.3 2.3 0 1 0 -4.6 0zM498.2 456.5a2.3 2.3 0 1 0 4.6 0a2.3 2.3 0 1 0 -4.6 0zM503.6 456.5a2.3 2.3 0 1 0 4.6 0a2.3 2.3 0 1 0 -4.6 0zM509.1 456.5a2.3 2.3 0 1 0 4.6 0a2.3 2.3 0 1 0 -4.6 0zM514.5 456.5a2.3 2.3 0 1 0 4.6 0a2.3 2.3 0 1 0 -4.6 0zM520 456.5a2.3 2.3 0 1 0 4.6 0a2.3 2.3 0 1 0 -4.6 0zM525.4 456.5a2.3 2.3 0 1 0 4.6 0a2.3 2.3 0 1 0 -4.6 0z" stroke="#f03838" stroke-width="0.8" fill="none" opacity="0.85"/>
<path d="M309.8 547.4L312.2 546.9L314.7 546.5L317.1 546L319.6 545.5L322 545.1L324.5 544.7L326.9 544.2L329.4 543.8L331.8 543.4L334.3 543L336.7 542.6L339.2 542.2L341.6 541.8L344.1 541.4L346.5 541L349 540.6L351.4 540.3L353.9 539.9L356.3 539.6L358.8 539.2L361.2 538.9L363.7 538.6L366.1 538.4L368.6 538.1L371 537.8L373.5 537.5L375.9 537.3L378.4 537L380.8 536.8L383.2 536.6L385.7 536.5L388.1 536.3L390.6 536.1L393 536L395.5 535.8L397.9 535.7L400.4 535.6L402.8 535.5L405.3 535.4L407.7 535.3L410.2 535.2L412.6 535.2L415.1 535.1L417.5 535.1L420 535.1L422.4 535L424.9 535L427.3 534.9L429.8 534.9L432.2 534.9L434.7 534.8L437.1 534.8L439.6 534.8L442 534.7L444.5 534.7L446.9 534.6L449.4 534.6L451.8 534.6L454.3 534.6L456.7 534.5L459.1 534.5L461.6 534.5L464 534.4L466.5 534.4L468.9 534.4L471.4 534.4L473.8 534.4L476.3 534.3L478.7 534.3L481.2 534.3L483.6 534.3L486.1 534.3L488.5 534.2L491 534.2L493.4 534.2L495.9 534.2L498.3 534.2L500.8 534.2L503.2 534.2L505.7 534.1L508.1 534.1L510.6 534.1L513 534.1L515.5 534.1L517.9 534.1L520.4 534.1L522.8 534.1L525.3 534.1L527.7 534.1" stroke="#808080" stroke-width="2.0" fill="none" stroke-linejoin="round"/>
<path d="M309.8 545.6L311.6 548.9L308 548.9zM315.2 544.6L317 547.8L313.4 547.8zM320.7 543.6L322.5 546.8L318.9 546.8zM326.1 542.6L327.9 545.8L324.3 545.8zM331.6 541.6L333.4 544.9L329.8 544.9zM337 540.7L338.8 544L335.2 544zM342.5 539.9L344.3 543.1L340.7 543.1zM347.9 539L349.7 542.2L346.1 542.2zM353.4 538.2L355.2 541.4L351.6 541.4zM358.8 537.5L360.6 540.7L357 540.7zM364.3 536.8L366.1 540L362.5 540zM369.7 536.2L371.5 539.4L367.9 539.4zM375.2 535.6L377 538.8L373.4 538.8zM380.6 535.1L382.4 538.3L378.8 538.3zM386.1 534.6L387.9 537.9L384.3 537.9zM391.5 534.3L393.3 537.5L389.7 537.5zM397 534L398.8 537.2L395.2 537.2zM402.4 533.7L404.2 537L400.6 537zM407.9 533.5L409.7 536.8L406.1 536.8zM413.3 533.4L415.1 536.6L411.5 536.6zM418.8 533.3L420.6 536.5L416.9 536.5zM424.2 533.2L426 536.4L422.4 536.4zM429.6 533.1L431.4 536.4L427.8 536.4zM435.1 533L436.9 536.3L433.3 536.3zM440.5 533L442.3 536.2L438.7 536.2zM446 532.9L447.8 536.1L444.2 536.1zM451.4 532.8L453.2 536.1L449.6 536.1zM456.9 532.7L458.7 536L455.1 536zM462.3 532.7L464.1 535.9L460.5 535.9zM467.8 532.6L469.6 535.9L466 535.9zM473.2 532.6L475 535.8L471.4 535.8zM478.7 532.5L480.5 535.8L476.9 535.8zM484.1 532.5L485.9 535.7L482.3 535.7zM489.6 532.4L491.4 535.7L487.8 535.7zM495 532.4L496.8 535.7L493.2 535.7zM500.5 532.4L502.3 535.6L498.7 535.6zM505.9 532.4L507.7 535.6L504.1 535.6zM511.4 532.3L513.2 535.6L509.6 535.6zM516.8 532.3L518.6 535.6L515 535.6zM522.3 532.3L524.1 535.6L520.5 535.6zM527.7 532.3L529.5 535.6L525.9 535.6z" stroke="#a0a0a0" stroke-width="0.8" fill="none" opacity="0.85"/>
<path d="M309.8 453L312.2 452.9L314.7 452.9L317.1 452.8L319.6 452.7L322 452.6L324.5 452.6L326.9 452.5L329.4 452.4L331.8 452.3L334.3 452.3L336.7 452.2L339.2 452.1L341.6 452.1L344.1 452L346.5 451.9L349 451.9L351.4 451.8L353.9 451.7L356.3 451.7L358.8 451.6L361.2 451.5L363.7 451.5L366.1 451.4L368.6 451.4L371 451.3L373.5 451.3L375.9 451.2L378.4 451.2L380.8 451.1L383.2 451.1L385.7 451L388.1 451L390.6 451L393 450.9L395.5 450.9L397.9 450.9L400.4 450.9L402.8 450.8L405.3 450.8L407.7 450.8L410.2 450.8L412.6 450.8L415.1 450.8L417.5 450.8L420 450.8L422.4 450.7L424.9 450.7L427.3 450.7L429.8 450.7L432.2 450.7L434.7 450.7L437.1 450.7L439.6 450.7L442 450.7L444.5 450.7L446.9 450.7L449.4 450.6L451.8 450.6L454.3 450.6L456.7 450.6L459.1 450.6L461.6 450.6L464 450.6L466.5 450.6L468.9 450.6L471.4 450.6L473.8 450.6L476.3 450.6L478.7 450.6L481.2 450.6L483.6 450.6L486.1 450.6L488.5 450.6L491 450.5L493.4 450.5L495.9 450.5L498.3 450.5L500.8 450.5L503.2 450.5L505.7 450.5L508.1 450.5L510.6 450.5L513 450.5L515.5 450.5L517.9 450.5L520.4 450.5L522.8 450.5L525.3 450.5L527.7 450.5" stroke="#ff8000" stroke-width="2.0" fill="none" stroke-linejoin="round"/>
<path d="M309.8 451.2L311.9 453.2L309.8 455.3L307.7 453.2zM315.2 451L317.3 453.1L315.2 455.1L313.2 453.1zM320.7 450.8L322.8 452.9L320.7 455L318.6 452.9zM326.1 450.6L328.2 452.7L326.1 454.8L324.1 452.7zM331.6 450.5L333.7 452.6L331.6 454.6L329.5 452.6zM337 450.3L339.1 452.4L337 454.5L335 452.4zM342.5 450.2L344.6 452.2L342.5 454.3L340.4 452.2zM347.9 450L350 452.1L347.9 454.2L345.9 452.1zM353.4 449.9L355.4 451.9L353.4 454L351.3 451.9zM358.8 449.7L360.9 451.8L358.8 453.9L356.8 451.8zM364.3 449.6L366.3 451.7L364.3 453.7L362.2 451.7zM369.7 449.5L371.8 451.5L369.7 453.6L367.7 451.5zM375.2 449.4L377.2 451.4L375.2 453.5L373.1 451.4zM380.6 449.3L382.7 451.3L380.6 453.4L378.5 451.3zM386.1 449.2L388.1 451.2L386.1 453.3L384 451.2zM391.5 449.1L393.6 451.2L391.5 453.2L389.4 451.2zM397 449L399 451.1L397 453.2L394.9 451.1zM402.4 449L404.5 451L402.4 453.1L400.3 451zM407.9 448.9L409.9 451L407.9 453.1L405.8 451zM413.3 448.9L415.4 451L413.3 453.1L411.2 451zM418.8 448.9L420.8 451L418.8 453L416.7 451zM424.2 448.9L426.3 450.9L424.2 453L422.1 450.9zM429.6 448.8L431.7 450.9L429.6 453L427.6 450.9zM435.1 448.8L437.2 450.9L435.1 453L433 450.9zM440.5 448.8L442.6 450.9L440.5 452.9L438.5 450.9zM446 448.8L448.1 450.9L446 452.9L443.9 450.9zM451.4 448.8L453.5 450.8L451.4 452.9L449.4 450.8zM456.9 448.8L459 450.8L456.9 452.9L454.8 450.8zM462.3 448.7L464.4 450.8L462.3 452.9L460.3 450.8zM467.8 448.7L469.8 450.8L467.8 452.9L465.7 450.8zM473.2 448.7L475.3 450.8L473.2 452.9L471.2 450.8zM478.7 448.7L480.7 450.8L478.7 452.8L476.6 450.8zM484.1 448.7L486.2 450.8L484.1 452.8L482.1 450.8zM489.6 448.7L491.6 450.7L489.6 452.8L487.5 450.7zM495 448.7L497.1 450.7L495 452.8L492.9 450.7zM500.5 448.7L502.5 450.7L500.5 452.8L498.4 450.7zM505.9 448.7L508 450.7L505.9 452.8L503.8 450.7zM511.4 448.7L513.4 450.7L511.4 452.8L509.3 450.7zM516.8 448.6L518.9 450.7L516.8 452.8L514.7 450.7zM522.3 448.6L524.3 450.7L522.3 452.8L520.2 450.7zM527.7 448.6L529.8 450.7L527.7 452.8L525.6 450.7z" stroke="#ffa040" stroke-width="0.8" fill="none" opacity="0.85"/>
<path d="M309.8 430.9L312.2 431L314.7 431.1L317.1 431.1L319.6 431.2L322 431.3L324.5 431.4L326.9 431.5L329.4 431.5L331.8 431.6L334.3 431.7L336.7 431.8L339.2 431.9L341.6 431.9L344.1 432L346.5 432.1L349 432.1L351.4 432.2L353.9 432.3L356.3 432.3L358.8 432.4L361.2 432.5L363.7 432.5L366.1 432.6L368.6 432.6L371 432.7L373.5 432.7L375.9 432.8L378.4 432.8L380.8 432.9L383.2 432.9L385.7 432.9L388.1 433L390.6 433L393 433L395.5 433.1L397.9 433.1L400.4 433.1L402.8 433.1L405.3 433.1L407.7 433.1L410.2 433.1L412.6 433.1L415.1 433.1L417.5 433.1L420 433.1L422.4 433.1L424.9 433.1L427.3 433.1L429.8 433.1L432.2 433.1L434.7 433.1L437.1 433.1L439.6 433.1L442 433.1L444.5 433.1L446.9 433.1L449.4 433.1L451.8 433.1L454.3 433.1L456.7 433.1L459.1 433.1L461.6 433.1L464 433.1L466.5 433.1L468.9 433.1L471.4 433L473.8 433L476.3 433L478.7 433L481.2 433L483.6 433L486.1 433L488.5 433L491 433L493.4 432.9L495.9 432.9L498.3 432.9L500.8 432.9L503.2 432.9L505.7 432.9L508.1 432.8L510.6 432.8L513 432.8L515.5 432.8L517.9 432.7L520.4 432.7L522.8 432.7L525.3 432.7L527.7 432.6" stroke="#ff00ff" stroke-width="2.0" fill="none" stroke-linejoin="round"/>
<path d="M309.8 433.1L311.6 429.8L308 429.8zM315.2 433.3L317 430L313.4 430zM320.7 433.4L322.5 430.2L318.9 430.2zM326.1 433.6L327.9 430.4L324.3 430.4zM331.6 433.8L333.4 430.6L329.8 430.6zM337 434L338.8 430.7L335.2 430.7zM342.5 434.1L344.3 430.9L340.7 430.9zM347.9 434.3L349.7 431.1L346.1 431.1zM353.4 434.4L355.2 431.2L351.6 431.2zM358.8 434.6L360.6 431.3L357 431.3zM364.3 434.7L366.1 431.5L362.5 431.5zM369.7 434.8L371.5 431.6L367.9 431.6zM375.2 434.9L377 431.7L373.4 431.7zM380.6 435L382.4 431.8L378.8 431.8zM386.1 435.1L387.9 431.9L384.3 431.9zM391.5 435.2L393.3 432L389.7 432zM397 435.2L398.8 432L395.2 432zM402.4 435.3L404.2 432L400.6 432zM407.9 435.3L409.7 432.1L406.1 432.1zM413.3 435.3L415.1 432.1L411.5 432.1zM418.8 435.3L420.6 432.1L416.9 432.1zM424.2 435.3L426 432.1L422.4 432.1zM429.6 435.3L431.4 432.1L427.8 432.1zM435.1 435.3L436.9 432.1L433.3 432.1zM440.5 435.3L442.3 432L438.7 432zM446 435.3L447.8 432L444.2 432zM451.4 435.3L453.2 432L449.6 432zM456.9 435.3L458.7 432L455.1 432zM462.3 435.3L464.1 432L460.5 432zM467.8 435.2L469.6 432L466 432zM473.2 435.2L475 432L471.4 432zM478.7 435.2L480.5 432L476.9 432zM484.1 435.2L485.9 431.9L482.3 431.9zM489.6 435.1L491.4 431.9L487.8 431.9zM495 435.1L496.8 431.9L493.2 431.9zM500.5 435.1L502.3 431.8L498.7 431.8zM505.9 435L507.7 431.8L504.1 431.8zM511.4 435L513.2 431.7L509.6 431.7zM516.8 434.9L518.6 431.7L515 431.7zM522.3 434.9L524.1 431.6L520.5 431.6zM527.7 434.8L529.5 431.6L525.9 431.6z" stroke="#ff60ff" stroke-width="0.8" fill="none" opacity="0.85"/>
<path d="M309.8 533.2L312.2 533.3L314.7 533.4L317.1 533.5L319.6 533.6L322 533.7L324.5 533.8L326.9 533.9L329.4 534L331.8 534.1L334.3 534.2L336.7 534.3L339.2 534.3L341.6 534.4L344.1 534.5L346.5 534.6L349 534.7L351.4 534.8L353.9 534.9L356.3 534.9L358.8 535L361.2 535.1L363.7 535.2L366.1 535.2L368.6 535.3L371 535.4L373.5 535.4L375.9 535.5L378.4 535.5L380.8 535.6L383.2 535.7L385.7 535.7L388.1 535.7L390.6 535.8L393 535.8L395.5 535.9L397.9 535.9L400.4 535.9L402.8 535.9L405.3 536L407.7 536L410.2 536L412.6 536L415.1 536L417.5 536L420 536L422.4 536L424.9 536L427.3 536L429.8 536L432.2 536.1L434.7 536.1L437.1 536.1L439.6 536.1L442 536.1L444.5 536.1L446.9 536.1L449.4 536.1L451.8 536.1L454.3 536.1L456.7 536.1L459.1 536.1L461.6 536.1L464 536.1L466.5 536.1L468.9 536.1L471.4 536.1L473.8 536.1L476.3 536.2L478.7 536.2L481.2 536.2L483.6 536.2L486.1 536.2L488.5 536.2L491 536.2L493.4 536.2L495.9 536.2L498.3 536.2L500.8 536.2L503.2 536.2L505.7 536.2L508.1 536.2L510.6 536.2L513 536.2L515.5 536.2L517.9 536.2L520.4 536.2L522.8 536.2L525.3 536.2L527.7 536.2" stroke="#00aa00" stroke-width="2.0" fill="none" stroke-linejoin="round"/>
<path d="M308.1 533.4h3.4M309.8 531.7v3.4M313.5 533.6h3.4M315.2 531.9v3.4M319 533.8h3.4M320.7 532.1v3.4M324.4 534h3.4M326.1 532.3v3.4M329.9 534.3h3.4M331.6 532.6v3.4M335.3 534.5h3.4M337 532.8v3.4M340.8 534.7h3.4M342.5 533v3.4M346.2 534.9h3.4M347.9 533.2v3.4M351.7 535h3.4M353.4 533.3v3.4M357.1 535.2h3.4M358.8 533.5v3.4M362.6 535.4h3.4M364.3 533.7v3.4M368 535.5h3.4M369.7 533.8v3.4M373.5 535.7h3.4M375.2 534v3.4M378.9 535.8h3.4M380.6 534.1v3.4M384.4 535.9h3.4M386.1 534.2v3.4M389.8 536h3.4M391.5 534.3v3.4M395.3 536.1h3.4M397 534.4v3.4M400.7 536.1h3.4M402.4 534.4v3.4M406.2 536.2h3.4M407.9 534.5v3.4M411.6 536.2h3.4M413.3 534.5v3.4M417.1 536.2h3.4M418.8 534.5v3.4M422.5 536.2h3.4M424.2 534.5v3.4M427.9 536.2h3.4M429.6 534.5v3.4M433.4 536.3h3.4M435.1 534.6v3.4M438.8 536.3h3.4M440.5 534.6v3.4M444.3 536.3h3.4M446 534.6v3.4M449.7 536.3h3.4M451.4 534.6v3.4M455.2 536.3h3.4M456.9 534.6v3.4M460.6 536.3h3.4M462.3 534.6v3.4M466.1 536.3h3.4M467.8 534.6v3.4M471.5 536.3h3.4M473.2 534.6v3.4M477 536.4h3.4M478.7 534.7v3.4M482.4 536.4h3.4M484.1 534.7v3.4M487.9 536.4h3.4M489.6 534.7v3.4M493.3 536.4h3.4M495 534.7v3.4M498.8 536.4h3.4M500.5 534.7v3.4M504.2 536.4h3.4M505.9 534.7v3.4M509.7 536.4h3.4M511.4 534.7v3.4M515.1 536.4h3.4M516.8 534.7v3.4M520.6 536.4h3.4M522.3 534.7v3.4M526 536.4h3.4M527.7 534.7v3.4" stroke="#00aa00" stroke-width="0.8" fill="none" opacity="0.85"/>
<rect x="452.7" y="467.4" width="72" height="61.7" fill="#fff" stroke="#555" stroke-width="1"/>
<path d="M457.6 474.6h3.6v3.6h-3.6z" stroke="#222" stroke-width="0.8" fill="none"/>
<path d="M456.5 485.4a2.9 2.9 0 1 0 5.8 0a2.9 2.9 0 1 0 -5.8 0z" stroke="#ff6060" stroke-width="0.8" fill="none"/>
<path d="M459.4 492.2L461.7 496.3L457.1 496.3z" stroke="#a0a0a0" stroke-width="0.8" fill="none"/>
<path d="M459.4 500.1L462.2 502.9L459.4 505.7L456.6 502.9z" stroke="#ffa040" stroke-width="0.8" fill="none"/>
<path d="M459.4 513.9L461.9 509.4L456.9 509.4z" stroke="#ff40ff" stroke-width="0.8" fill="none"/>
<path d="M456.8 519.7h5.2M459.4 517.1v5.2" stroke="#00a000" stroke-width="1.3" fill="none"/>
<text x="490.8" y="479.8" class="ls" fill="#000">Q</text>
<text x="490.8" y="488.8" class="ls" fill="#ff0000">M</text>
<text x="462.6" y="497.1" fill="#a0a0a0" font-size="6.6" font-family='"Liberation Mono", monospace'>10(1-<tspan font-style="italic">γ</tspan>) (<tspan font-style="italic">P</tspan>-<tspan font-style="italic">W</tspan>)</text>
<text x="490.8" y="506.3" class="ls" fill="#ff8000">G</text>
<text x="490.8" y="514.5" class="ls" fill="#ff00ff">U</text>
<text x="490.8" y="522.9" text-anchor="middle" fill="#00aa00" font-size="8.8" font-family='"Liberation Mono", monospace' font-weight="bold">10<tspan font-size="6" dy="-3.6" font-family='"Liberation Sans", sans-serif' font-weight="normal">5</tspan><tspan dy="3.6" font-family='"Liberation Serif", serif' font-style="italic" font-weight="normal" fill="#50b050">π</tspan></text>
<text x="523.7" y="440.6" text-anchor="middle" class="t" textLength="8" lengthAdjust="spacingAndGlyphs">d2</text>
<path d="M33.5 584.1H262M33.5 619.4H262M33.5 654.7H262M65.1 565V702M96.7 565V702M128.3 565V702M159.9 565V702M191.5 565V702M223.1 565V702M254.7 565V702" stroke="#f2f2f2" stroke-width="0.8" fill="none"/>
<path d="M33.5 565V702" stroke="#d8d8d8" stroke-width="0.8" fill="none"/>
<path d="M33.5 690H262" stroke="#c0c0c0" stroke-width="0.9" fill="none"/>
<path d="M34.4 567V702" stroke="#3a3a3a" stroke-width="1.5" stroke-dasharray="2.3 4.2" fill="none"/>
<text x="31.3" y="587.1" text-anchor="end" class="t" textLength="17.6" lengthAdjust="spacingAndGlyphs">1500</text>
<text x="31.3" y="622.4" text-anchor="end" class="t" textLength="17.6" lengthAdjust="spacingAndGlyphs">1000</text>
<text x="31.3" y="657.7" text-anchor="end" class="t" textLength="13.2" lengthAdjust="spacingAndGlyphs">500</text>
<text x="31.3" y="693" text-anchor="end" class="t" textLength="4.4" lengthAdjust="spacingAndGlyphs">0</text>
<text x="65.1" y="699" text-anchor="middle" class="t" textLength="11.0" lengthAdjust="spacingAndGlyphs">0.5</text>
<text x="96.7" y="699" text-anchor="middle" class="t" textLength="11.0" lengthAdjust="spacingAndGlyphs">1.0</text>
<text x="128.3" y="699" text-anchor="middle" class="t" textLength="11.0" lengthAdjust="spacingAndGlyphs">1.5</text>
<text x="159.9" y="699" text-anchor="middle" class="t" textLength="11.0" lengthAdjust="spacingAndGlyphs">2.0</text>
<text x="191.5" y="699" text-anchor="middle" class="t" textLength="11.0" lengthAdjust="spacingAndGlyphs">2.5</text>
<text x="223.1" y="699" text-anchor="middle" class="t" textLength="11.0" lengthAdjust="spacingAndGlyphs">3.0</text>
<text x="254.7" y="699" text-anchor="middle" class="t" textLength="11.0" lengthAdjust="spacingAndGlyphs">3.5</text>
<text x="236.8" y="699" text-anchor="middle" fill="#333" font-size="9.5" font-family='"Liberation Serif", serif' font-style="italic">l<tspan font-size="6.5" dy="2">g</tspan></text>
<path d="M33.2 639.2L35.7 644.8L38.3 650.7L40.8 656.7L43.4 661.8L45.9 666.4L48.5 670.6L51 674.6L53.5 677.9L56.1 680.4L58.6 682.3L61.2 683.8L63.7 685.1L66.3 686.1L68.8 686.8L71.3 687.3L73.9 687.5L76.4 687.6L79 687.7L81.5 687.8L84.1 687.9L86.6 687.9L89.1 688L91.7 688L94.2 688L96.8 688L99.3 688L101.9 688L104.4 688L107 688.1L109.5 688.1L112 688.1L114.6 688.1L117.1 688.1L119.7 688.1L122.2 688.1L124.8 688.1L127.3 688.1L129.8 688.1L132.4 688.1L134.9 688.1L137.5 688.1L140 688.1L142.6 688.1L145.1 688.1L147.6 688.1L150.2 688.2L152.7 688.2L155.3 688.2L157.8 688.2L160.4 688.2L162.9 688.2L165.4 688.2L168 688.2L170.5 688.2L173.1 688.2L175.6 688.2L178.2 688.2L180.7 688.2L183.2 688.2L185.8 688.2L188.3 688.2L190.9 688.2L193.4 688.2L196 688.2L198.5 688.2L201 688.2L203.6 688.2L206.1 688.2L208.7 688.2L211.2 688.2L213.8 688.2L216.3 688.2L218.8 688.2L221.4 688.2L223.9 688.2L226.5 688.2L229 688.2L231.6 688.2L234.1 688.2L236.6 688.2L239.2 688.2L241.7 688.2L244.3 688.2L246.8 688.2L249.4 688.2L251.9 688.2L254.5 688.2L257 688.2L259.5 688.2" stroke="#000000" stroke-width="1.3" fill="none" stroke-linejoin="round"/>
<path d="M32 638.9h4v4h-4zM39 655.2h4v4h-4zM46.1 668h4v4h-4zM53.1 677.5h4v4h-4zM60.2 682.4h4v4h-4zM67.2 684.9h4v4h-4zM74.3 685.6h4v4h-4zM81.3 685.9h4v4h-4zM88.4 686h4v4h-4zM95.4 686h4v4h-4zM102.5 686h4v4h-4zM109.5 686.1h4v4h-4zM116.6 686.1h4v4h-4zM123.6 686.1h4v4h-4zM130.7 686.1h4v4h-4zM137.8 686.1h4v4h-4zM144.8 686.1h4v4h-4zM151.8 686.2h4v4h-4zM158.9 686.2h4v4h-4zM165.9 686.2h4v4h-4zM173 686.2h4v4h-4zM180 686.2h4v4h-4zM187.1 686.2h4v4h-4zM194.2 686.2h4v4h-4zM201.2 686.2h4v4h-4zM208.2 686.2h4v4h-4zM215.3 686.2h4v4h-4zM222.3 686.2h4v4h-4zM229.4 686.2h4v4h-4zM236.4 686.2h4v4h-4zM243.5 686.2h4v4h-4zM250.5 686.2h4v4h-4zM257.6 686.2h4v4h-4z" fill="#000000" opacity="1.0"/>
<path d="M33.2 639.9L35.7 644.1L38.3 648.4L40.8 652.9L43.4 657.2L45.9 661.1L48.5 663.6L51 665.3L53.5 666.6L56.1 667.9L58.6 669L61.2 670L63.7 670.8L66.3 671.5L68.8 672.2L71.3 672.8L73.9 673.3L76.4 673.8L79 674.3L81.5 674.7L84.1 675L86.6 675.2L89.1 675.4L91.7 675.6L94.2 675.8L96.8 676L99.3 676.3L101.9 676.7L104.4 677L107 677.2L109.5 677.4L112 677.6L114.6 677.8L117.1 677.9L119.7 678.1L122.2 678.2L124.8 678.3L127.3 678.5L129.8 678.6L132.4 678.7L134.9 678.8L137.5 678.9L140 679L142.6 679.1L145.1 679.2L147.6 679.3L150.2 679.4L152.7 679.5L155.3 679.6L157.8 679.7L160.4 679.7L162.9 679.8L165.4 679.9L168 680L170.5 680.1L173.1 680.2L175.6 680.3L178.2 680.4L180.7 680.5L183.2 680.5L185.8 680.6L188.3 680.7L190.9 680.8L193.4 680.9L196 680.9L198.5 681L201 681.1L203.6 681.2L206.1 681.2L208.7 681.3L211.2 681.4L213.8 681.4L216.3 681.5L218.8 681.5L221.4 681.6L223.9 681.6L226.5 681.7L229 681.7L231.6 681.8L234.1 681.8L236.6 681.9L239.2 681.9L241.7 681.9L244.3 682L246.8 682L249.4 682L251.9 682.1L254.5 682.1L257 682.1L259.5 682.1" stroke="#ff0000" stroke-width="1.3" fill="none" stroke-linejoin="round"/>
<path d="M31.5 641.2a2.5 2.5 0 1 0 5 0a2.5 2.5 0 1 0 -5 0zM38.5 653.3a2.5 2.5 0 1 0 5 0a2.5 2.5 0 1 0 -5 0zM45.6 663.4a2.5 2.5 0 1 0 5 0a2.5 2.5 0 1 0 -5 0zM52.6 667.4a2.5 2.5 0 1 0 5 0a2.5 2.5 0 1 0 -5 0zM59.7 670.3a2.5 2.5 0 1 0 5 0a2.5 2.5 0 1 0 -5 0zM66.8 672.3a2.5 2.5 0 1 0 5 0a2.5 2.5 0 1 0 -5 0zM73.8 673.8a2.5 2.5 0 1 0 5 0a2.5 2.5 0 1 0 -5 0zM80.8 674.9a2.5 2.5 0 1 0 5 0a2.5 2.5 0 1 0 -5 0zM87.9 675.5a2.5 2.5 0 1 0 5 0a2.5 2.5 0 1 0 -5 0zM94.9 676.1a2.5 2.5 0 1 0 5 0a2.5 2.5 0 1 0 -5 0zM102 677a2.5 2.5 0 1 0 5 0a2.5 2.5 0 1 0 -5 0zM109 677.6a2.5 2.5 0 1 0 5 0a2.5 2.5 0 1 0 -5 0zM116.1 678a2.5 2.5 0 1 0 5 0a2.5 2.5 0 1 0 -5 0zM123.1 678.4a2.5 2.5 0 1 0 5 0a2.5 2.5 0 1 0 -5 0zM130.2 678.7a2.5 2.5 0 1 0 5 0a2.5 2.5 0 1 0 -5 0zM137.2 679a2.5 2.5 0 1 0 5 0a2.5 2.5 0 1 0 -5 0zM144.3 679.2a2.5 2.5 0 1 0 5 0a2.5 2.5 0 1 0 -5 0zM151.3 679.5a2.5 2.5 0 1 0 5 0a2.5 2.5 0 1 0 -5 0zM158.4 679.8a2.5 2.5 0 1 0 5 0a2.5 2.5 0 1 0 -5 0zM165.4 680a2.5 2.5 0 1 0 5 0a2.5 2.5 0 1 0 -5 0zM172.5 680.3a2.5 2.5 0 1 0 5 0a2.5 2.5 0 1 0 -5 0zM179.5 680.5a2.5 2.5 0 1 0 5 0a2.5 2.5 0 1 0 -5 0zM186.6 680.7a2.5 2.5 0 1 0 5 0a2.5 2.5 0 1 0 -5 0zM193.7 680.9a2.5 2.5 0 1 0 5 0a2.5 2.5 0 1 0 -5 0zM200.7 681.1a2.5 2.5 0 1 0 5 0a2.5 2.5 0 1 0 -5 0zM207.8 681.3a2.5 2.5 0 1 0 5 0a2.5 2.5 0 1 0 -5 0zM214.8 681.5a2.5 2.5 0 1 0 5 0a2.5 2.5 0 1 0 -5 0zM221.8 681.7a2.5 2.5 0 1 0 5 0a2.5 2.5 0 1 0 -5 0zM228.9 681.8a2.5 2.5 0 1 0 5 0a2.5 2.5 0 1 0 -5 0zM235.9 681.9a2.5 2.5 0 1 0 5 0a2.5 2.5 0 1 0 -5 0zM243 682a2.5 2.5 0 1 0 5 0a2.5 2.5 0 1 0 -5 0zM250 682.1a2.5 2.5 0 1 0 5 0a2.5 2.5 0 1 0 -5 0zM257.1 682.1a2.5 2.5 0 1 0 5 0a2.5 2.5 0 1 0 -5 0z" fill="#ff0000" opacity="1.0"/>
<path d="M33.2 689.6L35.7 689.8L38.3 689.9L40.8 690L43.4 690.1L45.9 690.2L48.5 690.2L51 690.3L53.5 690.4L56.1 690.5L58.6 690.6L61.2 690.6L63.7 690.7L66.3 690.7L68.8 690.8L71.3 690.8L73.9 690.9L76.4 690.9L79 690.9L81.5 691L84.1 691L86.6 691L89.1 691.1L91.7 691.1L94.2 691.1L96.8 691.1L99.3 691.2L101.9 691.2L104.4 691.2L107 691.2L109.5 691.3L112 691.3L114.6 691.3L117.1 691.4L119.7 691.4L122.2 691.4L124.8 691.4L127.3 691.5L129.8 691.5L132.4 691.5L134.9 691.6L137.5 691.6L140 691.6L142.6 691.6L145.1 691.7L147.6 691.7L150.2 691.7L152.7 691.7L155.3 691.8L157.8 691.8L160.4 691.8L162.9 691.8L165.4 691.9L168 691.9L170.5 691.9L173.1 691.9L175.6 692L178.2 692L180.7 692L183.2 692L185.8 692.1L188.3 692.1L190.9 692.1L193.4 692.1L196 692.2L198.5 692.2L201 692.2L203.6 692.2L206.1 692.3L208.7 692.3L211.2 692.3L213.8 692.3L216.3 692.3L218.8 692.4L221.4 692.4L223.9 692.4L226.5 692.4L229 692.5L231.6 692.5L234.1 692.5L236.6 692.5L239.2 692.5L241.7 692.6L244.3 692.6L246.8 692.6L249.4 692.6L251.9 692.6L254.5 692.6L257 692.7L259.5 692.7" stroke="#747474" stroke-width="1.3" fill="none" stroke-linejoin="round"/>
<path d="M34 688.9L36.2 692.8L31.8 692.8zM41 689.1L43.2 693.1L38.8 693.1zM48.1 689.4L50.3 693.4L45.9 693.4zM55.1 689.6L57.4 693.6L52.9 693.6zM62.2 689.8L64.4 693.8L60 693.8zM69.2 690L71.5 693.9L67 693.9zM76.3 690.1L78.5 694L74.1 694zM83.3 690.2L85.5 694.1L81.1 694.1zM90.4 690.2L92.6 694.2L88.2 694.2zM97.4 690.3L99.6 694.3L95.2 694.3zM104.5 690.4L106.7 694.4L102.3 694.4zM111.5 690.5L113.8 694.4L109.3 694.4zM118.6 690.6L120.8 694.5L116.4 694.5zM125.6 690.6L127.8 694.6L123.4 694.6zM132.7 690.7L134.9 694.7L130.5 694.7zM139.8 690.8L141.9 694.7L137.6 694.7zM146.8 690.9L149 694.8L144.6 694.8zM153.8 690.9L156 694.9L151.7 694.9zM160.9 691L163.1 695L158.7 695zM167.9 691.1L170.1 695L165.8 695zM175 691.1L177.2 695.1L172.8 695.1zM182 691.2L184.2 695.2L179.8 695.2zM189.1 691.3L191.3 695.2L186.9 695.2zM196.2 691.3L198.3 695.3L194 695.3zM203.2 691.4L205.4 695.4L201 695.4zM210.2 691.5L212.4 695.4L208.1 695.4zM217.3 691.5L219.5 695.5L215.1 695.5zM224.3 691.6L226.5 695.6L222.2 695.6zM231.4 691.7L233.6 695.6L229.2 695.6zM238.4 691.7L240.6 695.7L236.2 695.7zM245.5 691.8L247.7 695.7L243.3 695.7zM252.5 691.8L254.7 695.8L250.3 695.8zM259.6 691.9L261.8 695.8L257.4 695.8z" fill="#5e5e5e" opacity="1.0"/>
<path d="M33.2 666.7L35.7 671.9L38.3 676.1L40.8 679.3L43.4 681.7L45.9 683.4L48.5 684.8L51 685.9L53.5 686.8L56.1 687.7L58.6 688.3L61.2 688.7L63.7 689L66.3 689.3L68.8 689.5L71.3 689.6L73.9 689.7L76.4 689.8L79 689.8L81.5 689.9L84.1 689.9L86.6 689.9L89.1 690L91.7 690L94.2 690L96.8 690L99.3 690L101.9 690L104.4 690L107 690L109.5 690L112 690L114.6 690L117.1 690L119.7 690L122.2 690L124.8 690L127.3 690L129.8 690L132.4 690L134.9 690L137.5 690L140 690L142.6 690L145.1 690L147.6 690L150.2 690L152.7 690L155.3 690L157.8 690L160.4 690L162.9 690L165.4 690L168 690L170.5 690L173.1 690L175.6 690L178.2 690L180.7 690L183.2 690L185.8 690L188.3 690L190.9 690L193.4 690L196 690L198.5 690L201 690L203.6 690L206.1 690L208.7 690L211.2 690L213.8 690L216.3 690L218.8 690L221.4 690L223.9 690L226.5 690L229 690L231.6 690L234.1 690L236.6 690L239.2 690L241.7 690L244.3 690L246.8 690L249.4 690L251.9 690L254.5 690L257 690L259.5 690" stroke="#00ffff" stroke-width="1.3" fill="none" stroke-linejoin="round"/>
<path d="M34 665.3L34.8 667.3L37 667.5L35.3 668.9L35.8 671L34 669.8L32.2 671L32.7 668.9L31 667.5L33.2 667.3zM41 676.4L41.9 678.4L44 678.5L42.4 679.9L42.9 682L41 680.9L39.2 682L39.7 679.9L38.1 678.5L40.2 678.4zM48.1 681.5L48.9 683.5L51.1 683.6L49.4 685L49.9 687.1L48.1 686L46.3 687.1L46.8 685L45.1 683.6L47.3 683.5zM55.1 684.3L56 686.3L58.1 686.4L56.5 687.8L57 689.9L55.1 688.8L53.3 689.9L53.8 687.8L52.2 686.4L54.3 686.3zM62.2 685.7L63 687.7L65.2 687.9L63.5 689.3L64 691.4L62.2 690.3L60.4 691.4L60.9 689.3L59.2 687.9L61.4 687.7zM69.2 686.4L70.1 688.4L72.2 688.6L70.6 690L71.1 692.1L69.2 691L67.4 692.1L67.9 690L66.3 688.6L68.4 688.4zM76.3 686.6L77.1 688.6L79.3 688.8L77.6 690.2L78.1 692.3L76.3 691.2L74.5 692.3L75 690.2L73.3 688.8L75.5 688.6zM83.3 686.8L84.2 688.8L86.3 688.9L84.7 690.3L85.2 692.4L83.3 691.3L81.5 692.4L82 690.3L80.4 688.9L82.5 688.8zM90.4 686.9L91.2 688.8L93.4 689L91.7 690.4L92.2 692.5L90.4 691.4L88.6 692.5L89.1 690.4L87.4 689L89.6 688.8zM97.4 686.9L98.3 688.9L100.4 689L98.8 690.4L99.3 692.5L97.4 691.4L95.6 692.5L96.1 690.4L94.5 689L96.6 688.9zM104.5 686.9L105.3 688.9L107.5 689L105.8 690.4L106.3 692.5L104.5 691.4L102.7 692.5L103.2 690.4L101.5 689L103.7 688.9zM111.5 686.9L112.4 688.9L114.5 689L112.9 690.4L113.4 692.5L111.5 691.4L109.7 692.5L110.2 690.4L108.6 689L110.7 688.9zM118.6 686.9L119.4 688.9L121.6 689L119.9 690.4L120.4 692.5L118.6 691.4L116.8 692.5L117.3 690.4L115.6 689L117.8 688.9zM125.6 686.9L126.5 688.9L128.6 689L127 690.4L127.5 692.5L125.6 691.4L123.8 692.5L124.3 690.4L122.7 689L124.8 688.9zM132.7 686.9L133.5 688.9L135.7 689L134 690.4L134.5 692.5L132.7 691.4L130.9 692.5L131.4 690.4L129.7 689L131.9 688.9zM139.8 686.9L140.6 688.9L142.7 689L141.1 690.4L141.6 692.5L139.8 691.4L137.9 692.5L138.4 690.4L136.8 689L138.9 688.9zM146.8 686.9L147.6 688.9L149.8 689L148.1 690.4L148.6 692.5L146.8 691.4L145 692.5L145.5 690.4L143.8 689L146 688.9zM153.8 686.9L154.7 688.9L156.8 689L155.2 690.4L155.7 692.5L153.8 691.4L152 692.5L152.5 690.4L150.9 689L153 688.9zM160.9 686.9L161.7 688.9L163.9 689L162.2 690.4L162.7 692.5L160.9 691.4L159.1 692.5L159.6 690.4L157.9 689L160.1 688.9zM167.9 686.9L168.8 688.9L170.9 689L169.3 690.4L169.8 692.5L167.9 691.4L166.1 692.5L166.6 690.4L165 689L167.1 688.9zM175 686.9L175.8 688.9L178 689L176.3 690.4L176.8 692.5L175 691.4L173.2 692.5L173.7 690.4L172 689L174.2 688.9zM182 686.9L182.9 688.9L185 689L183.4 690.4L183.9 692.5L182 691.4L180.2 692.5L180.7 690.4L179.1 689L181.2 688.9zM189.1 686.9L189.9 688.9L192.1 689L190.4 690.4L190.9 692.5L189.1 691.4L187.3 692.5L187.8 690.4L186.1 689L188.3 688.9zM196.2 686.9L197 688.9L199.1 689L197.5 690.4L198 692.5L196.2 691.4L194.3 692.5L194.8 690.4L193.2 689L195.3 688.9zM203.2 686.9L204 688.9L206.2 689L204.5 690.4L205 692.5L203.2 691.4L201.4 692.5L201.9 690.4L200.2 689L202.4 688.9zM210.2 686.9L211.1 688.9L213.2 689L211.6 690.4L212.1 692.5L210.2 691.4L208.4 692.5L208.9 690.4L207.3 689L209.4 688.9zM217.3 686.9L218.1 688.9L220.3 689L218.6 690.4L219.1 692.5L217.3 691.4L215.5 692.5L216 690.4L214.3 689L216.5 688.9zM224.3 686.9L225.2 688.9L227.3 689L225.7 690.4L226.2 692.5L224.3 691.4L222.5 692.5L223 690.4L221.4 689L223.5 688.9zM231.4 686.9L232.2 688.9L234.4 689L232.7 690.4L233.2 692.5L231.4 691.4L229.6 692.5L230.1 690.4L228.4 689L230.6 688.9zM238.4 686.9L239.3 688.9L241.4 689L239.8 690.4L240.3 692.5L238.4 691.4L236.6 692.5L237.1 690.4L235.5 689L237.6 688.9zM245.5 686.9L246.3 688.9L248.5 689L246.8 690.4L247.3 692.5L245.5 691.4L243.7 692.5L244.2 690.4L242.5 689L244.7 688.9zM252.5 686.9L253.4 688.9L255.5 689L253.9 690.4L254.4 692.5L252.5 691.4L250.7 692.5L251.2 690.4L249.6 689L251.7 688.9zM259.6 686.9L260.4 688.9L262.6 689L260.9 690.4L261.4 692.5L259.6 691.4L257.8 692.5L258.3 690.4L256.6 689L258.8 688.9z" fill="#00ffff" opacity="1.0"/>
<path d="M33.2 666L35.7 661.1L38.3 656.6L40.8 652.5L43.4 648.4L45.9 645.5L48.5 643.9L51 642.7L53.5 641.7L56.1 640.7L58.6 639.9L61.2 639.1L63.7 638.4L66.3 637.7L68.8 637L71.3 636.4L73.9 635.9L76.4 635.4L79 635.1L81.5 634.7L84.1 634.4L86.6 634L89.1 633.7L91.7 633.3L94.2 632.9L96.8 632.5L99.3 632.1L101.9 631.7L104.4 631.4L107 631L109.5 630.7L112 630.3L114.6 630.1L117.1 629.9L119.7 629.7L122.2 629.5L124.8 629.4L127.3 629.2L129.8 629.1L132.4 629L134.9 628.9L137.5 628.8L140 628.7L142.6 628.7L145.1 628.6L147.6 628.6L150.2 628.5L152.7 628.5L155.3 628.4L157.8 628.4L160.4 628.4L162.9 628.3L165.4 628.3L168 628.3L170.5 628.2L173.1 628.2L175.6 628.1L178.2 628.1L180.7 628.1L183.2 628.1L185.8 628L188.3 628L190.9 628L193.4 627.9L196 627.9L198.5 627.9L201 627.9L203.6 627.8L206.1 627.8L208.7 627.8L211.2 627.8L213.8 627.8L216.3 627.7L218.8 627.7L221.4 627.7L223.9 627.7L226.5 627.7L229 627.7L231.6 627.7L234.1 627.6L236.6 627.6L239.2 627.6L241.7 627.6L244.3 627.6L246.8 627.6L249.4 627.6L251.9 627.6L254.5 627.6L257 627.6L259.5 627.6" stroke="#ff8000" stroke-width="1.3" fill="none" stroke-linejoin="round"/>
<path d="M34 661.9L36.5 664.4L34 666.9L31.5 664.4zM41 649.6L43.6 652.1L41 654.6L38.5 652.1zM48.1 641.6L50.6 644.1L48.1 646.6L45.6 644.1zM55.1 638.5L57.7 641.1L55.1 643.6L52.6 641.1zM62.2 636.3L64.7 638.8L62.2 641.4L59.7 638.8zM69.2 634.3L71.8 636.9L69.2 639.4L66.7 636.9zM76.3 632.9L78.8 635.5L76.3 638L73.8 635.5zM83.3 631.9L85.9 634.5L83.3 637L80.8 634.5zM90.4 630.9L92.9 633.5L90.4 636L87.9 633.5zM97.4 629.9L100 632.4L97.4 634.9L94.9 632.4zM104.5 628.8L107 631.4L104.5 633.9L102 631.4zM111.5 627.9L114.1 630.4L111.5 632.9L109 630.4zM118.6 627.2L121.1 629.8L118.6 632.3L116.1 629.8zM125.6 626.8L128.2 629.3L125.6 631.8L123.1 629.3zM132.7 626.4L135.2 628.9L132.7 631.5L130.2 628.9zM139.8 626.2L142.3 628.7L139.8 631.3L137.2 628.7zM146.8 626.1L149.3 628.6L146.8 631.1L144.3 628.6zM153.8 625.9L156.4 628.5L153.8 631L151.3 628.5zM160.9 625.8L163.4 628.4L160.9 630.9L158.4 628.4zM167.9 625.7L170.5 628.3L167.9 630.8L165.4 628.3zM175 625.6L177.5 628.2L175 630.7L172.5 628.2zM182 625.5L184.6 628.1L182 630.6L179.5 628.1zM189.1 625.5L191.6 628L189.1 630.5L186.6 628zM196.2 625.4L198.7 627.9L196.2 630.4L193.6 627.9zM203.2 625.3L205.7 627.8L203.2 630.4L200.7 627.8zM210.2 625.3L212.8 627.8L210.2 630.3L207.7 627.8zM217.3 625.2L219.8 627.7L217.3 630.3L214.8 627.7zM224.3 625.2L226.9 627.7L224.3 630.2L221.8 627.7zM231.4 625.1L233.9 627.7L231.4 630.2L228.9 627.7zM238.4 625.1L241 627.6L238.4 630.2L235.9 627.6zM245.5 625.1L248 627.6L245.5 630.1L243 627.6zM252.5 625.1L255.1 627.6L252.5 630.1L250 627.6zM259.6 625.1L262.1 627.6L259.6 630.1L257.1 627.6z" fill="#ff8000" opacity="1.0"/>
<path d="M33.2 661.1L35.7 665.2L38.3 669L40.8 672.4L43.4 675.6L45.9 678.2L48.5 680.3L51 682L53.5 683.5L56.1 684.9L58.6 686L61.2 687.1L63.7 688L66.3 688.8L68.8 689.2L71.3 689.5L73.9 689.7L76.4 689.9L79 690L81.5 690L84.1 690L86.6 690L89.1 690L91.7 690L94.2 690L96.8 690L99.3 690L101.9 690L104.4 690L107 690L109.5 690L112 690L114.6 690L117.1 690L119.7 690L122.2 690L124.8 690L127.3 690L129.8 690L132.4 690L134.9 690L137.5 690L140 690L142.6 690L145.1 690L147.6 690L150.2 690L152.7 690L155.3 690L157.8 690L160.4 690L162.9 690L165.4 690L168 690L170.5 690L173.1 690L175.6 690L178.2 690L180.7 690L183.2 690L185.8 690L188.3 690L190.9 690L193.4 690L196 690L198.5 690L201 690L203.6 690L206.1 690L208.7 690L211.2 690L213.8 690L216.3 690L218.8 690L221.4 690L223.9 690L226.5 690L229 690L231.6 690L234.1 690L236.6 690L239.2 690L241.7 690L244.3 690L246.8 690L249.4 690L251.9 690L254.5 690L257 690L259.5 690" stroke="#996633" stroke-width="1.3" fill="none" stroke-linejoin="round"/>
<path d="M32.9 661.2a1.1 1.1 0 1 0 2.2 0a1.1 1.1 0 1 0 -2.2 0zM31.7 662.8a1.1 1.1 0 1 0 2.2 0a1.1 1.1 0 1 0 -2.2 0zM34.2 662.8a1.1 1.1 0 1 0 2.2 0a1.1 1.1 0 1 0 -2.2 0zM33.5 662.4L34.5 662.4L34.8 664.9L33.2 664.9zM40 671.5a1.1 1.1 0 1 0 2.2 0a1.1 1.1 0 1 0 -2.2 0zM38.7 673.1a1.1 1.1 0 1 0 2.2 0a1.1 1.1 0 1 0 -2.2 0zM41.2 673.1a1.1 1.1 0 1 0 2.2 0a1.1 1.1 0 1 0 -2.2 0zM40.6 672.7L41.5 672.7L41.9 675.2L40.2 675.2zM47 678.8a1.1 1.1 0 1 0 2.2 0a1.1 1.1 0 1 0 -2.2 0zM45.8 680.4a1.1 1.1 0 1 0 2.2 0a1.1 1.1 0 1 0 -2.2 0zM48.3 680.4a1.1 1.1 0 1 0 2.2 0a1.1 1.1 0 1 0 -2.2 0zM47.6 680L48.6 680L48.9 682.6L47.3 682.6zM54.1 683.2a1.1 1.1 0 1 0 2.2 0a1.1 1.1 0 1 0 -2.2 0zM52.8 684.8a1.1 1.1 0 1 0 2.2 0a1.1 1.1 0 1 0 -2.2 0zM55.3 684.8a1.1 1.1 0 1 0 2.2 0a1.1 1.1 0 1 0 -2.2 0zM54.7 684.4L55.6 684.4L56 686.9L54.3 686.9zM61.1 686.3a1.1 1.1 0 1 0 2.2 0a1.1 1.1 0 1 0 -2.2 0zM59.9 687.8a1.1 1.1 0 1 0 2.2 0a1.1 1.1 0 1 0 -2.2 0zM62.4 687.8a1.1 1.1 0 1 0 2.2 0a1.1 1.1 0 1 0 -2.2 0zM61.7 687.5L62.7 687.5L63 690L61.4 690zM68.2 688.1a1.1 1.1 0 1 0 2.2 0a1.1 1.1 0 1 0 -2.2 0zM66.9 689.6a1.1 1.1 0 1 0 2.2 0a1.1 1.1 0 1 0 -2.2 0zM69.4 689.6a1.1 1.1 0 1 0 2.2 0a1.1 1.1 0 1 0 -2.2 0zM68.8 689.3L69.7 689.3L70.1 691.8L68.4 691.8zM75.2 688.7a1.1 1.1 0 1 0 2.2 0a1.1 1.1 0 1 0 -2.2 0zM74 690.2a1.1 1.1 0 1 0 2.2 0a1.1 1.1 0 1 0 -2.2 0zM76.5 690.2a1.1 1.1 0 1 0 2.2 0a1.1 1.1 0 1 0 -2.2 0zM75.8 689.9L76.8 689.9L77.1 692.4L75.5 692.4zM82.3 688.8a1.1 1.1 0 1 0 2.2 0a1.1 1.1 0 1 0 -2.2 0zM81 690.4a1.1 1.1 0 1 0 2.2 0a1.1 1.1 0 1 0 -2.2 0zM83.5 690.4a1.1 1.1 0 1 0 2.2 0a1.1 1.1 0 1 0 -2.2 0zM82.9 690L83.8 690L84.2 692.5L82.5 692.5zM89.3 688.8a1.1 1.1 0 1 0 2.2 0a1.1 1.1 0 1 0 -2.2 0zM88.1 690.4a1.1 1.1 0 1 0 2.2 0a1.1 1.1 0 1 0 -2.2 0zM90.6 690.4a1.1 1.1 0 1 0 2.2 0a1.1 1.1 0 1 0 -2.2 0zM89.9 690L90.9 690L91.2 692.5L89.6 692.5zM96.4 688.8a1.1 1.1 0 1 0 2.2 0a1.1 1.1 0 1 0 -2.2 0zM95.1 690.4a1.1 1.1 0 1 0 2.2 0a1.1 1.1 0 1 0 -2.2 0zM97.6 690.4a1.1 1.1 0 1 0 2.2 0a1.1 1.1 0 1 0 -2.2 0zM97 690L97.9 690L98.3 692.5L96.6 692.5zM103.4 688.8a1.1 1.1 0 1 0 2.2 0a1.1 1.1 0 1 0 -2.2 0zM102.2 690.4a1.1 1.1 0 1 0 2.2 0a1.1 1.1 0 1 0 -2.2 0zM104.7 690.4a1.1 1.1 0 1 0 2.2 0a1.1 1.1 0 1 0 -2.2 0zM104 690L105 690L105.3 692.5L103.7 692.5zM110.5 688.8a1.1 1.1 0 1 0 2.2 0a1.1 1.1 0 1 0 -2.2 0zM109.2 690.4a1.1 1.1 0 1 0 2.2 0a1.1 1.1 0 1 0 -2.2 0zM111.7 690.4a1.1 1.1 0 1 0 2.2 0a1.1 1.1 0 1 0 -2.2 0zM111.1 690L112 690L112.4 692.5L110.7 692.5zM117.5 688.8a1.1 1.1 0 1 0 2.2 0a1.1 1.1 0 1 0 -2.2 0zM116.3 690.4a1.1 1.1 0 1 0 2.2 0a1.1 1.1 0 1 0 -2.2 0zM118.8 690.4a1.1 1.1 0 1 0 2.2 0a1.1 1.1 0 1 0 -2.2 0zM118.1 690L119.1 690L119.4 692.5L117.8 692.5zM124.6 688.8a1.1 1.1 0 1 0 2.2 0a1.1 1.1 0 1 0 -2.2 0zM123.3 690.4a1.1 1.1 0 1 0 2.2 0a1.1 1.1 0 1 0 -2.2 0zM125.8 690.4a1.1 1.1 0 1 0 2.2 0a1.1 1.1 0 1 0 -2.2 0zM125.2 690L126.1 690L126.5 692.5L124.8 692.5zM131.6 688.8a1.1 1.1 0 1 0 2.2 0a1.1 1.1 0 1 0 -2.2 0zM130.4 690.4a1.1 1.1 0 1 0 2.2 0a1.1 1.1 0 1 0 -2.2 0zM132.9 690.4a1.1 1.1 0 1 0 2.2 0a1.1 1.1 0 1 0 -2.2 0zM132.2 690L133.2 690L133.5 692.5L131.9 692.5zM138.7 688.8a1.1 1.1 0 1 0 2.2 0a1.1 1.1 0 1 0 -2.2 0zM137.4 690.4a1.1 1.1 0 1 0 2.2 0a1.1 1.1 0 1 0 -2.2 0zM139.9 690.4a1.1 1.1 0 1 0 2.2 0a1.1 1.1 0 1 0 -2.2 0zM139.3 690L140.2 690L140.6 692.5L138.9 692.5zM145.7 688.8a1.1 1.1 0 1 0 2.2 0a1.1 1.1 0 1 0 -2.2 0zM144.5 690.4a1.1 1.1 0 1 0 2.2 0a1.1 1.1 0 1 0 -2.2 0zM147 690.4a1.1 1.1 0 1 0 2.2 0a1.1 1.1 0 1 0 -2.2 0zM146.3 690L147.3 690L147.6 692.5L146 692.5zM152.8 688.8a1.1 1.1 0 1 0 2.2 0a1.1 1.1 0 1 0 -2.2 0zM151.5 690.4a1.1 1.1 0 1 0 2.2 0a1.1 1.1 0 1 0 -2.2 0zM154 690.4a1.1 1.1 0 1 0 2.2 0a1.1 1.1 0 1 0 -2.2 0zM153.4 690L154.3 690L154.7 692.5L153 692.5zM159.8 688.8a1.1 1.1 0 1 0 2.2 0a1.1 1.1 0 1 0 -2.2 0zM158.6 690.4a1.1 1.1 0 1 0 2.2 0a1.1 1.1 0 1 0 -2.2 0zM161.1 690.4a1.1 1.1 0 1 0 2.2 0a1.1 1.1 0 1 0 -2.2 0zM160.4 690L161.4 690L161.7 692.5L160.1 692.5zM166.9 688.8a1.1 1.1 0 1 0 2.2 0a1.1 1.1 0 1 0 -2.2 0zM165.6 690.4a1.1 1.1 0 1 0 2.2 0a1.1 1.1 0 1 0 -2.2 0zM168.1 690.4a1.1 1.1 0 1 0 2.2 0a1.1 1.1 0 1 0 -2.2 0zM167.5 690L168.4 690L168.8 692.5L167.1 692.5zM173.9 688.8a1.1 1.1 0 1 0 2.2 0a1.1 1.1 0 1 0 -2.2 0zM172.7 690.4a1.1 1.1 0 1 0 2.2 0a1.1 1.1 0 1 0 -2.2 0zM175.2 690.4a1.1 1.1 0 1 0 2.2 0a1.1 1.1 0 1 0 -2.2 0zM174.5 690L175.5 690L175.8 692.5L174.2 692.5zM181 688.8a1.1 1.1 0 1 0 2.2 0a1.1 1.1 0 1 0 -2.2 0zM179.7 690.4a1.1 1.1 0 1 0 2.2 0a1.1 1.1 0 1 0 -2.2 0zM182.2 690.4a1.1 1.1 0 1 0 2.2 0a1.1 1.1 0 1 0 -2.2 0zM181.6 690L182.5 690L182.9 692.5L181.2 692.5zM188 688.8a1.1 1.1 0 1 0 2.2 0a1.1 1.1 0 1 0 -2.2 0zM186.8 690.4a1.1 1.1 0 1 0 2.2 0a1.1 1.1 0 1 0 -2.2 0zM189.3 690.4a1.1 1.1 0 1 0 2.2 0a1.1 1.1 0 1 0 -2.2 0zM188.6 690L189.6 690L189.9 692.5L188.3 692.5zM195.1 688.8a1.1 1.1 0 1 0 2.2 0a1.1 1.1 0 1 0 -2.2 0zM193.8 690.4a1.1 1.1 0 1 0 2.2 0a1.1 1.1 0 1 0 -2.2 0zM196.3 690.4a1.1 1.1 0 1 0 2.2 0a1.1 1.1 0 1 0 -2.2 0zM195.7 690L196.6 690L197 692.5L195.3 692.5zM202.1 688.8a1.1 1.1 0 1 0 2.2 0a1.1 1.1 0 1 0 -2.2 0zM200.9 690.4a1.1 1.1 0 1 0 2.2 0a1.1 1.1 0 1 0 -2.2 0zM203.4 690.4a1.1 1.1 0 1 0 2.2 0a1.1 1.1 0 1 0 -2.2 0zM202.7 690L203.7 690L204 692.5L202.4 692.5zM209.2 688.8a1.1 1.1 0 1 0 2.2 0a1.1 1.1 0 1 0 -2.2 0zM207.9 690.4a1.1 1.1 0 1 0 2.2 0a1.1 1.1 0 1 0 -2.2 0zM210.4 690.4a1.1 1.1 0 1 0 2.2 0a1.1 1.1 0 1 0 -2.2 0zM209.8 690L210.7 690L211.1 692.5L209.4 692.5zM216.2 688.8a1.1 1.1 0 1 0 2.2 0a1.1 1.1 0 1 0 -2.2 0zM215 690.4a1.1 1.1 0 1 0 2.2 0a1.1 1.1 0 1 0 -2.2 0zM217.5 690.4a1.1 1.1 0 1 0 2.2 0a1.1 1.1 0 1 0 -2.2 0zM216.8 690L217.8 690L218.1 692.5L216.5 692.5zM223.3 688.8a1.1 1.1 0 1 0 2.2 0a1.1 1.1 0 1 0 -2.2 0zM222 690.4a1.1 1.1 0 1 0 2.2 0a1.1 1.1 0 1 0 -2.2 0zM224.5 690.4a1.1 1.1 0 1 0 2.2 0a1.1 1.1 0 1 0 -2.2 0zM223.9 690L224.8 690L225.2 692.5L223.5 692.5zM230.3 688.8a1.1 1.1 0 1 0 2.2 0a1.1 1.1 0 1 0 -2.2 0zM229.1 690.4a1.1 1.1 0 1 0 2.2 0a1.1 1.1 0 1 0 -2.2 0zM231.6 690.4a1.1 1.1 0 1 0 2.2 0a1.1 1.1 0 1 0 -2.2 0zM230.9 690L231.9 690L232.2 692.5L230.6 692.5zM237.4 688.8a1.1 1.1 0 1 0 2.2 0a1.1 1.1 0 1 0 -2.2 0zM236.1 690.4a1.1 1.1 0 1 0 2.2 0a1.1 1.1 0 1 0 -2.2 0zM238.6 690.4a1.1 1.1 0 1 0 2.2 0a1.1 1.1 0 1 0 -2.2 0zM238 690L238.9 690L239.3 692.5L237.6 692.5zM244.4 688.8a1.1 1.1 0 1 0 2.2 0a1.1 1.1 0 1 0 -2.2 0zM243.2 690.4a1.1 1.1 0 1 0 2.2 0a1.1 1.1 0 1 0 -2.2 0zM245.7 690.4a1.1 1.1 0 1 0 2.2 0a1.1 1.1 0 1 0 -2.2 0zM245 690L246 690L246.3 692.5L244.7 692.5zM251.5 688.8a1.1 1.1 0 1 0 2.2 0a1.1 1.1 0 1 0 -2.2 0zM250.2 690.4a1.1 1.1 0 1 0 2.2 0a1.1 1.1 0 1 0 -2.2 0zM252.7 690.4a1.1 1.1 0 1 0 2.2 0a1.1 1.1 0 1 0 -2.2 0zM252.1 690L253 690L253.4 692.5L251.7 692.5zM258.5 688.8a1.1 1.1 0 1 0 2.2 0a1.1 1.1 0 1 0 -2.2 0zM257.3 690.4a1.1 1.1 0 1 0 2.2 0a1.1 1.1 0 1 0 -2.2 0zM259.8 690.4a1.1 1.1 0 1 0 2.2 0a1.1 1.1 0 1 0 -2.2 0zM259.1 690L260.1 690L260.4 692.5L258.8 692.5z" fill="#996633" opacity="1.0"/>
<path d="M33.2 637.8L35.7 643.8L38.3 650.1L40.8 656.3L43.4 661.5L45.9 666.2L48.5 670.6L51 675L53.5 678.5L56.1 681L58.6 683L61.2 684.6L63.7 685.9L66.3 686.8L68.8 687.5L71.3 688.1L73.9 688.4L76.4 688.7L79 688.9L81.5 689.1L84.1 689.2L86.6 689.3L89.1 689.3L91.7 689.3L94.2 689.3L96.8 689.3L99.3 689.3L101.9 689.3L104.4 689.3L107 689.3L109.5 689.3L112 689.3L114.6 689.3L117.1 689.3L119.7 689.4L122.2 689.4L124.8 689.4L127.3 689.4L129.8 689.4L132.4 689.4L134.9 689.4L137.5 689.4L140 689.4L142.6 689.4L145.1 689.4L147.6 689.4L150.2 689.4L152.7 689.4L155.3 689.4L157.8 689.4L160.4 689.4L162.9 689.4L165.4 689.4L168 689.4L170.5 689.4L173.1 689.4L175.6 689.4L178.2 689.4L180.7 689.4L183.2 689.4L185.8 689.4L188.3 689.4L190.9 689.4L193.4 689.4L196 689.4L198.5 689.4L201 689.4L203.6 689.4L206.1 689.4L208.7 689.4L211.2 689.4L213.8 689.4L216.3 689.4L218.8 689.4L221.4 689.4L223.9 689.4L226.5 689.4L229 689.4L231.6 689.4L234.1 689.4L236.6 689.4L239.2 689.4L241.7 689.4L244.3 689.4L246.8 689.4L249.4 689.4L251.9 689.4L254.5 689.4L257 689.4L259.5 689.4" stroke="#0000ff" stroke-width="1.3" fill="none" stroke-linejoin="round"/>
<path d="M34 642.3L31.6 639.4A1.2 1.2 0 0 1 34 638.5A1.2 1.2 0 0 1 36.4 639.4zM41 659.4L38.6 656.5A1.2 1.2 0 0 1 41 655.6A1.2 1.2 0 0 1 43.4 656.5zM48.1 672.7L45.7 669.8A1.2 1.2 0 0 1 48.1 668.8A1.2 1.2 0 0 1 50.5 669.8zM55.1 682.8L52.8 679.9A1.2 1.2 0 0 1 55.1 679A1.2 1.2 0 0 1 57.5 679.9zM62.2 687.8L59.8 684.9A1.2 1.2 0 0 1 62.2 683.9A1.2 1.2 0 0 1 64.6 684.9zM69.2 690.3L66.8 687.4A1.2 1.2 0 0 1 69.2 686.4A1.2 1.2 0 0 1 71.7 687.4zM76.3 691.3L73.9 688.4A1.2 1.2 0 0 1 76.3 687.4A1.2 1.2 0 0 1 78.7 688.4zM83.3 691.8L80.9 688.9A1.2 1.2 0 0 1 83.3 688A1.2 1.2 0 0 1 85.8 688.9zM90.4 691.9L88 689.1A1.2 1.2 0 0 1 90.4 688.1A1.2 1.2 0 0 1 92.8 689.1zM97.4 692L95 689.1A1.2 1.2 0 0 1 97.4 688.1A1.2 1.2 0 0 1 99.8 689.1zM104.5 692L102.1 689.1A1.2 1.2 0 0 1 104.5 688.1A1.2 1.2 0 0 1 106.9 689.1zM111.5 692L109.1 689.1A1.2 1.2 0 0 1 111.5 688.1A1.2 1.2 0 0 1 114 689.1zM118.6 692L116.2 689.1A1.2 1.2 0 0 1 118.6 688.2A1.2 1.2 0 0 1 121 689.1zM125.6 692L123.2 689.1A1.2 1.2 0 0 1 125.6 688.2A1.2 1.2 0 0 1 128 689.1zM132.7 692L130.3 689.1A1.2 1.2 0 0 1 132.7 688.2A1.2 1.2 0 0 1 135.1 689.1zM139.8 692L137.3 689.1A1.2 1.2 0 0 1 139.8 688.2A1.2 1.2 0 0 1 142.2 689.1zM146.8 692L144.4 689.1A1.2 1.2 0 0 1 146.8 688.2A1.2 1.2 0 0 1 149.2 689.1zM153.8 692L151.4 689.2A1.2 1.2 0 0 1 153.8 688.2A1.2 1.2 0 0 1 156.2 689.2zM160.9 692L158.5 689.2A1.2 1.2 0 0 1 160.9 688.2A1.2 1.2 0 0 1 163.3 689.2zM167.9 692L165.5 689.2A1.2 1.2 0 0 1 167.9 688.2A1.2 1.2 0 0 1 170.3 689.2zM175 692.1L172.6 689.2A1.2 1.2 0 0 1 175 688.2A1.2 1.2 0 0 1 177.4 689.2zM182 692.1L179.6 689.2A1.2 1.2 0 0 1 182 688.2A1.2 1.2 0 0 1 184.4 689.2zM189.1 692.1L186.7 689.2A1.2 1.2 0 0 1 189.1 688.2A1.2 1.2 0 0 1 191.5 689.2zM196.2 692.1L193.8 689.2A1.2 1.2 0 0 1 196.2 688.2A1.2 1.2 0 0 1 198.6 689.2zM203.2 692.1L200.8 689.2A1.2 1.2 0 0 1 203.2 688.2A1.2 1.2 0 0 1 205.6 689.2zM210.2 692.1L207.8 689.2A1.2 1.2 0 0 1 210.2 688.2A1.2 1.2 0 0 1 212.7 689.2zM217.3 692.1L214.9 689.2A1.2 1.2 0 0 1 217.3 688.2A1.2 1.2 0 0 1 219.7 689.2zM224.3 692.1L221.9 689.2A1.2 1.2 0 0 1 224.3 688.2A1.2 1.2 0 0 1 226.8 689.2zM231.4 692.1L229 689.2A1.2 1.2 0 0 1 231.4 688.2A1.2 1.2 0 0 1 233.8 689.2zM238.4 692.1L236 689.2A1.2 1.2 0 0 1 238.4 688.2A1.2 1.2 0 0 1 240.8 689.2zM245.5 692.1L243.1 689.2A1.2 1.2 0 0 1 245.5 688.2A1.2 1.2 0 0 1 247.9 689.2zM252.5 692.1L250.1 689.2A1.2 1.2 0 0 1 252.5 688.2A1.2 1.2 0 0 1 254.9 689.2zM259.6 692.1L257.2 689.2A1.2 1.2 0 0 1 259.6 688.2A1.2 1.2 0 0 1 262 689.2z" fill="#0000ff" opacity="1.0"/>
<path d="M33.2 644.1L35.7 650.3L38.3 655.6L40.8 659.9L43.4 663.6L45.9 667L48.5 670.1L51 673L53.5 675.8L56.1 678.1L58.6 679.7L61.2 680.9L63.7 681.9L66.3 682.8L68.8 683.6L71.3 684.1L73.9 684.3L76.4 684.5L79 684.6L81.5 684.7L84.1 684.8L86.6 684.9L89.1 684.9L91.7 685L94.2 685L96.8 685L99.3 685.1L101.9 685.1L104.4 685.1L107 685.2L109.5 685.2L112 685.2L114.6 685.3L117.1 685.3L119.7 685.3L122.2 685.3L124.8 685.4L127.3 685.4L129.8 685.4L132.4 685.4L134.9 685.5L137.5 685.5L140 685.5L142.6 685.5L145.1 685.6L147.6 685.6L150.2 685.6L152.7 685.6L155.3 685.7L157.8 685.7L160.4 685.7L162.9 685.7L165.4 685.7L168 685.8L170.5 685.8L173.1 685.8L175.6 685.8L178.2 685.8L180.7 685.9L183.2 685.9L185.8 685.9L188.3 685.9L190.9 685.9L193.4 686L196 686L198.5 686L201 686L203.6 686L206.1 686L208.7 686L211.2 686.1L213.8 686.1L216.3 686.1L218.8 686.1L221.4 686.1L223.9 686.1L226.5 686.1L229 686.1L231.6 686.1L234.1 686.2L236.6 686.2L239.2 686.2L241.7 686.2L244.3 686.2L246.8 686.2L249.4 686.2L251.9 686.2L254.5 686.2L257 686.2L259.5 686.2" stroke="#00ff00" stroke-width="1.3" fill="none" stroke-linejoin="round"/>
<path d="M34 643.4L36.4 646.3A1.2 1.2 0 0 1 34.2 647.2L34.8 648.7L33.2 648.7L33.8 647.2A1.2 1.2 0 0 1 31.6 646.3zM41 657.5L43.4 660.4A1.2 1.2 0 0 1 41.3 661.3L41.9 662.8L40.2 662.8L40.8 661.3A1.2 1.2 0 0 1 38.6 660.4zM48.1 666.9L50.5 669.8A1.2 1.2 0 0 1 48.3 670.7L48.9 672.2L47.3 672.2L47.9 670.7A1.2 1.2 0 0 1 45.7 669.8zM55.1 674.6L57.5 677.5A1.2 1.2 0 0 1 55.4 678.5L56 679.9L54.3 679.9L54.9 678.5A1.2 1.2 0 0 1 52.8 677.5zM62.2 678.5L64.6 681.4A1.2 1.2 0 0 1 62.4 682.4L63 683.8L61.4 683.8L62 682.4A1.2 1.2 0 0 1 59.8 681.4zM69.2 681L71.7 683.9A1.2 1.2 0 0 1 69.5 684.8L70.1 686.3L68.4 686.3L69 684.8A1.2 1.2 0 0 1 66.8 683.9zM76.3 681.7L78.7 684.6A1.2 1.2 0 0 1 76.5 685.6L77.1 687L75.5 687L76.1 685.6A1.2 1.2 0 0 1 73.9 684.6zM83.3 682L85.8 684.9A1.2 1.2 0 0 1 83.6 685.9L84.2 687.3L82.5 687.3L83.1 685.9A1.2 1.2 0 0 1 80.9 684.9zM90.4 682.2L92.8 685.1A1.2 1.2 0 0 1 90.6 686L91.2 687.5L89.6 687.5L90.2 686A1.2 1.2 0 0 1 88 685.1zM97.4 682.3L99.8 685.2A1.2 1.2 0 0 1 97.7 686.1L98.3 687.6L96.6 687.6L97.2 686.1A1.2 1.2 0 0 1 95 685.2zM104.5 682.4L106.9 685.3A1.2 1.2 0 0 1 104.7 686.2L105.3 687.7L103.7 687.7L104.3 686.2A1.2 1.2 0 0 1 102.1 685.3zM111.5 682.5L114 685.3A1.2 1.2 0 0 1 111.8 686.3L112.4 687.7L110.7 687.7L111.3 686.3A1.2 1.2 0 0 1 109.1 685.3zM118.6 682.5L121 685.4A1.2 1.2 0 0 1 118.8 686.4L119.4 687.8L117.8 687.8L118.4 686.4A1.2 1.2 0 0 1 116.2 685.4zM125.6 682.6L128 685.5A1.2 1.2 0 0 1 125.9 686.5L126.5 687.9L124.8 687.9L125.4 686.5A1.2 1.2 0 0 1 123.2 685.5zM132.7 682.7L135.1 685.6A1.2 1.2 0 0 1 132.9 686.5L133.5 688L131.9 688L132.5 686.5A1.2 1.2 0 0 1 130.3 685.6zM139.8 682.8L142.2 685.6A1.2 1.2 0 0 1 140 686.6L140.6 688L138.9 688L139.5 686.6A1.2 1.2 0 0 1 137.3 685.6zM146.8 682.8L149.2 685.7A1.2 1.2 0 0 1 147 686.7L147.6 688.1L146 688.1L146.6 686.7A1.2 1.2 0 0 1 144.4 685.7zM153.8 682.9L156.2 685.8A1.2 1.2 0 0 1 154.1 686.7L154.7 688.2L153 688.2L153.6 686.7A1.2 1.2 0 0 1 151.4 685.8zM160.9 682.9L163.3 685.8A1.2 1.2 0 0 1 161.1 686.8L161.7 688.2L160.1 688.2L160.7 686.8A1.2 1.2 0 0 1 158.5 685.8zM167.9 683L170.3 685.9A1.2 1.2 0 0 1 168.2 686.8L168.8 688.3L167.1 688.3L167.7 686.8A1.2 1.2 0 0 1 165.5 685.9zM175 683.1L177.4 685.9A1.2 1.2 0 0 1 175.2 686.9L175.8 688.3L174.2 688.3L174.8 686.9A1.2 1.2 0 0 1 172.6 685.9zM182 683.1L184.4 686A1.2 1.2 0 0 1 182.3 687L182.9 688.4L181.2 688.4L181.8 687A1.2 1.2 0 0 1 179.6 686zM189.1 683.2L191.5 686A1.2 1.2 0 0 1 189.3 687L189.9 688.4L188.3 688.4L188.9 687A1.2 1.2 0 0 1 186.7 686zM196.2 683.2L198.6 686.1A1.2 1.2 0 0 1 196.4 687.1L197 688.5L195.3 688.5L195.9 687.1A1.2 1.2 0 0 1 193.8 686.1zM203.2 683.3L205.6 686.1A1.2 1.2 0 0 1 203.4 687.1L204 688.5L202.4 688.5L203 687.1A1.2 1.2 0 0 1 200.8 686.1zM210.2 683.3L212.7 686.2A1.2 1.2 0 0 1 210.5 687.1L211.1 688.6L209.4 688.6L210 687.1A1.2 1.2 0 0 1 207.8 686.2zM217.3 683.3L219.7 686.2A1.2 1.2 0 0 1 217.5 687.2L218.1 688.6L216.5 688.6L217.1 687.2A1.2 1.2 0 0 1 214.9 686.2zM224.3 683.4L226.8 686.2A1.2 1.2 0 0 1 224.6 687.2L225.2 688.6L223.5 688.6L224.1 687.2A1.2 1.2 0 0 1 221.9 686.2zM231.4 683.4L233.8 686.3A1.2 1.2 0 0 1 231.6 687.2L232.2 688.7L230.6 688.7L231.2 687.2A1.2 1.2 0 0 1 229 686.3zM238.4 683.4L240.8 686.3A1.2 1.2 0 0 1 238.7 687.2L239.3 688.7L237.6 688.7L238.2 687.2A1.2 1.2 0 0 1 236 686.3zM245.5 683.4L247.9 686.3A1.2 1.2 0 0 1 245.7 687.3L246.3 688.7L244.7 688.7L245.3 687.3A1.2 1.2 0 0 1 243.1 686.3zM252.5 683.4L254.9 686.3A1.2 1.2 0 0 1 252.8 687.3L253.4 688.7L251.7 688.7L252.3 687.3A1.2 1.2 0 0 1 250.1 686.3zM259.6 683.4L262 686.3A1.2 1.2 0 0 1 259.8 687.3L260.4 688.7L258.8 688.7L259.4 687.3A1.2 1.2 0 0 1 257.2 686.3z" fill="#00ff00" opacity="1.0"/>
<path d="M33.2 682.1L35.7 681.2L38.3 680.3L40.8 679.5L43.4 678.6L45.9 677.8L48.5 677L51 676.3L53.5 675.5L56.1 674.8L58.6 674L61.2 673.1L63.7 672.2L66.3 671.3L68.8 670.3L71.3 669.4L73.9 668.6L76.4 667.8L79 667L81.5 666.3L84.1 665.6L86.6 664.9L89.1 664.1L91.7 663.3L94.2 662.5L96.8 661.8L99.3 661L101.9 660.2L104.4 659.5L107 658.8L109.5 658.1L112 657.3L114.6 656.6L117.1 655.9L119.7 655.2L122.2 654.5L124.8 653.9L127.3 653.2L129.8 652.5L132.4 651.8L134.9 651.2L137.5 650.5L140 649.8L142.6 649.2L145.1 648.5L147.6 647.9L150.2 647.2L152.7 646.6L155.3 645.9L157.8 645.3L160.4 644.6L162.9 644L165.4 643.3L168 642.7L170.5 642.1L173.1 641.4L175.6 640.8L178.2 640.2L180.7 639.6L183.2 639L185.8 638.4L188.3 637.8L190.9 637.2L193.4 636.7L196 636.1L198.5 635.5L201 635L203.6 634.4L206.1 633.9L208.7 633.4L211.2 632.8L213.8 632.3L216.3 631.8L218.8 631.3L221.4 630.7L223.9 630.2L226.5 629.7L229 629.2L231.6 628.7L234.1 628.2L236.6 627.8L239.2 627.3L241.7 626.8L244.3 626.3L246.8 625.9L249.4 625.4L251.9 625L254.5 624.5L257 624.1L259.5 623.6" stroke="#800080" stroke-width="1.3" fill="none" stroke-linejoin="round"/>
<path d="M32.4 679.4h3.3v4.8h-3.3zM39.4 677h3.3v4.8h-3.3zM46.5 674.7h3.3v4.8h-3.3zM53.5 672.6h3.3v4.8h-3.3zM60.6 670.3h3.3v4.8h-3.3zM67.6 667.8h3.3v4.8h-3.3zM74.6 665.4h3.3v4.8h-3.3zM81.7 663.4h3.3v4.8h-3.3zM88.8 661.3h3.3v4.8h-3.3zM95.8 659.1h3.3v4.8h-3.3zM102.8 657.1h3.3v4.8h-3.3zM109.9 655.1h3.3v4.8h-3.3zM116.9 653.1h3.3v4.8h-3.3zM124 651.2h3.3v4.8h-3.3zM131 649.3h3.3v4.8h-3.3zM138.1 647.5h3.3v4.8h-3.3zM145.2 645.7h3.3v4.8h-3.3zM152.2 643.8h3.3v4.8h-3.3zM159.2 642.1h3.3v4.8h-3.3zM166.3 640.3h3.3v4.8h-3.3zM173.3 638.5h3.3v4.8h-3.3zM180.4 636.9h3.3v4.8h-3.3zM187.4 635.2h3.3v4.8h-3.3zM194.5 633.6h3.3v4.8h-3.3zM201.5 632.1h3.3v4.8h-3.3zM208.6 630.6h3.3v4.8h-3.3zM215.6 629.2h3.3v4.8h-3.3zM222.7 627.7h3.3v4.8h-3.3zM229.8 626.3h3.3v4.8h-3.3zM236.8 625h3.3v4.8h-3.3zM243.8 623.7h3.3v4.8h-3.3zM250.9 622.4h3.3v4.8h-3.3zM258 621.2h3.3v4.8h-3.3z" fill="#800080" opacity="1.0"/>
<path d="M33.2 651.6L35.7 651.2L38.3 650.6L40.8 650.1L43.4 649.4L45.9 648.8L48.5 647.9L51 647L53.5 646.1L56.1 645.1L58.6 644.2L61.2 643.3L63.7 642.4L66.3 641.4L68.8 640.5L71.3 639.6L73.9 638.8L76.4 638L79 637.2L81.5 636.5L84.1 635.7L86.6 635L89.1 634.2L91.7 633.5L94.2 632.7L96.8 631.9L99.3 631.1L101.9 630.3L104.4 629.4L107 628.4L109.5 627.4L112 626.4L114.6 625.4L117.1 624.3L119.7 623.2L122.2 622.1L124.8 621L127.3 619.9L129.8 618.9L132.4 617.8L134.9 616.8L137.5 615.7L140 614.7L142.6 613.7L145.1 612.7L147.6 611.7L150.2 610.7L152.7 609.7L155.3 608.7L157.8 607.7L160.4 606.7L162.9 605.7L165.4 604.7L168 603.7L170.5 602.7L173.1 601.7L175.6 600.7L178.2 599.7L180.7 598.7L183.2 597.7L185.8 596.7L188.3 595.7L190.9 594.7L193.4 593.7L196 592.7L198.5 591.7L201 590.7L203.6 589.6L206.1 588.6L208.7 587.6L211.2 586.5L213.8 585.5L216.3 584.5L218.8 583.4L221.4 582.4L223.9 581.3L226.5 580.3L229 579.3L231.6 578.2L234.1 577.2L236.6 576.1L239.2 575.1L241.7 574L244.3 573L246.8 571.9L249.4 570.8L251.9 569.8L254.5 568.7L257 567.7L259.5 566.6" stroke="#ff00ff" stroke-width="1.3" fill="none" stroke-linejoin="round"/>
<path d="M34 654.1L36.4 649.8L31.6 649.8zM41 652.7L43.4 648.3L38.6 648.3zM48.1 650.7L50.5 646.4L45.7 646.4zM55.1 648.1L57.5 643.8L52.8 643.8zM62.2 645.6L64.6 641.2L59.8 641.2zM69.2 643L71.7 638.7L66.8 638.7zM76.3 640.7L78.7 636.4L73.9 636.4zM83.3 638.6L85.8 634.3L80.9 634.3zM90.4 636.5L92.8 632.2L88 632.2zM97.4 634.4L99.8 630L95 630zM104.5 632L106.9 627.7L102.1 627.7zM111.5 629.3L114 624.9L109.1 624.9zM118.6 626.3L121 622L116.2 622zM125.6 623.3L128 619L123.2 619zM132.7 620.3L135.1 616L130.3 616zM139.8 617.5L142.2 613.1L137.3 613.1zM146.8 614.7L149.2 610.3L144.4 610.3zM153.8 611.9L156.2 607.6L151.4 607.6zM160.9 609.1L163.3 604.8L158.5 604.8zM167.9 606.4L170.3 602.1L165.5 602.1zM175 603.6L177.4 599.3L172.6 599.3zM182 600.9L184.4 596.5L179.6 596.5zM189.1 598.1L191.5 593.8L186.7 593.8zM196.2 595.3L198.6 590.9L193.8 590.9zM203.2 592.4L205.6 588.1L200.8 588.1zM210.2 589.6L212.7 585.3L207.8 585.3zM217.3 586.7L219.7 582.4L214.9 582.4zM224.3 583.8L226.8 579.5L221.9 579.5zM231.4 580.9L233.8 576.6L229 576.6zM238.4 578L240.8 573.7L236 573.7zM245.5 575.1L247.9 570.8L243.1 570.8zM252.5 572.2L254.9 567.8L250.1 567.8zM259.6 569.2L262 564.9L257.2 564.9z" fill="#ff00ff" opacity="1.0"/>
<rect x="194" y="565.8" width="42.3" height="100.5" fill="#fff" stroke="#555" stroke-width="1"/>
<path d="M199.3 573.3h3.8v3.8h-3.8z" fill="#000000"/>
<text x="217.7" y="577.8" class="li" fill="#000" font-size="10">q</text>
<path d="M198.4 584.9a2.8 2.8 0 1 0 5.6 0a2.8 2.8 0 1 0 -5.6 0z" fill="#ff0000"/>
<text x="217.7" y="587.4" text-anchor="middle" fill="#ff0000" font-size="8" font-family='"Liberation Sans", sans-serif'>m</text>
<path d="M201.2 591L203.7 595.5L198.7 595.5z" fill="#606060"/>
<text x="217.7" y="592.2" text-anchor="middle" fill="#aaa" font-size="4.8" font-family='"Liberation Serif", serif' font-style="italic">γ · (P−W)</text>
<path d="M206.7 594H228.7" stroke="#b0b0b0" stroke-width="0.6"/>
<path d="M201.2 601.8L202.1 604L204.5 604.2L202.7 605.8L203.3 608.1L201.2 606.9L199.1 608.1L199.7 605.8L197.9 604.2L200.3 604z" fill="#00ffff"/>
<text x="217.7" y="602.7" text-anchor="middle" fill="#c8a0a0" font-size="5" font-family='"Liberation Sans", sans-serif'>^</text>
<text x="217.7" y="608.3" text-anchor="middle" fill="#00ffff" font-size="9.5" font-family='"Liberation Sans", sans-serif' font-style="italic">c</text>
<path d="M201.2 611.6L203.8 614.2L201.2 616.8L198.6 614.2z" fill="#ff8000"/>
<text x="217.7" y="616.6" text-anchor="middle" fill="#ff8000" font-size="9" font-family='"Liberation Sans", sans-serif' font-style="italic">g</text>
<path d="M200 620.5a1.2 1.2 0 1 0 2.3 0a1.2 1.2 0 1 0 -2.3 0zM198.7 622.2a1.2 1.2 0 1 0 2.3 0a1.2 1.2 0 1 0 -2.3 0zM201.4 622.2a1.2 1.2 0 1 0 2.3 0a1.2 1.2 0 1 0 -2.3 0zM200.7 621.8L201.7 621.8L202.1 624.5L200.3 624.5z" fill="#996633"/>
<text x="217.7" y="624.4" text-anchor="middle" fill="#996633" font-size="9" font-family='"Liberation Sans", sans-serif' font-style="italic">o</text>
<path d="M201.2 633L198.7 630A1.3 1.3 0 0 1 201.2 629A1.3 1.3 0 0 1 203.7 630z" fill="#0000ff"/>
<text x="217.7" y="632.6" text-anchor="middle" fill="#0000ff" font-size="8.6" font-family='"Liberation Serif", serif' font-style="italic" font-weight="bold">L<tspan font-size="6.2" dy="1.8">q</tspan></text>
<path d="M201.2 636.7L203.7 639.7A1.2 1.2 0 0 1 201.4 640.7L202.1 642.2L200.3 642.2L200.9 640.7A1.2 1.2 0 0 1 198.7 639.7z" fill="#00ff00"/>
<text x="217.7" y="642" text-anchor="middle" fill="#00ff00" font-size="8.6" font-family='"Liberation Serif", serif' font-style="italic" font-weight="bold">L<tspan font-size="6.2" dy="1.8">a</tspan></text>
<path d="M199.6 646.2h3.2v4.6h-3.2z" fill="#800080"/>
<text x="217.7" y="651.5" text-anchor="middle" fill="#800080" font-size="8.6" font-family='"Liberation Serif", serif' font-weight="bold">10<tspan font-style="italic" font-weight="normal" fill="#d080d0">ϕ</tspan></text>
<path d="M201.2 660.1L203.7 655.6L198.7 655.6z" fill="#ff00ff"/>
<text x="217.7" y="660" text-anchor="middle" fill="#ff00ff" font-size="9.5" font-family='"Liberation Sans", sans-serif' font-style="italic">u</text>
<text x="254.6" y="580.6" text-anchor="middle" class="t" textLength="8" lengthAdjust="spacingAndGlyphs">e1</text>
<path d="M314.5 591.7H537M314.5 621.4H537M314.5 680.8H537M344.2 565V702M374.9 565V702M405.7 565V702M436.4 565V702M467.1 565V702M497.8 565V702M528.5 565V702" stroke="#f2f2f2" stroke-width="0.8" fill="none"/>
<path d="M314.5 565V702" stroke="#d8d8d8" stroke-width="0.8" fill="none"/>
<path d="M314.5 651.1H537" stroke="#c0c0c0" stroke-width="0.9" fill="none"/>
<path d="M314.8 567V702" stroke="#3a3a3a" stroke-width="1.5" stroke-dasharray="2.3 4.2" fill="none"/>
<text x="311.8" y="594.7" text-anchor="end" class="t" textLength="22.9" lengthAdjust="spacingAndGlyphs">40 000</text>
<text x="311.8" y="624.4" text-anchor="end" class="t" textLength="22.9" lengthAdjust="spacingAndGlyphs">20 000</text>
<text x="311.8" y="654.1" text-anchor="end" class="t" textLength="4.4" lengthAdjust="spacingAndGlyphs">0</text>
<text x="311.8" y="683.8" text-anchor="end" class="t" textLength="25.8" lengthAdjust="spacingAndGlyphs">-20 000</text>
<text x="344.2" y="660.5" text-anchor="middle" class="t" textLength="11.0" lengthAdjust="spacingAndGlyphs">0.5</text>
<text x="374.9" y="660.5" text-anchor="middle" class="t" textLength="11.0" lengthAdjust="spacingAndGlyphs">1.0</text>
<text x="405.7" y="660.5" text-anchor="middle" class="t" textLength="11.0" lengthAdjust="spacingAndGlyphs">1.5</text>
<text x="436.4" y="660.5" text-anchor="middle" class="t" textLength="11.0" lengthAdjust="spacingAndGlyphs">2.0</text>
<text x="467.1" y="660.5" text-anchor="middle" class="t" textLength="11.0" lengthAdjust="spacingAndGlyphs">2.5</text>
<text x="497.8" y="660.5" text-anchor="middle" class="t" textLength="11.0" lengthAdjust="spacingAndGlyphs">3.0</text>
<text x="528.5" y="660.5" text-anchor="middle" class="t" textLength="11.0" lengthAdjust="spacingAndGlyphs">3.5</text>
<text x="511.9" y="660" text-anchor="middle" fill="#333" font-size="9.5" font-family='"Liberation Serif", serif' font-style="italic">l<tspan font-size="6.5" dy="2">g</tspan></text>
<path d="M314.5 629.5L317 632.6L319.4 635.2L321.9 637.4L324.3 639.3L326.8 641.1L329.3 643L331.7 644.8L334.2 646.2L336.6 647.3L339.1 648.2L341.6 648.8L344 649.3L346.5 649.8L348.9 650.1L351.4 650.2L353.9 650.3L356.3 650.3L358.8 650.4L361.3 650.4L363.7 650.4L366.2 650.5L368.6 650.5L371.1 650.5L373.6 650.5L376 650.5L378.5 650.5L380.9 650.5L383.4 650.5L385.9 650.5L388.3 650.5L390.8 650.5L393.2 650.5L395.7 650.5L398.2 650.5L400.6 650.5L403.1 650.5L405.5 650.5L408 650.5L410.5 650.5L412.9 650.5L415.4 650.5L417.8 650.5L420.3 650.5L422.8 650.5L425.2 650.6L427.7 650.6L430.1 650.6L432.6 650.6L435.1 650.6L437.5 650.6L440 650.6L442.4 650.6L444.9 650.6L447.4 650.6L449.8 650.6L452.3 650.6L454.8 650.6L457.2 650.6L459.7 650.6L462.1 650.6L464.6 650.6L467.1 650.6L469.5 650.6L472 650.6L474.4 650.6L476.9 650.6L479.4 650.6L481.8 650.6L484.3 650.6L486.7 650.6L489.2 650.6L491.7 650.6L494.1 650.6L496.6 650.6L499 650.6L501.5 650.6L504 650.6L506.4 650.6L508.9 650.6L511.3 650.6L513.8 650.6L516.3 650.6L518.7 650.6L521.2 650.6L523.6 650.6L526.1 650.6L528.6 650.6L531 650.6L533.5 650.6" stroke="#000" stroke-width="2.0" fill="none" stroke-linejoin="round"/>
<path d="M313.1 629h2.9v2.9h-2.9zM319.9 636.5h2.9v2.9h-2.9zM326.7 641.7h2.9v2.9h-2.9zM333.6 646.2h2.9v2.9h-2.9zM340.4 648.4h2.9v2.9h-2.9zM347.2 649.6h2.9v2.9h-2.9zM354.1 649.9h2.9v2.9h-2.9zM360.9 650h2.9v2.9h-2.9zM367.8 650h2.9v2.9h-2.9zM374.6 650.1h2.9v2.9h-2.9zM381.4 650.1h2.9v2.9h-2.9zM388.3 650.1h2.9v2.9h-2.9zM395.1 650.1h2.9v2.9h-2.9zM402 650.1h2.9v2.9h-2.9zM408.8 650.1h2.9v2.9h-2.9zM415.7 650.1h2.9v2.9h-2.9zM422.5 650.1h2.9v2.9h-2.9zM429.3 650.1h2.9v2.9h-2.9zM436.2 650.1h2.9v2.9h-2.9zM443 650.1h2.9v2.9h-2.9zM449.9 650.1h2.9v2.9h-2.9zM456.7 650.1h2.9v2.9h-2.9zM463.5 650.1h2.9v2.9h-2.9zM470.4 650.1h2.9v2.9h-2.9zM477.2 650.1h2.9v2.9h-2.9zM484.1 650.1h2.9v2.9h-2.9zM490.9 650.1h2.9v2.9h-2.9zM497.7 650.1h2.9v2.9h-2.9zM504.6 650.1h2.9v2.9h-2.9zM511.4 650.1h2.9v2.9h-2.9zM518.2 650.1h2.9v2.9h-2.9zM525.1 650.1h2.9v2.9h-2.9zM531.9 650.1h2.9v2.9h-2.9z" stroke="#444" stroke-width="0.8" fill="none" opacity="0.85"/>
<path d="M314.5 632.4L317 635.1L319.4 637.4L321.9 639.3L324.3 640.9L326.8 642.5L329.3 644.1L331.7 645.7L334.2 646.9L336.6 647.9L339.1 648.7L341.6 649.1L344 649.4L346.5 649.5L348.9 649.6L351.4 649.7L353.9 649.8L356.3 649.8L358.8 649.9L361.3 649.9L363.7 649.9L366.2 650L368.6 650L371.1 650L373.6 650L376 650.1L378.5 650.1L380.9 650.1L383.4 650.1L385.9 650.1L388.3 650.1L390.8 650.1L393.2 650.1L395.7 650.1L398.2 650.2L400.6 650.2L403.1 650.2L405.5 650.2L408 650.2L410.5 650.2L412.9 650.2L415.4 650.2L417.8 650.2L420.3 650.2L422.8 650.2L425.2 650.2L427.7 650.3L430.1 650.3L432.6 650.3L435.1 650.3L437.5 650.3L440 650.3L442.4 650.3L444.9 650.3L447.4 650.3L449.8 650.3L452.3 650.3L454.8 650.3L457.2 650.3L459.7 650.3L462.1 650.3L464.6 650.3L467.1 650.3L469.5 650.4L472 650.4L474.4 650.4L476.9 650.4L479.4 650.4L481.8 650.4L484.3 650.4L486.7 650.4L489.2 650.4L491.7 650.4L494.1 650.4L496.6 650.4L499 650.4L501.5 650.4L504 650.4L506.4 650.4L508.9 650.4L511.3 650.4L513.8 650.4L516.3 650.4L518.7 650.4L521.2 650.4L523.6 650.4L526.1 650.4L528.6 650.4L531 650.4L533.5 650.4" stroke="#ff0000" stroke-width="2.0" fill="none" stroke-linejoin="round"/>
<path d="M312.2 633.4a2.3 2.3 0 1 0 4.6 0a2.3 2.3 0 1 0 -4.6 0zM319 639.9a2.3 2.3 0 1 0 4.6 0a2.3 2.3 0 1 0 -4.6 0zM325.9 644.4a2.3 2.3 0 1 0 4.6 0a2.3 2.3 0 1 0 -4.6 0zM332.7 648.3a2.3 2.3 0 1 0 4.6 0a2.3 2.3 0 1 0 -4.6 0zM339.6 650.1a2.3 2.3 0 1 0 4.6 0a2.3 2.3 0 1 0 -4.6 0zM346.4 650.6a2.3 2.3 0 1 0 4.6 0a2.3 2.3 0 1 0 -4.6 0zM353.2 650.8a2.3 2.3 0 1 0 4.6 0a2.3 2.3 0 1 0 -4.6 0zM360.1 650.9a2.3 2.3 0 1 0 4.6 0a2.3 2.3 0 1 0 -4.6 0zM366.9 651a2.3 2.3 0 1 0 4.6 0a2.3 2.3 0 1 0 -4.6 0zM373.8 651.1a2.3 2.3 0 1 0 4.6 0a2.3 2.3 0 1 0 -4.6 0zM380.6 651.1a2.3 2.3 0 1 0 4.6 0a2.3 2.3 0 1 0 -4.6 0zM387.4 651.1a2.3 2.3 0 1 0 4.6 0a2.3 2.3 0 1 0 -4.6 0zM394.3 651.2a2.3 2.3 0 1 0 4.6 0a2.3 2.3 0 1 0 -4.6 0zM401.1 651.2a2.3 2.3 0 1 0 4.6 0a2.3 2.3 0 1 0 -4.6 0zM408 651.2a2.3 2.3 0 1 0 4.6 0a2.3 2.3 0 1 0 -4.6 0zM414.8 651.2a2.3 2.3 0 1 0 4.6 0a2.3 2.3 0 1 0 -4.6 0zM421.6 651.2a2.3 2.3 0 1 0 4.6 0a2.3 2.3 0 1 0 -4.6 0zM428.5 651.3a2.3 2.3 0 1 0 4.6 0a2.3 2.3 0 1 0 -4.6 0zM435.3 651.3a2.3 2.3 0 1 0 4.6 0a2.3 2.3 0 1 0 -4.6 0zM442.2 651.3a2.3 2.3 0 1 0 4.6 0a2.3 2.3 0 1 0 -4.6 0zM449 651.3a2.3 2.3 0 1 0 4.6 0a2.3 2.3 0 1 0 -4.6 0zM455.8 651.3a2.3 2.3 0 1 0 4.6 0a2.3 2.3 0 1 0 -4.6 0zM462.7 651.3a2.3 2.3 0 1 0 4.6 0a2.3 2.3 0 1 0 -4.6 0zM469.5 651.4a2.3 2.3 0 1 0 4.6 0a2.3 2.3 0 1 0 -4.6 0zM476.4 651.4a2.3 2.3 0 1 0 4.6 0a2.3 2.3 0 1 0 -4.6 0zM483.2 651.4a2.3 2.3 0 1 0 4.6 0a2.3 2.3 0 1 0 -4.6 0zM490 651.4a2.3 2.3 0 1 0 4.6 0a2.3 2.3 0 1 0 -4.6 0zM496.9 651.4a2.3 2.3 0 1 0 4.6 0a2.3 2.3 0 1 0 -4.6 0zM503.7 651.4a2.3 2.3 0 1 0 4.6 0a2.3 2.3 0 1 0 -4.6 0zM510.6 651.4a2.3 2.3 0 1 0 4.6 0a2.3 2.3 0 1 0 -4.6 0zM517.4 651.4a2.3 2.3 0 1 0 4.6 0a2.3 2.3 0 1 0 -4.6 0zM524.2 651.4a2.3 2.3 0 1 0 4.6 0a2.3 2.3 0 1 0 -4.6 0zM531.1 651.4a2.3 2.3 0 1 0 4.6 0a2.3 2.3 0 1 0 -4.6 0z" stroke="#f03838" stroke-width="0.8" fill="none" opacity="0.85"/>
<path d="M314.5 651.1L317 651.2L319.4 651.3L321.9 651.4L324.3 651.5L326.8 651.6L329.3 651.7L331.7 651.9L334.2 652L336.6 652.1L339.1 652.2L341.6 652.3L344 652.5L346.5 652.6L348.9 652.7L351.4 652.9L353.9 653L356.3 653.2L358.8 653.4L361.3 653.5L363.7 653.7L366.2 653.9L368.6 654.1L371.1 654.2L373.6 654.4L376 654.5L378.5 654.7L380.9 654.8L383.4 654.9L385.9 654.9L388.3 655L390.8 655L393.2 655.1L395.7 655.1L398.2 655.2L400.6 655.2L403.1 655.2L405.5 655.3L408 655.3L410.5 655.3L412.9 655.4L415.4 655.4L417.8 655.4L420.3 655.5L422.8 655.5L425.2 655.5L427.7 655.5L430.1 655.5L432.6 655.5L435.1 655.6L437.5 655.6L440 655.6L442.4 655.6L444.9 655.6L447.4 655.6L449.8 655.6L452.3 655.6L454.8 655.6L457.2 655.6L459.7 655.6L462.1 655.6L464.6 655.6L467.1 655.6L469.5 655.6L472 655.6L474.4 655.6L476.9 655.7L479.4 655.7L481.8 655.7L484.3 655.7L486.7 655.7L489.2 655.7L491.7 655.7L494.1 655.7L496.6 655.7L499 655.7L501.5 655.7L504 655.7L506.4 655.7L508.9 655.7L511.3 655.7L513.8 655.7L516.3 655.7L518.7 655.7L521.2 655.7L523.6 655.7L526.1 655.7L528.6 655.7L531 655.7L533.5 655.7" stroke="#808080" stroke-width="2.0" fill="none" stroke-linejoin="round"/>
<path d="M314.5 650.1L316.3 653.4L312.7 653.4zM321.3 650.4L323.1 653.6L319.5 653.6zM328.2 650.7L330 654L326.4 654zM335 651L336.8 654.3L333.2 654.3zM341.9 651.4L343.7 654.6L340.1 654.6zM348.7 651.7L350.5 655L346.9 655zM355.5 652.1L357.3 655.4L353.7 655.4zM362.4 652.6L364.2 655.9L360.6 655.9zM369.2 653.1L371 656.4L367.4 656.4zM376.1 653.6L377.9 656.8L374.3 656.8zM382.9 653.9L384.7 657.1L381.1 657.1zM389.7 654L391.5 657.3L387.9 657.3zM396.6 654.1L398.4 657.4L394.8 657.4zM403.4 654.3L405.2 657.5L401.6 657.5zM410.3 654.4L412.1 657.6L408.5 657.6zM417.1 654.4L418.9 657.7L415.3 657.7zM423.9 654.5L425.7 657.7L422.1 657.7zM430.8 654.6L432.6 657.8L429 657.8zM437.6 654.6L439.4 657.8L435.8 657.8zM444.5 654.6L446.3 657.8L442.7 657.8zM451.3 654.6L453.1 657.9L449.5 657.9zM458.1 654.6L459.9 657.9L456.3 657.9zM465 654.6L466.8 657.9L463.2 657.9zM471.8 654.7L473.6 657.9L470 657.9zM478.7 654.7L480.5 657.9L476.9 657.9zM485.5 654.7L487.3 657.9L483.7 657.9zM492.3 654.7L494.1 657.9L490.5 657.9zM499.2 654.7L501 657.9L497.4 657.9zM506 654.7L507.8 658L504.2 658zM512.9 654.7L514.7 658L511.1 658zM519.7 654.7L521.5 658L517.9 658zM526.5 654.7L528.3 658L524.7 658zM533.4 654.7L535.2 658L531.6 658z" stroke="#a0a0a0" stroke-width="0.8" fill="none" opacity="0.85"/>
<path d="M314.5 628L317 621.7L319.4 616.5L321.9 612.5L324.3 609L326.8 605.9L329.3 603.1L331.7 600.6L334.2 598.2L336.6 596.1L339.1 594.6L341.6 593.4L344 592.3L346.5 591.5L348.9 590.8L351.4 590.5L353.9 590.3L356.3 590.1L358.8 590L361.3 589.8L363.7 589.7L366.2 589.6L368.6 589.6L371.1 589.5L373.6 589.5L376 589.5L378.5 589.5L380.9 589.5L383.4 589.5L385.9 589.5L388.3 589.5L390.8 589.5L393.2 589.5L395.7 589.5L398.2 589.5L400.6 589.5L403.1 589.5L405.5 589.5L408 589.5L410.5 589.5L412.9 589.5L415.4 589.5L417.8 589.5L420.3 589.5L422.8 589.5L425.2 589.5L427.7 589.5L430.1 589.5L432.6 589.5L435.1 589.5L437.5 589.5L440 589.5L442.4 589.5L444.9 589.5L447.4 589.5L449.8 589.5L452.3 589.5L454.8 589.5L457.2 589.5L459.7 589.5L462.1 589.5L464.6 589.5L467.1 589.5L469.5 589.5L472 589.5L474.4 589.5L476.9 589.5L479.4 589.5L481.8 589.5L484.3 589.5L486.7 589.5L489.2 589.5L491.7 589.5L494.1 589.5L496.6 589.5L499 589.5L501.5 589.5L504 589.5L506.4 589.5L508.9 589.5L511.3 589.5L513.8 589.5L516.3 589.5L518.7 589.5L521.2 589.5L523.6 589.5L526.1 589.5L528.6 589.5L531 589.5L533.5 589.5" stroke="#ff8000" stroke-width="2.0" fill="none" stroke-linejoin="round"/>
<path d="M314.5 626.9L316.6 629L314.5 631.1L312.4 629zM321.3 612.2L323.4 614.3L321.3 616.4L319.3 614.3zM328.2 603.2L330.2 605.2L328.2 607.3L326.1 605.2zM335 596.4L337.1 598.4L335 600.5L332.9 598.4zM341.9 592.2L343.9 594.3L341.9 596.3L339.8 594.3zM348.7 589.8L350.8 591.9L348.7 593.9L346.6 591.9zM355.5 589.1L357.6 591.2L355.5 593.2L353.5 591.2zM362.4 588.7L364.4 590.8L362.4 592.9L360.3 590.8zM369.2 588.5L371.3 590.5L369.2 592.6L367.2 590.5zM376.1 588.4L378.1 590.5L376.1 592.5L374 590.5zM382.9 588.4L385 590.5L382.9 592.5L380.8 590.5zM389.7 588.4L391.8 590.5L389.7 592.5L387.7 590.5zM396.6 588.4L398.6 590.5L396.6 592.5L394.5 590.5zM403.4 588.4L405.5 590.5L403.4 592.5L401.4 590.5zM410.3 588.4L412.3 590.5L410.3 592.5L408.2 590.5zM417.1 588.4L419.2 590.5L417.1 592.5L415 590.5zM423.9 588.4L426 590.5L423.9 592.5L421.9 590.5zM430.8 588.4L432.8 590.5L430.8 592.5L428.7 590.5zM437.6 588.4L439.7 590.5L437.6 592.5L435.6 590.5zM444.5 588.4L446.5 590.5L444.5 592.5L442.4 590.5zM451.3 588.4L453.4 590.5L451.3 592.5L449.2 590.5zM458.1 588.4L460.2 590.5L458.1 592.5L456.1 590.5zM465 588.4L467.1 590.5L465 592.5L462.9 590.5zM471.8 588.4L473.9 590.5L471.8 592.5L469.8 590.5zM478.7 588.4L480.7 590.5L478.7 592.5L476.6 590.5zM485.5 588.4L487.6 590.5L485.5 592.5L483.4 590.5zM492.3 588.4L494.4 590.5L492.3 592.5L490.3 590.5zM499.2 588.4L501.2 590.5L499.2 592.5L497.1 590.5zM506 588.4L508.1 590.5L506 592.5L503.9 590.5zM512.9 588.4L514.9 590.5L512.9 592.5L510.8 590.5zM519.7 588.4L521.8 590.5L519.7 592.5L517.6 590.5zM526.5 588.4L528.6 590.5L526.5 592.5L524.5 590.5zM533.4 588.4L535.5 590.5L533.4 592.5L531.3 590.5z" stroke="#ffa040" stroke-width="0.8" fill="none" opacity="0.85"/>
<path d="M314.5 627L317 626.4L319.4 625.7L321.9 625L324.3 624.3L326.8 623.7L329.3 623L331.7 622.3L334.2 621.6L336.6 620.9L339.1 620.3L341.6 619.6L344 618.9L346.5 618.2L348.9 617.6L351.4 616.9L353.9 616.2L356.3 615.5L358.8 614.8L361.3 614.2L363.7 613.5L366.2 612.8L368.6 612.1L371.1 611.5L373.6 610.8L376 610.1L378.5 609.4L380.9 608.8L383.4 608.1L385.9 607.4L388.3 606.7L390.8 606L393.2 605.4L395.7 604.7L398.2 604L400.6 603.3L403.1 602.7L405.5 602L408 601.3L410.5 600.6L412.9 599.9L415.4 599.3L417.8 598.6L420.3 597.9L422.8 597.2L425.2 596.6L427.7 595.9L430.1 595.2L432.6 594.5L435.1 593.8L437.5 593.2L440 592.5L442.4 591.8L444.9 591.1L447.4 590.5L449.8 589.8L452.3 589.1L454.8 588.4L457.2 587.8L459.7 587.1L462.1 586.4L464.6 585.7L467.1 585L469.5 584.4L472 583.7L474.4 583L476.9 582.3L479.4 581.7L481.8 581L484.3 580.3L486.7 579.6L489.2 578.9L491.7 578.3L494.1 577.6L496.6 576.9L499 576.2L501.5 575.6L504 574.9L506.4 574.2L508.9 573.5L511.3 572.8L513.8 572.2L516.3 571.5L518.7 570.8L521.2 570.1L523.6 569.5L526.1 568.8L528.6 568.1L531 567.4L533.5 566.8" stroke="#ff00ff" stroke-width="2.0" fill="none" stroke-linejoin="round"/>
<path d="M314.5 630L316.3 626.8L312.7 626.8zM321.3 628.1L323.1 624.9L319.5 624.9zM328.2 626.3L330 623L326.4 623zM335 624.4L336.8 621.1L333.2 621.1zM341.9 622.5L343.7 619.3L340.1 619.3zM348.7 620.6L350.5 617.4L346.9 617.4zM355.5 618.7L357.3 615.5L353.7 615.5zM362.4 616.8L364.2 613.6L360.6 613.6zM369.2 615L371 611.7L367.4 611.7zM376.1 613.1L377.9 609.8L374.3 609.8zM382.9 611.2L384.7 608L381.1 608zM389.7 609.3L391.5 606.1L387.9 606.1zM396.6 607.4L398.4 604.2L394.8 604.2zM403.4 605.5L405.2 602.3L401.6 602.3zM410.3 603.7L412.1 600.4L408.5 600.4zM417.1 601.8L418.9 598.5L415.3 598.5zM423.9 599.9L425.7 596.7L422.1 596.7zM430.8 598L432.6 594.8L429 594.8zM437.6 596.1L439.4 592.9L435.8 592.9zM444.5 594.2L446.3 591L442.7 591zM451.3 592.4L453.1 589.1L449.5 589.1zM458.1 590.5L459.9 587.2L456.3 587.2zM465 588.6L466.8 585.4L463.2 585.4zM471.8 586.7L473.6 583.5L470 583.5zM478.7 584.8L480.5 581.6L476.9 581.6zM485.5 582.9L487.3 579.7L483.7 579.7zM492.3 581.1L494.1 577.8L490.5 577.8zM499.2 579.2L501 575.9L497.4 575.9zM506 577.3L507.8 574.1L504.2 574.1zM512.9 575.4L514.7 572.2L511.1 572.2zM519.7 573.5L521.5 570.3L517.9 570.3zM526.5 571.6L528.3 568.4L524.7 568.4zM533.4 569.8L535.2 566.5L531.6 566.5z" stroke="#ff60ff" stroke-width="0.8" fill="none" opacity="0.85"/>
<path d="M314.5 647.6L317 647.6L319.4 647.6L321.9 647.6L324.3 647.7L326.8 647.7L329.3 647.8L331.7 647.8L334.2 647.9L336.6 648L339.1 648L341.6 648.1L344 648.2L346.5 648.3L348.9 648.4L351.4 648.6L353.9 648.8L356.3 649L358.8 649.3L361.3 649.6L363.7 650L366.2 650.4L368.6 650.8L371.1 651.2L373.6 651.6L376 652.1L378.5 652.6L380.9 653.1L383.4 653.7L385.9 654.4L388.3 655.1L390.8 656L393.2 656.9L395.7 657.9L398.2 659L400.6 660L403.1 661L405.5 662L408 663L410.5 664L412.9 665L415.4 666L417.8 667.1L420.3 668.1L422.8 669.1L425.2 670.1L427.7 671.2L430.1 672.2L432.6 673.2L435.1 674.2L437.5 675.2L440 676.3L442.4 677.3L444.9 678.3L447.4 679.3L449.8 680.3L452.3 681.3L454.8 682.2L457.2 683.1L459.7 684L462.1 684.8L464.6 685.6L467.1 686.4L469.5 687.2L472 687.9L474.4 688.7L476.9 689.4L479.4 690.1L481.8 690.8L484.3 691.4L486.7 692L489.2 692.6L491.7 693.2L494.1 693.8L496.6 694.3L499 694.9L501.5 695.4L504 695.9L506.4 696.4L508.9 696.9L511.3 697.3L513.8 697.8L516.3 698.2L518.7 698.7L521.2 699.1L523.6 699.5L526.1 699.9L528.6 700.3L531 700.6L533.5 701" stroke="#00aa00" stroke-width="2.0" fill="none" stroke-linejoin="round"/>
<path d="M312.8 648.6h3.4M314.5 646.9v3.4M319.6 648.6h3.4M321.3 646.9v3.4M326.5 648.7h3.4M328.2 647v3.4M333.3 648.9h3.4M335 647.2v3.4M340.2 649.1h3.4M341.9 647.4v3.4M347 649.4h3.4M348.7 647.7v3.4M353.8 649.9h3.4M355.5 648.2v3.4M360.7 650.8h3.4M362.4 649.1v3.4M367.5 651.9h3.4M369.2 650.2v3.4M374.4 653.1h3.4M376.1 651.4v3.4M381.2 654.6h3.4M382.9 652.9v3.4M388 656.6h3.4M389.7 654.9v3.4M394.9 659.3h3.4M396.6 657.6v3.4M401.7 662.2h3.4M403.4 660.5v3.4M408.6 664.9h3.4M410.3 663.2v3.4M415.4 667.7h3.4M417.1 666v3.4M422.2 670.6h3.4M423.9 668.9v3.4M429.1 673.4h3.4M430.8 671.7v3.4M435.9 676.3h3.4M437.6 674.6v3.4M442.8 679.1h3.4M444.5 677.4v3.4M449.6 681.9h3.4M451.3 680.2v3.4M456.4 684.4h3.4M458.1 682.7v3.4M463.3 686.7h3.4M465 685v3.4M470.1 688.9h3.4M471.8 687.2v3.4M477 690.9h3.4M478.7 689.2v3.4M483.8 692.7h3.4M485.5 691v3.4M490.6 694.4h3.4M492.3 692.7v3.4M497.5 695.9h3.4M499.2 694.2v3.4M504.3 697.3h3.4M506 695.6v3.4M511.2 698.6h3.4M512.9 696.9v3.4M518 699.8h3.4M519.7 698.1v3.4M524.8 701h3.4M526.5 699.3v3.4M531.7 702h3.4M533.4 700.3v3.4" stroke="#00aa00" stroke-width="0.8" fill="none" opacity="0.85"/>
<rect x="331.5" y="566.2" width="74.2" height="63.8" fill="#fff" stroke="#555" stroke-width="1"/>
<path d="M336.3 573.7h3.6v3.6h-3.6z" stroke="#222" stroke-width="0.8" fill="none"/>
<path d="M335.2 585.4a2.9 2.9 0 1 0 5.8 0a2.9 2.9 0 1 0 -5.8 0z" stroke="#ff6060" stroke-width="0.8" fill="none"/>
<path d="M338.1 592.2L340.4 596.3L335.8 596.3z" stroke="#a0a0a0" stroke-width="0.8" fill="none"/>
<path d="M338.1 600.6L340.9 603.4L338.1 606.2L335.3 603.4z" stroke="#ffa040" stroke-width="0.8" fill="none"/>
<path d="M338.1 614.8L340.6 610.2L335.6 610.2z" stroke="#ff40ff" stroke-width="0.8" fill="none"/>
<path d="M335.5 620.6h5.2M338.1 618v5.2" stroke="#00a000" stroke-width="1.3" fill="none"/>
<text x="371.6" y="578.9" class="ls" fill="#000">Q</text>
<text x="371.6" y="588.8" class="ls" fill="#ff0000">M</text>
<text x="341.3" y="597.1" fill="#a0a0a0" font-size="6.6" font-family='"Liberation Mono", monospace'>10<tspan font-size="4.6" dy="-2.6">2</tspan><tspan dy="2.6">&#8202;</tspan>(1-<tspan font-style="italic">γ</tspan>) (<tspan font-style="italic">P</tspan>-<tspan font-style="italic">W</tspan>)</text>
<text x="371.6" y="606.8" class="ls" fill="#ff8000">G</text>
<text x="371.6" y="615.4" class="ls" fill="#ff00ff">U</text>
<text x="371.6" y="623.8" text-anchor="middle" fill="#00aa00" font-size="8.8" font-family='"Liberation Mono", monospace' font-weight="bold">10<tspan font-size="6" dy="-3.6" font-family='"Liberation Sans", sans-serif' font-weight="normal">5</tspan><tspan dy="3.6" font-family='"Liberation Serif", serif' font-style="italic" font-weight="normal" fill="#50b050">π</tspan></text>
<text x="529" y="577.5" text-anchor="middle" class="t" textLength="8" lengthAdjust="spacingAndGlyphs">e2</text>
<path d="M3.6 4.6H546.5V704.4H3.6z M271.4 4.6V704.4 M3.6 146.6H546.5 M3.6 286.4H546.5 M3.6 423.5H546.5 M3.6 562.5H546.5" stroke="#424242" stroke-width="1.4" fill="none"/>
</svg>
</body></html>
